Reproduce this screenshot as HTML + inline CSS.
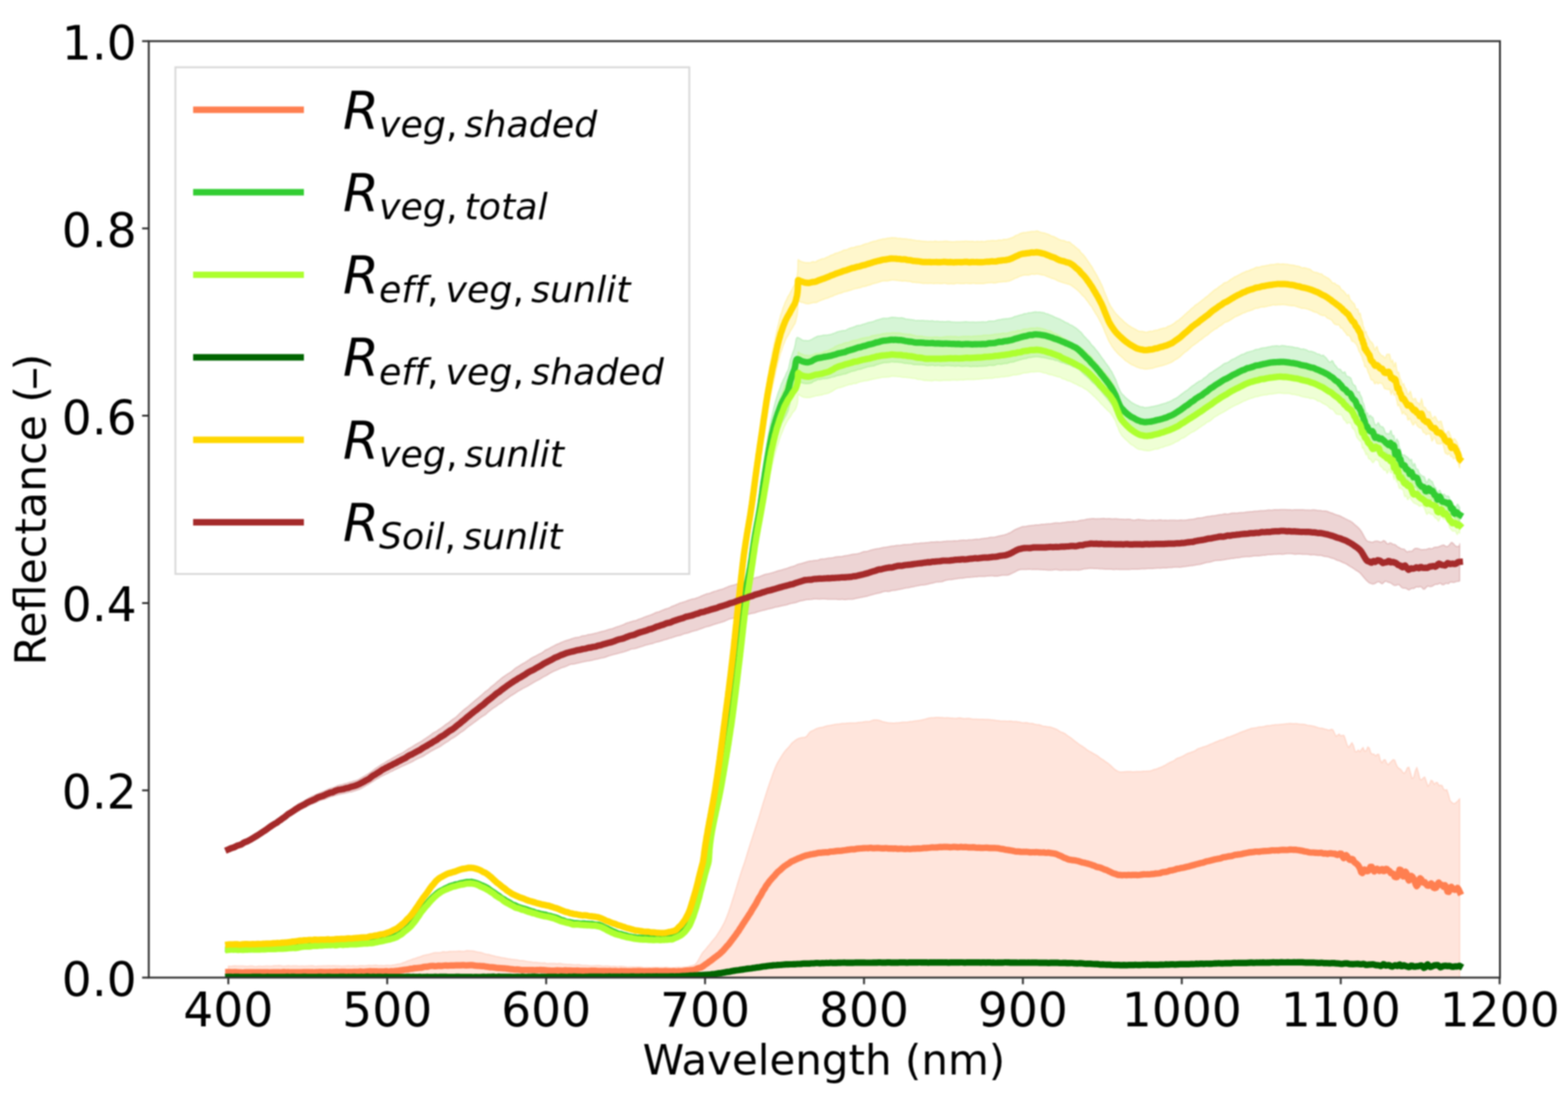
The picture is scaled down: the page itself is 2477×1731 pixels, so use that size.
<!DOCTYPE html>
<html><head><meta charset="utf-8"><title>Reflectance plot</title>
<style>html,body{margin:0;padding:0;background:#fff;} svg{display:block;filter:blur(1px);}</style>
</head><body>
<svg width="2477" height="1731" viewBox="0 0 2477 1731">
<rect x="0" y="0" width="2477" height="1731" fill="#ffffff"/>
<defs><clipPath id="ax"><rect x="235.0" y="65.0" width="2134.5" height="1479.0"/></clipPath></defs>
<g clip-path="url(#ax)">
<path d="M360.7,1525.8 363.2,1526.0 365.7,1525.9 368.2,1525.5 370.7,1525.2 373.2,1525.4 375.7,1525.6 378.2,1525.5 380.7,1525.4 383.2,1525.5 385.7,1525.7 388.2,1525.9 390.7,1525.9 393.2,1525.7 395.7,1525.4 398.2,1525.4 400.7,1526.0 403.2,1526.5 405.7,1526.2 408.2,1525.7 410.7,1525.8 413.2,1526.1 415.7,1525.9 418.2,1525.7 420.7,1525.6 423.2,1525.6 425.7,1525.7 428.2,1525.7 430.7,1525.4 433.2,1525.0 435.7,1525.0 438.2,1525.0 440.7,1524.8 443.2,1525.0 445.7,1525.4 448.2,1525.7 450.7,1525.8 453.2,1525.2 455.7,1525.1 458.2,1525.4 460.7,1525.4 463.2,1525.3 465.7,1525.2 468.2,1525.3 470.7,1525.6 473.2,1525.8 475.7,1525.6 478.2,1525.6 480.7,1525.7 483.2,1525.6 485.7,1525.4 488.2,1525.3 490.7,1525.2 493.2,1525.1 495.7,1525.4 498.2,1525.9 500.7,1525.8 503.2,1525.4 505.7,1525.4 508.2,1525.4 510.7,1525.2 513.2,1525.3 515.7,1525.3 518.2,1525.0 520.7,1525.1 523.2,1525.2 525.7,1524.9 528.2,1524.9 530.7,1525.2 533.2,1525.2 535.7,1525.3 538.2,1525.7 540.7,1525.7 543.2,1525.5 545.7,1525.4 548.2,1525.2 550.7,1525.1 553.2,1525.5 555.7,1525.4 558.2,1525.1 560.7,1525.5 563.2,1525.8 565.7,1525.4 568.2,1524.9 570.7,1524.9 573.2,1525.0 575.7,1525.2 578.2,1525.1 580.7,1524.8 583.2,1524.6 585.7,1524.8 588.2,1524.7 590.7,1524.4 593.2,1524.3 595.7,1524.6 598.2,1524.9 600.7,1524.8 603.2,1524.7 605.7,1524.9 608.2,1524.8 610.7,1524.5 613.2,1524.6 615.7,1524.8 618.2,1524.5 620.7,1524.0 623.2,1523.8 625.7,1523.3 628.2,1522.6 630.7,1522.5 633.2,1521.9 635.7,1520.8 638.2,1520.0 640.7,1519.1 643.2,1517.8 645.7,1516.9 648.2,1516.3 650.7,1515.3 653.2,1514.2 655.7,1513.6 658.2,1512.8 660.7,1511.8 663.2,1511.3 665.7,1510.3 668.2,1509.1 670.7,1508.5 673.2,1508.1 675.7,1507.6 678.2,1507.0 680.7,1506.2 683.2,1505.4 685.7,1504.8 688.2,1504.5 690.7,1504.4 693.2,1504.6 695.7,1504.4 698.2,1503.6 700.7,1503.1 703.2,1503.4 705.7,1503.5 708.2,1503.0 710.7,1502.6 713.2,1502.7 715.7,1502.5 718.2,1502.4 720.7,1502.5 723.2,1502.3 725.7,1502.1 728.2,1502.3 730.7,1502.5 733.2,1502.4 735.7,1501.7 738.2,1501.3 740.7,1501.4 743.2,1501.6 745.7,1501.7 748.2,1502.0 750.7,1502.6 753.2,1503.3 755.7,1503.7 758.2,1503.9 760.7,1504.4 763.2,1505.4 765.7,1506.4 768.2,1506.9 770.7,1507.2 773.2,1507.8 775.7,1508.5 778.2,1509.1 780.7,1509.7 783.2,1510.5 785.7,1510.9 788.2,1511.3 790.7,1512.1 793.2,1512.6 795.7,1512.7 798.2,1513.2 800.7,1513.8 803.2,1514.2 805.7,1514.5 808.2,1514.9 810.7,1515.2 813.2,1515.5 815.7,1515.7 818.2,1516.2 820.7,1516.9 823.2,1516.9 825.7,1517.0 828.2,1517.5 830.7,1518.0 833.2,1518.4 835.7,1518.7 838.2,1518.9 840.7,1519.5 843.2,1519.9 845.7,1519.7 848.2,1519.9 850.7,1520.3 853.2,1520.4 855.7,1520.7 858.2,1520.7 860.7,1520.6 863.2,1521.4 865.7,1521.8 868.2,1521.6 870.7,1521.4 873.2,1521.5 875.7,1521.6 878.2,1521.8 880.7,1522.0 883.2,1521.6 885.7,1521.5 888.2,1522.2 890.7,1522.6 893.2,1522.7 895.7,1522.9 898.2,1523.0 900.7,1523.1 903.2,1523.3 905.7,1523.6 908.2,1523.7 910.7,1523.6 913.2,1523.4 915.7,1523.6 918.2,1524.2 920.7,1524.5 923.2,1524.5 925.7,1524.4 928.2,1524.7 930.7,1525.1 933.2,1525.2 935.7,1525.2 938.2,1525.1 940.7,1524.9 943.2,1524.8 945.7,1524.8 948.2,1524.9 950.7,1525.5 953.2,1525.7 955.7,1525.6 958.2,1525.5 960.7,1525.6 963.2,1525.9 965.7,1526.3 968.2,1526.3 970.7,1526.0 973.2,1526.3 975.7,1526.5 978.2,1526.2 980.7,1526.0 983.2,1526.2 985.7,1526.4 988.2,1526.8 990.7,1527.2 993.2,1527.3 995.7,1527.1 998.2,1527.0 1000.7,1527.1 1003.2,1527.2 1005.7,1527.1 1008.2,1527.0 1010.7,1527.0 1013.2,1527.3 1015.7,1527.7 1018.2,1528.0 1020.7,1527.8 1023.2,1527.7 1025.7,1528.0 1028.2,1528.0 1030.7,1527.8 1033.2,1527.7 1035.7,1527.7 1038.2,1527.7 1040.7,1527.8 1043.2,1527.8 1045.7,1527.8 1048.2,1527.9 1050.7,1527.6 1053.2,1527.4 1055.7,1527.7 1058.2,1528.2 1060.7,1528.3 1063.2,1528.2 1065.7,1528.0 1068.2,1527.7 1070.7,1527.4 1073.2,1527.5 1075.7,1527.7 1078.2,1527.6 1080.7,1527.3 1083.2,1527.1 1085.7,1526.9 1088.2,1526.2 1090.7,1525.5 1093.2,1524.9 1095.7,1524.3 1098.2,1523.1 1100.7,1520.2 1103.2,1516.3 1105.7,1511.8 1108.2,1507.1 1110.7,1503.5 1113.2,1500.9 1115.7,1497.9 1118.2,1494.7 1120.7,1491.9 1123.2,1488.7 1125.7,1485.4 1128.2,1482.7 1130.7,1479.7 1133.2,1475.8 1135.7,1471.9 1138.2,1467.9 1140.7,1463.6 1143.2,1459.1 1145.7,1453.8 1148.2,1447.6 1150.7,1440.9 1153.2,1433.7 1155.7,1425.9 1158.2,1418.1 1160.7,1410.3 1163.2,1402.0 1165.7,1393.6 1168.2,1385.7 1170.7,1377.8 1173.2,1370.4 1175.7,1363.3 1178.2,1355.5 1180.7,1347.1 1183.2,1339.0 1185.7,1331.3 1188.2,1323.5 1190.7,1315.8 1193.2,1308.1 1195.7,1300.4 1198.2,1292.8 1200.7,1284.5 1203.2,1276.0 1205.7,1267.8 1208.2,1260.0 1210.7,1252.0 1213.2,1244.2 1215.7,1236.9 1218.2,1229.9 1220.7,1222.6 1223.2,1215.9 1225.7,1209.9 1228.2,1204.7 1230.7,1200.5 1233.2,1196.5 1235.7,1192.4 1238.2,1188.7 1240.7,1185.5 1243.2,1182.8 1245.7,1180.2 1248.2,1177.0 1250.7,1173.8 1253.2,1171.7 1255.7,1169.8 1258.2,1167.9 1260.7,1166.6 1263.2,1165.8 1265.7,1165.1 1268.2,1164.8 1270.7,1164.6 1273.2,1163.8 1275.7,1161.0 1278.2,1157.4 1280.7,1155.1 1283.2,1154.1 1285.7,1152.9 1288.2,1151.5 1290.7,1150.4 1293.2,1149.6 1295.7,1149.0 1298.2,1148.8 1300.7,1148.2 1303.2,1147.3 1305.7,1146.6 1308.2,1146.1 1310.7,1145.7 1313.2,1145.2 1315.7,1144.8 1318.2,1144.2 1320.7,1143.7 1323.2,1143.6 1325.7,1143.4 1328.2,1142.9 1330.7,1142.6 1333.2,1142.5 1335.7,1142.4 1338.2,1142.1 1340.7,1142.0 1343.2,1141.8 1345.7,1141.7 1348.2,1141.8 1350.7,1141.8 1353.2,1141.4 1355.7,1140.9 1358.2,1140.7 1360.7,1140.6 1363.2,1140.3 1365.7,1139.8 1368.2,1139.6 1370.7,1139.6 1373.2,1139.5 1375.7,1138.7 1378.2,1137.6 1380.7,1137.0 1383.2,1136.9 1385.7,1137.0 1388.2,1137.5 1390.7,1138.3 1393.2,1139.3 1395.7,1140.1 1398.2,1140.5 1400.7,1141.0 1403.2,1141.5 1405.7,1141.7 1408.2,1141.7 1410.7,1141.9 1413.2,1141.9 1415.7,1141.6 1418.2,1141.5 1420.7,1141.3 1423.2,1140.9 1425.7,1140.6 1428.2,1140.5 1430.7,1140.6 1433.2,1140.5 1435.7,1139.9 1438.2,1139.4 1440.7,1139.4 1443.2,1139.0 1445.7,1138.5 1448.2,1138.3 1450.7,1137.9 1453.2,1137.6 1455.7,1137.2 1458.2,1136.5 1460.7,1135.9 1463.2,1135.3 1465.7,1134.5 1468.2,1133.9 1470.7,1133.5 1473.2,1133.5 1475.7,1133.4 1478.2,1133.1 1480.7,1133.0 1483.2,1133.0 1485.7,1133.2 1488.2,1133.3 1490.7,1133.6 1493.2,1133.8 1495.7,1133.5 1498.2,1133.5 1500.7,1133.9 1503.2,1134.0 1505.7,1134.2 1508.2,1134.4 1510.7,1134.4 1513.2,1134.0 1515.7,1133.7 1518.2,1134.0 1520.7,1134.6 1523.2,1134.9 1525.7,1134.7 1528.2,1134.6 1530.7,1134.6 1533.2,1134.9 1535.7,1135.5 1538.2,1135.7 1540.7,1135.7 1543.2,1135.7 1545.7,1135.9 1548.2,1136.1 1550.7,1136.0 1553.2,1136.1 1555.7,1136.3 1558.2,1136.3 1560.7,1136.2 1563.2,1136.4 1565.7,1136.8 1568.2,1136.9 1570.7,1137.2 1573.2,1137.7 1575.7,1137.9 1578.2,1138.2 1580.7,1138.8 1583.2,1138.8 1585.7,1138.7 1588.2,1138.7 1590.7,1138.9 1593.2,1139.1 1595.7,1138.8 1598.2,1139.0 1600.7,1139.6 1603.2,1139.4 1605.7,1139.4 1608.2,1139.9 1610.7,1140.3 1613.2,1140.9 1615.7,1141.6 1618.2,1141.5 1620.7,1141.2 1623.2,1141.6 1625.7,1142.3 1628.2,1142.5 1630.7,1142.5 1633.2,1143.2 1635.7,1144.1 1638.2,1144.4 1640.7,1144.5 1643.2,1145.0 1645.7,1146.1 1648.2,1146.9 1650.7,1147.0 1653.2,1147.4 1655.7,1147.9 1658.2,1148.0 1660.7,1148.6 1663.2,1149.6 1665.7,1150.5 1668.2,1151.4 1670.7,1152.7 1673.2,1154.4 1675.7,1155.9 1678.2,1156.8 1680.7,1157.7 1683.2,1159.3 1685.7,1161.2 1688.2,1163.0 1690.7,1164.5 1693.2,1166.5 1695.7,1168.5 1698.2,1170.5 1700.7,1172.4 1703.2,1174.3 1705.7,1176.2 1708.2,1177.7 1710.7,1179.2 1713.2,1181.0 1715.7,1183.0 1718.2,1184.8 1720.7,1186.4 1723.2,1187.6 1725.7,1189.1 1728.2,1190.6 1730.7,1191.9 1733.2,1193.3 1735.7,1195.3 1738.2,1197.3 1740.7,1198.8 1743.2,1200.4 1745.7,1202.4 1748.2,1204.1 1750.7,1205.7 1753.2,1207.7 1755.7,1210.0 1758.2,1212.5 1760.7,1214.8 1763.2,1216.6 1765.7,1217.9 1768.2,1218.9 1770.7,1219.3 1773.2,1219.2 1775.7,1219.0 1778.2,1218.8 1780.7,1218.6 1783.2,1218.5 1785.7,1218.5 1788.2,1218.8 1790.7,1218.9 1793.2,1218.7 1795.7,1218.6 1798.2,1218.6 1800.7,1218.6 1803.2,1218.4 1805.7,1218.1 1808.2,1218.1 1810.7,1217.9 1813.2,1217.8 1815.7,1217.8 1818.2,1217.3 1820.7,1216.2 1823.2,1215.2 1825.7,1214.7 1828.2,1214.0 1830.7,1212.8 1833.2,1212.0 1835.7,1210.9 1838.2,1209.6 1840.7,1208.5 1843.2,1206.9 1845.7,1205.4 1848.2,1204.1 1850.7,1202.9 1853.2,1202.0 1855.7,1200.5 1858.2,1198.3 1860.7,1197.1 1863.2,1196.5 1865.7,1195.4 1868.2,1194.3 1870.7,1193.0 1873.2,1191.4 1875.7,1190.1 1878.2,1189.3 1880.7,1188.5 1883.2,1187.5 1885.7,1186.6 1888.2,1185.4 1890.7,1183.6 1893.2,1182.2 1895.7,1181.4 1898.2,1180.6 1900.7,1179.7 1903.2,1178.9 1905.7,1178.2 1908.2,1177.2 1910.7,1176.0 1913.2,1174.9 1915.7,1173.9 1918.2,1172.8 1920.7,1171.8 1923.2,1170.8 1925.7,1169.6 1928.2,1168.8 1930.7,1168.2 1933.2,1167.5 1935.7,1166.2 1938.2,1164.8 1940.7,1164.1 1943.2,1163.4 1945.7,1162.5 1948.2,1161.5 1950.7,1160.5 1953.2,1159.5 1955.7,1158.4 1958.2,1157.2 1960.7,1156.2 1963.2,1155.3 1965.7,1154.5 1968.2,1153.5 1970.7,1152.5 1973.2,1151.7 1975.7,1150.8 1978.2,1149.9 1980.7,1149.8 1983.2,1149.6 1985.7,1148.9 1988.2,1148.3 1990.7,1148.1 1993.2,1147.9 1995.7,1147.5 1998.2,1147.0 2000.7,1146.3 2003.2,1146.1 2005.7,1146.1 2008.2,1145.4 2010.7,1144.9 2013.2,1144.8 2015.7,1144.6 2018.2,1144.4 2020.7,1144.2 2023.2,1144.0 2025.7,1143.8 2028.2,1143.6 2030.7,1143.3 2033.2,1143.0 2035.7,1142.7 2038.2,1142.6 2040.7,1142.8 2043.2,1143.0 2045.7,1142.8 2048.2,1142.7 2050.7,1143.2 2053.2,1143.6 2055.7,1143.7 2058.2,1143.7 2060.7,1143.9 2063.2,1144.7 2065.7,1145.4 2068.2,1145.7 2070.7,1146.0 2073.2,1146.4 2075.7,1147.0 2078.2,1147.8 2080.7,1148.6 2083.2,1149.4 2085.7,1150.0 2088.2,1150.0 2090.7,1150.7 2093.2,1151.6 2095.7,1151.9 2098.2,1153.1 2100.7,1153.0 2103.2,1151.7 2105.7,1152.7 2108.2,1157.9 2110.7,1163.1 2113.2,1160.9 2115.7,1159.3 2118.2,1162.4 2120.7,1161.2 2123.2,1161.4 2125.7,1168.6 2128.2,1176.7 2130.7,1180.4 2133.2,1176.6 2135.7,1172.8 2138.2,1177.8 2140.7,1186.7 2143.2,1187.2 2145.7,1184.4 2148.2,1187.3 2150.7,1183.6 2153.2,1180.4 2155.7,1186.5 2158.2,1185.8 2160.7,1179.6 2163.2,1181.6 2165.7,1189.4 2168.2,1191.1 2170.7,1191.1 2173.2,1194.2 2175.7,1191.3 2178.2,1191.3 2180.7,1200.9 2183.2,1204.7 2185.7,1200.3 2188.2,1199.7 2190.7,1205.5 2193.2,1207.9 2195.7,1204.4 2198.2,1202.2 2200.7,1199.6 2203.2,1200.4 2205.7,1207.3 2208.2,1212.1 2210.7,1213.8 2213.2,1215.6 2215.7,1219.2 2218.2,1221.4 2220.7,1218.5 2223.2,1212.5 2225.7,1211.6 2228.2,1220.2 2230.7,1229.5 2233.2,1227.7 2235.7,1217.7 2238.2,1211.9 2240.7,1220.2 2243.2,1230.7 2245.7,1231.6 2248.2,1228.7 2250.7,1227.0 2253.2,1234.1 2255.7,1241.8 2258.2,1238.7 2260.7,1232.2 2263.2,1233.8 2265.7,1238.9 2268.2,1235.9 2270.7,1235.7 2273.2,1240.7 2275.7,1240.0 2278.2,1240.7 2280.7,1246.7 2283.2,1248.0 2285.7,1247.3 2288.2,1255.1 2290.7,1264.2 2293.2,1267.1 2295.7,1269.0 2298.2,1269.1 2300.7,1267.0 2303.2,1264.7 2305.7,1261.5 2306.0,1261.4 L2306.0,1550.0 2305.7,1550.0 2303.2,1550.0 2300.7,1550.0 2298.2,1550.0 2295.7,1550.0 2293.2,1550.0 2290.7,1550.0 2288.2,1550.0 2285.7,1550.0 2283.2,1550.0 2280.7,1550.0 2278.2,1550.0 2275.7,1550.0 2273.2,1550.0 2270.7,1550.0 2268.2,1550.0 2265.7,1550.0 2263.2,1550.0 2260.7,1550.0 2258.2,1550.0 2255.7,1550.0 2253.2,1550.0 2250.7,1550.0 2248.2,1550.0 2245.7,1550.0 2243.2,1550.0 2240.7,1550.0 2238.2,1550.0 2235.7,1550.0 2233.2,1550.0 2230.7,1550.0 2228.2,1550.0 2225.7,1550.0 2223.2,1550.0 2220.7,1550.0 2218.2,1550.0 2215.7,1550.0 2213.2,1550.0 2210.7,1550.0 2208.2,1550.0 2205.7,1550.0 2203.2,1550.0 2200.7,1550.0 2198.2,1550.0 2195.7,1550.0 2193.2,1550.0 2190.7,1550.0 2188.2,1550.0 2185.7,1550.0 2183.2,1550.0 2180.7,1550.0 2178.2,1550.0 2175.7,1550.0 2173.2,1550.0 2170.7,1550.0 2168.2,1550.0 2165.7,1550.0 2163.2,1550.0 2160.7,1550.0 2158.2,1550.0 2155.7,1550.0 2153.2,1550.0 2150.7,1550.0 2148.2,1550.0 2145.7,1550.0 2143.2,1550.0 2140.7,1550.0 2138.2,1550.0 2135.7,1550.0 2133.2,1550.0 2130.7,1550.0 2128.2,1550.0 2125.7,1550.0 2123.2,1550.0 2120.7,1550.0 2118.2,1550.0 2115.7,1550.0 2113.2,1550.0 2110.7,1550.0 2108.2,1550.0 2105.7,1550.0 2103.2,1550.0 2100.7,1550.0 2098.2,1550.0 2095.7,1550.0 2093.2,1550.0 2090.7,1550.0 2088.2,1550.0 2085.7,1550.0 2083.2,1550.0 2080.7,1550.0 2078.2,1550.0 2075.7,1550.0 2073.2,1550.0 2070.7,1550.0 2068.2,1550.0 2065.7,1550.0 2063.2,1550.0 2060.7,1550.0 2058.2,1550.0 2055.7,1550.0 2053.2,1550.0 2050.7,1550.0 2048.2,1550.0 2045.7,1550.0 2043.2,1550.0 2040.7,1550.0 2038.2,1550.0 2035.7,1550.0 2033.2,1550.0 2030.7,1550.0 2028.2,1550.0 2025.7,1550.0 2023.2,1550.0 2020.7,1550.0 2018.2,1550.0 2015.7,1550.0 2013.2,1550.0 2010.7,1550.0 2008.2,1550.0 2005.7,1550.0 2003.2,1550.0 2000.7,1550.0 1998.2,1550.0 1995.7,1550.0 1993.2,1550.0 1990.7,1550.0 1988.2,1550.0 1985.7,1550.0 1983.2,1550.0 1980.7,1550.0 1978.2,1550.0 1975.7,1550.0 1973.2,1550.0 1970.7,1550.0 1968.2,1550.0 1965.7,1550.0 1963.2,1550.0 1960.7,1550.0 1958.2,1550.0 1955.7,1550.0 1953.2,1550.0 1950.7,1550.0 1948.2,1550.0 1945.7,1550.0 1943.2,1550.0 1940.7,1550.0 1938.2,1550.0 1935.7,1550.0 1933.2,1550.0 1930.7,1550.0 1928.2,1550.0 1925.7,1550.0 1923.2,1550.0 1920.7,1550.0 1918.2,1550.0 1915.7,1550.0 1913.2,1550.0 1910.7,1550.0 1908.2,1550.0 1905.7,1550.0 1903.2,1550.0 1900.7,1550.0 1898.2,1550.0 1895.7,1550.0 1893.2,1550.0 1890.7,1550.0 1888.2,1550.0 1885.7,1550.0 1883.2,1550.0 1880.7,1550.0 1878.2,1550.0 1875.7,1550.0 1873.2,1550.0 1870.7,1550.0 1868.2,1550.0 1865.7,1550.0 1863.2,1550.0 1860.7,1550.0 1858.2,1550.0 1855.7,1550.0 1853.2,1550.0 1850.7,1550.0 1848.2,1550.0 1845.7,1550.0 1843.2,1550.0 1840.7,1550.0 1838.2,1550.0 1835.7,1550.0 1833.2,1550.0 1830.7,1550.0 1828.2,1550.0 1825.7,1550.0 1823.2,1550.0 1820.7,1550.0 1818.2,1550.0 1815.7,1550.0 1813.2,1550.0 1810.7,1550.0 1808.2,1550.0 1805.7,1550.0 1803.2,1550.0 1800.7,1550.0 1798.2,1550.0 1795.7,1550.0 1793.2,1550.0 1790.7,1550.0 1788.2,1550.0 1785.7,1550.0 1783.2,1550.0 1780.7,1550.0 1778.2,1550.0 1775.7,1550.0 1773.2,1550.0 1770.7,1550.0 1768.2,1550.0 1765.7,1550.0 1763.2,1550.0 1760.7,1550.0 1758.2,1550.0 1755.7,1550.0 1753.2,1550.0 1750.7,1550.0 1748.2,1550.0 1745.7,1550.0 1743.2,1550.0 1740.7,1550.0 1738.2,1550.0 1735.7,1550.0 1733.2,1550.0 1730.7,1550.0 1728.2,1550.0 1725.7,1550.0 1723.2,1550.0 1720.7,1550.0 1718.2,1550.0 1715.7,1550.0 1713.2,1550.0 1710.7,1550.0 1708.2,1550.0 1705.7,1550.0 1703.2,1550.0 1700.7,1550.0 1698.2,1550.0 1695.7,1550.0 1693.2,1550.0 1690.7,1550.0 1688.2,1550.0 1685.7,1550.0 1683.2,1550.0 1680.7,1550.0 1678.2,1550.0 1675.7,1550.0 1673.2,1550.0 1670.7,1550.0 1668.2,1550.0 1665.7,1550.0 1663.2,1550.0 1660.7,1550.0 1658.2,1550.0 1655.7,1550.0 1653.2,1550.0 1650.7,1550.0 1648.2,1550.0 1645.7,1550.0 1643.2,1550.0 1640.7,1550.0 1638.2,1550.0 1635.7,1550.0 1633.2,1550.0 1630.7,1550.0 1628.2,1550.0 1625.7,1550.0 1623.2,1550.0 1620.7,1550.0 1618.2,1550.0 1615.7,1550.0 1613.2,1550.0 1610.7,1550.0 1608.2,1550.0 1605.7,1550.0 1603.2,1550.0 1600.7,1550.0 1598.2,1550.0 1595.7,1550.0 1593.2,1550.0 1590.7,1550.0 1588.2,1550.0 1585.7,1550.0 1583.2,1550.0 1580.7,1550.0 1578.2,1550.0 1575.7,1550.0 1573.2,1550.0 1570.7,1550.0 1568.2,1550.0 1565.7,1550.0 1563.2,1550.0 1560.7,1550.0 1558.2,1550.0 1555.7,1550.0 1553.2,1550.0 1550.7,1550.0 1548.2,1550.0 1545.7,1550.0 1543.2,1550.0 1540.7,1550.0 1538.2,1550.0 1535.7,1550.0 1533.2,1550.0 1530.7,1550.0 1528.2,1550.0 1525.7,1550.0 1523.2,1550.0 1520.7,1550.0 1518.2,1550.0 1515.7,1550.0 1513.2,1550.0 1510.7,1550.0 1508.2,1550.0 1505.7,1550.0 1503.2,1550.0 1500.7,1550.0 1498.2,1550.0 1495.7,1550.0 1493.2,1550.0 1490.7,1550.0 1488.2,1550.0 1485.7,1550.0 1483.2,1550.0 1480.7,1550.0 1478.2,1550.0 1475.7,1550.0 1473.2,1550.0 1470.7,1550.0 1468.2,1550.0 1465.7,1550.0 1463.2,1550.0 1460.7,1550.0 1458.2,1550.0 1455.7,1550.0 1453.2,1550.0 1450.7,1550.0 1448.2,1550.0 1445.7,1550.0 1443.2,1550.0 1440.7,1550.0 1438.2,1550.0 1435.7,1550.0 1433.2,1550.0 1430.7,1550.0 1428.2,1550.0 1425.7,1550.0 1423.2,1550.0 1420.7,1550.0 1418.2,1550.0 1415.7,1550.0 1413.2,1550.0 1410.7,1550.0 1408.2,1550.0 1405.7,1550.0 1403.2,1550.0 1400.7,1550.0 1398.2,1550.0 1395.7,1550.0 1393.2,1550.0 1390.7,1550.0 1388.2,1550.0 1385.7,1550.0 1383.2,1550.0 1380.7,1550.0 1378.2,1550.0 1375.7,1550.0 1373.2,1550.0 1370.7,1550.0 1368.2,1550.0 1365.7,1550.0 1363.2,1550.0 1360.7,1550.0 1358.2,1550.0 1355.7,1550.0 1353.2,1550.0 1350.7,1550.0 1348.2,1550.0 1345.7,1550.0 1343.2,1550.0 1340.7,1550.0 1338.2,1550.0 1335.7,1550.0 1333.2,1550.0 1330.7,1550.0 1328.2,1550.0 1325.7,1550.0 1323.2,1550.0 1320.7,1550.0 1318.2,1550.0 1315.7,1550.0 1313.2,1550.0 1310.7,1550.0 1308.2,1550.0 1305.7,1550.0 1303.2,1550.0 1300.7,1550.0 1298.2,1550.0 1295.7,1550.0 1293.2,1550.0 1290.7,1550.0 1288.2,1550.0 1285.7,1550.0 1283.2,1550.0 1280.7,1550.0 1278.2,1550.0 1275.7,1550.0 1273.2,1550.0 1270.7,1550.0 1268.2,1550.0 1265.7,1550.0 1263.2,1550.0 1260.7,1550.0 1258.2,1550.0 1255.7,1550.0 1253.2,1550.0 1250.7,1550.0 1248.2,1550.0 1245.7,1550.0 1243.2,1550.0 1240.7,1550.0 1238.2,1550.0 1235.7,1550.0 1233.2,1550.0 1230.7,1550.0 1228.2,1550.0 1225.7,1550.0 1223.2,1550.0 1220.7,1550.0 1218.2,1550.0 1215.7,1550.0 1213.2,1550.0 1210.7,1550.0 1208.2,1550.0 1205.7,1550.0 1203.2,1550.0 1200.7,1550.0 1198.2,1550.0 1195.7,1550.0 1193.2,1550.0 1190.7,1550.0 1188.2,1550.0 1185.7,1550.0 1183.2,1550.0 1180.7,1550.0 1178.2,1550.0 1175.7,1550.0 1173.2,1550.0 1170.7,1550.0 1168.2,1550.0 1165.7,1550.0 1163.2,1550.0 1160.7,1550.0 1158.2,1550.0 1155.7,1550.0 1153.2,1550.0 1150.7,1550.0 1148.2,1550.0 1145.7,1550.0 1143.2,1550.0 1140.7,1550.0 1138.2,1550.0 1135.7,1550.0 1133.2,1550.0 1130.7,1550.0 1128.2,1550.0 1125.7,1550.0 1123.2,1550.0 1120.7,1550.0 1118.2,1550.0 1115.7,1550.0 1113.2,1550.0 1110.7,1550.0 1108.2,1550.0 1105.7,1550.0 1103.2,1550.0 1100.7,1550.0 1098.2,1550.0 1095.7,1550.0 1093.2,1550.0 1090.7,1550.0 1088.2,1550.0 1085.7,1550.0 1083.2,1550.0 1080.7,1550.0 1078.2,1550.0 1075.7,1550.0 1073.2,1550.0 1070.7,1550.0 1068.2,1550.0 1065.7,1550.0 1063.2,1550.0 1060.7,1550.0 1058.2,1550.0 1055.7,1550.0 1053.2,1550.0 1050.7,1550.0 1048.2,1550.0 1045.7,1550.0 1043.2,1550.0 1040.7,1550.0 1038.2,1550.0 1035.7,1550.0 1033.2,1550.0 1030.7,1550.0 1028.2,1550.0 1025.7,1550.0 1023.2,1550.0 1020.7,1550.0 1018.2,1550.0 1015.7,1550.0 1013.2,1550.0 1010.7,1550.0 1008.2,1550.0 1005.7,1550.0 1003.2,1550.0 1000.7,1550.0 998.2,1550.0 995.7,1550.0 993.2,1550.0 990.7,1550.0 988.2,1550.0 985.7,1550.0 983.2,1550.0 980.7,1550.0 978.2,1550.0 975.7,1550.0 973.2,1550.0 970.7,1550.0 968.2,1550.0 965.7,1550.0 963.2,1550.0 960.7,1550.0 958.2,1550.0 955.7,1550.0 953.2,1550.0 950.7,1550.0 948.2,1550.0 945.7,1550.0 943.2,1550.0 940.7,1550.0 938.2,1550.0 935.7,1550.0 933.2,1550.0 930.7,1550.0 928.2,1550.0 925.7,1550.0 923.2,1550.0 920.7,1550.0 918.2,1550.0 915.7,1550.0 913.2,1550.0 910.7,1550.0 908.2,1550.0 905.7,1550.0 903.2,1550.0 900.7,1550.0 898.2,1550.0 895.7,1550.0 893.2,1550.0 890.7,1550.0 888.2,1550.0 885.7,1550.0 883.2,1550.0 880.7,1550.0 878.2,1550.0 875.7,1550.0 873.2,1550.0 870.7,1550.0 868.2,1550.0 865.7,1550.0 863.2,1550.0 860.7,1550.0 858.2,1550.0 855.7,1550.0 853.2,1550.0 850.7,1550.0 848.2,1550.0 845.7,1550.0 843.2,1550.0 840.7,1550.0 838.2,1550.0 835.7,1550.0 833.2,1550.0 830.7,1550.0 828.2,1550.0 825.7,1550.0 823.2,1550.0 820.7,1550.0 818.2,1550.0 815.7,1550.0 813.2,1550.0 810.7,1550.0 808.2,1550.0 805.7,1550.0 803.2,1550.0 800.7,1550.0 798.2,1550.0 795.7,1550.0 793.2,1550.0 790.7,1550.0 788.2,1550.0 785.7,1550.0 783.2,1550.0 780.7,1550.0 778.2,1550.0 775.7,1550.0 773.2,1550.0 770.7,1550.0 768.2,1550.0 765.7,1550.0 763.2,1550.0 760.7,1550.0 758.2,1550.0 755.7,1550.0 753.2,1550.0 750.7,1550.0 748.2,1550.0 745.7,1550.0 743.2,1550.0 740.7,1550.0 738.2,1550.0 735.7,1550.0 733.2,1550.0 730.7,1550.0 728.2,1550.0 725.7,1550.0 723.2,1550.0 720.7,1550.0 718.2,1550.0 715.7,1550.0 713.2,1550.0 710.7,1550.0 708.2,1550.0 705.7,1550.0 703.2,1550.0 700.7,1550.0 698.2,1550.0 695.7,1550.0 693.2,1550.0 690.7,1550.0 688.2,1550.0 685.7,1550.0 683.2,1550.0 680.7,1550.0 678.2,1550.0 675.7,1550.0 673.2,1550.0 670.7,1550.0 668.2,1550.0 665.7,1550.0 663.2,1550.0 660.7,1550.0 658.2,1550.0 655.7,1550.0 653.2,1550.0 650.7,1550.0 648.2,1550.0 645.7,1550.0 643.2,1550.0 640.7,1550.0 638.2,1550.0 635.7,1550.0 633.2,1550.0 630.7,1550.0 628.2,1550.0 625.7,1550.0 623.2,1550.0 620.7,1550.0 618.2,1550.0 615.7,1550.0 613.2,1550.0 610.7,1550.0 608.2,1550.0 605.7,1550.0 603.2,1550.0 600.7,1550.0 598.2,1550.0 595.7,1550.0 593.2,1550.0 590.7,1550.0 588.2,1550.0 585.7,1550.0 583.2,1550.0 580.7,1550.0 578.2,1550.0 575.7,1550.0 573.2,1550.0 570.7,1550.0 568.2,1550.0 565.7,1550.0 563.2,1550.0 560.7,1550.0 558.2,1550.0 555.7,1550.0 553.2,1550.0 550.7,1550.0 548.2,1550.0 545.7,1550.0 543.2,1550.0 540.7,1550.0 538.2,1550.0 535.7,1550.0 533.2,1550.0 530.7,1550.0 528.2,1550.0 525.7,1550.0 523.2,1550.0 520.7,1550.0 518.2,1550.0 515.7,1550.0 513.2,1550.0 510.7,1550.0 508.2,1550.0 505.7,1550.0 503.2,1550.0 500.7,1550.0 498.2,1550.0 495.7,1550.0 493.2,1550.0 490.7,1550.0 488.2,1550.0 485.7,1550.0 483.2,1550.0 480.7,1550.0 478.2,1550.0 475.7,1550.0 473.2,1550.0 470.7,1550.0 468.2,1550.0 465.7,1550.0 463.2,1550.0 460.7,1550.0 458.2,1550.0 455.7,1550.0 453.2,1550.0 450.7,1550.0 448.2,1550.0 445.7,1550.0 443.2,1550.0 440.7,1550.0 438.2,1550.0 435.7,1550.0 433.2,1550.0 430.7,1550.0 428.2,1550.0 425.7,1550.0 423.2,1550.0 420.7,1550.0 418.2,1550.0 415.7,1550.0 413.2,1550.0 410.7,1550.0 408.2,1550.0 405.7,1550.0 403.2,1550.0 400.7,1550.0 398.2,1550.0 395.7,1550.0 393.2,1550.0 390.7,1550.0 388.2,1550.0 385.7,1550.0 383.2,1550.0 380.7,1550.0 378.2,1550.0 375.7,1550.0 373.2,1550.0 370.7,1550.0 368.2,1550.0 365.7,1550.0 363.2,1550.0 360.7,1550.0Z" fill="#ff7f50" fill-opacity="0.2" stroke="#ff7f50" stroke-opacity="0.2" stroke-width="2.0" stroke-linejoin="round"/>
<path d="M360.7,1498.3 362.7,1497.9 364.7,1497.9 366.7,1498.3 368.7,1498.7 370.7,1498.6 372.7,1498.2 374.7,1498.3 376.7,1498.4 378.7,1498.1 380.7,1498.3 382.7,1498.6 384.7,1498.7 386.7,1498.6 388.7,1498.4 390.7,1498.4 392.7,1498.9 394.7,1499.2 396.7,1499.2 398.7,1498.8 400.7,1498.3 402.7,1497.7 404.7,1497.8 406.7,1498.3 408.7,1498.4 410.7,1498.2 412.7,1498.0 414.7,1498.2 416.7,1498.2 418.7,1497.8 420.7,1497.6 422.7,1497.6 424.7,1497.6 426.7,1497.8 428.7,1497.9 430.7,1497.8 432.7,1497.6 434.7,1497.3 436.7,1497.1 438.7,1497.0 440.7,1497.0 442.7,1496.9 444.7,1497.0 446.7,1497.4 448.7,1497.5 450.7,1497.4 452.7,1497.2 454.7,1496.7 456.7,1496.2 458.6,1496.4 460.6,1496.7 462.6,1496.1 464.6,1495.2 466.6,1495.1 468.6,1495.1 470.6,1494.7 472.6,1494.6 474.6,1494.6 476.6,1494.4 478.6,1493.7 480.5,1493.3 482.5,1493.4 484.5,1493.5 486.5,1493.3 488.5,1492.8 490.5,1492.8 492.5,1492.9 494.5,1492.6 496.5,1492.5 498.5,1492.7 500.5,1492.9 502.5,1493.0 504.5,1492.9 506.5,1492.6 508.5,1492.4 510.5,1492.0 512.5,1491.9 514.5,1492.2 516.5,1492.0 518.5,1491.6 520.5,1491.5 522.5,1491.8 524.5,1491.6 526.5,1491.0 528.5,1491.1 530.5,1491.3 532.5,1491.2 534.5,1491.2 536.5,1490.8 538.5,1489.9 540.5,1489.8 542.5,1490.4 544.5,1490.4 546.5,1490.2 548.5,1490.3 550.5,1490.2 552.5,1490.0 554.5,1489.8 556.5,1490.0 558.5,1490.2 560.5,1490.0 562.5,1489.6 564.5,1489.3 566.5,1489.0 568.5,1488.9 570.5,1489.1 572.5,1489.1 574.5,1488.9 576.4,1488.7 578.4,1488.1 580.4,1487.8 582.4,1488.0 584.4,1488.4 586.3,1488.5 588.3,1488.0 590.3,1487.6 592.3,1487.2 594.2,1486.7 596.2,1486.2 598.1,1485.6 600.1,1484.8 602.1,1484.1 604.0,1483.7 606.0,1483.5 608.0,1483.4 610.0,1482.9 612.0,1482.1 613.9,1481.7 615.9,1481.2 617.8,1480.7 619.7,1480.7 621.5,1479.8 623.3,1478.3 625.1,1477.4 626.8,1477.1 628.6,1476.4 630.3,1475.3 632.0,1474.0 633.7,1472.9 635.4,1472.0 637.0,1471.1 638.6,1470.4 640.2,1469.1 641.8,1467.1 643.3,1465.1 644.8,1463.9 646.2,1462.6 647.6,1461.2 649.0,1460.0 650.3,1458.4 651.6,1456.6 652.9,1455.2 654.1,1453.8 655.3,1451.8 656.5,1450.2 657.6,1448.5 658.8,1446.9 660.0,1445.4 661.1,1443.5 662.3,1441.8 663.4,1440.3 664.6,1438.6 665.8,1436.9 667.0,1435.1 668.3,1433.4 669.5,1432.0 670.8,1430.9 672.1,1429.2 673.5,1427.3 674.8,1425.9 676.1,1424.6 677.4,1422.7 678.8,1421.0 680.2,1419.7 681.5,1418.2 682.9,1416.6 684.3,1415.6 685.8,1414.1 687.2,1412.6 688.7,1411.3 690.2,1410.1 691.8,1409.2 693.3,1408.4 694.9,1406.9 696.6,1405.3 698.3,1404.8 700.0,1404.2 701.8,1403.0 703.7,1402.2 705.5,1401.2 707.4,1400.1 709.3,1399.1 711.2,1398.1 713.1,1397.2 715.0,1397.0 716.9,1397.0 718.8,1396.6 720.7,1396.0 722.7,1395.8 724.6,1395.5 726.6,1394.6 728.6,1393.9 730.6,1393.4 732.6,1392.8 734.6,1392.0 736.5,1391.5 738.5,1391.5 740.5,1391.8 742.4,1392.1 744.4,1391.6 746.3,1391.7 748.3,1392.2 750.2,1392.7 752.1,1393.7 754.1,1394.9 756.0,1395.6 757.9,1396.2 759.7,1396.7 761.6,1397.3 763.4,1398.0 765.2,1398.6 767.0,1399.4 768.7,1400.6 770.4,1401.5 772.1,1402.5 773.7,1404.1 775.4,1405.5 777.0,1406.5 778.7,1407.5 780.3,1408.4 781.9,1409.5 783.6,1411.1 785.2,1412.4 786.9,1413.3 788.6,1414.4 790.3,1415.7 792.0,1416.9 793.7,1417.9 795.3,1419.0 797.0,1420.2 798.7,1421.5 800.4,1422.7 802.1,1423.6 803.9,1424.3 805.6,1425.0 807.3,1426.0 809.1,1427.4 810.9,1428.2 812.7,1428.5 814.5,1429.3 816.3,1430.1 818.2,1430.8 820.0,1431.7 821.9,1432.6 823.8,1433.4 825.7,1434.2 827.6,1434.5 829.5,1434.9 831.4,1435.8 833.4,1436.6 835.3,1437.1 837.2,1437.6 839.2,1438.2 841.1,1438.9 843.0,1439.7 844.9,1440.7 846.9,1441.2 848.8,1441.3 850.7,1441.6 852.7,1442.2 854.6,1442.6 856.5,1443.2 858.5,1443.6 860.4,1443.6 862.4,1443.9 864.3,1444.7 866.3,1445.3 868.2,1445.8 870.2,1446.3 872.1,1447.1 874.0,1447.8 875.9,1448.0 877.8,1448.3 879.7,1448.8 881.6,1449.6 883.5,1450.7 885.4,1451.6 887.3,1452.1 889.3,1452.5 891.2,1453.3 893.1,1454.4 895.0,1455.3 896.9,1455.5 898.8,1455.7 900.8,1456.1 902.7,1456.6 904.6,1457.0 906.6,1457.4 908.6,1457.7 910.5,1457.2 912.5,1457.1 914.5,1457.6 916.6,1457.8 918.6,1457.7 920.6,1457.6 922.6,1458.1 924.6,1458.2 926.7,1457.9 928.7,1457.7 930.7,1458.0 932.7,1458.6 934.7,1458.8 936.6,1459.0 938.6,1459.6 940.5,1459.9 942.5,1459.9 944.4,1460.0 946.3,1460.1 948.1,1460.5 950.0,1461.2 951.8,1462.4 953.7,1463.4 955.5,1463.9 957.3,1464.5 959.2,1465.4 961.0,1466.8 962.8,1467.9 964.7,1468.6 966.5,1469.6 968.3,1470.4 970.2,1470.9 972.1,1471.9 973.9,1472.9 975.8,1473.7 977.7,1474.3 979.7,1474.6 981.6,1474.9 983.5,1475.6 985.5,1476.1 987.4,1476.5 989.4,1477.1 991.3,1477.7 993.3,1478.1 995.3,1478.7 997.3,1479.4 999.2,1479.7 1001.2,1479.7 1003.2,1480.2 1005.2,1480.8 1007.2,1480.8 1009.1,1480.3 1011.1,1480.3 1013.1,1480.7 1015.1,1480.9 1017.1,1480.7 1019.1,1480.7 1021.1,1481.0 1023.1,1480.8 1025.1,1481.0 1027.1,1481.4 1029.1,1481.1 1031.1,1480.2 1033.1,1479.7 1035.1,1479.8 1037.1,1479.9 1039.1,1479.9 1041.1,1480.0 1043.1,1480.2 1045.1,1480.0 1047.1,1479.8 1049.1,1480.0 1051.1,1479.4 1053.1,1479.3 1055.1,1479.8 1057.1,1480.0 1059.1,1479.5 1061.0,1478.6 1063.0,1478.0 1064.9,1477.7 1066.8,1477.2 1068.6,1476.5 1070.4,1475.6 1072.2,1474.3 1074.0,1473.0 1075.7,1471.8 1077.3,1470.8 1078.9,1469.7 1080.4,1468.7 1081.7,1467.6 1083.0,1465.8 1084.3,1464.0 1085.5,1462.4 1086.7,1460.8 1087.8,1458.8 1088.8,1456.8 1089.7,1455.2 1090.6,1453.5 1091.5,1451.9 1092.3,1450.2 1093.0,1448.2 1093.7,1446.3 1094.4,1444.4 1095.1,1442.2 1095.8,1440.3 1096.5,1438.5 1097.1,1436.5 1097.7,1434.3 1098.4,1432.2 1099.0,1430.5 1099.5,1428.6 1100.1,1426.5 1100.7,1424.6 1101.3,1422.6 1101.8,1420.9 1102.3,1419.3 1102.9,1417.1 1103.4,1414.7 1104.0,1412.3 1104.5,1410.1 1105.0,1408.7 1105.5,1406.7 1106.0,1404.6 1106.5,1403.0 1107.0,1401.2 1107.5,1398.9 1107.9,1396.9 1108.4,1395.0 1108.9,1393.0 1109.4,1390.8 1109.8,1388.6 1110.3,1386.6 1110.8,1385.1 1111.3,1383.4 1111.8,1381.1 1112.3,1378.8 1112.7,1376.6 1113.1,1374.4 1113.5,1372.6 1113.9,1370.9 1114.2,1368.9 1114.5,1366.8 1114.8,1364.5 1115.0,1362.6 1115.2,1360.9 1115.4,1358.9 1115.6,1356.5 1115.8,1354.3 1115.9,1352.6 1116.1,1350.8 1116.3,1348.3 1116.4,1346.1 1116.6,1344.3 1116.8,1342.4 1117.0,1340.7 1117.2,1338.5 1117.4,1335.9 1117.6,1333.9 1117.9,1332.4 1118.1,1330.7 1118.4,1328.3 1118.7,1325.9 1119.0,1323.7 1119.2,1321.8 1119.6,1320.0 1119.9,1317.8 1120.2,1315.6 1120.5,1313.5 1120.8,1311.5 1121.2,1309.6 1121.5,1307.7 1121.9,1305.8 1122.2,1304.0 1122.6,1301.8 1123.0,1299.5 1123.3,1297.4 1123.7,1295.6 1124.1,1293.8 1124.5,1291.7 1124.8,1289.5 1125.2,1287.3 1125.6,1285.4 1126.0,1283.4 1126.4,1281.4 1126.8,1279.5 1127.2,1277.3 1127.6,1275.3 1128.0,1273.6 1128.4,1271.7 1128.8,1269.7 1129.2,1267.7 1129.6,1265.4 1130.0,1263.2 1130.4,1261.2 1130.8,1259.3 1131.1,1257.5 1131.5,1255.1 1131.9,1252.8 1132.3,1251.0 1132.7,1249.0 1133.0,1246.8 1133.4,1244.6 1133.7,1242.7 1134.1,1240.6 1134.4,1238.2 1134.8,1236.0 1135.1,1234.4 1135.4,1232.7 1135.8,1230.5 1136.1,1228.5 1136.4,1226.6 1136.7,1224.8 1137.1,1222.8 1137.4,1220.5 1137.7,1218.1 1138.0,1215.9 1138.3,1213.9 1138.6,1212.1 1139.0,1210.1 1139.3,1208.1 1139.6,1206.1 1139.9,1204.0 1140.2,1201.8 1140.5,1199.6 1140.8,1197.2 1141.1,1195.0 1141.4,1193.4 1141.7,1191.5 1142.0,1189.4 1142.3,1187.2 1142.6,1184.8 1142.9,1183.2 1143.2,1181.3 1143.5,1178.9 1143.8,1176.9 1144.1,1174.7 1144.4,1172.6 1144.7,1170.9 1145.0,1169.0 1145.3,1167.0 1145.6,1165.3 1145.9,1163.4 1146.2,1161.3 1146.4,1159.2 1146.7,1156.6 1147.0,1154.3 1147.3,1152.6 1147.6,1150.5 1147.9,1148.1 1148.2,1145.8 1148.4,1143.8 1148.7,1142.0 1149.0,1140.1 1149.3,1137.9 1149.5,1135.5 1149.8,1133.1 1150.1,1131.3 1150.4,1129.4 1150.6,1127.3 1150.9,1125.7 1151.2,1123.6 1151.4,1121.2 1151.7,1119.1 1152.0,1117.4 1152.2,1115.6 1152.5,1113.3 1152.8,1110.9 1153.0,1109.1 1153.3,1107.2 1153.5,1105.0 1153.8,1103.0 1154.0,1101.1 1154.3,1098.9 1154.6,1096.8 1154.8,1094.9 1155.1,1093.1 1155.3,1090.5 1155.6,1087.8 1155.8,1085.7 1156.1,1083.7 1156.3,1081.8 1156.6,1080.1 1156.8,1078.3 1157.0,1076.1 1157.3,1073.8 1157.5,1071.6 1157.8,1069.6 1158.0,1067.9 1158.3,1065.9 1158.5,1063.6 1158.8,1061.7 1159.0,1059.8 1159.2,1057.6 1159.5,1055.6 1159.7,1053.4 1160.0,1051.2 1160.2,1049.2 1160.4,1047.0 1160.7,1044.8 1160.9,1042.7 1161.2,1040.5 1161.4,1038.8 1161.6,1037.0 1161.9,1035.1 1162.1,1033.3 1162.3,1031.2 1162.6,1028.3 1162.8,1026.1 1163.1,1024.5 1163.3,1022.3 1163.5,1019.9 1163.7,1018.1 1164.0,1016.0 1164.2,1013.6 1164.4,1011.6 1164.6,1009.8 1164.8,1008.0 1165.1,1005.7 1165.3,1003.3 1165.5,1001.2 1165.7,999.3 1165.9,997.3 1166.1,995.3 1166.3,993.2 1166.5,990.8 1166.7,988.3 1166.9,986.4 1167.1,984.7 1167.3,982.4 1167.5,980.2 1167.8,978.4 1168.0,976.3 1168.2,973.9 1168.4,971.9 1168.6,969.9 1168.9,967.9 1169.1,965.8 1169.3,963.3 1169.6,961.3 1169.8,959.6 1170.1,957.4 1170.3,955.2 1170.6,953.1 1170.8,951.4 1171.1,949.4 1171.4,946.8 1171.6,944.8 1171.9,943.3 1172.2,941.3 1172.5,939.0 1172.9,936.7 1173.2,934.5 1173.6,932.3 1173.9,930.2 1174.3,928.4 1174.7,926.5 1175.1,924.1 1175.5,921.9 1175.9,920.2 1176.4,918.1 1176.8,915.7 1177.2,913.3 1177.7,911.0 1178.1,909.3 1178.5,907.5 1179.0,905.4 1179.4,903.1 1179.9,901.0 1180.3,899.3 1180.7,897.3 1181.2,895.3 1181.6,893.4 1182.0,891.5 1182.4,889.5 1182.8,887.5 1183.2,885.3 1183.6,882.9 1183.9,880.8 1184.3,878.5 1184.6,876.5 1184.9,875.1 1185.3,872.9 1185.6,870.5 1185.9,868.7 1186.2,866.6 1186.5,864.3 1186.8,862.4 1187.1,860.6 1187.4,858.7 1187.7,856.7 1187.9,854.4 1188.2,852.3 1188.5,850.4 1188.8,848.8 1189.1,847.0 1189.3,844.4 1189.6,842.0 1189.9,840.1 1190.2,838.2 1190.5,836.1 1190.8,833.9 1191.1,831.4 1191.4,829.2 1191.7,827.4 1192.0,825.3 1192.4,823.2 1192.7,821.4 1193.0,819.4 1193.4,817.5 1193.7,815.3 1194.1,813.0 1194.5,811.0 1194.8,808.9 1195.2,806.9 1195.6,805.0 1195.9,802.7 1196.3,800.6 1196.7,798.9 1197.1,796.6 1197.4,794.6 1197.8,793.1 1198.2,791.1 1198.5,789.1 1198.9,787.0 1199.2,784.8 1199.6,783.0 1199.9,781.1 1200.3,779.2 1200.6,777.1 1200.9,774.9 1201.2,772.5 1201.5,770.3 1201.8,768.2 1202.1,766.1 1202.4,763.9 1202.6,762.0 1202.9,760.1 1203.2,758.1 1203.4,756.3 1203.7,754.2 1204.0,752.2 1204.2,750.2 1204.5,747.8 1204.7,745.7 1205.0,743.8 1205.3,741.9 1205.6,740.1 1205.9,738.0 1206.1,735.7 1206.4,733.7 1206.7,731.5 1207.1,729.6 1207.4,727.8 1207.7,725.6 1208.0,723.4 1208.3,721.1 1208.6,718.9 1208.9,717.1 1209.2,715.0 1209.5,713.0 1209.8,711.2 1210.1,709.3 1210.5,707.2 1210.8,705.2 1211.1,703.1 1211.4,700.8 1211.7,699.3 1212.1,697.5 1212.4,695.0 1212.7,692.8 1213.1,690.6 1213.4,688.1 1213.8,686.4 1214.1,684.7 1214.5,682.5 1214.8,680.3 1215.2,678.4 1215.6,676.4 1215.9,674.3 1216.3,672.3 1216.7,670.5 1217.1,668.2 1217.5,666.0 1217.9,663.7 1218.3,661.6 1218.7,660.1 1219.1,658.5 1219.5,656.3 1220.0,654.2 1220.4,652.3 1220.9,650.3 1221.3,648.4 1221.8,646.3 1222.3,644.1 1222.8,642.1 1223.3,640.2 1223.9,638.1 1224.4,636.0 1225.0,633.8 1225.6,631.7 1226.2,629.8 1226.8,627.7 1227.4,625.9 1228.0,624.2 1228.6,622.0 1229.3,620.1 1229.9,618.6 1230.6,616.8 1231.3,614.9 1232.0,613.2 1232.7,611.2 1233.4,608.9 1234.1,606.6 1234.9,605.0 1235.8,603.4 1236.7,601.2 1237.6,599.1 1238.6,597.5 1239.5,595.8 1240.5,593.8 1241.4,591.4 1242.3,589.1 1243.2,587.5 1244.0,586.1 1244.7,584.6 1245.3,582.7 1245.9,580.5 1246.4,578.2 1246.8,576.1 1247.3,574.3 1247.7,572.2 1248.2,569.8 1248.6,568.0 1249.2,566.7 1249.8,564.9 1250.4,562.8 1251.1,560.7 1251.8,558.6 1252.5,556.4 1253.2,554.5 1253.9,552.6 1254.6,550.5 1255.2,548.3 1255.7,546.2 1256.2,544.0 1256.6,541.6 1257.0,539.1 1257.5,536.6 1258.0,534.8 1258.7,533.5 1259.5,532.8 1260.8,533.2 1262.8,534.1 1264.9,535.4 1266.8,536.6 1268.7,537.5 1270.7,537.7 1272.6,537.7 1274.6,538.0 1276.4,538.1 1278.3,537.7 1280.2,536.9 1282.0,536.1 1283.8,535.0 1285.7,533.8 1287.6,532.9 1289.4,532.0 1291.4,531.1 1293.3,530.7 1295.2,530.6 1297.2,530.2 1299.2,529.7 1301.1,529.2 1303.1,529.2 1305.1,529.2 1307.1,528.9 1309.0,528.7 1311.0,528.3 1312.9,527.9 1314.9,527.3 1316.8,526.5 1318.8,525.9 1320.7,525.0 1322.6,524.1 1324.5,523.6 1326.5,523.1 1328.4,522.7 1330.3,522.2 1332.2,521.9 1334.1,522.1 1336.0,521.7 1337.9,520.5 1339.8,519.4 1341.7,518.6 1343.6,518.0 1345.6,517.4 1347.5,516.8 1349.4,516.2 1351.3,515.3 1353.2,514.5 1355.1,514.0 1357.0,513.8 1359.0,513.7 1360.9,513.0 1362.8,512.2 1364.8,511.8 1366.7,511.2 1368.7,510.4 1370.6,509.8 1372.5,509.3 1374.5,508.7 1376.4,508.4 1378.4,508.0 1380.3,507.4 1382.3,506.6 1384.2,505.7 1386.2,505.1 1388.1,504.8 1390.1,504.1 1392.1,503.5 1394.0,503.0 1396.0,502.6 1397.9,502.6 1399.9,502.7 1401.9,502.5 1403.8,502.3 1405.8,501.8 1407.8,501.2 1409.7,501.1 1411.7,501.2 1413.7,501.3 1415.7,501.6 1417.6,501.8 1419.6,502.1 1421.6,502.1 1423.6,501.8 1425.6,502.0 1427.6,502.5 1429.5,503.2 1431.5,503.9 1433.5,504.0 1435.5,504.2 1437.5,504.5 1439.5,504.7 1441.5,505.0 1443.5,505.2 1445.5,505.9 1447.5,506.2 1449.5,505.9 1451.5,506.0 1453.5,506.3 1455.5,506.1 1457.5,505.9 1459.5,506.2 1461.5,506.6 1463.5,506.5 1465.4,506.6 1467.4,506.8 1469.4,506.9 1471.4,506.6 1473.4,506.6 1475.4,507.2 1477.4,507.5 1479.4,507.3 1481.4,507.3 1483.4,507.6 1485.4,507.9 1487.4,507.8 1489.4,507.7 1491.4,508.0 1493.4,507.9 1495.4,507.7 1497.4,507.6 1499.5,507.6 1501.5,508.0 1503.5,508.4 1505.5,508.4 1507.5,508.6 1509.5,508.7 1511.5,508.8 1513.5,508.8 1515.5,508.7 1517.5,508.7 1519.5,508.6 1521.5,508.5 1523.5,508.2 1525.5,508.0 1527.5,508.2 1529.5,508.4 1531.5,508.6 1533.4,508.7 1535.4,508.6 1537.4,508.6 1539.4,508.7 1541.4,508.8 1543.4,508.7 1545.4,508.5 1547.4,508.5 1549.4,508.4 1551.4,508.3 1553.4,508.2 1555.4,508.4 1557.4,508.6 1559.4,508.1 1561.4,507.3 1563.4,507.1 1565.4,507.0 1567.4,506.9 1569.4,506.9 1571.4,506.7 1573.3,506.1 1575.3,505.5 1577.3,505.1 1579.3,504.8 1581.3,504.5 1583.3,504.1 1585.2,503.7 1587.2,503.4 1589.2,503.3 1591.2,503.2 1593.1,502.9 1595.1,502.4 1597.1,502.2 1599.0,501.8 1601.0,500.8 1602.9,499.8 1604.9,499.4 1606.9,499.0 1608.8,498.3 1610.8,497.7 1612.7,497.3 1614.7,496.9 1616.6,496.0 1618.6,495.3 1620.5,495.4 1622.5,494.9 1624.4,494.1 1626.4,493.9 1628.3,493.8 1630.3,493.5 1632.2,493.1 1634.1,492.7 1636.1,492.6 1638.0,492.8 1640.0,492.9 1641.9,492.8 1643.8,493.0 1645.8,493.4 1647.7,493.5 1649.7,494.0 1651.6,495.1 1653.6,495.6 1655.5,496.0 1657.5,496.9 1659.4,497.7 1661.4,498.4 1663.3,499.2 1665.2,500.3 1667.2,501.2 1669.1,501.9 1671.0,502.7 1672.9,503.4 1674.8,504.2 1676.7,505.4 1678.6,506.3 1680.5,507.3 1682.4,508.6 1684.2,509.6 1686.1,510.0 1687.9,511.1 1689.7,512.6 1691.5,513.3 1693.4,513.9 1695.2,515.0 1697.0,516.3 1698.7,517.4 1700.4,518.5 1702.0,519.7 1703.6,521.3 1705.1,522.7 1706.6,523.8 1708.1,525.2 1709.5,526.9 1710.9,528.8 1712.3,530.6 1713.7,532.0 1715.1,533.4 1716.5,534.9 1717.9,536.4 1719.3,537.8 1720.7,539.3 1722.1,541.2 1723.4,543.3 1724.8,545.1 1726.2,546.2 1727.5,547.5 1728.9,549.1 1730.2,551.0 1731.5,552.6 1732.8,554.0 1734.1,555.6 1735.4,557.4 1736.7,559.0 1737.9,560.8 1739.2,562.8 1740.4,564.6 1741.7,566.2 1742.9,567.9 1744.2,569.5 1745.4,571.3 1746.6,573.2 1747.8,574.7 1749.0,576.1 1750.2,577.8 1751.4,579.4 1752.6,581.2 1753.7,583.2 1754.8,584.8 1755.9,586.3 1756.9,588.3 1758.0,590.4 1759.0,592.4 1759.9,594.3 1760.8,596.2 1761.7,598.0 1762.5,599.6 1763.3,601.3 1764.1,603.7 1764.8,606.0 1765.6,608.0 1766.4,610.2 1767.2,612.1 1768.0,613.7 1768.9,615.8 1769.8,617.9 1770.8,619.6 1771.9,621.3 1773.1,622.7 1774.3,623.8 1775.7,625.1 1777.1,626.7 1778.7,628.2 1780.2,629.6 1781.9,630.9 1783.6,632.2 1785.4,633.8 1787.2,635.2 1789.0,636.3 1790.9,637.4 1792.8,638.4 1794.7,639.4 1796.6,640.3 1798.6,641.0 1800.5,641.9 1802.4,642.5 1804.3,642.6 1806.2,643.0 1808.1,643.7 1810.0,643.8 1811.8,643.4 1813.7,643.3 1815.7,643.0 1817.6,642.6 1819.6,642.2 1821.6,641.8 1823.6,641.5 1825.6,640.9 1827.6,640.5 1829.6,640.1 1831.6,639.5 1833.6,638.8 1835.6,638.2 1837.5,637.6 1839.4,637.1 1841.3,636.6 1843.2,635.8 1845.0,635.0 1846.8,634.4 1848.6,633.7 1850.3,632.9 1852.1,631.9 1853.8,630.8 1855.5,629.9 1857.3,629.1 1859.0,628.1 1860.7,627.0 1862.3,625.7 1864.0,624.4 1865.7,623.1 1867.3,621.8 1869.0,620.7 1870.7,619.3 1872.3,618.0 1873.9,617.1 1875.6,616.2 1877.2,614.8 1878.9,613.3 1880.5,611.8 1882.2,610.4 1883.8,609.2 1885.5,608.3 1887.2,607.2 1888.8,605.8 1890.5,604.6 1892.2,603.6 1893.8,602.3 1895.5,601.5 1897.1,601.1 1898.8,600.0 1900.4,598.4 1902.1,597.1 1903.7,596.0 1905.4,594.9 1907.0,593.5 1908.6,591.9 1910.3,590.2 1911.9,589.1 1913.6,588.3 1915.2,587.2 1916.8,586.0 1918.5,584.9 1920.1,583.9 1921.8,582.8 1923.5,581.7 1925.1,580.7 1926.8,579.6 1928.5,578.4 1930.2,577.1 1931.9,575.8 1933.6,574.5 1935.4,573.6 1937.1,573.2 1938.9,572.6 1940.6,571.8 1942.4,570.6 1944.2,569.1 1946.0,567.9 1947.7,567.1 1949.5,566.6 1951.3,565.6 1953.2,564.4 1955.0,563.4 1956.8,562.5 1958.6,561.5 1960.5,560.3 1962.3,559.6 1964.2,559.4 1966.0,558.5 1967.9,557.3 1969.7,556.5 1971.6,556.0 1973.5,555.5 1975.4,554.9 1977.3,554.4 1979.2,553.9 1981.1,553.1 1983.0,552.2 1984.9,551.7 1986.8,551.6 1988.7,551.4 1990.7,550.5 1992.6,549.8 1994.6,549.5 1996.6,549.2 1998.5,549.0 2000.5,548.7 2002.5,548.1 2004.5,547.7 2006.5,547.4 2008.5,547.0 2010.5,546.6 2012.5,546.4 2014.5,546.2 2016.5,546.0 2018.5,546.2 2020.5,546.7 2022.5,546.4 2024.4,545.8 2026.4,545.8 2028.4,545.9 2030.4,546.2 2032.4,546.8 2034.4,547.0 2036.3,547.0 2038.3,547.4 2040.3,547.6 2042.3,548.0 2044.3,548.5 2046.2,549.0 2048.2,549.1 2050.2,549.3 2052.2,549.9 2054.1,550.9 2056.1,551.3 2058.0,551.2 2060.0,551.3 2061.9,551.9 2063.9,552.6 2065.8,553.7 2067.8,554.8 2069.7,554.7 2071.7,554.7 2073.6,555.6 2075.6,556.1 2077.5,556.9 2079.4,558.2 2081.3,559.2 2083.1,559.3 2084.9,559.8 2086.7,561.5 2088.5,561.6 2090.2,560.8 2092.0,562.4 2093.7,564.1 2095.5,565.7 2097.2,568.3 2098.9,570.4 2100.6,572.1 2102.2,571.6 2103.9,569.5 2105.5,570.3 2107.1,573.8 2108.7,576.6 2110.3,577.8 2111.9,580.0 2113.4,582.3 2114.9,583.0 2116.4,582.9 2117.8,583.7 2119.2,585.9 2120.7,588.1 2122.1,589.0 2123.5,587.3 2124.9,587.7 2126.2,591.6 2127.6,594.4 2129.0,594.5 2130.3,594.7 2131.6,595.8 2132.9,596.1 2134.2,597.5 2135.4,601.2 2136.7,605.1 2137.9,607.3 2139.1,608.1 2140.2,608.4 2141.4,610.1 2142.5,613.5 2143.5,616.9 2144.6,618.8 2145.6,619.2 2146.6,618.3 2147.5,618.7 2148.3,622.1 2149.2,624.0 2150.0,625.5 2150.7,627.2 2151.5,628.3 2152.2,631.8 2152.9,634.9 2153.6,636.3 2154.4,637.7 2155.1,640.2 2155.9,643.9 2156.7,647.0 2157.5,649.8 2158.4,652.6 2159.3,652.2 2160.3,651.9 2161.4,656.7 2162.5,659.4 2163.7,656.1 2165.0,655.9 2166.4,658.6 2167.8,658.4 2169.3,660.5 2170.8,666.7 2172.3,670.6 2173.9,671.5 2175.5,669.9 2177.1,667.2 2178.7,669.5 2180.5,673.2 2182.4,673.7 2184.3,674.1 2186.3,676.9 2188.2,682.6 2190.1,685.5 2191.9,684.4 2193.6,685.3 2195.1,685.1 2196.5,680.2 2197.7,679.9 2199.0,685.9 2200.2,688.9 2201.3,687.4 2202.4,688.9 2203.4,695.5 2204.4,699.9 2205.4,696.6 2206.4,693.0 2207.3,694.5 2208.3,695.6 2209.3,697.6 2210.2,704.2 2211.2,708.1 2212.2,709.0 2213.3,714.8 2214.3,719.3 2215.4,718.1 2216.6,718.5 2217.8,719.0 2219.1,718.3 2220.3,720.4 2221.6,721.1 2222.9,721.3 2224.3,723.2 2225.7,724.1 2227.0,727.1 2228.4,726.5 2229.8,725.4 2231.3,732.8 2232.7,735.7 2234.2,731.5 2235.6,733.7 2237.1,739.9 2238.6,740.9 2240.1,741.4 2241.5,746.1 2243.0,748.7 2244.5,749.8 2246.0,751.2 2247.5,751.9 2249.0,752.3 2250.5,753.8 2252.0,759.0 2253.5,762.7 2255.1,760.2 2256.7,756.4 2258.2,756.5 2259.8,759.0 2261.4,759.8 2263.0,760.8 2264.6,765.8 2266.2,769.1 2267.8,770.0 2269.4,773.9 2270.9,777.3 2272.5,776.1 2274.1,774.0 2275.7,776.3 2277.2,780.3 2278.7,781.3 2280.3,780.2 2281.8,780.6 2283.3,782.6 2284.8,783.7 2286.3,783.6 2287.8,783.2 2289.3,785.0 2290.8,790.6 2292.3,795.2 2293.8,793.4 2295.3,794.5 2296.7,802.3 2298.2,805.0 2299.7,801.6 2301.1,798.0 2302.6,796.1 2304.1,798.1 2305.5,801.3 2306.0,801.1 L2306.0,825.5 2305.5,827.1 2304.1,824.1 2302.6,818.9 2301.1,817.3 2299.7,819.1 2298.2,819.9 2296.7,816.1 2295.3,811.6 2293.8,813.2 2292.3,814.7 2290.8,811.5 2289.3,810.7 2287.8,810.2 2286.3,808.2 2284.8,809.5 2283.3,809.4 2281.8,806.6 2280.3,804.9 2278.7,803.6 2277.2,800.6 2275.7,795.7 2274.1,795.7 2272.5,802.1 2270.9,804.3 2269.4,799.6 2267.8,795.7 2266.2,794.3 2264.6,790.5 2263.0,787.1 2261.4,790.0 2259.8,792.9 2258.2,792.0 2256.7,790.2 2255.1,789.2 2253.5,791.4 2252.0,792.5 2250.5,788.5 2249.0,786.8 2247.5,788.3 2246.0,787.4 2244.5,785.1 2243.0,784.1 2241.5,781.4 2240.1,776.2 2238.6,772.7 2237.1,770.6 2235.6,768.9 2234.2,769.6 2232.7,771.3 2231.3,767.9 2229.8,764.0 2228.4,766.0 2227.0,766.4 2225.7,763.0 2224.3,759.7 2222.9,757.5 2221.6,757.0 2220.3,756.1 2219.1,753.1 2217.8,750.1 2216.6,751.8 2215.4,754.1 2214.3,751.8 2213.3,746.9 2212.2,741.4 2211.2,742.5 2210.2,746.1 2209.3,739.6 2208.3,731.7 2207.3,732.2 2206.4,735.6 2205.4,739.0 2204.4,739.3 2203.4,731.9 2202.4,723.0 2201.3,720.7 2200.2,723.5 2199.0,723.5 2197.7,719.3 2196.5,718.7 2195.1,720.3 2193.6,720.0 2191.9,717.5 2190.1,714.6 2188.2,714.8 2186.3,716.1 2184.3,714.4 2182.4,711.4 2180.5,712.0 2178.7,713.2 2177.1,711.6 2175.5,710.8 2173.9,711.9 2172.3,713.1 2170.8,711.3 2169.3,705.2 2167.8,701.3 2166.4,702.4 2165.0,701.8 2163.7,700.0 2162.5,700.7 2161.4,701.4 2160.3,698.1 2159.3,693.7 2158.4,695.6 2157.5,699.3 2156.7,698.2 2155.9,694.9 2155.1,691.4 2154.4,687.4 2153.6,683.6 2152.9,680.5 2152.2,679.5 2151.5,679.0 2150.7,674.5 2150.0,669.5 2149.2,670.0 2148.3,670.3 2147.5,668.2 2146.6,667.6 2145.6,667.9 2144.6,666.3 2143.5,663.2 2142.5,660.6 2141.4,659.6 2140.2,659.1 2139.1,655.8 2137.9,653.2 2136.7,653.7 2135.4,652.3 2134.2,647.1 2132.9,645.6 2131.6,647.5 2130.3,646.9 2129.0,643.8 2127.6,641.7 2126.2,641.3 2124.9,640.2 2123.5,638.9 2122.1,637.5 2120.7,634.9 2119.2,632.0 2117.8,629.8 2116.4,628.9 2114.9,628.3 2113.4,627.7 2111.9,626.2 2110.3,624.5 2108.7,623.4 2107.1,621.9 2105.5,620.4 2103.9,619.4 2102.2,618.7 2100.6,618.2 2098.9,617.7 2097.2,616.1 2095.5,614.6 2093.7,614.1 2092.0,613.6 2090.2,612.4 2088.5,612.4 2086.7,612.0 2084.9,610.0 2083.1,609.4 2081.3,608.7 2079.4,607.1 2077.5,606.5 2075.6,606.4 2073.6,606.0 2071.7,605.5 2069.7,604.8 2067.8,604.7 2065.8,604.5 2063.9,603.5 2061.9,603.0 2060.0,602.9 2058.0,602.5 2056.1,602.0 2054.1,601.6 2052.2,601.2 2050.2,600.7 2048.2,600.2 2046.2,599.6 2044.3,598.8 2042.3,598.5 2040.3,598.5 2038.3,598.3 2036.3,598.1 2034.4,597.8 2032.4,597.5 2030.4,597.5 2028.4,597.3 2026.4,597.0 2024.4,596.8 2022.5,597.0 2020.5,597.5 2018.5,597.6 2016.5,597.5 2014.5,597.5 2012.5,597.8 2010.5,598.1 2008.5,598.3 2006.5,598.6 2004.5,598.8 2002.5,599.4 2000.5,599.9 1998.5,600.0 1996.6,600.3 1994.6,600.8 1992.6,600.9 1990.7,601.3 1988.7,602.0 1986.8,602.3 1984.9,602.4 1983.0,602.7 1981.1,603.7 1979.2,604.7 1977.3,605.0 1975.4,605.4 1973.5,606.0 1971.6,606.6 1969.7,607.5 1967.9,608.3 1966.0,609.1 1964.2,609.6 1962.3,610.2 1960.5,611.0 1958.6,611.9 1956.8,612.7 1955.0,613.7 1953.2,614.8 1951.3,615.6 1949.5,616.0 1947.7,616.7 1946.0,617.9 1944.2,619.3 1942.4,620.4 1940.6,621.2 1938.9,622.0 1937.1,622.8 1935.4,623.6 1933.6,624.6 1931.9,625.5 1930.2,626.4 1928.5,627.6 1926.8,628.9 1925.1,630.1 1923.5,630.7 1921.8,631.4 1920.1,632.4 1918.5,633.5 1916.8,634.8 1915.2,636.2 1913.6,637.3 1911.9,638.0 1910.3,639.2 1908.6,641.1 1907.0,642.4 1905.4,643.1 1903.7,644.1 1902.1,645.2 1900.4,646.6 1898.8,648.3 1897.1,649.5 1895.5,650.0 1893.8,650.9 1892.2,652.2 1890.5,652.7 1888.8,653.5 1887.2,655.0 1885.5,656.9 1883.8,658.1 1882.2,658.6 1880.5,659.7 1878.9,661.2 1877.2,662.5 1875.6,663.6 1873.9,664.5 1872.3,665.6 1870.7,666.8 1869.0,667.8 1867.3,668.7 1865.7,670.2 1864.0,671.5 1862.3,672.2 1860.7,673.7 1859.0,675.0 1857.3,675.7 1855.5,676.8 1853.8,677.7 1852.1,678.4 1850.3,679.3 1848.6,679.9 1846.8,680.6 1845.0,681.6 1843.2,682.4 1841.3,682.8 1839.4,683.4 1837.5,684.4 1835.6,684.9 1833.6,685.0 1831.6,685.3 1829.6,685.9 1827.6,686.6 1825.6,687.2 1823.6,687.5 1821.6,687.8 1819.6,688.1 1817.6,688.6 1815.7,689.1 1813.7,689.5 1811.8,689.7 1810.0,689.7 1808.1,689.5 1806.2,689.1 1804.3,688.8 1802.4,688.5 1800.5,687.8 1798.6,687.0 1796.6,686.4 1794.7,685.8 1792.8,684.4 1790.9,683.3 1789.0,682.7 1787.2,681.7 1785.4,680.3 1783.6,679.2 1781.9,678.0 1780.2,676.3 1778.7,674.9 1777.1,673.8 1775.7,672.6 1774.3,671.4 1773.1,670.2 1771.9,668.9 1770.8,667.8 1769.8,666.8 1768.9,665.1 1768.0,663.1 1767.2,661.2 1766.4,659.3 1765.6,657.6 1764.8,656.1 1764.1,654.1 1763.3,651.9 1762.5,650.1 1761.7,648.5 1760.8,646.9 1759.9,645.2 1759.0,643.2 1758.0,641.5 1756.9,640.1 1755.9,638.7 1754.8,637.3 1753.7,635.7 1752.6,634.1 1751.4,632.7 1750.2,631.1 1749.0,629.5 1747.8,628.1 1746.6,626.7 1745.4,625.2 1744.2,623.9 1742.9,622.4 1741.7,620.8 1740.4,619.3 1739.2,617.7 1737.9,616.2 1736.7,614.9 1735.4,613.7 1734.1,612.3 1732.8,610.6 1731.5,609.0 1730.2,607.7 1728.9,606.6 1727.5,605.4 1726.2,604.4 1724.8,603.0 1723.4,601.3 1722.1,599.7 1720.7,598.4 1719.3,597.2 1717.9,595.9 1716.5,594.6 1715.1,593.6 1713.7,592.4 1712.3,591.2 1710.9,589.8 1709.5,588.5 1708.1,587.1 1706.6,585.5 1705.1,584.3 1703.6,583.1 1702.0,582.1 1700.4,581.3 1698.7,580.3 1697.0,579.9 1695.2,579.4 1693.4,578.4 1691.5,577.4 1689.7,576.6 1687.9,576.0 1686.1,575.5 1684.2,575.0 1682.4,574.2 1680.5,573.4 1678.6,572.9 1676.7,572.5 1674.8,571.9 1672.9,570.8 1671.0,569.8 1669.1,569.6 1667.2,569.4 1665.2,568.6 1663.3,567.8 1661.4,567.6 1659.4,567.2 1657.5,566.7 1655.5,566.4 1653.6,565.9 1651.6,565.4 1649.7,565.0 1647.7,564.8 1645.8,564.7 1643.8,564.3 1641.9,563.7 1640.0,563.7 1638.0,563.5 1636.1,563.4 1634.1,563.7 1632.2,564.0 1630.3,564.3 1628.3,564.8 1626.4,564.8 1624.4,565.0 1622.5,565.7 1620.5,566.4 1618.6,566.6 1616.6,566.9 1614.7,567.4 1612.7,568.1 1610.8,568.5 1608.8,569.0 1606.9,569.7 1604.9,570.3 1602.9,571.0 1601.0,571.7 1599.0,572.1 1597.1,572.1 1595.1,572.5 1593.1,573.3 1591.2,574.0 1589.2,574.3 1587.2,574.2 1585.2,574.4 1583.3,575.1 1581.3,575.5 1579.3,575.3 1577.3,574.9 1575.3,575.3 1573.3,576.2 1571.4,576.9 1569.4,577.2 1567.4,577.2 1565.4,577.1 1563.4,577.1 1561.4,577.3 1559.4,577.9 1557.4,578.2 1555.4,578.2 1553.4,578.3 1551.4,578.5 1549.4,578.6 1547.4,578.6 1545.4,578.7 1543.4,578.9 1541.4,578.8 1539.4,578.7 1537.4,578.6 1535.4,579.0 1533.4,579.2 1531.5,578.8 1529.5,578.4 1527.5,578.3 1525.5,578.2 1523.5,578.5 1521.5,578.7 1519.5,578.7 1517.5,578.5 1515.5,578.1 1513.5,577.8 1511.5,578.0 1509.5,578.4 1507.5,578.3 1505.5,578.0 1503.5,578.0 1501.5,577.8 1499.5,577.6 1497.4,577.5 1495.4,577.3 1493.4,577.4 1491.4,577.9 1489.4,578.1 1487.4,577.9 1485.4,577.7 1483.4,577.3 1481.4,577.2 1479.4,577.5 1477.4,577.8 1475.4,577.4 1473.4,576.8 1471.4,577.0 1469.4,577.3 1467.4,577.3 1465.4,577.4 1463.5,577.4 1461.5,576.9 1459.5,576.4 1457.5,576.2 1455.5,576.2 1453.5,576.3 1451.5,576.2 1449.5,576.1 1447.5,576.0 1445.5,576.0 1443.5,576.0 1441.5,575.4 1439.5,574.5 1437.5,574.4 1435.5,574.4 1433.5,574.1 1431.5,574.0 1429.5,573.9 1427.6,573.5 1425.6,572.9 1423.6,572.6 1421.6,572.4 1419.6,572.2 1417.6,572.1 1415.7,572.1 1413.7,572.0 1411.7,571.8 1409.7,571.5 1407.8,571.6 1405.8,572.2 1403.8,572.6 1401.9,572.7 1399.9,572.8 1397.9,572.7 1396.0,572.9 1394.0,573.3 1392.1,574.0 1390.1,574.6 1388.1,575.3 1386.2,575.7 1384.2,576.2 1382.3,577.3 1380.3,578.0 1378.4,578.3 1376.4,578.4 1374.5,578.9 1372.5,579.3 1370.6,579.6 1368.7,580.0 1366.7,580.7 1364.8,581.4 1362.8,581.9 1360.9,582.7 1359.0,583.3 1357.0,583.4 1355.1,583.8 1353.2,584.6 1351.3,585.4 1349.4,585.8 1347.5,586.2 1345.6,586.6 1343.6,587.3 1341.7,588.1 1339.8,588.7 1337.9,589.5 1336.0,590.4 1334.1,590.8 1332.2,591.1 1330.3,591.6 1328.4,592.2 1326.5,592.5 1324.5,592.9 1322.6,593.3 1320.7,593.9 1318.8,594.8 1316.8,595.2 1314.9,595.5 1312.9,596.1 1311.0,596.7 1309.0,597.2 1307.1,597.7 1305.1,598.1 1303.1,598.2 1301.1,598.1 1299.2,598.4 1297.2,599.1 1295.2,599.5 1293.3,599.3 1291.4,599.6 1289.4,600.9 1287.6,601.7 1285.7,602.1 1283.8,603.4 1282.0,604.9 1280.2,605.4 1278.3,605.5 1276.4,605.9 1274.6,606.1 1272.6,606.0 1270.7,605.7 1268.7,605.3 1266.8,604.8 1264.9,603.8 1262.8,602.3 1260.8,601.3 1259.5,601.1 1258.7,602.0 1258.0,603.2 1257.5,604.5 1257.0,606.2 1256.6,608.5 1256.2,611.4 1255.7,614.1 1255.2,615.9 1254.6,617.8 1253.9,619.8 1253.2,621.3 1252.5,622.9 1251.8,624.7 1251.1,626.4 1250.4,628.6 1249.8,631.0 1249.2,632.8 1248.6,634.2 1248.2,636.1 1247.7,638.4 1247.3,640.0 1246.8,641.4 1246.4,643.2 1245.9,645.5 1245.3,647.7 1244.7,649.5 1244.0,651.1 1243.2,652.8 1242.3,654.9 1241.4,656.8 1240.5,658.2 1239.5,659.8 1238.6,661.7 1237.6,663.5 1236.7,665.3 1235.8,666.9 1234.9,668.3 1234.1,670.3 1233.4,672.5 1232.7,674.2 1232.0,675.7 1231.3,677.2 1230.6,679.0 1229.9,681.0 1229.3,682.7 1228.6,684.6 1228.0,686.5 1227.4,688.2 1226.8,690.1 1226.2,692.1 1225.6,693.8 1225.0,695.5 1224.4,697.7 1223.9,700.1 1223.3,701.7 1222.8,703.0 1222.3,704.7 1221.8,706.5 1221.3,708.3 1220.9,710.2 1220.4,712.2 1220.0,714.1 1219.5,716.1 1219.1,718.0 1218.7,719.5 1218.3,721.0 1217.9,723.3 1217.5,725.7 1217.1,727.7 1216.7,729.6 1216.3,731.5 1215.9,733.4 1215.6,735.0 1215.2,736.6 1214.8,738.6 1214.5,740.7 1214.1,742.8 1213.8,744.7 1213.4,746.5 1213.1,748.6 1212.7,750.3 1212.4,752.0 1212.1,754.1 1211.7,756.2 1211.4,758.0 1211.1,759.8 1210.8,761.3 1210.5,763.2 1210.1,765.6 1209.8,767.7 1209.5,769.4 1209.2,771.1 1208.9,772.8 1208.6,774.5 1208.3,776.8 1208.0,779.1 1207.7,780.8 1207.4,782.8 1207.1,784.7 1206.7,786.3 1206.4,788.3 1206.1,790.4 1205.9,792.3 1205.6,794.0 1205.3,796.0 1205.0,797.7 1204.7,799.2 1204.5,801.5 1204.2,803.9 1204.0,805.7 1203.7,807.6 1203.4,809.7 1203.2,811.6 1202.9,813.4 1202.6,815.2 1202.4,817.2 1202.1,819.1 1201.8,820.9 1201.5,822.4 1201.2,824.5 1200.9,827.1 1200.6,829.4 1200.3,831.0 1199.9,832.4 1199.6,834.1 1199.2,836.0 1198.9,838.0 1198.5,839.9 1198.2,842.0 1197.8,844.1 1197.4,846.0 1197.1,847.9 1196.7,849.7 1196.3,851.5 1195.9,853.3 1195.6,855.0 1195.2,856.9 1194.8,858.8 1194.5,860.8 1194.1,862.6 1193.7,864.3 1193.4,866.4 1193.0,868.5 1192.7,870.3 1192.4,871.7 1192.0,873.9 1191.7,876.2 1191.4,878.1 1191.1,879.9 1190.8,881.8 1190.5,883.8 1190.2,886.0 1189.9,887.9 1189.6,889.4 1189.3,891.5 1189.1,893.7 1188.8,895.6 1188.5,897.4 1188.2,899.1 1187.9,900.9 1187.7,902.9 1187.4,904.7 1187.1,906.7 1186.8,908.5 1186.5,910.5 1186.2,912.7 1185.9,914.7 1185.6,916.3 1185.3,917.8 1184.9,920.0 1184.6,921.8 1184.3,923.7 1183.9,926.0 1183.6,927.9 1183.2,929.7 1182.8,931.4 1182.4,933.4 1182.0,935.6 1181.6,937.7 1181.2,939.5 1180.7,941.1 1180.3,942.4 1179.9,943.9 1179.4,945.7 1179.0,947.9 1178.5,949.8 1178.1,951.6 1177.7,953.5 1177.2,955.3 1176.8,957.1 1176.4,959.1 1175.9,961.1 1175.5,962.7 1175.1,964.4 1174.7,966.3 1174.3,968.4 1173.9,970.2 1173.6,971.8 1173.2,973.5 1172.9,975.5 1172.5,977.6 1172.2,979.5 1171.9,980.9 1171.6,982.7 1171.4,985.0 1171.1,987.1 1170.8,988.8 1170.6,990.4 1170.3,992.3 1170.1,994.2 1169.8,996.1 1169.6,998.1 1169.3,999.9 1169.1,1001.7 1168.9,1003.6 1168.6,1005.5 1168.4,1007.4 1168.2,1009.3 1168.0,1011.2 1167.8,1013.0 1167.5,1015.1 1167.3,1017.1 1167.1,1019.0 1166.9,1021.0 1166.7,1022.8 1166.5,1024.7 1166.3,1026.6 1166.1,1028.6 1165.9,1030.5 1165.7,1032.3 1165.5,1034.0 1165.3,1035.8 1165.1,1037.7 1164.8,1039.7 1164.6,1041.8 1164.4,1043.7 1164.2,1045.5 1164.0,1047.4 1163.7,1049.5 1163.5,1051.3 1163.3,1053.0 1163.1,1055.1 1162.8,1057.0 1162.6,1059.0 1162.3,1061.1 1162.1,1062.7 1161.9,1064.3 1161.6,1066.0 1161.4,1067.8 1161.2,1069.9 1160.9,1072.1 1160.7,1074.2 1160.4,1076.2 1160.2,1077.9 1160.0,1079.6 1159.7,1081.2 1159.5,1082.9 1159.2,1085.4 1159.0,1088.0 1158.8,1089.9 1158.5,1091.4 1158.3,1093.1 1158.0,1094.8 1157.8,1096.6 1157.5,1098.5 1157.3,1100.4 1157.0,1102.2 1156.8,1104.2 1156.6,1106.3 1156.3,1108.1 1156.1,1109.9 1155.8,1111.9 1155.6,1113.6 1155.3,1115.9 1155.1,1118.0 1154.8,1119.6 1154.6,1121.3 1154.3,1123.3 1154.0,1125.3 1153.8,1127.1 1153.5,1129.0 1153.3,1131.0 1153.0,1133.1 1152.8,1134.8 1152.5,1136.5 1152.2,1138.6 1152.0,1140.8 1151.7,1142.5 1151.4,1144.2 1151.2,1146.1 1150.9,1147.8 1150.6,1149.8 1150.4,1151.7 1150.1,1153.3 1149.8,1155.1 1149.5,1157.3 1149.3,1159.4 1149.0,1161.5 1148.7,1163.3 1148.4,1165.1 1148.2,1166.8 1147.9,1168.4 1147.6,1170.2 1147.3,1172.1 1147.0,1174.1 1146.7,1176.3 1146.4,1178.4 1146.2,1180.5 1145.9,1182.3 1145.6,1184.1 1145.3,1186.2 1145.0,1188.3 1144.7,1189.9 1144.4,1191.3 1144.1,1193.0 1143.8,1194.9 1143.5,1196.9 1143.2,1199.0 1142.9,1200.7 1142.6,1202.8 1142.3,1205.1 1142.0,1207.0 1141.7,1208.8 1141.4,1210.7 1141.1,1212.3 1140.8,1214.2 1140.5,1216.3 1140.2,1218.4 1139.9,1220.3 1139.6,1222.2 1139.3,1224.1 1139.0,1225.8 1138.6,1227.6 1138.3,1229.3 1138.0,1231.1 1137.7,1233.2 1137.4,1235.3 1137.1,1237.1 1136.7,1238.9 1136.4,1241.1 1136.1,1243.3 1135.8,1244.8 1135.4,1246.6 1135.1,1248.5 1134.8,1250.0 1134.4,1251.9 1134.1,1254.5 1133.7,1256.7 1133.4,1258.5 1133.0,1260.2 1132.7,1261.6 1132.3,1263.4 1131.9,1265.5 1131.5,1267.6 1131.1,1269.6 1130.8,1271.5 1130.4,1273.8 1130.0,1275.7 1129.6,1277.1 1129.2,1279.1 1128.8,1281.5 1128.4,1283.5 1128.0,1285.2 1127.6,1286.9 1127.2,1288.3 1126.8,1290.0 1126.4,1292.1 1126.0,1294.0 1125.6,1295.8 1125.2,1297.7 1124.8,1299.6 1124.5,1301.6 1124.1,1303.5 1123.7,1305.3 1123.3,1307.3 1123.0,1309.6 1122.6,1311.8 1122.2,1313.1 1121.9,1314.3 1121.5,1316.4 1121.2,1318.5 1120.8,1320.4 1120.5,1322.7 1120.2,1324.8 1119.9,1326.8 1119.6,1328.7 1119.2,1330.5 1119.0,1332.3 1118.7,1334.3 1118.4,1336.2 1118.1,1338.1 1117.9,1340.0 1117.6,1341.6 1117.4,1343.4 1117.2,1345.9 1117.0,1348.3 1116.8,1350.1 1116.6,1351.7 1116.4,1353.6 1116.3,1355.5 1116.1,1357.2 1115.9,1359.1 1115.8,1361.1 1115.6,1363.0 1115.4,1365.2 1115.2,1367.2 1115.0,1368.7 1114.8,1370.7 1114.5,1373.0 1114.2,1375.1 1113.9,1377.0 1113.5,1378.5 1113.1,1380.6 1112.7,1382.7 1112.3,1384.5 1111.8,1386.4 1111.3,1388.2 1110.8,1390.0 1110.3,1391.5 1109.8,1393.4 1109.4,1395.6 1108.9,1397.3 1108.4,1399.3 1107.9,1401.4 1107.5,1403.0 1107.0,1405.1 1106.5,1407.2 1106.0,1409.0 1105.5,1410.8 1105.0,1412.6 1104.5,1414.3 1104.0,1416.3 1103.4,1418.4 1102.9,1420.5 1102.3,1422.3 1101.8,1423.7 1101.3,1425.7 1100.7,1428.0 1100.1,1429.6 1099.5,1431.2 1099.0,1432.9 1098.4,1435.1 1097.7,1437.4 1097.1,1439.0 1096.5,1440.7 1095.8,1442.7 1095.1,1444.5 1094.4,1446.2 1093.7,1448.0 1093.0,1450.0 1092.3,1452.3 1091.5,1454.4 1090.6,1455.9 1089.7,1457.3 1088.8,1458.9 1087.8,1460.7 1086.7,1462.3 1085.5,1464.1 1084.3,1465.7 1083.0,1467.0 1081.7,1468.3 1080.4,1469.6 1078.9,1470.8 1077.3,1471.9 1075.7,1473.1 1074.0,1474.5 1072.2,1475.6 1070.4,1476.6 1068.6,1477.4 1066.8,1478.0 1064.9,1478.7 1063.0,1479.3 1061.0,1479.9 1059.1,1480.3 1057.1,1480.7 1055.1,1480.9 1053.1,1480.7 1051.1,1480.7 1049.1,1481.0 1047.1,1481.1 1045.1,1481.1 1043.1,1481.1 1041.1,1481.0 1039.1,1480.9 1037.1,1480.9 1035.1,1481.3 1033.1,1481.6 1031.1,1481.9 1029.1,1482.1 1027.1,1482.0 1025.1,1481.9 1023.1,1482.1 1021.1,1482.1 1019.1,1481.8 1017.1,1481.8 1015.1,1482.1 1013.1,1482.0 1011.1,1481.8 1009.1,1481.8 1007.2,1481.8 1005.2,1481.4 1003.2,1480.7 1001.2,1480.2 999.2,1480.2 997.3,1480.4 995.3,1480.3 993.3,1479.9 991.3,1479.2 989.4,1478.5 987.4,1478.0 985.5,1477.3 983.5,1476.5 981.6,1476.2 979.7,1475.8 977.7,1475.1 975.8,1474.7 973.9,1474.3 972.1,1473.4 970.2,1472.3 968.3,1471.6 966.5,1470.9 964.7,1470.2 962.8,1469.4 961.0,1468.5 959.2,1467.5 957.3,1466.5 955.5,1465.6 953.7,1465.0 951.8,1463.9 950.0,1462.7 948.1,1462.0 946.3,1461.5 944.4,1461.2 942.5,1460.8 940.5,1460.8 938.6,1461.0 936.6,1460.7 934.7,1460.3 932.7,1460.2 930.7,1460.0 928.7,1459.9 926.7,1459.8 924.6,1459.4 922.6,1459.3 920.6,1459.5 918.6,1459.5 916.6,1459.2 914.5,1459.1 912.5,1459.1 910.5,1459.0 908.6,1459.0 906.6,1458.7 904.6,1458.1 902.7,1457.5 900.8,1457.0 898.8,1457.0 896.9,1457.1 895.0,1456.7 893.1,1455.9 891.2,1455.1 889.3,1454.4 887.3,1453.7 885.4,1453.1 883.5,1452.5 881.6,1451.8 879.7,1451.0 877.8,1450.3 875.9,1449.9 874.0,1449.5 872.1,1448.9 870.2,1447.9 868.2,1447.0 866.3,1446.7 864.3,1446.5 862.4,1445.9 860.4,1445.4 858.5,1445.1 856.5,1444.8 854.6,1444.6 852.7,1444.0 850.7,1443.1 848.8,1442.8 846.9,1442.8 844.9,1442.2 843.0,1441.2 841.1,1440.5 839.2,1440.0 837.2,1439.3 835.3,1438.3 833.4,1437.8 831.4,1437.2 829.5,1436.4 827.6,1436.1 825.7,1435.8 823.8,1435.2 821.9,1434.6 820.0,1434.1 818.2,1433.1 816.3,1432.2 814.5,1431.3 812.7,1430.6 810.9,1430.2 809.1,1429.3 807.3,1428.0 805.6,1427.1 803.9,1426.1 802.1,1424.9 800.4,1423.7 798.7,1422.7 797.0,1421.7 795.3,1420.8 793.7,1420.2 792.0,1419.4 790.3,1418.3 788.6,1416.9 786.9,1415.7 785.2,1414.7 783.6,1413.3 781.9,1411.9 780.3,1411.1 778.7,1410.2 777.0,1408.8 775.4,1407.6 773.7,1406.5 772.1,1405.1 770.4,1404.0 768.7,1403.2 767.0,1402.3 765.2,1401.2 763.4,1400.3 761.6,1399.9 759.7,1399.4 757.9,1398.5 756.0,1397.6 754.1,1396.9 752.1,1396.3 750.2,1395.6 748.3,1395.0 746.3,1394.6 744.4,1394.5 742.4,1394.9 740.5,1394.5 738.5,1394.1 736.5,1394.4 734.6,1395.0 732.6,1395.6 730.6,1396.0 728.6,1396.4 726.6,1397.2 724.6,1397.6 722.7,1397.5 720.7,1397.6 718.8,1398.1 716.9,1399.0 715.0,1399.9 713.1,1400.3 711.2,1400.8 709.3,1401.9 707.4,1402.9 705.5,1403.4 703.7,1404.0 701.8,1405.3 700.0,1406.3 698.3,1406.8 696.6,1407.9 694.9,1409.4 693.3,1410.2 691.8,1410.6 690.2,1411.6 688.7,1413.4 687.2,1415.1 685.8,1416.6 684.3,1417.9 682.9,1419.0 681.5,1420.3 680.2,1421.7 678.8,1423.0 677.4,1424.8 676.1,1426.5 674.8,1427.9 673.5,1429.5 672.1,1431.1 670.8,1432.3 669.5,1433.7 668.3,1435.6 667.0,1437.5 665.8,1439.4 664.6,1440.9 663.4,1442.1 662.3,1443.5 661.1,1445.1 660.0,1446.7 658.8,1448.6 657.6,1450.5 656.5,1451.9 655.3,1453.6 654.1,1455.7 652.9,1456.9 651.6,1458.0 650.3,1459.7 649.0,1461.4 647.6,1463.0 646.2,1464.3 644.8,1465.3 643.3,1466.3 641.8,1467.7 640.2,1469.4 638.6,1471.1 637.0,1472.3 635.4,1473.3 633.7,1474.3 632.0,1475.4 630.3,1476.6 628.6,1477.7 626.8,1478.4 625.1,1478.8 623.3,1479.7 621.5,1480.8 619.7,1481.3 617.8,1481.5 615.9,1482.4 613.9,1483.1 612.0,1483.4 610.0,1484.1 608.0,1484.3 606.0,1484.0 604.0,1484.2 602.1,1485.4 600.1,1486.5 598.1,1486.8 596.2,1487.1 594.2,1487.7 592.3,1487.9 590.3,1488.0 588.3,1488.5 586.3,1489.1 584.4,1489.1 582.4,1489.2 580.4,1489.3 578.4,1489.6 576.4,1490.0 574.5,1490.0 572.5,1489.9 570.5,1489.8 568.5,1489.6 566.5,1490.0 564.5,1490.9 562.5,1491.3 560.5,1490.8 558.5,1490.6 556.5,1491.1 554.5,1491.0 552.5,1491.1 550.5,1491.8 548.5,1492.0 546.5,1491.7 544.5,1491.4 542.5,1491.3 540.5,1491.4 538.5,1491.6 536.5,1491.6 534.5,1491.7 532.5,1492.0 530.5,1492.4 528.5,1492.2 526.5,1492.1 524.5,1492.4 522.5,1492.5 520.5,1492.5 518.5,1492.4 516.5,1492.2 514.5,1492.5 512.5,1492.7 510.5,1492.8 508.5,1493.1 506.5,1493.6 504.5,1493.7 502.5,1493.4 500.5,1493.3 498.5,1493.3 496.5,1493.3 494.5,1493.7 492.5,1493.9 490.5,1494.0 488.5,1494.2 486.5,1494.6 484.5,1494.6 482.5,1494.5 480.5,1494.5 478.6,1494.8 476.6,1495.3 474.6,1495.6 472.6,1495.9 470.6,1495.9 468.6,1496.0 466.6,1496.2 464.6,1496.3 462.6,1496.6 460.6,1497.1 458.6,1497.2 456.7,1497.4 454.7,1497.7 452.7,1497.8 450.7,1498.0 448.7,1498.2 446.7,1498.1 444.7,1497.9 442.7,1497.8 440.7,1497.8 438.7,1497.9 436.7,1498.0 434.7,1497.9 432.7,1498.0 430.7,1498.4 428.7,1498.7 426.7,1498.4 424.7,1498.4 422.7,1498.7 420.7,1498.9 418.7,1498.9 416.7,1498.7 414.7,1498.8 412.7,1498.8 410.7,1498.7 408.7,1498.8 406.7,1498.5 404.7,1498.5 402.7,1499.0 400.7,1499.5 398.7,1499.6 396.7,1499.5 394.7,1499.7 392.7,1499.7 390.7,1499.5 388.7,1499.4 386.7,1499.2 384.7,1499.3 382.7,1499.4 380.7,1499.3 378.7,1499.4 376.7,1499.5 374.7,1499.2 372.7,1499.0 370.7,1499.4 368.7,1499.4 366.7,1499.2 364.7,1499.4 362.7,1499.6 360.7,1499.4Z" fill="#32cd32" fill-opacity="0.2" stroke="#32cd32" stroke-opacity="0.2" stroke-width="2.0" stroke-linejoin="round"/>
<path d="M360.7,1499.7 362.7,1499.4 364.7,1499.1 366.7,1499.4 368.7,1499.8 370.7,1499.5 372.7,1499.1 374.7,1499.5 376.7,1499.7 378.7,1499.4 380.7,1499.6 382.7,1499.9 384.7,1499.7 386.7,1499.6 388.7,1499.6 390.7,1499.4 392.7,1499.4 394.7,1499.4 396.7,1499.1 398.7,1499.1 400.7,1499.1 402.7,1499.0 404.7,1499.1 406.7,1499.4 408.7,1499.5 410.7,1499.4 412.7,1499.4 414.7,1498.9 416.7,1498.5 418.7,1498.6 420.7,1498.6 422.7,1498.3 424.7,1498.3 426.7,1498.3 428.7,1498.2 430.7,1498.6 432.7,1498.8 434.7,1498.6 436.7,1498.4 438.7,1498.4 440.7,1498.0 442.7,1497.8 444.7,1498.0 446.7,1498.1 448.7,1498.0 450.7,1497.8 452.7,1497.7 454.7,1497.6 456.6,1497.1 458.6,1496.9 460.6,1496.9 462.6,1496.8 464.6,1496.9 466.6,1497.0 468.6,1496.9 470.6,1496.5 472.6,1495.7 474.6,1495.0 476.6,1494.8 478.6,1494.8 480.5,1494.5 482.5,1494.6 484.5,1494.8 486.5,1494.4 488.5,1494.1 490.5,1493.9 492.5,1493.7 494.5,1493.5 496.5,1493.6 498.5,1493.9 500.5,1493.7 502.5,1493.3 504.5,1493.2 506.5,1493.1 508.5,1493.0 510.5,1492.8 512.5,1492.5 514.5,1492.6 516.5,1492.6 518.5,1492.1 520.5,1491.9 522.5,1492.0 524.5,1492.1 526.5,1492.1 528.5,1492.2 530.5,1492.3 532.5,1492.1 534.5,1491.8 536.5,1491.7 538.5,1491.8 540.5,1491.9 542.5,1491.7 544.5,1491.5 546.5,1491.5 548.5,1491.4 550.5,1491.0 552.5,1490.8 554.5,1491.0 556.5,1490.9 558.5,1490.9 560.5,1490.9 562.5,1490.8 564.5,1490.4 566.5,1490.1 568.5,1490.2 570.5,1490.0 572.5,1489.6 574.5,1489.5 576.4,1489.5 578.4,1489.7 580.4,1489.8 582.4,1489.4 584.4,1489.4 586.4,1489.1 588.3,1488.5 590.3,1488.1 592.3,1488.1 594.3,1488.1 596.2,1487.4 598.2,1486.5 600.2,1486.2 602.1,1486.0 604.1,1485.6 606.1,1485.1 608.1,1484.6 610.1,1484.3 612.1,1484.0 614.0,1483.8 616.0,1483.5 617.9,1482.6 619.8,1481.7 621.6,1481.4 623.4,1480.9 625.2,1480.2 627.0,1479.4 628.7,1478.3 630.5,1477.3 632.2,1476.3 633.9,1475.2 635.6,1473.9 637.2,1472.3 638.8,1470.8 640.4,1469.5 642.0,1468.2 643.5,1467.0 645.0,1465.8 646.4,1464.4 647.9,1463.2 649.2,1461.8 650.5,1460.1 651.8,1458.7 653.1,1457.2 654.3,1455.8 655.5,1454.5 656.7,1452.9 657.8,1451.0 659.0,1449.0 660.1,1447.2 661.3,1445.6 662.5,1443.9 663.6,1442.1 664.8,1440.3 666.0,1439.0 667.2,1437.7 668.5,1436.2 669.7,1434.5 671.0,1432.8 672.3,1431.2 673.7,1430.1 675.0,1428.6 676.3,1426.8 677.7,1425.1 679.0,1423.3 680.4,1421.7 681.8,1420.1 683.2,1418.7 684.6,1417.4 686.0,1416.1 687.5,1414.7 689.0,1413.7 690.5,1412.5 692.1,1411.0 693.6,1409.6 695.3,1408.1 696.9,1406.9 698.6,1406.1 700.4,1405.4 702.2,1404.6 704.0,1404.0 705.9,1403.4 707.8,1402.3 709.6,1401.4 711.5,1400.7 713.5,1399.8 715.4,1399.1 717.3,1398.7 719.2,1398.3 721.1,1397.8 723.0,1397.1 725.0,1396.3 727.0,1395.9 729.0,1395.8 731.0,1395.8 733.0,1395.3 735.0,1394.6 736.9,1394.2 738.9,1393.9 740.9,1393.7 742.8,1394.1 744.8,1394.3 746.7,1394.3 748.7,1394.5 750.6,1394.8 752.5,1395.5 754.4,1396.4 756.4,1397.0 758.3,1398.1 760.1,1399.0 762.0,1399.7 763.8,1400.9 765.6,1401.8 767.3,1402.4 769.0,1403.3 770.7,1404.4 772.4,1405.6 774.1,1406.7 775.7,1407.6 777.4,1408.7 779.0,1410.0 780.7,1410.9 782.3,1412.3 784.0,1413.8 785.6,1414.9 787.3,1415.8 789.0,1416.5 790.7,1417.4 792.4,1418.8 794.1,1420.1 795.7,1421.4 797.4,1422.8 799.1,1424.1 800.8,1425.2 802.5,1425.8 804.3,1426.5 806.0,1427.5 807.8,1428.6 809.5,1429.6 811.3,1430.8 813.1,1431.6 814.9,1432.2 816.8,1433.0 818.6,1433.6 820.5,1434.1 822.4,1434.7 824.2,1435.5 826.1,1435.9 828.1,1436.4 830.0,1437.3 831.9,1438.3 833.8,1439.0 835.7,1439.3 837.7,1439.8 839.6,1440.7 841.5,1441.3 843.5,1441.7 845.4,1442.2 847.3,1442.9 849.2,1443.9 851.2,1444.9 853.1,1445.0 855.1,1445.0 857.0,1445.2 858.9,1445.8 860.9,1446.6 862.8,1447.0 864.8,1447.1 866.7,1447.5 868.7,1448.4 870.6,1448.8 872.5,1448.8 874.4,1449.2 876.4,1449.9 878.3,1450.8 880.2,1451.8 882.1,1452.7 884.0,1453.5 885.9,1454.3 887.8,1454.9 889.7,1455.1 891.6,1455.5 893.5,1456.2 895.4,1456.7 897.3,1456.9 899.3,1457.2 901.2,1458.1 903.1,1459.2 905.1,1459.9 907.0,1459.7 909.0,1459.3 911.0,1459.5 913.0,1460.0 915.0,1460.3 917.0,1460.1 919.0,1460.1 921.1,1460.1 923.1,1460.1 925.1,1460.4 927.1,1460.7 929.1,1460.8 931.2,1460.7 933.1,1460.6 935.1,1461.0 937.1,1461.4 939.1,1461.5 941.0,1461.7 942.9,1461.9 944.8,1462.3 946.7,1462.9 948.6,1463.4 950.4,1464.0 952.3,1465.1 954.1,1466.0 955.9,1466.6 957.8,1467.4 959.6,1468.6 961.4,1469.7 963.2,1470.5 965.1,1471.4 966.9,1472.4 968.8,1472.8 970.6,1473.7 972.5,1474.9 974.4,1475.7 976.3,1475.9 978.2,1475.9 980.1,1476.5 982.0,1477.3 984.0,1477.8 985.9,1478.1 987.9,1478.8 989.8,1479.5 991.8,1480.0 993.8,1480.4 995.7,1480.4 997.7,1480.6 999.7,1481.3 1001.7,1482.0 1003.6,1482.2 1005.6,1482.4 1007.6,1482.4 1009.6,1482.6 1011.6,1483.2 1013.6,1483.6 1015.5,1483.7 1017.5,1483.2 1019.5,1483.0 1021.5,1483.4 1023.5,1483.6 1025.5,1483.8 1027.5,1483.6 1029.5,1483.7 1031.5,1484.2 1033.5,1484.3 1035.5,1484.2 1037.5,1484.2 1039.6,1483.7 1041.6,1483.4 1043.6,1483.6 1045.6,1483.8 1047.6,1483.9 1049.6,1483.8 1051.6,1483.7 1053.6,1483.6 1055.6,1483.1 1057.6,1482.9 1059.5,1483.4 1061.5,1483.4 1063.4,1482.7 1065.4,1481.5 1067.2,1480.7 1069.0,1480.1 1070.8,1479.1 1072.6,1478.1 1074.4,1477.2 1076.0,1476.0 1077.7,1474.5 1079.2,1473.0 1080.7,1472.2 1082.0,1471.3 1083.3,1469.5 1084.6,1467.2 1085.8,1465.4 1086.9,1464.1 1088.0,1462.6 1089.0,1460.7 1089.9,1458.8 1090.8,1457.2 1091.6,1455.7 1092.4,1453.6 1093.2,1450.9 1093.9,1449.1 1094.6,1447.8 1095.3,1445.8 1095.9,1443.7 1096.6,1441.9 1097.2,1439.8 1097.9,1437.7 1098.5,1435.9 1099.1,1433.9 1099.7,1431.9 1100.3,1429.8 1100.8,1427.9 1101.4,1426.0 1101.9,1423.8 1102.5,1422.1 1103.0,1420.4 1103.5,1418.3 1104.1,1416.1 1104.6,1414.1 1105.1,1412.5 1105.6,1410.8 1106.0,1408.6 1106.5,1406.3 1107.0,1404.5 1107.5,1402.7 1108.0,1400.6 1108.5,1398.4 1109.0,1396.3 1109.5,1394.5 1110.0,1392.7 1110.5,1390.7 1111.1,1388.3 1111.6,1386.0 1112.1,1384.3 1112.6,1382.8 1113.1,1380.6 1113.7,1378.2 1114.2,1375.9 1114.7,1373.8 1115.2,1372.4 1115.7,1370.9 1116.3,1368.9 1116.9,1366.9 1117.5,1364.8 1118.1,1362.9 1118.6,1360.9 1119.0,1358.6 1119.4,1356.5 1119.6,1354.8 1119.8,1352.7 1120.0,1350.4 1120.1,1348.4 1120.2,1346.0 1120.3,1343.9 1120.5,1342.3 1120.6,1340.6 1120.7,1338.3 1120.9,1336.0 1121.1,1334.2 1121.3,1332.1 1121.5,1329.9 1121.7,1327.9 1122.0,1325.6 1122.3,1323.8 1122.5,1322.2 1122.8,1319.9 1123.1,1317.5 1123.4,1315.7 1123.7,1314.0 1124.1,1311.8 1124.4,1309.6 1124.8,1307.6 1125.1,1305.7 1125.5,1303.8 1125.8,1301.6 1126.2,1299.7 1126.6,1297.9 1127.0,1296.0 1127.4,1294.1 1127.8,1292.1 1128.2,1289.7 1128.6,1287.4 1129.0,1285.6 1129.4,1283.8 1129.9,1281.9 1130.3,1279.9 1130.7,1277.6 1131.1,1275.3 1131.5,1273.4 1132.0,1271.5 1132.4,1269.3 1132.8,1266.6 1133.3,1264.5 1133.7,1262.7 1134.1,1260.7 1134.5,1258.6 1134.9,1256.6 1135.4,1254.7 1135.8,1252.9 1136.2,1250.8 1136.6,1248.2 1137.0,1246.2 1137.4,1244.7 1137.8,1242.7 1138.1,1240.2 1138.5,1238.2 1138.9,1236.5 1139.2,1234.6 1139.6,1232.8 1139.9,1231.0 1140.3,1229.0 1140.6,1226.5 1141.0,1224.2 1141.3,1222.3 1141.6,1220.1 1142.0,1218.1 1142.3,1216.2 1142.7,1214.2 1143.0,1212.1 1143.3,1210.2 1143.7,1208.2 1144.0,1206.0 1144.4,1203.8 1144.7,1201.8 1145.0,1199.8 1145.4,1197.9 1145.7,1196.0 1146.0,1193.6 1146.4,1191.3 1146.7,1189.2 1147.0,1187.2 1147.4,1185.3 1147.7,1183.2 1148.0,1181.0 1148.3,1179.2 1148.7,1177.6 1149.0,1175.8 1149.3,1173.6 1149.6,1171.1 1149.9,1168.7 1150.3,1167.0 1150.6,1165.0 1150.9,1162.8 1151.2,1160.4 1151.5,1157.9 1151.8,1155.6 1152.1,1153.6 1152.4,1151.6 1152.7,1150.1 1153.0,1148.6 1153.3,1146.2 1153.6,1143.6 1153.9,1141.4 1154.2,1139.5 1154.5,1137.8 1154.8,1136.2 1155.1,1134.4 1155.4,1131.9 1155.7,1129.8 1156.0,1127.8 1156.2,1125.7 1156.5,1123.7 1156.8,1121.4 1157.1,1119.3 1157.3,1117.5 1157.6,1115.6 1157.9,1113.8 1158.1,1111.8 1158.4,1109.2 1158.7,1106.9 1158.9,1104.9 1159.2,1102.9 1159.4,1100.7 1159.7,1098.5 1159.9,1096.7 1160.2,1094.9 1160.4,1092.8 1160.7,1090.4 1160.9,1088.2 1161.2,1086.4 1161.4,1084.4 1161.7,1082.0 1161.9,1079.9 1162.2,1078.0 1162.4,1075.7 1162.7,1073.2 1162.9,1071.3 1163.1,1069.7 1163.4,1067.7 1163.6,1065.7 1163.9,1063.5 1164.1,1061.4 1164.3,1059.5 1164.6,1057.4 1164.8,1055.1 1165.1,1053.3 1165.3,1051.9 1165.5,1049.8 1165.8,1047.0 1166.0,1044.4 1166.2,1042.0 1166.5,1040.3 1166.7,1038.5 1167.0,1036.0 1167.2,1034.0 1167.4,1032.3 1167.7,1030.3 1167.9,1028.3 1168.2,1026.1 1168.4,1023.8 1168.6,1021.9 1168.9,1020.0 1169.1,1017.7 1169.3,1015.3 1169.6,1013.5 1169.8,1011.8 1170.0,1009.5 1170.3,1007.1 1170.5,1004.9 1170.7,1002.9 1170.9,1001.2 1171.2,999.0 1171.4,996.6 1171.6,994.9 1171.8,993.0 1172.0,990.7 1172.3,988.9 1172.5,987.0 1172.7,984.3 1172.9,982.0 1173.2,980.0 1173.4,977.7 1173.6,975.6 1173.8,973.6 1174.1,971.6 1174.3,969.6 1174.5,967.4 1174.8,965.1 1175.0,963.3 1175.2,961.5 1175.5,959.3 1175.7,957.0 1175.9,954.4 1176.2,952.0 1176.4,950.6 1176.7,949.1 1176.9,946.7 1177.2,944.5 1177.5,942.6 1177.7,940.7 1178.0,938.6 1178.3,936.4 1178.6,934.4 1178.8,932.5 1179.1,930.2 1179.4,928.0 1179.7,926.0 1180.0,923.6 1180.3,921.6 1180.6,920.0 1180.9,918.0 1181.2,915.6 1181.5,913.7 1181.8,911.9 1182.1,909.7 1182.5,907.5 1182.8,905.2 1183.1,903.0 1183.4,901.2 1183.7,899.5 1184.0,897.2 1184.3,894.6 1184.6,892.6 1185.0,891.1 1185.3,889.0 1185.6,886.8 1185.9,885.0 1186.2,883.0 1186.5,880.6 1186.8,878.3 1187.1,876.3 1187.4,874.6 1187.7,872.5 1188.0,870.4 1188.3,868.4 1188.6,866.1 1188.9,864.3 1189.1,862.7 1189.4,860.5 1189.7,858.2 1190.0,856.1 1190.3,853.7 1190.6,851.6 1190.9,849.9 1191.2,848.3 1191.5,846.4 1191.7,844.0 1192.0,841.5 1192.3,839.5 1192.6,837.7 1192.9,835.5 1193.3,833.4 1193.6,831.9 1193.9,830.3 1194.2,828.1 1194.5,825.8 1194.8,823.8 1195.2,821.7 1195.5,819.4 1195.9,817.5 1196.2,815.6 1196.6,813.4 1196.9,810.9 1197.3,808.9 1197.6,807.5 1198.0,805.5 1198.4,803.1 1198.7,801.1 1199.1,798.8 1199.5,796.5 1199.9,794.6 1200.2,792.4 1200.6,790.3 1201.0,788.4 1201.3,786.6 1201.7,784.8 1202.1,782.8 1202.4,780.6 1202.8,778.7 1203.1,776.8 1203.5,774.4 1203.8,772.3 1204.2,770.2 1204.5,768.0 1204.9,766.4 1205.2,764.8 1205.5,762.4 1205.9,760.1 1206.2,758.4 1206.5,756.5 1206.9,754.1 1207.2,751.8 1207.5,749.8 1207.9,748.3 1208.2,746.5 1208.5,744.3 1208.9,742.0 1209.2,739.8 1209.5,737.9 1209.9,736.0 1210.2,734.2 1210.5,732.3 1210.8,730.0 1211.2,727.8 1211.5,725.8 1211.8,723.5 1212.1,721.5 1212.4,719.8 1212.7,717.8 1213.0,715.8 1213.4,713.8 1213.7,711.5 1214.0,709.3 1214.3,707.3 1214.6,705.4 1215.0,703.2 1215.3,701.0 1215.6,699.2 1216.0,697.2 1216.3,695.1 1216.7,693.2 1217.1,691.1 1217.5,688.8 1217.8,686.8 1218.2,684.4 1218.6,682.4 1219.1,680.9 1219.5,679.2 1219.9,677.1 1220.3,675.1 1220.8,672.9 1221.2,670.6 1221.7,668.6 1222.1,666.7 1222.6,664.4 1223.1,662.2 1223.6,660.3 1224.0,658.4 1224.5,656.3 1225.1,654.3 1225.6,652.6 1226.1,650.6 1226.6,648.3 1227.2,646.2 1227.7,644.4 1228.3,642.6 1228.9,640.8 1229.5,639.1 1230.1,636.8 1230.7,634.4 1231.3,632.4 1231.9,630.4 1232.6,628.4 1233.2,626.8 1233.9,625.0 1234.6,623.1 1235.3,621.2 1236.0,619.4 1236.7,617.5 1237.5,615.4 1238.3,613.3 1239.0,611.1 1239.8,609.4 1240.7,608.0 1241.5,606.1 1242.5,604.1 1243.5,602.2 1244.5,600.0 1245.5,598.1 1246.6,596.8 1247.7,595.0 1248.8,593.1 1249.9,591.9 1250.9,590.5 1252.0,588.5 1253.2,586.7 1254.4,584.8 1255.5,582.9 1256.6,581.0 1257.5,579.0 1258.2,577.0 1258.8,575.4 1259.2,573.5 1259.7,571.2 1260.0,569.1 1260.3,567.0 1260.4,564.7 1260.5,562.2 1260.6,559.9 1260.7,557.9 1260.8,556.3 1261.1,555.8 1262.2,556.7 1264.1,558.1 1266.2,559.0 1268.2,559.7 1270.1,560.6 1272.1,561.1 1274.1,561.1 1276.0,561.4 1278.0,561.6 1279.9,561.5 1281.9,560.9 1283.8,560.2 1285.8,559.4 1287.7,558.6 1289.7,558.2 1291.6,558.3 1293.6,558.2 1295.6,557.8 1297.6,557.3 1299.6,556.6 1301.5,555.5 1303.5,554.8 1305.4,554.4 1307.3,553.9 1309.2,553.1 1311.0,552.2 1312.7,551.2 1314.4,550.5 1316.1,549.9 1317.9,548.5 1319.6,547.0 1321.4,546.4 1323.3,545.6 1325.1,544.7 1327.0,544.2 1328.8,543.9 1330.7,543.2 1332.6,542.3 1334.5,541.6 1336.5,541.1 1338.4,540.9 1340.3,540.8 1342.3,539.9 1344.2,538.9 1346.2,538.3 1348.1,537.8 1350.1,537.4 1352.0,537.1 1354.0,536.6 1355.9,536.1 1357.9,535.5 1359.8,534.7 1361.8,534.1 1363.7,533.8 1365.7,533.4 1367.6,532.9 1369.6,532.7 1371.5,532.5 1373.5,532.2 1375.5,531.3 1377.4,530.2 1379.4,529.8 1381.4,529.6 1383.3,529.2 1385.3,528.7 1387.3,528.6 1389.3,528.4 1391.2,527.9 1393.2,527.2 1395.2,526.7 1397.2,526.7 1399.2,526.5 1401.1,526.1 1403.1,526.0 1405.1,526.2 1407.1,526.0 1409.1,525.6 1411.0,525.5 1413.0,525.6 1415.0,525.7 1417.0,525.7 1419.0,525.8 1421.0,525.8 1423.0,526.2 1424.9,526.8 1426.9,527.1 1428.9,527.4 1430.9,527.6 1432.9,527.8 1434.9,528.0 1436.9,527.8 1438.9,527.9 1440.9,528.7 1442.9,529.3 1444.9,529.8 1446.8,530.4 1448.8,530.7 1450.8,530.7 1452.8,530.7 1454.8,530.8 1456.8,531.1 1458.7,531.5 1460.7,531.8 1462.7,532.1 1464.7,532.3 1466.7,532.5 1468.7,532.5 1470.6,532.4 1472.6,532.4 1474.6,532.3 1476.6,532.1 1478.6,531.9 1480.6,532.0 1482.6,532.4 1484.6,532.7 1486.6,532.7 1488.6,532.4 1490.6,532.1 1492.6,531.8 1494.6,531.5 1496.6,531.3 1498.6,531.4 1500.6,531.2 1502.6,531.3 1504.6,531.5 1506.6,531.5 1508.6,531.3 1510.6,531.5 1512.6,531.8 1514.7,531.9 1516.7,531.8 1518.7,531.6 1520.7,531.3 1522.7,531.0 1524.7,531.1 1526.7,531.2 1528.7,531.0 1530.7,530.9 1532.7,531.2 1534.7,531.4 1536.7,531.1 1538.7,530.8 1540.7,530.7 1542.7,530.6 1544.6,530.4 1546.6,530.2 1548.6,530.4 1550.6,530.3 1552.6,529.6 1554.6,529.3 1556.6,529.3 1558.6,529.3 1560.6,529.2 1562.6,529.2 1564.6,529.0 1566.6,528.7 1568.6,528.4 1570.5,528.0 1572.5,527.6 1574.5,527.6 1576.5,527.5 1578.5,527.1 1580.5,527.0 1582.5,526.6 1584.5,526.0 1586.4,526.2 1588.4,526.5 1590.4,526.2 1592.4,525.7 1594.4,524.9 1596.4,524.4 1598.4,523.9 1600.3,523.4 1602.3,523.5 1604.3,523.5 1606.3,522.5 1608.3,521.8 1610.3,521.9 1612.3,521.7 1614.2,520.9 1616.2,520.0 1618.2,519.6 1620.2,519.6 1622.2,519.6 1624.1,519.2 1626.1,518.6 1628.0,518.2 1630.0,517.9 1632.0,518.1 1633.9,518.4 1635.8,517.9 1637.8,517.4 1639.7,517.7 1641.7,518.1 1643.6,518.3 1645.5,518.7 1647.5,519.2 1649.4,519.8 1651.3,520.5 1653.3,521.3 1655.2,521.9 1657.1,522.3 1659.1,522.6 1661.0,523.6 1662.9,525.2 1664.8,526.1 1666.7,526.7 1668.6,527.5 1670.5,528.5 1672.4,529.3 1674.3,530.2 1676.1,531.5 1678.0,532.8 1679.9,533.8 1681.7,534.8 1683.6,535.8 1685.4,536.5 1687.2,537.3 1689.0,538.6 1690.8,539.7 1692.6,540.7 1694.4,541.8 1696.2,543.1 1698.0,544.2 1699.8,544.7 1701.5,545.6 1703.3,546.8 1705.0,547.6 1706.7,548.2 1708.4,549.5 1710.1,551.1 1711.8,552.5 1713.4,553.9 1715.0,555.2 1716.5,556.8 1718.0,558.3 1719.5,559.4 1721.0,560.5 1722.5,562.0 1723.9,563.4 1725.3,565.2 1726.7,567.5 1728.1,569.1 1729.5,570.3 1730.9,571.9 1732.2,573.7 1733.6,575.3 1734.9,576.8 1736.3,578.4 1737.6,580.2 1739.0,581.6 1740.4,583.0 1741.7,584.7 1743.1,586.3 1744.5,587.9 1745.9,589.4 1747.3,591.1 1748.6,592.7 1750.0,594.0 1751.3,595.5 1752.5,597.0 1753.8,598.8 1755.0,601.0 1756.2,603.5 1757.3,605.4 1758.3,606.1 1759.3,607.6 1760.3,609.9 1761.1,611.8 1761.9,613.7 1762.7,616.2 1763.4,618.4 1764.1,620.4 1764.8,622.1 1765.5,623.6 1766.2,625.4 1766.9,627.6 1767.7,630.0 1768.5,631.8 1769.3,633.4 1770.2,635.3 1771.1,637.0 1772.1,638.5 1773.3,640.1 1774.5,641.8 1775.8,643.7 1777.1,645.3 1778.5,646.7 1780.0,648.3 1781.6,649.8 1783.2,651.6 1784.9,653.2 1786.6,654.2 1788.3,655.6 1790.1,657.1 1791.9,658.5 1793.7,659.8 1795.6,661.0 1797.4,662.1 1799.3,662.6 1801.1,663.3 1803.0,664.0 1804.9,664.4 1806.7,664.6 1808.5,664.8 1810.3,665.0 1812.2,665.2 1814.0,665.0 1816.0,664.8 1817.9,664.6 1819.9,664.3 1821.9,663.8 1823.9,663.1 1825.9,662.5 1827.9,661.9 1829.9,661.3 1831.9,660.6 1833.9,660.0 1835.9,659.7 1837.9,659.1 1839.8,658.0 1841.7,657.4 1843.6,657.1 1845.4,656.8 1847.2,656.3 1849.0,655.2 1850.8,654.1 1852.6,653.6 1854.4,653.0 1856.2,651.9 1857.9,650.8 1859.7,649.9 1861.5,649.2 1863.2,648.2 1864.9,646.7 1866.7,645.3 1868.4,644.4 1870.1,643.4 1871.8,641.9 1873.5,640.7 1875.2,639.8 1876.9,638.6 1878.6,637.0 1880.3,636.1 1882.0,635.5 1883.7,634.5 1885.4,633.3 1887.1,632.1 1888.8,631.0 1890.5,629.8 1892.2,628.0 1893.9,626.6 1895.6,626.1 1897.2,625.4 1898.9,624.1 1900.5,622.7 1902.2,621.8 1903.8,620.7 1905.5,619.4 1907.1,618.0 1908.8,616.8 1910.4,615.7 1912.0,614.5 1913.7,613.5 1915.3,612.5 1917.0,611.0 1918.6,609.8 1920.2,608.8 1921.9,607.6 1923.6,606.4 1925.2,605.6 1926.9,604.5 1928.6,603.0 1930.3,601.9 1932.0,601.2 1933.7,600.1 1935.4,598.8 1937.1,598.0 1938.9,597.1 1940.6,595.6 1942.4,594.3 1944.1,593.1 1945.9,592.3 1947.6,591.3 1949.4,590.3 1951.2,589.5 1953.0,588.4 1954.8,587.3 1956.6,586.6 1958.4,585.9 1960.2,585.3 1962.0,584.4 1963.8,583.4 1965.6,582.2 1967.5,581.0 1969.3,580.3 1971.2,579.8 1973.0,578.9 1974.9,577.9 1976.7,577.4 1978.6,577.0 1980.5,576.3 1982.4,575.6 1984.3,575.1 1986.2,575.0 1988.1,574.6 1990.0,573.8 1992.0,573.0 1994.0,572.9 1995.9,573.1 1997.9,572.5 1999.9,571.8 2001.9,571.4 2003.9,570.8 2005.9,570.6 2007.9,570.4 2009.9,570.2 2011.9,570.1 2013.9,569.7 2015.9,569.3 2017.9,569.2 2019.9,569.2 2021.9,569.1 2023.8,569.1 2025.8,569.1 2027.8,569.4 2029.8,569.4 2031.8,569.3 2033.8,569.6 2035.8,570.0 2037.7,570.3 2039.7,570.4 2041.7,570.9 2043.7,571.4 2045.7,571.7 2047.7,571.9 2049.6,572.2 2051.6,572.7 2053.6,573.5 2055.5,574.2 2057.5,574.4 2059.4,574.5 2061.3,574.9 2063.3,575.5 2065.2,576.0 2067.1,576.8 2069.0,577.9 2070.9,578.8 2072.8,579.5 2074.7,580.7 2076.6,581.2 2078.5,581.2 2080.3,582.5 2082.2,584.0 2084.0,584.7 2085.7,585.2 2087.5,585.9 2089.3,586.2 2091.0,587.2 2092.7,589.0 2094.5,590.4 2096.2,590.7 2097.9,591.3 2099.6,592.7 2101.3,592.9 2103.0,593.1 2104.6,595.9 2106.2,599.2 2107.8,600.0 2109.4,600.9 2111.0,602.2 2112.6,602.5 2114.1,603.8 2115.6,606.0 2117.0,607.5 2118.5,608.1 2119.9,608.7 2121.3,610.8 2122.7,612.8 2124.1,613.2 2125.4,613.5 2126.8,615.3 2128.1,618.1 2129.5,618.6 2130.8,618.4 2132.1,619.1 2133.4,618.5 2134.6,620.9 2135.9,625.9 2137.1,627.7 2138.3,629.3 2139.5,632.6 2140.6,634.8 2141.8,637.9 2142.9,641.1 2144.0,640.6 2145.0,641.4 2146.1,645.7 2147.1,648.5 2148.0,648.3 2148.9,649.1 2149.7,654.0 2150.5,658.8 2151.3,662.2 2152.1,664.0 2152.9,661.0 2153.7,659.5 2154.5,663.2 2155.3,665.9 2156.2,666.7 2157.1,667.7 2158.0,668.6 2159.0,670.8 2160.1,675.0 2161.2,678.3 2162.5,679.1 2163.8,679.8 2165.3,683.1 2166.9,687.4 2168.6,689.8 2170.3,689.2 2172.0,686.3 2173.6,683.6 2175.3,686.3 2176.9,689.7 2178.4,690.6 2180.0,693.9 2181.7,696.1 2183.3,696.2 2184.9,697.7 2186.5,699.9 2188.1,699.8 2189.6,701.5 2191.1,704.7 2192.6,702.7 2194.0,700.2 2195.3,703.1 2196.6,707.9 2197.8,705.7 2199.0,701.9 2200.1,704.8 2201.2,713.0 2202.2,719.4 2203.2,717.3 2204.2,713.9 2205.2,720.1 2206.2,727.8 2207.2,727.1 2208.2,727.7 2209.2,732.3 2210.2,735.5 2211.2,738.2 2212.2,738.8 2213.3,738.5 2214.4,738.4 2215.6,739.1 2216.8,742.7 2218.0,744.0 2219.3,741.8 2220.6,741.7 2222.0,746.3 2223.3,751.9 2224.8,752.9 2226.2,748.7 2227.7,749.5 2229.1,755.7 2230.6,759.1 2232.2,761.4 2233.7,762.3 2235.3,762.4 2236.8,761.7 2238.4,762.3 2240.0,765.5 2241.5,767.1 2243.1,769.2 2244.7,772.6 2246.3,773.1 2247.8,772.4 2249.4,771.9 2251.0,775.8 2252.6,781.4 2254.2,782.1 2255.8,781.6 2257.5,782.9 2259.1,784.1 2260.8,783.5 2262.5,784.3 2264.1,786.6 2265.8,787.6 2267.5,786.7 2269.2,787.4 2270.8,793.9 2272.5,797.7 2274.1,793.3 2275.7,789.6 2277.4,793.0 2279.0,798.0 2280.5,798.4 2282.1,797.8 2283.7,799.7 2285.3,801.6 2286.8,802.1 2288.4,803.8 2289.9,806.8 2291.5,811.5 2293.0,815.9 2294.5,814.8 2296.1,811.9 2297.6,812.8 2299.1,812.1 2300.6,814.6 2302.1,819.9 2303.6,817.9 2305.1,816.1 2306.0,817.7 L2306.0,842.3 2305.1,840.4 2303.6,840.9 2302.1,844.4 2300.6,842.1 2299.1,838.5 2297.6,838.5 2296.1,839.1 2294.5,838.7 2293.0,836.8 2291.5,835.5 2289.9,833.4 2288.4,828.2 2286.8,822.9 2285.3,821.5 2283.7,821.1 2282.1,819.6 2280.5,820.3 2279.0,818.4 2277.4,815.0 2275.7,816.5 2274.1,820.6 2272.5,823.5 2270.8,821.3 2269.2,818.4 2267.5,818.6 2265.8,816.3 2264.1,813.2 2262.5,812.3 2260.8,812.5 2259.1,811.4 2257.5,809.2 2255.8,810.7 2254.2,812.7 2252.6,809.9 2251.0,805.0 2249.4,801.6 2247.8,799.5 2246.3,798.4 2244.7,798.5 2243.1,799.8 2241.5,799.3 2240.0,797.3 2238.4,796.7 2236.8,796.0 2235.3,795.1 2233.7,794.5 2232.2,793.0 2230.6,790.6 2229.1,789.2 2227.7,786.1 2226.2,784.9 2224.8,788.9 2223.3,789.1 2222.0,784.0 2220.6,783.0 2219.3,785.0 2218.0,781.0 2216.8,774.5 2215.6,773.3 2214.4,773.1 2213.3,770.5 2212.2,770.6 2211.2,771.8 2210.2,770.7 2209.2,767.4 2208.2,761.9 2207.2,760.2 2206.2,761.5 2205.2,757.1 2204.2,750.7 2203.2,752.6 2202.2,757.5 2201.2,753.0 2200.1,745.8 2199.0,744.5 2197.8,747.2 2196.6,746.6 2195.3,741.6 2194.0,741.2 2192.6,746.1 2191.1,747.7 2189.6,743.2 2188.1,741.9 2186.5,742.8 2184.9,740.7 2183.3,738.1 2181.7,737.2 2180.0,735.7 2178.4,729.8 2176.9,726.8 2175.3,726.9 2173.6,725.7 2172.0,726.4 2170.3,729.8 2168.6,730.9 2166.9,728.8 2165.3,726.1 2163.8,724.7 2162.5,725.0 2161.2,722.1 2160.1,716.8 2159.0,716.4 2158.0,718.8 2157.1,715.7 2156.2,712.6 2155.3,712.6 2154.5,709.0 2153.7,706.6 2152.9,708.4 2152.1,707.8 2151.3,703.7 2150.5,699.3 2149.7,696.1 2148.9,696.0 2148.0,696.8 2147.1,695.4 2146.1,694.1 2145.0,692.8 2144.0,691.5 2142.9,689.8 2141.8,685.3 2140.6,681.5 2139.5,679.3 2138.3,677.1 2137.1,677.3 2135.9,675.4 2134.6,670.1 2133.4,668.4 2132.1,668.0 2130.8,667.2 2129.5,668.3 2128.1,669.0 2126.8,667.6 2125.4,664.8 2124.1,663.6 2122.7,662.9 2121.3,659.3 2119.9,656.1 2118.5,655.0 2117.0,654.6 2115.6,654.9 2114.1,654.5 2112.6,654.2 2111.0,654.0 2109.4,651.8 2107.8,649.6 2106.2,647.7 2104.6,646.1 2103.0,646.1 2101.3,645.4 2099.6,643.5 2097.9,642.0 2096.2,640.6 2094.5,639.3 2092.7,638.7 2091.0,637.7 2089.3,636.9 2087.5,635.7 2085.7,634.0 2084.0,633.8 2082.2,633.7 2080.3,632.4 2078.5,631.0 2076.6,630.3 2074.7,629.4 2072.8,629.0 2070.9,629.6 2069.0,629.3 2067.1,628.1 2065.2,627.9 2063.3,627.7 2061.3,627.2 2059.4,627.1 2057.5,626.6 2055.5,626.0 2053.6,625.2 2051.6,624.5 2049.6,624.2 2047.7,623.9 2045.7,623.2 2043.7,622.9 2041.7,623.0 2039.7,622.6 2037.7,621.8 2035.8,621.3 2033.8,621.4 2031.8,621.4 2029.8,621.4 2027.8,621.4 2025.8,621.3 2023.8,621.0 2021.9,620.8 2019.9,620.8 2017.9,621.1 2015.9,621.4 2013.9,621.5 2011.9,621.9 2009.9,622.3 2007.9,622.5 2005.9,622.4 2003.9,622.8 2001.9,623.6 1999.9,623.8 1997.9,623.8 1995.9,624.1 1994.0,624.4 1992.0,624.7 1990.0,625.3 1988.1,626.1 1986.2,626.4 1984.3,626.5 1982.4,627.0 1980.5,627.9 1978.6,628.6 1976.7,628.9 1974.9,629.6 1973.0,630.2 1971.2,630.9 1969.3,631.8 1967.5,632.7 1965.6,633.3 1963.8,634.1 1962.0,635.2 1960.2,636.0 1958.4,636.9 1956.6,638.0 1954.8,638.7 1953.0,639.4 1951.2,640.3 1949.4,641.2 1947.6,642.1 1945.9,643.1 1944.1,644.2 1942.4,645.0 1940.6,646.1 1938.9,647.3 1937.1,648.3 1935.4,649.4 1933.7,650.4 1932.0,651.3 1930.3,652.1 1928.6,653.1 1926.9,654.0 1925.2,654.8 1923.6,656.1 1921.9,657.0 1920.2,657.8 1918.6,658.8 1917.0,660.1 1915.3,661.7 1913.7,663.2 1912.0,664.4 1910.4,665.5 1908.8,666.2 1907.1,666.8 1905.5,667.9 1903.8,669.5 1902.2,670.8 1900.5,671.5 1898.9,672.6 1897.2,674.1 1895.6,675.1 1893.9,676.1 1892.2,677.4 1890.5,678.6 1888.8,679.6 1887.1,680.9 1885.4,681.9 1883.7,682.4 1882.0,683.3 1880.3,684.5 1878.6,685.6 1876.9,686.7 1875.2,688.0 1873.5,689.2 1871.8,690.3 1870.1,691.5 1868.4,692.0 1866.7,692.4 1864.9,693.7 1863.2,695.1 1861.5,696.4 1859.7,697.3 1857.9,697.8 1856.2,698.7 1854.4,700.0 1852.6,700.8 1850.8,701.6 1849.0,702.5 1847.2,703.0 1845.4,703.6 1843.6,704.2 1841.7,704.5 1839.8,705.2 1837.9,706.2 1835.9,706.7 1833.9,707.1 1831.9,707.9 1829.9,708.9 1827.9,709.2 1825.9,709.3 1823.9,709.6 1821.9,710.2 1819.9,710.9 1817.9,711.4 1816.0,711.7 1814.0,711.9 1812.2,711.9 1810.3,711.5 1808.5,711.5 1806.7,711.3 1804.9,710.6 1803.0,710.3 1801.1,710.1 1799.3,709.7 1797.4,709.1 1795.6,708.0 1793.7,706.6 1791.9,705.2 1790.1,703.8 1788.3,702.8 1786.6,702.0 1784.9,700.6 1783.2,698.8 1781.6,697.2 1780.0,695.8 1778.5,694.5 1777.1,693.2 1775.8,691.8 1774.5,690.4 1773.3,689.3 1772.1,688.0 1771.1,686.2 1770.2,684.6 1769.3,683.2 1768.5,681.7 1767.7,680.0 1766.9,677.9 1766.2,675.6 1765.5,673.7 1764.8,672.8 1764.1,671.3 1763.4,669.1 1762.7,667.0 1761.9,664.8 1761.1,663.0 1760.3,661.9 1759.3,660.4 1758.3,658.3 1757.3,657.0 1756.2,655.4 1755.0,653.3 1753.8,651.8 1752.5,650.8 1751.3,649.6 1750.0,648.4 1748.6,647.2 1747.3,645.6 1745.9,644.4 1744.5,643.0 1743.1,641.3 1741.7,639.9 1740.4,638.7 1739.0,637.4 1737.6,635.7 1736.3,633.9 1734.9,632.5 1733.6,631.4 1732.2,630.0 1730.9,628.4 1729.5,627.1 1728.1,626.0 1726.7,624.8 1725.3,623.3 1723.9,621.8 1722.5,620.7 1721.0,619.5 1719.5,618.1 1718.0,616.8 1716.5,615.6 1715.0,614.7 1713.4,614.1 1711.8,613.0 1710.1,611.7 1708.4,610.8 1706.7,610.2 1705.0,609.5 1703.3,608.7 1701.5,607.6 1699.8,606.7 1698.0,606.1 1696.2,605.2 1694.4,604.2 1692.6,603.3 1690.8,602.3 1689.0,601.8 1687.2,601.6 1685.4,600.8 1683.6,599.7 1681.7,598.9 1679.9,598.6 1678.0,598.0 1676.1,596.6 1674.3,595.6 1672.4,595.4 1670.5,595.0 1668.6,594.4 1666.7,593.7 1664.8,593.2 1662.9,592.6 1661.0,592.0 1659.1,591.7 1657.1,591.4 1655.2,590.7 1653.3,589.8 1651.3,589.2 1649.4,588.9 1647.5,588.5 1645.5,587.9 1643.6,587.3 1641.7,587.1 1639.7,587.0 1637.8,586.9 1635.8,587.2 1633.9,587.5 1632.0,587.4 1630.0,587.3 1628.0,587.5 1626.1,588.0 1624.1,588.5 1622.2,588.8 1620.2,588.9 1618.2,588.9 1616.2,589.4 1614.2,590.1 1612.3,590.7 1610.3,591.2 1608.3,591.5 1606.3,591.9 1604.3,592.2 1602.3,592.1 1600.3,592.3 1598.4,593.0 1596.4,593.5 1594.4,594.0 1592.4,594.4 1590.4,594.5 1588.4,594.8 1586.4,595.2 1584.5,595.3 1582.5,595.3 1580.5,595.6 1578.5,596.1 1576.5,596.3 1574.5,596.2 1572.5,596.2 1570.5,596.7 1568.6,597.2 1566.6,597.4 1564.6,597.5 1562.6,597.6 1560.6,597.7 1558.6,597.8 1556.6,597.8 1554.6,597.9 1552.6,598.2 1550.6,598.6 1548.6,598.6 1546.6,598.9 1544.6,598.9 1542.7,599.0 1540.7,599.2 1538.7,599.4 1536.7,599.5 1534.7,599.5 1532.7,599.5 1530.7,599.5 1528.7,599.3 1526.7,599.5 1524.7,599.7 1522.7,599.9 1520.7,600.3 1518.7,600.1 1516.7,599.9 1514.7,600.3 1512.6,600.5 1510.6,600.4 1508.6,600.2 1506.6,600.2 1504.6,600.3 1502.6,600.5 1500.6,600.7 1498.6,600.7 1496.6,600.6 1494.6,600.8 1492.6,600.7 1490.6,600.6 1488.6,600.9 1486.6,601.2 1484.6,601.2 1482.6,601.2 1480.6,601.1 1478.6,600.7 1476.6,600.6 1474.6,601.0 1472.6,601.5 1470.6,601.4 1468.7,601.3 1466.7,601.3 1464.7,600.9 1462.7,600.8 1460.7,600.9 1458.7,600.5 1456.8,600.1 1454.8,599.6 1452.8,599.2 1450.8,599.3 1448.8,599.0 1446.8,598.1 1444.9,597.7 1442.9,597.6 1440.9,597.4 1438.9,597.0 1436.9,596.7 1434.9,596.6 1432.9,596.4 1430.9,595.9 1428.9,595.7 1426.9,595.9 1424.9,595.8 1423.0,595.3 1421.0,595.0 1419.0,594.9 1417.0,594.8 1415.0,594.6 1413.0,594.5 1411.0,594.3 1409.1,594.2 1407.1,594.8 1405.1,595.3 1403.1,595.5 1401.1,595.6 1399.2,595.7 1397.2,595.7 1395.2,595.8 1393.2,596.1 1391.2,596.6 1389.3,597.1 1387.3,597.3 1385.3,597.5 1383.3,598.1 1381.4,598.6 1379.4,598.8 1377.4,599.2 1375.5,599.7 1373.5,600.2 1371.5,600.7 1369.6,601.2 1367.6,601.4 1365.7,601.6 1363.7,602.0 1361.8,602.4 1359.8,602.7 1357.9,603.3 1355.9,604.1 1354.0,604.9 1352.0,605.7 1350.1,605.6 1348.1,605.8 1346.2,606.7 1344.2,607.3 1342.3,607.3 1340.3,607.7 1338.4,608.6 1336.5,609.1 1334.5,609.7 1332.6,610.5 1330.7,611.1 1328.8,611.7 1327.0,612.2 1325.1,612.6 1323.3,613.1 1321.4,613.9 1319.6,614.7 1317.9,615.8 1316.1,617.2 1314.4,618.0 1312.7,618.9 1311.0,619.9 1309.2,620.8 1307.3,621.4 1305.4,621.7 1303.5,622.2 1301.5,622.6 1299.6,623.2 1297.6,624.0 1295.6,624.2 1293.6,624.5 1291.6,624.9 1289.7,624.9 1287.7,625.6 1285.8,626.2 1283.8,626.4 1281.9,627.2 1279.9,627.8 1278.0,627.9 1276.0,628.0 1274.1,627.9 1272.1,627.8 1270.1,627.6 1268.2,627.0 1266.2,625.9 1264.1,624.8 1262.2,623.6 1261.1,622.4 1260.8,622.5 1260.7,623.8 1260.6,625.7 1260.5,628.4 1260.4,631.2 1260.3,633.5 1260.0,635.6 1259.7,637.5 1259.2,639.3 1258.8,640.8 1258.2,642.4 1257.5,644.4 1256.6,646.4 1255.5,648.1 1254.4,649.5 1253.2,650.7 1252.0,652.2 1250.9,654.0 1249.9,656.1 1248.8,657.9 1247.7,659.5 1246.6,661.0 1245.5,662.3 1244.5,663.9 1243.5,665.7 1242.5,667.5 1241.5,669.4 1240.7,671.0 1239.8,672.4 1239.0,674.0 1238.3,675.9 1237.5,678.1 1236.7,680.5 1236.0,682.2 1235.3,683.7 1234.6,685.3 1233.9,686.8 1233.2,688.7 1232.6,690.7 1231.9,692.1 1231.3,694.0 1230.7,696.4 1230.1,698.4 1229.5,700.3 1228.9,702.2 1228.3,703.6 1227.7,705.2 1227.2,706.9 1226.6,708.9 1226.1,711.2 1225.6,713.2 1225.1,714.9 1224.5,716.6 1224.0,718.2 1223.6,720.2 1223.1,722.3 1222.6,724.2 1222.1,726.3 1221.7,728.3 1221.2,730.2 1220.8,732.1 1220.3,733.6 1219.9,735.4 1219.5,737.5 1219.1,739.2 1218.6,741.0 1218.2,743.1 1217.8,744.9 1217.5,746.6 1217.1,748.4 1216.7,750.2 1216.3,752.1 1216.0,754.5 1215.6,756.5 1215.3,758.4 1215.0,760.5 1214.6,762.3 1214.3,763.9 1214.0,765.7 1213.7,767.8 1213.4,769.9 1213.0,771.8 1212.7,773.4 1212.4,775.0 1212.1,776.6 1211.8,778.4 1211.5,780.5 1211.2,782.6 1210.8,784.9 1210.5,787.1 1210.2,788.8 1209.9,790.4 1209.5,792.3 1209.2,794.6 1208.9,796.7 1208.5,798.3 1208.2,800.0 1207.9,802.0 1207.5,803.9 1207.2,805.7 1206.9,807.7 1206.5,809.9 1206.2,811.8 1205.9,813.6 1205.5,815.5 1205.2,817.6 1204.9,819.3 1204.5,820.9 1204.2,822.9 1203.8,824.8 1203.5,826.6 1203.1,828.5 1202.8,830.4 1202.4,832.2 1202.1,834.3 1201.7,836.2 1201.3,838.0 1201.0,839.8 1200.6,841.4 1200.2,843.3 1199.9,845.6 1199.5,847.7 1199.1,849.7 1198.7,851.6 1198.4,853.4 1198.0,855.2 1197.6,857.1 1197.3,859.0 1196.9,861.0 1196.6,863.1 1196.2,865.3 1195.9,867.4 1195.5,869.4 1195.2,870.8 1194.8,872.3 1194.5,874.2 1194.2,876.4 1193.9,878.4 1193.6,880.0 1193.3,881.5 1192.9,883.2 1192.6,885.2 1192.3,887.1 1192.0,889.1 1191.7,891.4 1191.5,893.5 1191.2,895.4 1190.9,897.0 1190.6,898.7 1190.3,900.8 1190.0,903.0 1189.7,904.8 1189.4,906.4 1189.1,908.3 1188.9,910.2 1188.6,912.4 1188.3,914.4 1188.0,916.1 1187.7,917.9 1187.4,920.0 1187.1,921.8 1186.8,923.2 1186.5,925.5 1186.2,928.1 1185.9,929.9 1185.6,931.6 1185.3,933.6 1185.0,935.7 1184.6,937.3 1184.3,938.7 1184.0,941.1 1183.7,943.5 1183.4,945.1 1183.1,946.5 1182.8,948.6 1182.5,950.9 1182.1,953.1 1181.8,954.8 1181.5,956.2 1181.2,958.0 1180.9,960.2 1180.6,962.2 1180.3,963.8 1180.0,965.7 1179.7,968.0 1179.4,969.9 1179.1,971.5 1178.8,973.3 1178.6,975.1 1178.3,976.9 1178.0,979.0 1177.7,980.8 1177.5,982.4 1177.2,984.3 1176.9,986.2 1176.7,988.1 1176.4,990.0 1176.2,992.0 1175.9,994.2 1175.7,995.9 1175.5,997.8 1175.2,999.9 1175.0,1001.6 1174.8,1003.1 1174.5,1004.8 1174.3,1007.0 1174.1,1008.9 1173.8,1010.6 1173.6,1012.4 1173.4,1014.3 1173.2,1016.4 1172.9,1018.4 1172.7,1020.3 1172.5,1022.1 1172.3,1023.7 1172.0,1025.6 1171.8,1027.6 1171.6,1029.4 1171.4,1031.4 1171.2,1033.5 1170.9,1035.3 1170.7,1037.0 1170.5,1038.8 1170.3,1040.7 1170.0,1042.9 1169.8,1044.9 1169.6,1046.6 1169.3,1048.6 1169.1,1050.8 1168.9,1052.9 1168.6,1054.8 1168.4,1056.6 1168.2,1058.4 1167.9,1060.2 1167.7,1062.2 1167.4,1064.2 1167.2,1065.8 1167.0,1067.4 1166.7,1069.4 1166.5,1071.2 1166.2,1073.0 1166.0,1074.9 1165.8,1076.7 1165.5,1078.8 1165.3,1080.5 1165.1,1082.1 1164.8,1084.3 1164.6,1086.7 1164.3,1088.6 1164.1,1090.4 1163.9,1092.3 1163.6,1094.1 1163.4,1096.0 1163.1,1097.9 1162.9,1099.5 1162.7,1101.3 1162.4,1103.4 1162.2,1105.8 1161.9,1107.9 1161.7,1109.4 1161.4,1111.3 1161.2,1113.8 1160.9,1115.8 1160.7,1117.4 1160.4,1118.9 1160.2,1120.7 1159.9,1122.7 1159.7,1124.5 1159.4,1126.3 1159.2,1128.3 1158.9,1130.1 1158.7,1132.0 1158.4,1134.1 1158.1,1136.3 1157.9,1138.1 1157.6,1139.6 1157.3,1141.2 1157.1,1143.1 1156.8,1145.2 1156.5,1147.2 1156.2,1149.2 1156.0,1151.0 1155.7,1152.6 1155.4,1154.5 1155.1,1156.5 1154.8,1158.4 1154.5,1160.1 1154.2,1161.9 1153.9,1163.9 1153.6,1165.9 1153.3,1168.0 1153.0,1169.8 1152.7,1171.3 1152.4,1172.9 1152.1,1175.0 1151.8,1177.3 1151.5,1179.4 1151.2,1181.3 1150.9,1183.4 1150.6,1185.3 1150.3,1187.1 1149.9,1188.6 1149.6,1190.5 1149.3,1192.7 1149.0,1194.4 1148.7,1196.2 1148.3,1198.1 1148.0,1200.2 1147.7,1202.3 1147.4,1204.2 1147.0,1205.5 1146.7,1207.0 1146.4,1209.4 1146.0,1212.0 1145.7,1214.0 1145.4,1215.5 1145.0,1216.9 1144.7,1218.5 1144.4,1220.4 1144.0,1222.5 1143.7,1224.6 1143.3,1226.7 1143.0,1228.3 1142.7,1230.2 1142.3,1232.5 1142.0,1234.4 1141.6,1236.3 1141.3,1238.2 1141.0,1239.9 1140.6,1241.9 1140.3,1243.9 1139.9,1245.6 1139.6,1247.3 1139.2,1249.2 1138.9,1251.0 1138.5,1252.9 1138.1,1255.1 1137.8,1256.9 1137.4,1258.6 1137.0,1260.3 1136.6,1262.0 1136.2,1263.9 1135.8,1266.2 1135.4,1268.2 1134.9,1270.0 1134.5,1271.9 1134.1,1273.7 1133.7,1275.6 1133.3,1277.5 1132.8,1279.3 1132.4,1281.4 1132.0,1283.5 1131.5,1285.2 1131.1,1286.7 1130.7,1288.5 1130.3,1290.8 1129.9,1293.1 1129.4,1294.9 1129.0,1296.3 1128.6,1297.9 1128.2,1300.0 1127.8,1302.1 1127.4,1304.1 1127.0,1306.0 1126.6,1307.9 1126.2,1309.9 1125.8,1311.9 1125.5,1314.0 1125.1,1315.4 1124.8,1316.6 1124.4,1318.8 1124.1,1321.3 1123.7,1323.2 1123.4,1324.8 1123.1,1327.0 1122.8,1329.2 1122.5,1330.9 1122.3,1332.6 1122.0,1334.7 1121.7,1336.5 1121.5,1338.3 1121.3,1340.3 1121.1,1342.1 1120.9,1343.6 1120.7,1345.9 1120.6,1348.7 1120.5,1350.8 1120.3,1352.1 1120.2,1353.7 1120.1,1355.8 1120.0,1357.5 1119.8,1359.6 1119.6,1361.9 1119.4,1363.7 1119.0,1365.7 1118.6,1367.8 1118.1,1369.4 1117.5,1371.0 1116.9,1373.2 1116.3,1375.2 1115.7,1376.8 1115.2,1378.6 1114.7,1380.2 1114.2,1381.7 1113.7,1383.5 1113.1,1385.7 1112.6,1388.0 1112.1,1389.6 1111.6,1391.3 1111.1,1393.4 1110.5,1395.4 1110.0,1397.4 1109.5,1399.4 1109.0,1401.1 1108.5,1402.8 1108.0,1404.9 1107.5,1406.7 1107.0,1408.5 1106.5,1410.4 1106.0,1412.7 1105.6,1414.8 1105.1,1416.4 1104.6,1418.1 1104.1,1419.9 1103.5,1421.7 1103.0,1423.7 1102.5,1425.6 1101.9,1427.3 1101.4,1429.2 1100.8,1431.4 1100.3,1433.5 1099.7,1435.3 1099.1,1436.9 1098.5,1438.4 1097.9,1440.1 1097.2,1442.1 1096.6,1444.1 1095.9,1446.2 1095.3,1448.4 1094.6,1450.4 1093.9,1451.7 1093.2,1453.1 1092.4,1455.2 1091.6,1457.1 1090.8,1459.2 1089.9,1461.4 1089.0,1463.0 1088.0,1464.2 1086.9,1465.5 1085.8,1466.8 1084.6,1468.6 1083.3,1470.5 1082.0,1472.0 1080.7,1473.0 1079.2,1474.4 1077.7,1476.1 1076.0,1477.4 1074.4,1478.0 1072.6,1479.0 1070.8,1480.1 1069.0,1481.1 1067.2,1481.6 1065.4,1482.2 1063.4,1482.8 1061.5,1483.6 1059.5,1484.2 1057.6,1484.1 1055.6,1484.5 1053.6,1485.0 1051.6,1485.0 1049.6,1485.2 1047.6,1485.2 1045.6,1485.4 1043.6,1485.6 1041.6,1485.2 1039.6,1484.7 1037.5,1484.8 1035.5,1485.2 1033.5,1485.2 1031.5,1484.8 1029.5,1484.7 1027.5,1484.8 1025.5,1484.9 1023.5,1484.5 1021.5,1484.2 1019.5,1484.0 1017.5,1484.3 1015.5,1484.7 1013.6,1484.4 1011.6,1484.0 1009.6,1483.7 1007.6,1483.6 1005.6,1483.3 1003.6,1483.0 1001.7,1483.0 999.7,1482.5 997.7,1481.7 995.7,1481.3 993.8,1481.2 991.8,1481.3 989.8,1481.0 987.9,1480.2 985.9,1479.7 984.0,1479.2 982.0,1478.5 980.1,1477.8 978.2,1477.2 976.3,1476.6 974.4,1475.8 972.5,1475.2 970.6,1474.4 968.8,1473.7 966.9,1473.5 965.1,1472.6 963.2,1471.4 961.4,1470.4 959.6,1469.6 957.8,1468.8 955.9,1467.7 954.1,1466.9 952.3,1466.3 950.4,1465.2 948.6,1464.3 946.7,1464.2 944.8,1463.9 942.9,1463.4 941.0,1462.7 939.1,1462.4 937.1,1462.6 935.1,1462.3 933.1,1461.9 931.2,1462.1 929.1,1462.2 927.1,1462.4 925.1,1462.4 923.1,1461.9 921.1,1461.6 919.0,1461.7 917.0,1461.5 915.0,1461.1 913.0,1460.9 911.0,1460.8 909.0,1460.9 907.0,1461.2 905.1,1460.9 903.1,1460.1 901.2,1459.5 899.3,1459.0 897.3,1458.4 895.4,1458.0 893.5,1457.6 891.6,1456.8 889.7,1456.5 887.8,1456.6 885.9,1456.4 884.0,1455.4 882.1,1454.2 880.2,1453.3 878.3,1452.5 876.4,1451.7 874.4,1451.1 872.5,1450.7 870.6,1450.0 868.7,1449.5 866.7,1449.4 864.8,1449.0 862.8,1448.5 860.9,1448.2 858.9,1447.9 857.0,1447.6 855.1,1446.8 853.1,1446.1 851.2,1445.8 849.2,1445.4 847.3,1444.9 845.4,1444.1 843.5,1443.3 841.5,1442.9 839.6,1442.3 837.7,1441.7 835.7,1441.4 833.8,1440.8 831.9,1440.0 830.0,1439.0 828.1,1438.4 826.1,1438.3 824.2,1438.0 822.4,1437.2 820.5,1436.5 818.6,1435.6 816.8,1434.9 814.9,1434.5 813.1,1433.7 811.3,1432.5 809.5,1431.8 807.8,1430.8 806.0,1429.5 804.3,1428.5 802.5,1427.7 800.8,1426.8 799.1,1425.7 797.4,1424.7 795.7,1423.5 794.1,1422.1 792.4,1421.0 790.7,1420.1 789.0,1419.0 787.3,1417.8 785.6,1416.9 784.0,1416.0 782.3,1414.9 780.7,1413.6 779.0,1412.3 777.4,1411.1 775.7,1410.0 774.1,1408.8 772.4,1407.7 770.7,1406.6 769.0,1405.9 767.3,1405.2 765.6,1404.3 763.8,1403.1 762.0,1402.1 760.1,1401.5 758.3,1400.7 756.4,1399.9 754.4,1399.3 752.5,1398.5 750.6,1397.8 748.7,1397.3 746.7,1396.7 744.8,1396.9 742.8,1397.1 740.9,1397.1 738.9,1397.0 736.9,1396.7 735.0,1397.1 733.0,1397.9 731.0,1398.4 729.0,1398.5 727.0,1398.8 725.0,1399.5 723.0,1400.1 721.1,1400.5 719.2,1401.2 717.3,1401.7 715.4,1401.8 713.5,1402.2 711.5,1402.8 709.6,1403.6 707.8,1404.5 705.9,1405.5 704.0,1406.2 702.2,1406.9 700.4,1407.8 698.6,1408.7 696.9,1409.8 695.3,1411.3 693.6,1412.5 692.1,1413.4 690.5,1414.3 689.0,1415.3 687.5,1416.5 686.0,1417.9 684.6,1419.5 683.2,1421.1 681.8,1422.3 680.4,1423.5 679.0,1425.2 677.7,1427.1 676.3,1429.1 675.0,1430.7 673.7,1431.4 672.3,1432.8 671.0,1434.7 669.7,1436.2 668.5,1437.7 667.2,1439.2 666.0,1440.9 664.8,1442.4 663.6,1443.8 662.5,1445.7 661.3,1447.7 660.1,1449.1 659.0,1450.5 657.8,1452.6 656.7,1454.7 655.5,1456.3 654.3,1457.7 653.1,1459.1 651.8,1460.3 650.5,1461.5 649.2,1463.3 647.9,1464.9 646.4,1466.0 645.0,1467.0 643.5,1468.3 642.0,1469.6 640.4,1470.6 638.8,1471.7 637.2,1473.2 635.6,1474.9 633.9,1476.1 632.2,1477.1 630.5,1478.1 628.7,1479.2 627.0,1480.3 625.2,1481.2 623.4,1482.1 621.6,1482.6 619.8,1483.2 617.9,1484.0 616.0,1484.5 614.0,1484.7 612.1,1485.1 610.1,1485.5 608.1,1485.8 606.1,1486.2 604.1,1486.5 602.1,1486.8 600.2,1487.2 598.2,1487.5 596.2,1488.1 594.3,1488.5 592.3,1488.6 590.3,1489.3 588.3,1490.2 586.4,1490.4 584.4,1490.2 582.4,1490.2 580.4,1490.4 578.4,1490.5 576.4,1490.8 574.5,1491.1 572.5,1490.9 570.5,1490.7 568.5,1490.5 566.5,1490.8 564.5,1491.5 562.5,1491.7 560.5,1491.9 558.5,1491.9 556.5,1491.7 554.5,1491.8 552.5,1491.9 550.5,1492.1 548.5,1492.5 546.5,1492.6 544.5,1492.6 542.5,1492.9 540.5,1492.9 538.5,1492.4 536.5,1492.4 534.5,1492.8 532.5,1493.2 530.5,1493.4 528.5,1493.1 526.5,1493.1 524.5,1493.0 522.5,1492.7 520.5,1492.6 518.5,1493.0 516.5,1493.2 514.5,1492.8 512.5,1492.5 510.5,1493.4 508.5,1494.3 506.5,1494.3 504.5,1494.0 502.5,1494.1 500.5,1494.5 498.5,1494.8 496.5,1494.7 494.5,1494.4 492.5,1494.2 490.5,1494.6 488.5,1494.9 486.5,1495.1 484.5,1495.2 482.5,1495.1 480.5,1495.2 478.6,1495.5 476.6,1495.7 474.6,1495.8 472.6,1496.6 470.6,1497.7 468.6,1498.0 466.6,1497.8 464.6,1497.6 462.6,1497.5 460.6,1497.7 458.6,1498.0 456.6,1498.1 454.7,1498.2 452.7,1498.5 450.7,1499.0 448.7,1498.9 446.7,1498.8 444.7,1498.8 442.7,1498.8 440.7,1499.0 438.7,1499.0 436.7,1498.9 434.7,1499.5 432.7,1499.7 430.7,1499.2 428.7,1499.3 426.7,1499.6 424.7,1499.4 422.7,1499.6 420.7,1499.9 418.7,1499.7 416.7,1500.1 414.7,1500.4 412.7,1500.1 410.7,1500.1 408.7,1500.1 406.7,1499.9 404.7,1499.6 402.7,1500.0 400.7,1500.4 398.7,1500.1 396.7,1499.5 394.7,1499.3 392.7,1499.8 390.7,1500.1 388.7,1500.1 386.7,1500.2 384.7,1500.5 382.7,1500.3 380.7,1500.0 378.7,1500.0 376.7,1500.3 374.7,1500.8 372.7,1500.6 370.7,1500.3 368.7,1500.4 366.7,1500.3 364.7,1500.1 362.7,1500.2 360.7,1500.4Z" fill="#adff2f" fill-opacity="0.2" stroke="#adff2f" stroke-opacity="0.2" stroke-width="2.0" stroke-linejoin="round"/>
<path d="M360.7,1541.9 362.7,1541.8 364.7,1541.9 366.7,1542.1 368.7,1542.1 370.7,1541.9 372.7,1541.9 374.7,1541.9 376.7,1541.9 378.7,1542.0 380.7,1542.0 382.7,1542.0 384.7,1542.1 386.7,1542.2 388.7,1542.1 390.7,1542.0 392.7,1542.0 394.7,1542.0 396.7,1542.0 398.7,1541.9 400.7,1541.9 402.7,1541.9 404.7,1541.8 406.7,1541.8 408.7,1541.8 410.7,1541.9 412.7,1542.0 414.7,1542.2 416.7,1542.3 418.7,1542.2 420.7,1542.0 422.7,1541.9 424.7,1542.0 426.7,1542.0 428.7,1542.1 430.7,1542.1 432.7,1542.0 434.7,1542.1 436.7,1542.2 438.7,1542.1 440.7,1542.0 442.7,1542.0 444.7,1542.0 446.7,1542.0 448.7,1542.0 450.7,1542.0 452.7,1541.9 454.7,1541.9 456.7,1542.0 458.7,1542.0 460.7,1541.9 462.7,1541.8 464.7,1541.9 466.7,1542.0 468.7,1542.1 470.7,1542.1 472.7,1542.1 474.7,1542.1 476.7,1542.0 478.7,1541.8 480.7,1541.8 482.7,1541.9 484.7,1542.0 486.7,1542.1 488.7,1542.1 490.7,1542.1 492.7,1542.1 494.7,1542.0 496.7,1542.0 498.7,1542.0 500.7,1542.0 502.7,1541.9 504.7,1541.9 506.7,1541.9 508.7,1542.0 510.7,1542.2 512.7,1542.2 514.7,1542.0 516.7,1541.9 518.7,1541.9 520.7,1541.9 522.7,1542.1 524.7,1542.0 526.7,1542.0 528.7,1542.2 530.7,1542.2 532.7,1542.1 534.7,1542.0 536.7,1541.9 538.7,1541.8 540.7,1541.8 542.7,1541.8 544.7,1542.1 546.7,1542.2 548.7,1542.0 550.7,1541.9 552.7,1542.1 554.7,1542.0 556.7,1541.9 558.7,1541.9 560.7,1541.9 562.7,1542.0 564.7,1542.1 566.7,1542.1 568.7,1542.0 570.7,1541.9 572.7,1542.0 574.7,1542.0 576.7,1541.9 578.7,1541.7 580.7,1541.7 582.7,1541.8 584.7,1542.0 586.7,1542.0 588.7,1541.9 590.7,1541.9 592.7,1542.1 594.7,1542.1 596.7,1541.9 598.7,1541.8 600.7,1541.8 602.7,1542.0 604.7,1542.2 606.7,1542.1 608.7,1541.9 610.7,1541.9 612.7,1542.0 614.7,1542.0 616.7,1542.0 618.7,1542.1 620.7,1542.2 622.7,1542.1 624.7,1542.1 626.7,1542.1 628.7,1542.1 630.7,1542.0 632.7,1542.0 634.7,1542.0 636.7,1542.1 638.7,1542.1 640.7,1542.0 642.7,1541.9 644.7,1541.8 646.7,1541.9 648.7,1542.0 650.7,1542.0 652.7,1541.9 654.7,1542.0 656.7,1542.1 658.7,1542.1 660.7,1542.0 662.7,1541.9 664.7,1542.1 666.7,1542.3 668.7,1542.2 670.7,1542.1 672.7,1542.0 674.7,1541.9 676.7,1542.1 678.7,1542.0 680.7,1542.0 682.7,1542.0 684.7,1542.0 686.7,1541.9 688.7,1541.9 690.7,1542.0 692.7,1542.0 694.7,1541.9 696.7,1541.8 698.7,1541.9 700.7,1541.9 702.7,1541.8 704.7,1541.8 706.7,1542.0 708.7,1542.0 710.7,1542.0 712.7,1542.0 714.7,1542.1 716.7,1542.1 718.7,1542.0 720.7,1541.9 722.7,1541.9 724.7,1541.9 726.7,1542.1 728.7,1542.1 730.7,1542.0 732.7,1542.0 734.7,1542.0 736.7,1542.1 738.7,1542.2 740.7,1542.2 742.7,1542.2 744.7,1542.2 746.7,1542.3 748.7,1542.3 750.7,1542.0 752.7,1542.0 754.7,1542.2 756.7,1542.3 758.7,1542.2 760.7,1542.0 762.7,1541.9 764.7,1541.9 766.7,1542.1 768.7,1542.1 770.7,1541.9 772.7,1541.9 774.7,1541.9 776.7,1541.8 778.7,1541.6 780.7,1541.7 782.7,1542.0 784.7,1542.0 786.7,1541.7 788.7,1541.7 790.7,1541.8 792.7,1541.8 794.7,1541.8 796.7,1541.8 798.7,1541.8 800.7,1541.8 802.7,1541.8 804.7,1541.9 806.7,1541.9 808.7,1542.0 810.7,1542.1 812.7,1542.1 814.7,1542.0 816.7,1541.9 818.7,1541.9 820.7,1542.0 822.7,1541.9 824.7,1541.7 826.7,1541.8 828.7,1542.0 830.7,1542.1 832.7,1542.1 834.7,1541.9 836.7,1541.9 838.7,1541.8 840.7,1541.6 842.7,1541.6 844.7,1541.7 846.7,1541.8 848.7,1541.9 850.7,1542.0 852.7,1542.0 854.7,1541.8 856.7,1541.8 858.7,1541.9 860.7,1541.9 862.7,1542.0 864.7,1541.9 866.7,1541.8 868.7,1541.9 870.7,1541.9 872.7,1541.9 874.7,1541.8 876.7,1541.8 878.7,1541.9 880.7,1542.0 882.7,1542.0 884.7,1541.8 886.7,1541.7 888.7,1541.8 890.7,1541.9 892.7,1541.9 894.7,1542.1 896.7,1542.0 898.7,1541.7 900.7,1541.8 902.7,1541.9 904.7,1541.7 906.7,1541.6 908.7,1541.7 910.7,1541.8 912.7,1541.9 914.7,1541.9 916.7,1541.8 918.7,1542.0 920.7,1542.1 922.7,1542.0 924.7,1541.9 926.7,1541.9 928.7,1541.8 930.7,1541.6 932.7,1541.5 934.7,1541.6 936.7,1541.6 938.7,1541.6 940.7,1541.6 942.7,1541.7 944.7,1541.6 946.7,1541.5 948.7,1541.5 950.7,1541.7 952.7,1541.8 954.7,1541.8 956.7,1541.7 958.7,1541.7 960.7,1541.5 962.7,1541.4 964.7,1541.5 966.7,1541.7 968.7,1541.7 970.7,1541.6 972.7,1541.6 974.7,1541.6 976.7,1541.7 978.7,1541.7 980.7,1541.5 982.7,1541.4 984.7,1541.5 986.7,1541.5 988.7,1541.5 990.7,1541.6 992.7,1541.6 994.7,1541.5 996.7,1541.4 998.7,1541.4 1000.7,1541.4 1002.7,1541.5 1004.7,1541.5 1006.7,1541.5 1008.7,1541.5 1010.7,1541.5 1012.7,1541.4 1014.7,1541.4 1016.7,1541.5 1018.7,1541.5 1020.7,1541.4 1022.7,1541.4 1024.7,1541.4 1026.7,1541.4 1028.7,1541.5 1030.7,1541.4 1032.7,1541.3 1034.7,1541.4 1036.7,1541.2 1038.7,1541.3 1040.7,1541.4 1042.7,1541.4 1044.7,1541.4 1046.7,1541.4 1048.7,1541.3 1050.7,1541.4 1052.7,1541.3 1054.7,1541.3 1056.7,1541.3 1058.7,1541.2 1060.7,1541.0 1062.7,1541.1 1064.7,1541.4 1066.7,1541.3 1068.7,1541.0 1070.7,1541.0 1072.7,1541.0 1074.7,1540.9 1076.7,1540.7 1078.7,1540.5 1080.7,1540.5 1082.7,1540.6 1084.7,1540.4 1086.7,1540.3 1088.7,1540.1 1090.7,1539.9 1092.7,1539.8 1094.7,1539.8 1096.7,1539.7 1098.7,1539.7 1100.7,1539.6 1102.7,1539.3 1104.7,1539.1 1106.7,1539.2 1108.7,1539.1 1110.7,1538.9 1112.6,1538.8 1114.6,1538.6 1116.6,1538.5 1118.6,1538.4 1120.6,1538.3 1122.6,1538.1 1124.6,1537.7 1126.5,1537.6 1128.5,1537.4 1130.5,1537.1 1132.5,1536.7 1134.5,1536.4 1136.4,1536.1 1138.4,1535.9 1140.4,1535.6 1142.4,1535.2 1144.3,1534.9 1146.3,1534.5 1148.3,1534.1 1150.3,1533.9 1152.3,1533.7 1154.2,1533.3 1156.2,1532.8 1158.2,1532.4 1160.2,1532.1 1162.1,1531.8 1164.1,1531.5 1166.1,1531.3 1168.1,1531.0 1170.1,1530.6 1172.1,1530.4 1174.0,1530.1 1176.0,1529.8 1178.0,1529.5 1180.0,1529.1 1182.0,1528.9 1183.9,1528.7 1185.9,1528.5 1187.9,1528.2 1189.9,1527.8 1191.9,1527.6 1193.9,1527.3 1195.8,1526.9 1197.8,1526.8 1199.8,1526.6 1201.8,1526.2 1203.8,1525.8 1205.8,1525.5 1207.7,1525.3 1209.7,1525.1 1211.7,1524.8 1213.7,1524.5 1215.7,1524.3 1217.7,1524.1 1219.7,1523.9 1221.6,1523.6 1223.6,1523.5 1225.6,1523.5 1227.6,1523.2 1229.6,1523.1 1231.6,1523.0 1233.6,1522.9 1235.6,1522.7 1237.6,1522.5 1239.6,1522.3 1241.5,1522.2 1243.5,1522.1 1245.5,1522.1 1247.5,1522.0 1249.5,1522.0 1251.5,1522.0 1253.5,1521.9 1255.5,1521.9 1257.5,1521.7 1259.5,1521.5 1261.5,1521.5 1263.5,1521.5 1265.5,1521.4 1267.5,1521.0 1269.5,1520.9 1271.5,1520.8 1273.5,1520.8 1275.5,1520.9 1277.5,1520.9 1279.5,1520.8 1281.5,1520.5 1283.5,1520.5 1285.5,1520.5 1287.5,1520.2 1289.5,1520.0 1291.5,1520.0 1293.5,1520.2 1295.5,1520.4 1297.5,1520.2 1299.5,1520.2 1301.5,1520.2 1303.5,1520.0 1305.5,1519.9 1307.5,1520.0 1309.5,1519.9 1311.5,1519.7 1313.5,1519.7 1315.5,1519.9 1317.5,1519.8 1319.5,1519.8 1321.5,1519.8 1323.5,1519.7 1325.5,1519.6 1327.5,1519.6 1329.5,1519.5 1331.5,1519.5 1333.5,1519.4 1335.5,1519.5 1337.5,1519.6 1339.5,1519.6 1341.5,1519.5 1343.5,1519.6 1345.5,1519.7 1347.5,1519.6 1349.5,1519.5 1351.5,1519.4 1353.5,1519.4 1355.5,1519.4 1357.5,1519.3 1359.5,1519.3 1361.5,1519.3 1363.5,1519.3 1365.5,1519.3 1367.5,1519.5 1369.5,1519.5 1371.5,1519.5 1373.5,1519.5 1375.5,1519.5 1377.5,1519.5 1379.5,1519.3 1381.5,1519.4 1383.5,1519.4 1385.5,1519.3 1387.5,1519.2 1389.5,1519.2 1391.5,1519.2 1393.5,1519.4 1395.5,1519.4 1397.5,1519.3 1399.5,1519.3 1401.5,1519.2 1403.5,1519.1 1405.5,1519.2 1407.5,1519.3 1409.5,1519.3 1411.5,1519.3 1413.5,1519.3 1415.5,1519.3 1417.5,1519.4 1419.5,1519.3 1421.5,1519.1 1423.5,1519.1 1425.5,1519.1 1427.5,1519.1 1429.5,1519.2 1431.5,1519.3 1433.5,1519.4 1435.5,1519.2 1437.5,1519.1 1439.5,1519.2 1441.5,1519.2 1443.5,1519.2 1445.5,1519.2 1447.5,1519.1 1449.5,1519.1 1451.5,1519.0 1453.5,1519.0 1455.5,1519.1 1457.5,1519.2 1459.5,1519.2 1461.5,1519.1 1463.5,1519.1 1465.5,1519.3 1467.5,1519.3 1469.5,1519.1 1471.5,1519.0 1473.5,1519.2 1475.5,1519.1 1477.5,1519.0 1479.5,1519.2 1481.5,1519.2 1483.5,1519.2 1485.5,1519.2 1487.5,1519.1 1489.5,1519.0 1491.5,1519.2 1493.5,1519.2 1495.5,1519.2 1497.5,1519.3 1499.5,1519.3 1501.5,1519.2 1503.5,1519.1 1505.5,1519.1 1507.5,1519.2 1509.5,1519.1 1511.5,1519.0 1513.5,1519.1 1515.5,1519.1 1517.5,1519.0 1519.5,1519.0 1521.5,1519.2 1523.5,1519.3 1525.5,1519.3 1527.5,1519.1 1529.5,1519.1 1531.5,1519.2 1533.5,1519.1 1535.5,1519.1 1537.5,1519.2 1539.5,1519.2 1541.5,1519.1 1543.5,1519.2 1545.5,1519.2 1547.5,1519.2 1549.5,1519.3 1551.5,1519.2 1553.5,1519.1 1555.5,1519.2 1557.5,1519.3 1559.5,1519.2 1561.5,1519.1 1563.5,1519.1 1565.5,1519.3 1567.5,1519.3 1569.5,1519.2 1571.5,1519.4 1573.5,1519.5 1575.5,1519.4 1577.5,1519.3 1579.5,1519.3 1581.5,1519.4 1583.5,1519.4 1585.5,1519.2 1587.5,1519.0 1589.5,1519.0 1591.5,1519.2 1593.5,1519.2 1595.5,1519.3 1597.5,1519.4 1599.5,1519.3 1601.5,1519.4 1603.5,1519.3 1605.5,1519.3 1607.5,1519.5 1609.5,1519.5 1611.5,1519.4 1613.5,1519.4 1615.5,1519.4 1617.5,1519.3 1619.5,1519.4 1621.5,1519.5 1623.5,1519.3 1625.5,1519.3 1627.5,1519.5 1629.5,1519.4 1631.5,1519.4 1633.5,1519.4 1635.5,1519.4 1637.5,1519.4 1639.5,1519.5 1641.5,1519.6 1643.5,1519.7 1645.5,1519.7 1647.5,1519.7 1649.5,1519.7 1651.5,1519.6 1653.5,1519.7 1655.5,1519.8 1657.5,1519.8 1659.5,1519.7 1661.5,1519.7 1663.5,1519.6 1665.5,1519.6 1667.5,1519.7 1669.5,1519.7 1671.5,1519.7 1673.5,1519.9 1675.5,1520.0 1677.5,1520.0 1679.5,1519.9 1681.5,1519.8 1683.5,1519.9 1685.5,1520.2 1687.5,1520.2 1689.5,1520.1 1691.5,1520.0 1693.5,1520.0 1695.5,1520.2 1697.5,1520.4 1699.5,1520.5 1701.5,1520.6 1703.5,1520.5 1705.5,1520.4 1707.5,1520.3 1709.5,1520.5 1711.5,1520.7 1713.5,1521.0 1715.5,1521.2 1717.5,1521.2 1719.5,1521.2 1721.5,1521.2 1723.5,1521.2 1725.5,1521.4 1727.5,1521.5 1729.5,1521.7 1731.5,1521.6 1733.5,1521.6 1735.5,1521.9 1737.5,1522.3 1739.5,1522.4 1741.5,1522.2 1743.5,1522.3 1745.5,1522.5 1747.5,1522.6 1749.5,1522.6 1751.5,1522.5 1753.5,1522.6 1755.5,1522.9 1757.5,1523.0 1759.5,1523.2 1761.5,1523.2 1763.5,1523.2 1765.5,1523.2 1767.5,1523.2 1769.5,1523.3 1771.5,1523.3 1773.5,1523.3 1775.5,1523.2 1777.5,1523.3 1779.5,1523.4 1781.5,1523.3 1783.5,1523.1 1785.5,1523.0 1787.5,1523.1 1789.5,1523.2 1791.5,1523.1 1793.5,1522.9 1795.5,1523.0 1797.5,1523.1 1799.5,1523.1 1801.4,1523.1 1803.4,1523.0 1805.4,1522.9 1807.4,1522.9 1809.4,1522.8 1811.4,1522.7 1813.4,1522.7 1815.4,1522.8 1817.4,1522.8 1819.4,1522.8 1821.4,1522.9 1823.4,1522.9 1825.4,1522.9 1827.4,1522.9 1829.4,1522.9 1831.4,1522.7 1833.4,1522.7 1835.4,1522.7 1837.4,1522.7 1839.4,1522.5 1841.4,1522.2 1843.4,1522.3 1845.4,1522.4 1847.4,1522.3 1849.4,1522.2 1851.4,1522.2 1853.4,1522.2 1855.4,1522.3 1857.4,1522.3 1859.4,1522.2 1861.4,1522.1 1863.4,1521.9 1865.4,1521.8 1867.4,1521.8 1869.4,1521.8 1871.4,1521.8 1873.4,1521.9 1875.4,1521.9 1877.4,1521.8 1879.4,1521.8 1881.4,1521.6 1883.4,1521.6 1885.4,1521.7 1887.4,1521.5 1889.4,1521.2 1891.4,1521.3 1893.4,1521.4 1895.4,1521.2 1897.4,1521.2 1899.4,1521.2 1901.4,1521.3 1903.4,1521.2 1905.4,1521.0 1907.4,1521.0 1909.4,1521.2 1911.4,1521.2 1913.4,1521.1 1915.4,1521.0 1917.4,1520.8 1919.4,1520.6 1921.4,1520.6 1923.4,1520.5 1925.4,1520.4 1927.4,1520.5 1929.4,1520.7 1931.4,1520.7 1933.4,1520.5 1935.4,1520.4 1937.4,1520.4 1939.4,1520.3 1941.4,1520.3 1943.4,1520.4 1945.4,1520.3 1947.4,1520.0 1949.4,1519.8 1951.4,1519.9 1953.4,1520.0 1955.4,1519.9 1957.4,1519.8 1959.4,1519.8 1961.4,1519.8 1963.4,1519.9 1965.4,1519.8 1967.4,1519.8 1969.4,1519.8 1971.4,1519.7 1973.4,1519.6 1975.4,1519.4 1977.4,1519.4 1979.4,1519.6 1981.4,1519.6 1983.4,1519.5 1985.4,1519.4 1987.4,1519.5 1989.4,1519.4 1991.4,1519.3 1993.4,1519.3 1995.4,1519.2 1997.4,1519.3 1999.4,1519.5 2001.4,1519.4 2003.4,1519.3 2005.4,1519.3 2007.4,1519.2 2009.4,1519.0 2011.4,1518.9 2013.4,1519.0 2015.4,1519.1 2017.4,1519.2 2019.4,1519.2 2021.4,1519.0 2023.4,1518.9 2025.4,1518.9 2027.4,1519.0 2029.4,1519.0 2031.4,1519.0 2033.4,1518.9 2035.4,1518.9 2037.4,1519.0 2039.4,1519.0 2041.4,1519.0 2043.4,1518.9 2045.4,1518.9 2047.4,1519.0 2049.4,1518.9 2051.4,1518.9 2053.4,1518.9 2055.4,1518.9 2057.4,1518.9 2059.4,1519.1 2061.4,1519.3 2063.4,1519.3 2065.4,1519.3 2067.4,1519.3 2069.4,1519.3 2071.4,1519.4 2073.4,1519.4 2075.4,1519.4 2077.4,1519.5 2079.4,1519.7 2081.4,1519.8 2083.4,1519.9 2085.4,1519.8 2087.4,1519.6 2089.4,1519.8 2091.4,1520.1 2093.4,1520.1 2095.4,1520.0 2097.4,1520.2 2099.4,1520.3 2101.4,1520.3 2103.4,1520.2 2105.4,1520.2 2107.4,1520.1 2109.4,1520.4 2111.4,1520.6 2113.4,1520.7 2115.4,1520.9 2117.4,1521.2 2119.4,1521.4 2121.4,1521.2 2123.4,1520.8 2125.4,1520.6 2127.4,1520.6 2129.4,1520.9 2131.4,1521.5 2133.4,1521.7 2135.4,1521.7 2137.4,1521.8 2139.4,1521.6 2141.4,1521.5 2143.4,1521.4 2145.4,1521.4 2147.4,1521.7 2149.4,1521.9 2151.4,1521.8 2153.4,1521.4 2155.4,1521.7 2157.4,1522.9 2159.4,1523.0 2161.4,1522.6 2163.4,1522.4 2165.4,1522.3 2167.4,1522.2 2169.4,1522.1 2171.4,1522.8 2173.4,1523.3 2175.4,1523.3 2177.4,1523.5 2179.4,1523.9 2181.4,1524.6 2183.4,1523.7 2185.4,1521.9 2187.4,1522.6 2189.4,1524.0 2191.4,1523.8 2193.4,1523.3 2195.4,1523.8 2197.4,1525.1 2199.4,1525.6 2201.4,1524.7 2203.4,1523.6 2205.4,1524.0 2207.4,1524.7 2209.4,1523.1 2211.4,1522.5 2213.3,1524.9 2215.3,1525.0 2217.3,1523.5 2219.3,1524.1 2221.3,1525.0 2223.3,1525.5 2225.3,1526.4 2227.3,1525.9 2229.3,1524.2 2231.3,1524.4 2233.3,1525.7 2235.3,1525.7 2237.3,1525.2 2239.3,1525.2 2241.3,1524.8 2243.3,1524.3 2245.3,1523.8 2247.3,1525.4 2249.3,1527.6 2251.3,1526.8 2253.3,1523.6 2255.3,1522.2 2257.3,1524.5 2259.3,1526.2 2261.3,1525.8 2263.3,1524.8 2265.3,1523.9 2267.3,1523.6 2269.3,1523.3 2271.3,1523.4 2273.3,1524.9 2275.3,1526.6 2277.3,1526.0 2279.3,1524.9 2281.3,1524.6 2283.3,1524.3 2285.3,1524.7 2287.3,1524.8 2289.3,1524.5 2291.3,1525.0 2293.3,1525.7 2295.3,1526.0 2297.3,1525.5 2299.3,1525.2 2301.3,1525.4 2303.3,1525.2 2305.3,1524.3 2306.0,1524.7 L2306.0,1526.7 2305.3,1526.3 2303.3,1527.2 2301.3,1527.4 2299.3,1527.2 2297.3,1527.5 2295.3,1528.0 2293.3,1527.7 2291.3,1527.0 2289.3,1526.5 2287.3,1526.8 2285.3,1526.7 2283.3,1526.3 2281.3,1526.6 2279.3,1526.9 2277.3,1528.0 2275.3,1528.6 2273.3,1526.9 2271.3,1525.4 2269.3,1525.3 2267.3,1525.6 2265.3,1525.9 2263.3,1526.8 2261.3,1527.8 2259.3,1528.2 2257.3,1526.5 2255.3,1524.2 2253.3,1525.6 2251.3,1528.8 2249.3,1529.6 2247.3,1527.4 2245.3,1525.8 2243.3,1526.3 2241.3,1526.8 2239.3,1527.2 2237.3,1527.2 2235.3,1527.7 2233.3,1527.7 2231.3,1526.4 2229.3,1526.2 2227.3,1527.9 2225.3,1528.4 2223.3,1527.5 2221.3,1527.0 2219.3,1526.1 2217.3,1525.5 2215.3,1527.0 2213.3,1526.9 2211.4,1524.5 2209.4,1525.1 2207.4,1526.7 2205.4,1526.0 2203.4,1525.6 2201.4,1526.7 2199.4,1527.6 2197.4,1527.1 2195.4,1525.8 2193.4,1525.3 2191.4,1525.8 2189.4,1526.0 2187.4,1524.6 2185.4,1523.9 2183.4,1525.7 2181.4,1526.6 2179.4,1525.9 2177.4,1525.5 2175.4,1525.3 2173.4,1525.3 2171.4,1524.8 2169.4,1524.1 2167.4,1524.2 2165.4,1524.3 2163.4,1524.4 2161.4,1524.6 2159.4,1525.0 2157.4,1524.9 2155.4,1523.7 2153.4,1523.4 2151.4,1523.8 2149.4,1523.9 2147.4,1523.7 2145.4,1523.4 2143.4,1523.4 2141.4,1523.5 2139.4,1523.6 2137.4,1523.8 2135.4,1523.7 2133.4,1523.7 2131.4,1523.5 2129.4,1522.9 2127.4,1522.6 2125.4,1522.6 2123.4,1522.8 2121.4,1523.2 2119.4,1523.4 2117.4,1523.2 2115.4,1522.9 2113.4,1522.7 2111.4,1522.6 2109.4,1522.4 2107.4,1522.1 2105.4,1522.2 2103.4,1522.2 2101.4,1522.3 2099.4,1522.3 2097.4,1522.2 2095.4,1522.0 2093.4,1522.1 2091.4,1522.1 2089.4,1521.8 2087.4,1521.6 2085.4,1521.8 2083.4,1521.9 2081.4,1521.8 2079.4,1521.7 2077.4,1521.5 2075.4,1521.4 2073.4,1521.4 2071.4,1521.4 2069.4,1521.3 2067.4,1521.3 2065.4,1521.3 2063.4,1521.3 2061.4,1521.3 2059.4,1521.1 2057.4,1520.9 2055.4,1520.9 2053.4,1520.9 2051.4,1520.9 2049.4,1520.9 2047.4,1521.0 2045.4,1520.9 2043.4,1520.9 2041.4,1521.0 2039.4,1521.0 2037.4,1521.0 2035.4,1520.9 2033.4,1520.9 2031.4,1521.0 2029.4,1521.0 2027.4,1521.0 2025.4,1520.9 2023.4,1520.9 2021.4,1521.0 2019.4,1521.2 2017.4,1521.2 2015.4,1521.1 2013.4,1521.0 2011.4,1520.9 2009.4,1521.0 2007.4,1521.2 2005.4,1521.3 2003.4,1521.3 2001.4,1521.4 1999.4,1521.5 1997.4,1521.3 1995.4,1521.2 1993.4,1521.3 1991.4,1521.3 1989.4,1521.4 1987.4,1521.5 1985.4,1521.4 1983.4,1521.5 1981.4,1521.6 1979.4,1521.6 1977.4,1521.4 1975.4,1521.4 1973.4,1521.6 1971.4,1521.7 1969.4,1521.8 1967.4,1521.8 1965.4,1521.8 1963.4,1521.9 1961.4,1521.8 1959.4,1521.8 1957.4,1521.8 1955.4,1521.9 1953.4,1522.0 1951.4,1521.9 1949.4,1521.8 1947.4,1522.0 1945.4,1522.3 1943.4,1522.4 1941.4,1522.3 1939.4,1522.3 1937.4,1522.4 1935.4,1522.4 1933.4,1522.5 1931.4,1522.7 1929.4,1522.7 1927.4,1522.5 1925.4,1522.4 1923.4,1522.5 1921.4,1522.6 1919.4,1522.6 1917.4,1522.8 1915.4,1523.0 1913.4,1523.1 1911.4,1523.2 1909.4,1523.2 1907.4,1523.0 1905.4,1523.0 1903.4,1523.2 1901.4,1523.3 1899.4,1523.2 1897.4,1523.2 1895.4,1523.2 1893.4,1523.4 1891.4,1523.3 1889.4,1523.2 1887.4,1523.5 1885.4,1523.7 1883.4,1523.6 1881.4,1523.6 1879.4,1523.8 1877.4,1523.8 1875.4,1523.9 1873.4,1523.9 1871.4,1523.8 1869.4,1523.8 1867.4,1523.8 1865.4,1523.8 1863.4,1523.9 1861.4,1524.1 1859.4,1524.2 1857.4,1524.3 1855.4,1524.3 1853.4,1524.2 1851.4,1524.2 1849.4,1524.2 1847.4,1524.3 1845.4,1524.4 1843.4,1524.3 1841.4,1524.2 1839.4,1524.5 1837.4,1524.7 1835.4,1524.7 1833.4,1524.7 1831.4,1524.7 1829.4,1524.9 1827.4,1524.9 1825.4,1524.9 1823.4,1524.9 1821.4,1524.9 1819.4,1524.8 1817.4,1524.8 1815.4,1524.8 1813.4,1524.7 1811.4,1524.7 1809.4,1524.8 1807.4,1524.9 1805.4,1524.9 1803.4,1525.0 1801.4,1525.1 1799.5,1525.1 1797.5,1525.1 1795.5,1525.0 1793.5,1524.9 1791.5,1525.1 1789.5,1525.2 1787.5,1525.1 1785.5,1525.0 1783.5,1525.1 1781.5,1525.3 1779.5,1525.4 1777.5,1525.3 1775.5,1525.2 1773.5,1525.3 1771.5,1525.3 1769.5,1525.3 1767.5,1525.2 1765.5,1525.2 1763.5,1525.2 1761.5,1525.2 1759.5,1525.2 1757.5,1525.0 1755.5,1524.9 1753.5,1524.6 1751.5,1524.5 1749.5,1524.6 1747.5,1524.6 1745.5,1524.5 1743.5,1524.3 1741.5,1524.2 1739.5,1524.4 1737.5,1524.3 1735.5,1523.9 1733.5,1523.6 1731.5,1523.6 1729.5,1523.7 1727.5,1523.5 1725.5,1523.4 1723.5,1523.2 1721.5,1523.2 1719.5,1523.2 1717.5,1523.2 1715.5,1523.2 1713.5,1523.0 1711.5,1522.7 1709.5,1522.5 1707.5,1522.3 1705.5,1522.4 1703.5,1522.5 1701.5,1522.6 1699.5,1522.5 1697.5,1522.4 1695.5,1522.2 1693.5,1522.0 1691.5,1522.0 1689.5,1522.1 1687.5,1522.2 1685.5,1522.2 1683.5,1521.9 1681.5,1521.8 1679.5,1521.9 1677.5,1522.0 1675.5,1522.0 1673.5,1521.9 1671.5,1521.7 1669.5,1521.7 1667.5,1521.7 1665.5,1521.6 1663.5,1521.6 1661.5,1521.7 1659.5,1521.7 1657.5,1521.8 1655.5,1521.8 1653.5,1521.7 1651.5,1521.6 1649.5,1521.7 1647.5,1521.7 1645.5,1521.7 1643.5,1521.7 1641.5,1521.6 1639.5,1521.5 1637.5,1521.4 1635.5,1521.4 1633.5,1521.4 1631.5,1521.4 1629.5,1521.4 1627.5,1521.5 1625.5,1521.3 1623.5,1521.3 1621.5,1521.5 1619.5,1521.4 1617.5,1521.3 1615.5,1521.4 1613.5,1521.4 1611.5,1521.4 1609.5,1521.5 1607.5,1521.5 1605.5,1521.3 1603.5,1521.3 1601.5,1521.4 1599.5,1521.3 1597.5,1521.4 1595.5,1521.3 1593.5,1521.2 1591.5,1521.2 1589.5,1521.0 1587.5,1521.0 1585.5,1521.2 1583.5,1521.4 1581.5,1521.4 1579.5,1521.3 1577.5,1521.3 1575.5,1521.4 1573.5,1521.5 1571.5,1521.4 1569.5,1521.2 1567.5,1521.3 1565.5,1521.3 1563.5,1521.1 1561.5,1521.1 1559.5,1521.2 1557.5,1521.3 1555.5,1521.2 1553.5,1521.1 1551.5,1521.2 1549.5,1521.3 1547.5,1521.2 1545.5,1521.2 1543.5,1521.2 1541.5,1521.1 1539.5,1521.2 1537.5,1521.2 1535.5,1521.1 1533.5,1521.1 1531.5,1521.2 1529.5,1521.1 1527.5,1521.1 1525.5,1521.3 1523.5,1521.3 1521.5,1521.2 1519.5,1521.0 1517.5,1521.0 1515.5,1521.1 1513.5,1521.1 1511.5,1521.0 1509.5,1521.1 1507.5,1521.2 1505.5,1521.1 1503.5,1521.1 1501.5,1521.2 1499.5,1521.3 1497.5,1521.3 1495.5,1521.2 1493.5,1521.2 1491.5,1521.2 1489.5,1521.0 1487.5,1521.1 1485.5,1521.2 1483.5,1521.2 1481.5,1521.2 1479.5,1521.2 1477.5,1521.0 1475.5,1521.1 1473.5,1521.2 1471.5,1521.0 1469.5,1521.1 1467.5,1521.3 1465.5,1521.3 1463.5,1521.1 1461.5,1521.1 1459.5,1521.2 1457.5,1521.2 1455.5,1521.1 1453.5,1521.0 1451.5,1521.0 1449.5,1521.1 1447.5,1521.1 1445.5,1521.2 1443.5,1521.2 1441.5,1521.2 1439.5,1521.2 1437.5,1521.1 1435.5,1521.2 1433.5,1521.4 1431.5,1521.3 1429.5,1521.2 1427.5,1521.1 1425.5,1521.1 1423.5,1521.1 1421.5,1521.1 1419.5,1521.3 1417.5,1521.4 1415.5,1521.3 1413.5,1521.3 1411.5,1521.3 1409.5,1521.3 1407.5,1521.3 1405.5,1521.2 1403.5,1521.1 1401.5,1521.2 1399.5,1521.3 1397.5,1521.3 1395.5,1521.4 1393.5,1521.4 1391.5,1521.2 1389.5,1521.2 1387.5,1521.2 1385.5,1521.3 1383.5,1521.4 1381.5,1521.4 1379.5,1521.3 1377.5,1521.5 1375.5,1521.5 1373.5,1521.5 1371.5,1521.5 1369.5,1521.5 1367.5,1521.5 1365.5,1521.3 1363.5,1521.3 1361.5,1521.3 1359.5,1521.3 1357.5,1521.3 1355.5,1521.4 1353.5,1521.4 1351.5,1521.4 1349.5,1521.5 1347.5,1521.6 1345.5,1521.7 1343.5,1521.6 1341.5,1521.5 1339.5,1521.6 1337.5,1521.6 1335.5,1521.5 1333.5,1521.4 1331.5,1521.5 1329.5,1521.5 1327.5,1521.6 1325.5,1521.6 1323.5,1521.7 1321.5,1521.8 1319.5,1521.8 1317.5,1521.8 1315.5,1521.9 1313.5,1521.7 1311.5,1521.7 1309.5,1521.9 1307.5,1522.0 1305.5,1521.9 1303.5,1522.0 1301.5,1522.2 1299.5,1522.2 1297.5,1522.2 1295.5,1522.4 1293.5,1522.2 1291.5,1522.0 1289.5,1522.0 1287.5,1522.2 1285.5,1522.5 1283.5,1522.5 1281.5,1522.5 1279.5,1522.8 1277.5,1522.9 1275.5,1522.9 1273.5,1522.8 1271.5,1522.8 1269.5,1522.9 1267.5,1523.0 1265.5,1523.4 1263.5,1523.5 1261.5,1523.5 1259.5,1523.5 1257.5,1523.7 1255.5,1523.9 1253.5,1523.9 1251.5,1524.0 1249.5,1524.0 1247.5,1524.0 1245.5,1524.1 1243.5,1524.1 1241.5,1524.2 1239.6,1524.3 1237.6,1524.5 1235.6,1524.7 1233.6,1524.9 1231.6,1525.0 1229.6,1525.1 1227.6,1525.2 1225.6,1525.5 1223.6,1525.5 1221.6,1525.6 1219.7,1525.9 1217.7,1526.1 1215.7,1526.3 1213.7,1526.5 1211.7,1526.8 1209.7,1527.1 1207.7,1527.3 1205.8,1527.5 1203.8,1527.8 1201.8,1528.2 1199.8,1528.6 1197.8,1528.8 1195.8,1528.9 1193.9,1529.3 1191.9,1529.6 1189.9,1529.8 1187.9,1530.2 1185.9,1530.5 1183.9,1530.7 1182.0,1530.9 1180.0,1531.1 1178.0,1531.5 1176.0,1531.8 1174.0,1532.1 1172.1,1532.4 1170.1,1532.6 1168.1,1533.0 1166.1,1533.3 1164.1,1533.5 1162.1,1533.8 1160.2,1534.1 1158.2,1534.4 1156.2,1534.8 1154.2,1535.3 1152.3,1535.7 1150.3,1535.9 1148.3,1536.1 1146.3,1536.5 1144.3,1536.9 1142.4,1537.2 1140.4,1537.6 1138.4,1537.9 1136.4,1538.1 1134.5,1538.4 1132.5,1538.7 1130.5,1539.1 1128.5,1539.4 1126.5,1539.6 1124.6,1539.7 1122.6,1540.1 1120.6,1540.3 1118.6,1540.4 1116.6,1540.5 1114.6,1540.6 1112.6,1540.8 1110.7,1540.9 1108.7,1541.1 1106.7,1541.2 1104.7,1541.1 1102.7,1541.3 1100.7,1541.6 1098.7,1541.7 1096.7,1541.7 1094.7,1541.8 1092.7,1541.8 1090.7,1541.9 1088.7,1542.1 1086.7,1542.3 1084.7,1542.4 1082.7,1542.6 1080.7,1542.5 1078.7,1542.5 1076.7,1542.7 1074.7,1542.9 1072.7,1543.0 1070.7,1543.0 1068.7,1543.0 1066.7,1543.3 1064.7,1543.4 1062.7,1543.1 1060.7,1543.0 1058.7,1543.2 1056.7,1543.3 1054.7,1543.3 1052.7,1543.3 1050.7,1543.4 1048.7,1543.3 1046.7,1543.4 1044.7,1543.4 1042.7,1543.4 1040.7,1543.4 1038.7,1543.3 1036.7,1543.2 1034.7,1543.4 1032.7,1543.3 1030.7,1543.4 1028.7,1543.5 1026.7,1543.4 1024.7,1543.4 1022.7,1543.4 1020.7,1543.4 1018.7,1543.5 1016.7,1543.5 1014.7,1543.4 1012.7,1543.4 1010.7,1543.5 1008.7,1543.5 1006.7,1543.5 1004.7,1543.5 1002.7,1543.5 1000.7,1543.4 998.7,1543.4 996.7,1543.4 994.7,1543.5 992.7,1543.6 990.7,1543.6 988.7,1543.5 986.7,1543.5 984.7,1543.5 982.7,1543.4 980.7,1543.5 978.7,1543.7 976.7,1543.7 974.7,1543.6 972.7,1543.6 970.7,1543.6 968.7,1543.7 966.7,1543.7 964.7,1543.5 962.7,1543.4 960.7,1543.5 958.7,1543.7 956.7,1543.7 954.7,1543.8 952.7,1543.8 950.7,1543.7 948.7,1543.5 946.7,1543.5 944.7,1543.6 942.7,1543.7 940.7,1543.6 938.7,1543.6 936.7,1543.6 934.7,1543.6 932.7,1543.5 930.7,1543.6 928.7,1543.8 926.7,1543.9 924.7,1543.9 922.7,1544.0 920.7,1544.1 918.7,1544.0 916.7,1543.8 914.7,1543.9 912.7,1543.9 910.7,1543.8 908.7,1543.7 906.7,1543.6 904.7,1543.7 902.7,1543.9 900.7,1543.8 898.7,1543.7 896.7,1544.0 894.7,1544.1 892.7,1543.9 890.7,1543.9 888.7,1543.8 886.7,1543.7 884.7,1543.8 882.7,1544.0 880.7,1544.0 878.7,1543.9 876.7,1543.8 874.7,1543.8 872.7,1543.9 870.7,1543.9 868.7,1543.9 866.7,1543.8 864.7,1543.9 862.7,1544.0 860.7,1543.9 858.7,1543.9 856.7,1543.8 854.7,1543.8 852.7,1544.0 850.7,1544.0 848.7,1543.9 846.7,1543.8 844.7,1543.7 842.7,1543.6 840.7,1543.6 838.7,1543.8 836.7,1543.9 834.7,1543.9 832.7,1544.1 830.7,1544.1 828.7,1544.0 826.7,1543.8 824.7,1543.7 822.7,1543.9 820.7,1544.0 818.7,1543.9 816.7,1543.9 814.7,1544.0 812.7,1544.1 810.7,1544.1 808.7,1544.0 806.7,1543.9 804.7,1543.9 802.7,1543.8 800.7,1543.8 798.7,1543.8 796.7,1543.8 794.7,1543.8 792.7,1543.8 790.7,1543.8 788.7,1543.7 786.7,1543.7 784.7,1544.0 782.7,1544.0 780.7,1543.7 778.7,1543.6 776.7,1543.8 774.7,1543.9 772.7,1543.9 770.7,1543.9 768.7,1544.1 766.7,1544.1 764.7,1543.9 762.7,1543.9 760.7,1544.0 758.7,1544.2 756.7,1544.3 754.7,1544.2 752.7,1544.0 750.7,1544.0 748.7,1544.3 746.7,1544.3 744.7,1544.2 742.7,1544.2 740.7,1544.2 738.7,1544.2 736.7,1544.1 734.7,1544.0 732.7,1544.0 730.7,1544.0 728.7,1544.1 726.7,1544.1 724.7,1543.9 722.7,1543.9 720.7,1543.9 718.7,1544.0 716.7,1544.1 714.7,1544.1 712.7,1544.0 710.7,1544.0 708.7,1544.0 706.7,1544.0 704.7,1543.8 702.7,1543.8 700.7,1543.9 698.7,1543.9 696.7,1543.8 694.7,1543.9 692.7,1544.0 690.7,1544.0 688.7,1543.9 686.7,1543.9 684.7,1544.0 682.7,1544.0 680.7,1544.0 678.7,1544.0 676.7,1544.1 674.7,1543.9 672.7,1544.0 670.7,1544.1 668.7,1544.2 666.7,1544.3 664.7,1544.1 662.7,1543.9 660.7,1544.0 658.7,1544.1 656.7,1544.1 654.7,1544.0 652.7,1543.9 650.7,1544.0 648.7,1544.0 646.7,1543.9 644.7,1543.8 642.7,1543.9 640.7,1544.0 638.7,1544.1 636.7,1544.1 634.7,1544.0 632.7,1544.0 630.7,1544.0 628.7,1544.1 626.7,1544.1 624.7,1544.1 622.7,1544.1 620.7,1544.2 618.7,1544.1 616.7,1544.0 614.7,1544.0 612.7,1544.0 610.7,1543.9 608.7,1543.9 606.7,1544.1 604.7,1544.2 602.7,1544.0 600.7,1543.8 598.7,1543.8 596.7,1543.9 594.7,1544.1 592.7,1544.1 590.7,1543.9 588.7,1543.9 586.7,1544.0 584.7,1544.0 582.7,1543.8 580.7,1543.7 578.7,1543.7 576.7,1543.9 574.7,1544.0 572.7,1544.0 570.7,1543.9 568.7,1544.0 566.7,1544.1 564.7,1544.1 562.7,1544.0 560.7,1543.9 558.7,1543.9 556.7,1543.9 554.7,1544.0 552.7,1544.1 550.7,1543.9 548.7,1544.0 546.7,1544.2 544.7,1544.1 542.7,1543.8 540.7,1543.8 538.7,1543.8 536.7,1543.9 534.7,1544.0 532.7,1544.1 530.7,1544.2 528.7,1544.2 526.7,1544.0 524.7,1544.0 522.7,1544.1 520.7,1543.9 518.7,1543.9 516.7,1543.9 514.7,1544.0 512.7,1544.2 510.7,1544.2 508.7,1544.0 506.7,1543.9 504.7,1543.9 502.7,1543.9 500.7,1544.0 498.7,1544.0 496.7,1544.0 494.7,1544.0 492.7,1544.1 490.7,1544.1 488.7,1544.1 486.7,1544.1 484.7,1544.0 482.7,1543.9 480.7,1543.8 478.7,1543.8 476.7,1544.0 474.7,1544.1 472.7,1544.1 470.7,1544.1 468.7,1544.1 466.7,1544.0 464.7,1543.9 462.7,1543.8 460.7,1543.9 458.7,1544.0 456.7,1544.0 454.7,1543.9 452.7,1543.9 450.7,1544.0 448.7,1544.0 446.7,1544.0 444.7,1544.0 442.7,1544.0 440.7,1544.0 438.7,1544.1 436.7,1544.2 434.7,1544.1 432.7,1544.0 430.7,1544.1 428.7,1544.1 426.7,1544.0 424.7,1544.0 422.7,1543.9 420.7,1544.0 418.7,1544.2 416.7,1544.3 414.7,1544.2 412.7,1544.0 410.7,1543.9 408.7,1543.8 406.7,1543.8 404.7,1543.8 402.7,1543.9 400.7,1543.9 398.7,1543.9 396.7,1544.0 394.7,1544.0 392.7,1544.0 390.7,1544.0 388.7,1544.1 386.7,1544.2 384.7,1544.1 382.7,1544.0 380.7,1544.0 378.7,1544.0 376.7,1543.9 374.7,1543.9 372.7,1543.9 370.7,1543.9 368.7,1544.1 366.7,1544.1 364.7,1543.9 362.7,1543.8 360.7,1543.9Z" fill="#006400" fill-opacity="0.2" stroke="#006400" stroke-opacity="0.2" stroke-width="0.5" stroke-linejoin="round"/>
<path d="M360.7,1491.4 362.7,1491.1 364.7,1491.2 366.7,1491.3 368.7,1491.2 370.7,1491.1 372.7,1490.9 374.7,1491.1 376.7,1491.7 378.7,1491.8 380.7,1491.3 382.7,1491.1 384.7,1491.3 386.7,1491.2 388.7,1490.9 390.7,1490.8 392.7,1491.0 394.7,1491.0 396.7,1490.7 398.7,1490.3 400.7,1490.4 402.7,1490.7 404.7,1490.7 406.7,1490.5 408.7,1490.8 410.7,1490.8 412.7,1490.5 414.7,1490.1 416.7,1490.0 418.7,1489.9 420.7,1489.6 422.7,1489.9 424.7,1490.1 426.7,1489.5 428.7,1489.2 430.7,1489.2 432.7,1489.0 434.7,1489.0 436.7,1488.8 438.7,1488.5 440.7,1488.7 442.7,1488.7 444.6,1488.5 446.6,1488.1 448.6,1488.1 450.6,1487.9 452.6,1487.7 454.6,1487.5 456.6,1487.5 458.6,1487.6 460.6,1487.2 462.5,1487.1 464.5,1487.1 466.5,1486.4 468.5,1485.8 470.5,1485.5 472.5,1485.1 474.5,1485.1 476.5,1485.2 478.5,1485.0 480.5,1484.6 482.5,1484.4 484.4,1484.3 486.4,1484.4 488.4,1484.0 490.4,1484.0 492.4,1484.6 494.4,1484.4 496.4,1483.9 498.4,1484.0 500.4,1484.2 502.4,1483.9 504.4,1483.6 506.4,1483.5 508.4,1483.4 510.4,1483.5 512.4,1483.7 514.4,1483.7 516.4,1483.5 518.4,1483.5 520.4,1483.8 522.4,1483.7 524.4,1483.3 526.4,1483.2 528.4,1483.3 530.4,1483.5 532.4,1483.3 534.4,1482.9 536.4,1482.7 538.4,1482.6 540.4,1482.8 542.4,1482.6 544.4,1482.4 546.4,1482.3 548.4,1481.9 550.4,1481.7 552.4,1481.8 554.4,1482.0 556.4,1481.9 558.4,1481.4 560.4,1481.3 562.4,1481.3 564.4,1481.1 566.4,1481.0 568.3,1480.9 570.3,1480.2 572.3,1479.6 574.3,1479.8 576.3,1480.1 578.3,1480.2 580.3,1479.9 582.3,1479.1 584.3,1478.3 586.2,1478.1 588.2,1478.1 590.2,1477.9 592.2,1477.5 594.2,1477.2 596.1,1476.7 598.1,1475.9 600.0,1475.6 601.9,1475.4 603.9,1475.0 605.8,1474.7 607.8,1474.1 609.7,1473.3 611.7,1472.7 613.6,1472.3 615.5,1471.7 617.4,1470.8 619.2,1469.6 621.0,1468.4 622.7,1467.2 624.4,1466.6 626.1,1466.2 627.8,1465.4 629.4,1464.1 631.0,1462.8 632.6,1461.6 634.2,1460.2 635.7,1458.8 637.2,1457.7 638.7,1456.3 640.2,1454.8 641.6,1453.2 643.1,1451.4 644.5,1449.7 645.8,1448.5 647.2,1447.3 648.5,1445.8 649.7,1444.2 651.0,1442.8 652.2,1441.4 653.4,1439.5 654.6,1437.6 655.7,1436.0 656.8,1434.6 658.0,1433.2 659.1,1431.0 660.2,1429.0 661.3,1427.7 662.4,1426.2 663.5,1424.4 664.6,1423.1 665.8,1421.9 666.9,1420.1 668.1,1417.9 669.2,1415.9 670.5,1414.4 671.7,1412.9 672.9,1411.7 674.1,1410.5 675.3,1408.7 676.5,1406.6 677.6,1404.7 678.8,1402.8 680.1,1401.0 681.3,1399.3 682.5,1397.8 683.8,1396.6 685.0,1395.4 686.3,1393.8 687.7,1391.7 689.0,1389.9 690.4,1388.5 691.9,1387.2 693.3,1386.0 694.8,1385.2 696.4,1384.5 698.1,1383.6 699.9,1382.6 701.6,1381.6 703.5,1380.5 705.4,1379.6 707.3,1378.6 709.2,1377.8 711.1,1377.4 713.0,1376.9 715.0,1376.3 716.9,1375.8 718.8,1375.2 720.7,1374.5 722.6,1374.0 724.5,1373.4 726.5,1372.5 728.5,1371.8 730.4,1371.5 732.4,1371.2 734.4,1370.8 736.4,1370.6 738.3,1369.9 740.3,1369.2 742.2,1369.2 744.1,1369.2 746.1,1369.2 748.0,1369.6 750.0,1370.1 751.9,1370.5 753.9,1371.1 755.8,1371.8 757.7,1372.7 759.6,1373.7 761.4,1374.7 763.2,1376.0 765.0,1376.9 766.7,1377.4 768.3,1378.6 769.9,1379.9 771.5,1381.0 773.1,1382.1 774.6,1383.2 776.1,1384.5 777.6,1386.1 779.1,1387.8 780.6,1389.2 782.2,1390.3 783.7,1392.0 785.2,1393.4 786.8,1394.3 788.4,1395.5 790.0,1396.7 791.6,1397.7 793.2,1399.2 794.8,1400.6 796.4,1401.3 798.0,1402.5 799.6,1404.3 801.2,1405.7 802.9,1406.6 804.5,1407.9 806.2,1409.3 807.9,1410.3 809.6,1411.4 811.3,1412.4 813.1,1413.0 814.8,1413.8 816.6,1414.5 818.4,1415.0 820.3,1415.7 822.1,1416.4 824.0,1417.3 825.9,1418.3 827.8,1418.8 829.7,1419.1 831.6,1419.9 833.5,1420.9 835.4,1421.7 837.3,1422.2 839.3,1422.8 841.2,1423.6 843.1,1424.0 845.0,1424.3 847.0,1425.1 848.9,1426.0 850.8,1426.4 852.7,1426.5 854.7,1427.2 856.6,1428.1 858.6,1428.2 860.5,1428.3 862.5,1429.1 864.4,1429.9 866.4,1430.1 868.3,1430.4 870.2,1431.0 872.2,1431.6 874.1,1432.4 876.0,1433.0 877.9,1433.6 879.7,1434.2 881.6,1434.5 883.5,1435.3 885.4,1436.3 887.3,1437.0 889.2,1437.9 891.0,1438.9 892.9,1439.3 894.8,1439.3 896.7,1439.6 898.6,1440.4 900.5,1441.3 902.4,1441.6 904.4,1441.8 906.3,1442.6 908.2,1443.1 910.2,1443.2 912.2,1443.6 914.2,1444.2 916.2,1444.4 918.2,1444.7 920.2,1445.0 922.2,1444.9 924.2,1444.9 926.2,1445.4 928.2,1446.0 930.2,1446.1 932.2,1446.0 934.2,1446.2 936.1,1446.6 938.1,1447.0 940.0,1447.2 942.0,1447.2 943.9,1447.3 945.8,1447.7 947.7,1448.3 949.6,1449.4 951.4,1450.4 953.3,1451.2 955.2,1452.4 957.0,1453.3 958.9,1453.7 960.8,1454.4 962.6,1455.4 964.5,1456.0 966.3,1456.7 968.2,1457.5 970.1,1458.0 972.0,1458.5 973.8,1459.4 975.7,1460.2 977.6,1461.0 979.6,1461.6 981.5,1462.2 983.4,1462.7 985.3,1463.0 987.2,1463.8 989.1,1464.8 991.1,1465.6 993.0,1466.1 994.9,1466.5 996.9,1467.0 998.8,1467.5 1000.7,1467.9 1002.7,1468.4 1004.6,1468.8 1006.6,1469.2 1008.5,1469.5 1010.5,1469.8 1012.5,1470.1 1014.4,1470.4 1016.4,1470.9 1018.4,1471.2 1020.4,1471.1 1022.4,1471.1 1024.4,1471.3 1026.4,1471.8 1028.4,1472.1 1030.4,1472.2 1032.4,1472.4 1034.4,1472.5 1036.4,1472.4 1038.4,1472.6 1040.4,1472.8 1042.4,1473.0 1044.4,1472.9 1046.4,1472.9 1048.3,1473.1 1050.3,1473.3 1052.3,1472.8 1054.3,1472.0 1056.3,1471.6 1058.2,1471.3 1060.2,1471.0 1062.2,1470.3 1064.1,1469.6 1065.9,1469.2 1067.7,1468.6 1069.3,1467.2 1070.8,1465.1 1072.2,1463.7 1073.6,1462.8 1075.0,1461.5 1076.4,1459.8 1077.6,1458.1 1078.9,1456.4 1080.1,1454.7 1081.2,1453.2 1082.3,1451.7 1083.3,1449.7 1084.3,1447.6 1085.2,1446.0 1086.1,1444.6 1087.0,1443.1 1087.8,1440.9 1088.6,1438.6 1089.3,1436.9 1089.9,1435.3 1090.6,1433.1 1091.2,1431.3 1091.8,1429.6 1092.4,1427.7 1093.0,1425.5 1093.6,1423.6 1094.2,1421.9 1094.7,1420.1 1095.3,1417.9 1095.9,1415.7 1096.5,1414.0 1097.0,1411.9 1097.6,1409.7 1098.2,1407.8 1098.7,1405.9 1099.2,1403.9 1099.8,1402.1 1100.3,1400.5 1100.8,1398.6 1101.3,1396.3 1101.8,1393.8 1102.3,1391.5 1102.8,1389.6 1103.2,1387.7 1103.7,1385.6 1104.2,1383.9 1104.7,1382.1 1105.1,1379.8 1105.6,1377.7 1106.1,1375.8 1106.6,1374.0 1107.1,1372.2 1107.6,1370.2 1108.2,1368.0 1108.7,1366.2 1109.2,1364.1 1109.7,1362.1 1110.2,1360.3 1110.6,1358.0 1110.9,1355.8 1111.2,1354.3 1111.5,1352.7 1111.8,1350.3 1112.1,1347.7 1112.3,1345.9 1112.5,1343.8 1112.8,1341.5 1113.1,1339.8 1113.3,1338.3 1113.6,1336.3 1113.9,1333.8 1114.2,1331.5 1114.5,1329.9 1114.8,1328.5 1115.2,1326.6 1115.5,1324.5 1115.8,1322.3 1116.1,1319.8 1116.5,1317.8 1116.8,1316.0 1117.1,1314.2 1117.5,1312.2 1117.8,1310.2 1118.2,1307.8 1118.5,1305.2 1118.9,1303.6 1119.3,1302.0 1119.6,1299.6 1120.0,1297.3 1120.3,1295.1 1120.7,1293.2 1121.1,1291.8 1121.4,1289.9 1121.8,1288.1 1122.2,1286.0 1122.5,1283.2 1122.9,1281.1 1123.3,1279.5 1123.6,1277.3 1124.0,1275.2 1124.3,1273.3 1124.7,1271.4 1125.1,1269.7 1125.4,1267.8 1125.8,1265.6 1126.1,1263.5 1126.5,1261.2 1126.8,1258.9 1127.2,1257.1 1127.5,1255.5 1127.9,1253.4 1128.2,1251.0 1128.6,1249.0 1128.9,1247.4 1129.2,1245.4 1129.6,1243.2 1129.9,1240.7 1130.2,1238.4 1130.5,1236.6 1130.8,1234.7 1131.1,1232.8 1131.4,1231.1 1131.7,1229.2 1132.0,1226.8 1132.3,1224.6 1132.6,1223.1 1132.9,1221.4 1133.2,1219.0 1133.5,1216.7 1133.8,1214.5 1134.1,1212.5 1134.4,1210.5 1134.6,1208.1 1134.9,1206.1 1135.2,1204.4 1135.5,1202.4 1135.8,1200.0 1136.0,1198.0 1136.3,1196.0 1136.6,1194.1 1136.9,1192.4 1137.1,1190.7 1137.4,1188.3 1137.7,1185.7 1137.9,1183.5 1138.2,1181.9 1138.5,1180.0 1138.7,1177.7 1139.0,1175.8 1139.3,1174.1 1139.5,1172.2 1139.8,1170.2 1140.1,1168.1 1140.3,1165.9 1140.6,1163.5 1140.8,1161.3 1141.1,1159.6 1141.4,1157.8 1141.6,1155.4 1141.9,1152.9 1142.1,1150.7 1142.4,1149.1 1142.7,1147.1 1142.9,1144.8 1143.2,1142.9 1143.4,1140.9 1143.7,1138.7 1144.0,1136.8 1144.2,1134.8 1144.5,1132.6 1144.7,1130.7 1145.0,1128.8 1145.3,1126.8 1145.5,1124.8 1145.8,1122.4 1146.0,1119.7 1146.3,1117.4 1146.6,1115.8 1146.8,1114.1 1147.1,1112.1 1147.3,1110.0 1147.6,1107.8 1147.8,1105.6 1148.1,1103.7 1148.4,1101.8 1148.6,1099.8 1148.9,1098.2 1149.1,1096.6 1149.4,1094.4 1149.6,1091.8 1149.9,1089.9 1150.1,1088.0 1150.4,1085.5 1150.6,1083.3 1150.9,1081.2 1151.2,1079.3 1151.4,1077.8 1151.7,1076.0 1151.9,1073.7 1152.2,1071.6 1152.4,1069.6 1152.6,1067.5 1152.9,1065.6 1153.1,1063.3 1153.4,1061.6 1153.6,1059.7 1153.9,1057.4 1154.1,1055.1 1154.4,1052.9 1154.6,1050.8 1154.8,1048.8 1155.1,1046.8 1155.3,1045.2 1155.5,1043.1 1155.8,1040.6 1156.0,1038.5 1156.3,1036.6 1156.5,1034.6 1156.7,1032.7 1156.9,1030.5 1157.2,1027.8 1157.4,1025.2 1157.6,1023.5 1157.9,1021.9 1158.1,1019.8 1158.3,1017.5 1158.5,1015.7 1158.7,1014.0 1159.0,1012.1 1159.2,1010.1 1159.4,1007.9 1159.6,1005.6 1159.8,1003.3 1160.0,1001.2 1160.2,999.2 1160.4,997.0 1160.7,994.6 1160.9,992.8 1161.1,990.9 1161.3,988.6 1161.5,986.5 1161.7,984.7 1161.9,982.7 1162.1,980.7 1162.3,978.8 1162.5,976.6 1162.7,974.0 1162.9,972.1 1163.2,970.4 1163.4,968.3 1163.6,966.0 1163.8,964.1 1164.0,962.2 1164.2,959.7 1164.4,957.4 1164.6,955.6 1164.8,954.0 1165.1,952.1 1165.3,950.0 1165.5,947.8 1165.7,945.5 1165.9,943.3 1166.1,941.0 1166.4,939.0 1166.6,937.2 1166.8,935.0 1167.0,933.0 1167.2,931.0 1167.4,928.9 1167.6,927.2 1167.8,925.5 1168.0,923.3 1168.3,920.9 1168.5,918.5 1168.7,916.3 1168.9,914.2 1169.1,911.9 1169.3,909.5 1169.5,907.6 1169.7,906.1 1169.9,904.7 1170.2,902.6 1170.4,900.1 1170.6,897.7 1170.8,895.8 1171.0,894.1 1171.2,892.1 1171.5,890.2 1171.7,888.2 1171.9,886.0 1172.1,883.9 1172.4,881.6 1172.6,879.1 1172.8,877.5 1173.1,875.7 1173.3,873.2 1173.5,870.6 1173.8,868.5 1174.0,866.7 1174.3,864.9 1174.5,863.0 1174.8,860.8 1175.0,858.6 1175.3,856.5 1175.6,854.6 1175.8,852.5 1176.1,850.4 1176.4,848.5 1176.7,846.8 1177.0,844.5 1177.3,842.1 1177.6,840.0 1177.9,837.6 1178.2,835.2 1178.5,833.3 1178.8,831.7 1179.1,830.0 1179.5,827.5 1179.8,825.0 1180.1,823.2 1180.4,821.4 1180.8,819.3 1181.1,816.9 1181.4,814.6 1181.8,813.0 1182.1,811.5 1182.4,809.3 1182.8,807.1 1183.1,804.8 1183.4,802.3 1183.8,800.7 1184.1,799.3 1184.4,797.0 1184.7,794.6 1185.1,792.7 1185.4,790.5 1185.7,788.1 1186.0,786.2 1186.3,784.2 1186.6,782.2 1186.9,780.1 1187.2,778.0 1187.5,776.0 1187.8,774.2 1188.0,772.4 1188.3,770.6 1188.6,768.5 1188.9,766.1 1189.1,763.9 1189.4,761.9 1189.7,760.1 1189.9,758.5 1190.2,756.6 1190.5,754.5 1190.7,752.2 1191.0,750.0 1191.2,747.9 1191.5,746.0 1191.8,744.2 1192.0,741.9 1192.3,739.7 1192.6,737.6 1192.8,735.3 1193.1,733.1 1193.3,731.1 1193.6,729.3 1193.9,727.2 1194.1,725.4 1194.4,723.8 1194.7,721.8 1194.9,719.7 1195.2,717.7 1195.5,715.7 1195.8,713.3 1196.1,710.9 1196.3,709.1 1196.6,707.6 1196.9,705.4 1197.2,703.2 1197.5,701.2 1197.8,698.8 1198.0,696.3 1198.3,694.5 1198.6,692.9 1198.9,690.9 1199.2,688.9 1199.5,686.8 1199.8,684.7 1200.1,682.6 1200.3,680.4 1200.6,678.4 1200.9,676.7 1201.2,674.9 1201.5,672.5 1201.8,670.1 1202.1,667.9 1202.4,665.9 1202.7,664.3 1203.0,662.2 1203.3,659.9 1203.6,658.0 1203.9,656.1 1204.1,654.3 1204.4,652.1 1204.7,649.8 1205.0,648.2 1205.3,646.4 1205.6,644.1 1205.9,641.8 1206.2,639.5 1206.4,637.6 1206.7,635.7 1207.0,633.8 1207.3,631.9 1207.6,629.8 1207.9,627.7 1208.2,625.7 1208.5,623.5 1208.7,621.5 1209.0,619.6 1209.3,617.7 1209.6,615.6 1209.9,613.3 1210.2,611.4 1210.5,609.8 1210.8,607.7 1211.2,605.2 1211.5,603.2 1211.8,601.2 1212.1,599.1 1212.4,597.2 1212.8,595.2 1213.1,593.5 1213.4,591.8 1213.8,589.5 1214.1,587.1 1214.5,585.1 1214.9,583.2 1215.2,580.8 1215.6,578.6 1216.0,576.8 1216.4,574.9 1216.7,573.0 1217.1,570.9 1217.5,568.9 1217.9,567.1 1218.3,565.2 1218.7,563.2 1219.1,561.0 1219.5,558.5 1219.9,556.1 1220.3,554.3 1220.7,552.7 1221.1,550.8 1221.6,548.6 1222.0,546.5 1222.4,544.5 1222.8,542.5 1223.2,540.9 1223.7,539.3 1224.1,537.1 1224.5,534.7 1224.9,532.5 1225.3,530.4 1225.7,528.4 1226.2,526.6 1226.6,524.5 1227.0,522.5 1227.5,520.9 1227.9,518.7 1228.4,516.2 1228.8,514.6 1229.3,513.0 1229.8,510.9 1230.3,508.7 1230.8,506.6 1231.3,504.5 1231.9,502.6 1232.4,500.5 1233.0,498.0 1233.6,496.0 1234.2,494.7 1234.8,493.2 1235.4,491.1 1236.1,488.6 1236.8,486.6 1237.5,484.9 1238.2,483.1 1238.9,481.0 1239.7,479.0 1240.4,477.2 1241.3,475.6 1242.1,474.1 1243.0,472.1 1244.0,469.7 1245.0,467.6 1246.0,466.3 1247.0,464.9 1247.9,463.0 1248.9,461.0 1249.9,459.1 1250.8,457.6 1251.8,455.9 1252.8,453.6 1253.8,451.9 1254.7,450.5 1255.6,448.7 1256.3,446.8 1256.9,444.6 1257.4,442.6 1257.9,440.5 1258.3,438.4 1258.8,436.6 1259.2,434.7 1259.5,432.6 1259.8,430.3 1260.0,428.1 1260.2,425.8 1260.3,423.5 1260.4,421.4 1260.4,418.9 1260.5,416.0 1260.5,413.6 1260.6,411.9 1260.7,410.3 1261.0,409.9 1262.4,411.0 1264.7,412.4 1267.1,413.4 1269.1,414.0 1271.1,414.5 1273.0,414.7 1275.0,414.8 1277.0,414.8 1278.9,414.9 1280.9,414.4 1282.8,413.6 1284.8,413.3 1286.7,413.7 1288.7,413.5 1290.6,412.1 1292.5,411.0 1294.4,410.4 1296.3,409.6 1298.2,408.8 1300.1,408.6 1302.0,408.4 1303.8,407.4 1305.7,406.3 1307.5,405.7 1309.3,404.9 1311.2,403.8 1313.0,402.8 1314.9,402.4 1316.7,401.8 1318.6,400.5 1320.5,399.7 1322.4,399.5 1324.3,398.9 1326.2,398.0 1328.0,397.4 1329.9,396.7 1331.8,395.5 1333.7,394.8 1335.6,394.7 1337.6,394.2 1339.5,393.4 1341.4,392.5 1343.3,391.7 1345.2,391.1 1347.1,390.9 1349.0,390.8 1351.0,390.0 1352.9,389.2 1354.8,388.9 1356.7,388.6 1358.7,388.3 1360.6,387.8 1362.5,387.0 1364.5,386.0 1366.4,385.4 1368.3,384.8 1370.3,384.4 1372.2,383.9 1374.1,383.1 1376.1,382.3 1378.0,381.7 1380.0,381.1 1381.9,380.8 1383.9,380.6 1385.8,379.6 1387.8,378.9 1389.7,378.6 1391.7,378.1 1393.7,377.6 1395.6,377.2 1397.6,377.2 1399.6,376.8 1401.5,376.2 1403.5,375.9 1405.5,375.7 1407.4,375.4 1409.4,375.3 1411.4,375.5 1413.3,375.4 1415.3,375.5 1417.3,376.2 1419.3,376.4 1421.3,376.3 1423.2,376.6 1425.2,377.0 1427.2,377.1 1429.2,377.1 1431.2,377.2 1433.2,377.4 1435.2,377.9 1437.2,378.0 1439.2,378.2 1441.2,378.8 1443.2,379.1 1445.2,379.3 1447.1,379.9 1449.1,380.0 1451.1,379.9 1453.1,380.2 1455.1,380.6 1457.1,380.8 1459.1,381.0 1461.1,381.1 1463.1,381.2 1465.1,381.6 1467.1,381.6 1469.1,381.2 1471.1,381.3 1473.1,381.5 1475.1,381.2 1477.1,380.8 1479.1,381.0 1481.1,381.5 1483.1,381.4 1485.1,381.2 1487.1,381.3 1489.1,381.3 1491.1,381.0 1493.1,380.7 1495.1,380.7 1497.1,381.0 1499.1,381.4 1501.1,381.5 1503.1,381.7 1505.1,381.8 1507.1,381.8 1509.1,381.6 1511.1,381.3 1513.1,381.3 1515.1,381.3 1517.1,381.2 1519.1,381.0 1521.1,381.1 1523.1,381.0 1525.1,380.7 1527.1,380.7 1529.1,380.9 1531.1,381.1 1533.1,381.3 1535.1,381.0 1537.1,381.1 1539.1,381.7 1541.1,381.6 1543.1,381.1 1545.1,381.3 1547.1,381.6 1549.1,381.3 1551.1,381.1 1553.1,381.5 1555.1,381.6 1557.2,381.0 1559.2,380.5 1561.2,380.2 1563.2,380.2 1565.2,380.0 1567.2,379.7 1569.2,379.8 1571.2,380.1 1573.2,380.1 1575.2,379.7 1577.2,379.1 1579.2,379.0 1581.1,379.2 1583.1,378.9 1585.1,378.1 1587.0,377.9 1588.9,378.1 1590.9,377.7 1592.8,377.2 1594.7,376.8 1596.5,376.0 1598.4,375.3 1600.3,374.8 1602.1,373.6 1604.0,372.1 1605.9,371.4 1607.7,370.9 1609.6,369.9 1611.5,368.8 1613.4,368.2 1615.3,367.6 1617.2,367.3 1619.1,367.3 1621.1,366.9 1623.1,366.4 1625.1,366.3 1627.1,366.1 1629.1,365.5 1631.1,365.4 1633.1,365.6 1635.1,365.4 1637.1,364.8 1639.0,364.8 1641.0,365.6 1642.9,366.4 1644.8,366.9 1646.8,367.4 1648.7,367.7 1650.6,368.1 1652.5,368.9 1654.4,369.5 1656.3,370.1 1658.2,371.1 1660.1,372.2 1661.9,372.9 1663.8,373.3 1665.7,374.0 1667.6,375.1 1669.5,376.1 1671.4,377.1 1673.3,377.9 1675.2,378.8 1677.1,379.6 1679.0,379.7 1680.9,379.8 1682.9,380.8 1684.8,381.9 1686.7,382.1 1688.6,382.0 1690.3,382.7 1692.0,384.4 1693.7,386.0 1695.4,387.0 1697.0,388.1 1698.5,389.7 1700.1,391.0 1701.6,392.2 1703.0,393.2 1704.5,394.3 1705.9,396.1 1707.3,398.4 1708.7,400.0 1710.0,400.9 1711.4,402.3 1712.7,404.0 1713.9,405.4 1715.2,407.1 1716.4,409.0 1717.6,410.8 1718.7,412.5 1719.9,413.9 1721.0,415.6 1722.1,417.4 1723.2,419.0 1724.3,420.3 1725.4,422.0 1726.5,424.2 1727.5,426.2 1728.6,427.9 1729.6,429.6 1730.6,431.3 1731.6,432.9 1732.6,434.6 1733.6,436.3 1734.6,438.4 1735.6,440.6 1736.5,442.1 1737.5,443.6 1738.4,445.9 1739.3,448.1 1740.2,449.4 1741.0,451.0 1741.9,453.3 1742.7,455.3 1743.5,457.4 1744.2,459.6 1745.0,461.3 1745.8,463.2 1746.6,465.2 1747.3,466.9 1748.1,468.7 1748.9,470.5 1749.7,472.5 1750.5,474.9 1751.3,477.1 1752.2,478.7 1753.1,480.4 1754.0,482.6 1754.9,484.2 1755.9,485.3 1756.9,486.9 1758.0,488.6 1759.1,490.3 1760.2,491.9 1761.4,493.4 1762.7,494.9 1764.0,496.4 1765.4,497.7 1766.9,499.3 1768.3,501.1 1769.9,502.6 1771.4,503.8 1773.0,505.3 1774.7,507.0 1776.4,508.7 1778.1,509.9 1779.8,511.3 1781.6,512.9 1783.3,514.1 1785.1,515.1 1787.0,516.4 1788.8,517.5 1790.6,518.4 1792.5,519.4 1794.4,520.3 1796.2,521.4 1798.1,522.6 1800.0,523.2 1801.8,523.2 1803.7,523.2 1805.5,523.5 1807.4,524.0 1809.2,524.5 1811.0,524.7 1812.9,524.3 1814.8,523.4 1816.8,523.1 1818.8,523.2 1820.8,523.0 1822.8,522.3 1824.8,521.6 1826.8,521.4 1828.9,521.0 1830.9,520.3 1832.9,519.5 1834.9,518.9 1836.8,518.5 1838.7,518.1 1840.6,517.9 1842.4,517.2 1844.2,515.9 1846.0,514.9 1847.7,514.6 1849.4,514.0 1851.1,512.9 1852.8,511.8 1854.5,510.8 1856.1,509.6 1857.8,508.0 1859.4,506.8 1861.0,506.2 1862.6,505.0 1864.2,503.5 1865.8,502.2 1867.3,501.1 1868.9,499.6 1870.5,497.9 1872.0,496.6 1873.6,495.2 1875.1,493.6 1876.7,492.4 1878.2,491.2 1879.8,489.6 1881.4,487.9 1882.9,486.7 1884.5,485.7 1886.1,484.2 1887.7,482.4 1889.3,481.2 1890.9,480.3 1892.5,479.2 1894.1,478.0 1895.7,476.8 1897.3,475.5 1898.9,474.1 1900.5,472.9 1902.1,471.8 1903.6,470.3 1905.2,469.1 1906.8,468.1 1908.4,466.9 1910.0,465.3 1911.6,463.7 1913.1,462.5 1914.7,461.2 1916.3,459.7 1917.9,458.4 1919.5,457.1 1921.2,456.3 1922.8,455.5 1924.4,454.1 1926.0,452.5 1927.7,451.5 1929.3,450.6 1931.0,449.3 1932.7,447.8 1934.3,446.6 1936.0,446.1 1937.7,445.7 1939.5,444.9 1941.2,443.6 1942.9,442.1 1944.7,440.9 1946.4,440.1 1948.2,438.8 1950.0,437.5 1951.7,436.8 1953.5,436.1 1955.3,435.0 1957.1,434.2 1958.9,433.2 1960.8,432.1 1962.6,431.0 1964.4,430.4 1966.3,429.8 1968.1,428.6 1970.0,427.9 1971.8,427.7 1973.7,427.0 1975.6,426.0 1977.4,425.3 1979.3,424.8 1981.2,423.8 1983.1,422.8 1985.0,422.1 1986.9,422.0 1988.8,422.0 1990.8,421.4 1992.7,420.6 1994.7,420.2 1996.6,420.0 1998.6,419.8 2000.6,419.3 2002.6,418.9 2004.6,418.5 2006.6,418.1 2008.6,417.8 2010.6,417.7 2012.6,417.6 2014.6,417.3 2016.6,416.8 2018.6,416.5 2020.6,416.8 2022.6,417.2 2024.6,417.0 2026.5,416.8 2028.5,417.0 2030.5,417.2 2032.5,417.3 2034.5,417.4 2036.5,418.0 2038.5,418.3 2040.5,418.5 2042.4,418.7 2044.4,419.0 2046.4,419.7 2048.4,420.0 2050.3,420.2 2052.3,420.7 2054.3,421.6 2056.2,422.7 2058.2,423.0 2060.1,422.8 2062.0,423.1 2063.9,423.7 2065.9,424.3 2067.8,424.7 2069.7,425.3 2071.6,427.1 2073.5,428.4 2075.4,429.4 2077.3,430.1 2079.1,430.2 2081.0,430.6 2082.8,431.5 2084.6,432.4 2086.4,432.4 2088.1,432.7 2089.9,434.7 2091.6,436.0 2093.3,436.4 2095.1,437.9 2096.8,438.6 2098.5,439.5 2100.2,441.1 2101.9,442.5 2103.5,444.9 2105.2,447.0 2106.8,446.9 2108.4,447.1 2110.0,448.8 2111.6,450.0 2113.1,450.5 2114.6,451.3 2116.1,452.1 2117.5,454.7 2119.0,457.3 2120.4,458.0 2121.8,458.8 2123.2,460.5 2124.7,462.2 2126.1,463.8 2127.5,466.6 2128.8,466.9 2130.2,465.0 2131.5,468.2 2132.9,473.6 2134.2,474.5 2135.4,475.3 2136.7,477.7 2137.9,478.6 2139.1,479.2 2140.3,481.8 2141.4,486.1 2142.4,488.3 2143.5,488.1 2144.5,487.6 2145.4,488.8 2146.3,493.0 2147.2,496.4 2148.0,495.4 2148.7,494.4 2149.4,497.1 2150.1,501.5 2150.8,503.6 2151.4,505.5 2152.1,507.2 2152.7,509.7 2153.3,514.5 2153.9,516.3 2154.5,516.7 2155.2,519.4 2155.8,523.2 2156.5,525.6 2157.2,523.7 2157.9,522.7 2158.7,526.2 2159.5,529.5 2160.4,530.8 2161.3,532.1 2162.3,534.2 2163.4,536.6 2164.5,538.5 2165.7,539.4 2167.0,540.8 2168.3,542.2 2169.6,544.6 2171.0,550.9 2172.4,552.9 2173.8,548.4 2175.3,547.1 2176.7,551.8 2178.2,556.3 2179.8,558.0 2181.6,560.6 2183.3,561.7 2185.1,562.0 2187.0,565.1 2188.8,564.7 2190.5,559.9 2192.2,559.1 2193.7,559.7 2195.1,559.3 2196.4,564.5 2197.6,571.5 2198.8,571.0 2199.9,568.1 2200.9,572.5 2201.9,578.9 2202.9,578.2 2203.9,572.9 2204.8,572.5 2205.7,578.0 2206.6,584.3 2207.5,588.7 2208.4,588.4 2209.3,587.3 2210.2,590.1 2211.1,595.1 2212.1,598.6 2213.1,599.8 2214.1,602.7 2215.1,607.4 2216.2,607.3 2217.4,605.6 2218.6,609.3 2219.8,612.9 2221.1,613.4 2222.4,617.6 2223.7,622.6 2225.1,622.7 2226.5,620.1 2227.9,617.6 2229.3,621.8 2230.7,628.1 2232.2,630.5 2233.6,631.0 2235.1,628.7 2236.6,630.1 2238.1,635.6 2239.6,636.0 2241.1,636.2 2242.6,639.5 2244.1,635.4 2245.5,629.3 2247.0,634.2 2248.5,642.4 2249.9,643.4 2251.4,643.2 2252.9,646.5 2254.4,648.4 2255.9,650.3 2257.4,650.7 2258.9,649.9 2260.5,654.7 2262.0,660.5 2263.5,661.0 2265.0,658.9 2266.6,657.3 2268.1,659.0 2269.6,662.7 2271.1,665.0 2272.6,666.8 2274.0,666.2 2275.5,664.7 2276.9,665.5 2278.3,670.7 2279.7,676.6 2281.1,679.8 2282.4,684.3 2283.8,686.4 2285.2,684.2 2286.5,682.3 2287.8,680.7 2289.1,681.8 2290.4,685.5 2291.7,688.7 2293.0,691.8 2294.3,694.0 2295.6,694.0 2296.9,692.7 2298.1,693.1 2299.3,695.0 2300.6,696.3 2301.8,698.6 2303.0,701.4 2304.2,706.0 2305.4,709.1 2306.0,707.0 L2306.0,739.1 2305.4,738.2 2304.2,733.7 2303.0,730.0 2301.8,726.9 2300.6,723.8 2299.3,723.5 2298.1,723.9 2296.9,724.5 2295.6,724.4 2294.3,721.1 2293.0,720.9 2291.7,720.9 2290.4,716.6 2289.1,715.5 2287.8,718.1 2286.5,717.9 2285.2,716.3 2283.8,716.6 2282.4,714.1 2281.1,708.1 2279.7,702.5 2278.3,699.5 2276.9,700.4 2275.5,701.3 2274.0,701.0 2272.6,700.9 2271.1,700.8 2269.6,700.4 2268.1,695.6 2266.6,690.6 2265.0,691.3 2263.5,695.2 2262.0,696.9 2260.5,690.7 2258.9,684.4 2257.4,685.5 2255.9,685.3 2254.4,685.4 2252.9,686.9 2251.4,684.1 2249.9,683.3 2248.5,683.2 2247.0,679.4 2245.5,676.1 2244.1,675.8 2242.6,675.9 2241.1,674.5 2239.6,673.4 2238.1,671.3 2236.6,666.9 2235.1,666.7 2233.6,670.7 2232.2,671.4 2230.7,669.1 2229.3,665.8 2227.9,662.1 2226.5,660.7 2225.1,663.7 2223.7,662.7 2222.4,655.9 2221.1,654.4 2219.8,655.3 2218.6,652.1 2217.4,650.5 2216.2,653.2 2215.1,653.9 2214.1,650.5 2213.1,647.2 2212.1,644.8 2211.1,642.0 2210.2,639.2 2209.3,639.5 2208.4,641.5 2207.5,638.4 2206.6,633.0 2205.7,628.6 2204.8,622.7 2203.9,622.1 2202.9,624.7 2201.9,623.8 2200.9,619.8 2199.9,616.6 2198.8,619.7 2197.6,623.6 2196.4,619.2 2195.1,614.0 2193.7,615.3 2192.2,615.4 2190.5,614.2 2188.8,614.6 2187.0,613.5 2185.1,609.3 2183.3,605.5 2181.6,605.6 2179.8,604.9 2178.2,605.3 2176.7,606.6 2175.3,604.3 2173.8,603.9 2172.4,606.4 2171.0,605.5 2169.6,601.4 2168.3,599.9 2167.0,600.4 2165.7,599.5 2164.5,596.0 2163.4,592.4 2162.3,589.9 2161.3,588.1 2160.4,585.4 2159.5,582.0 2158.7,580.8 2157.9,579.3 2157.2,578.1 2156.5,579.4 2155.8,578.9 2155.2,575.1 2154.5,571.5 2153.9,570.8 2153.3,569.7 2152.7,568.1 2152.1,566.3 2151.4,563.0 2150.8,561.8 2150.1,561.5 2149.4,559.4 2148.7,557.2 2148.0,556.7 2147.2,555.7 2146.3,553.4 2145.4,550.6 2144.5,547.6 2143.5,546.1 2142.4,544.1 2141.4,542.2 2140.3,541.9 2139.1,539.9 2137.9,538.8 2136.7,539.6 2135.4,538.7 2134.2,535.3 2132.9,532.2 2131.5,530.3 2130.2,529.5 2128.8,530.0 2127.5,529.0 2126.1,526.3 2124.7,524.4 2123.2,523.1 2121.8,521.0 2120.4,518.3 2119.0,518.4 2117.5,517.9 2116.1,514.2 2114.6,512.8 2113.1,513.3 2111.6,513.1 2110.0,512.7 2108.4,511.8 2106.8,510.4 2105.2,508.0 2103.5,505.5 2101.9,504.7 2100.2,503.8 2098.5,503.0 2096.8,502.6 2095.1,500.7 2093.3,498.6 2091.6,498.2 2089.9,498.4 2088.1,498.0 2086.4,497.3 2084.6,496.6 2082.8,495.5 2081.0,494.0 2079.1,493.4 2077.3,493.0 2075.4,492.5 2073.5,491.5 2071.6,490.5 2069.7,489.9 2067.8,489.2 2065.9,488.3 2063.9,487.9 2062.0,487.4 2060.1,486.9 2058.2,486.9 2056.2,486.9 2054.3,486.3 2052.3,485.6 2050.3,485.0 2048.4,484.3 2046.4,483.6 2044.4,483.0 2042.4,482.8 2040.5,482.9 2038.5,482.7 2036.5,482.6 2034.5,482.3 2032.5,481.7 2030.5,481.5 2028.5,481.3 2026.5,481.0 2024.6,481.2 2022.6,481.4 2020.6,481.2 2018.6,481.4 2016.6,481.8 2014.6,481.9 2012.6,481.6 2010.6,481.6 2008.6,482.4 2006.6,482.9 2004.6,483.1 2002.6,483.6 2000.6,484.2 1998.6,484.6 1996.6,484.9 1994.7,484.8 1992.7,484.9 1990.8,485.4 1988.8,486.4 1986.9,486.9 1985.0,486.8 1983.1,487.0 1981.2,488.0 1979.3,489.2 1977.4,489.7 1975.6,490.4 1973.7,491.2 1971.8,491.5 1970.0,492.0 1968.1,493.1 1966.3,493.9 1964.4,494.3 1962.6,495.1 1960.8,496.2 1958.9,497.2 1957.1,498.0 1955.3,498.7 1953.5,499.5 1951.7,500.3 1950.0,501.2 1948.2,502.4 1946.4,503.7 1944.7,504.8 1942.9,505.8 1941.2,506.9 1939.5,507.9 1937.7,508.5 1936.0,508.9 1934.3,509.7 1932.7,510.9 1931.0,512.4 1929.3,513.8 1927.7,514.7 1926.0,515.5 1924.4,516.8 1922.8,518.4 1921.2,519.2 1919.5,519.7 1917.9,520.9 1916.3,522.2 1914.7,523.3 1913.1,524.4 1911.6,525.5 1910.0,527.1 1908.4,528.6 1906.8,529.6 1905.2,530.6 1903.6,531.6 1902.1,532.7 1900.5,534.1 1898.9,535.4 1897.3,536.6 1895.7,537.6 1894.1,538.7 1892.5,540.2 1890.9,541.5 1889.3,542.5 1887.7,543.7 1886.1,544.9 1884.5,545.8 1882.9,547.0 1881.4,548.6 1879.8,549.9 1878.2,551.4 1876.7,552.9 1875.1,554.2 1873.6,555.3 1872.0,556.3 1870.5,557.4 1868.9,558.9 1867.3,560.4 1865.8,562.0 1864.2,563.5 1862.6,564.7 1861.0,565.8 1859.4,566.9 1857.8,567.7 1856.1,568.6 1854.5,569.7 1852.8,570.9 1851.1,572.0 1849.4,572.8 1847.7,573.5 1846.0,574.0 1844.2,574.8 1842.4,575.6 1840.6,576.1 1838.7,576.7 1836.8,577.3 1834.9,577.7 1832.9,578.2 1830.9,578.7 1828.9,579.3 1826.8,579.8 1824.8,580.3 1822.8,581.1 1820.8,581.8 1818.8,582.0 1816.8,582.2 1814.8,582.5 1812.9,582.7 1811.0,582.9 1809.2,583.0 1807.4,582.7 1805.5,582.2 1803.7,582.0 1801.8,581.8 1800.0,581.2 1798.1,580.5 1796.2,580.0 1794.4,579.1 1792.5,578.0 1790.6,577.2 1788.8,576.5 1787.0,575.6 1785.1,574.4 1783.3,573.2 1781.6,572.0 1779.8,571.0 1778.1,569.7 1776.4,568.3 1774.7,566.6 1773.0,564.9 1771.4,563.4 1769.9,562.2 1768.3,561.0 1766.9,559.5 1765.4,558.0 1764.0,556.5 1762.7,554.9 1761.4,553.6 1760.2,552.2 1759.1,550.4 1758.0,549.0 1756.9,547.7 1755.9,545.9 1754.9,544.0 1754.0,542.6 1753.1,541.3 1752.2,539.8 1751.3,538.0 1750.5,536.3 1749.7,534.5 1748.9,532.5 1748.1,530.5 1747.3,528.8 1746.6,527.1 1745.8,525.4 1745.0,523.5 1744.2,521.4 1743.5,519.4 1742.7,517.5 1741.9,515.7 1741.0,513.8 1740.2,512.0 1739.3,510.5 1738.4,508.7 1737.5,506.9 1736.5,505.3 1735.6,503.3 1734.6,501.4 1733.6,499.8 1732.6,498.1 1731.6,496.6 1730.6,495.3 1729.6,493.5 1728.6,491.6 1727.5,490.0 1726.5,488.2 1725.4,486.2 1724.3,484.3 1723.2,483.0 1722.1,481.9 1721.0,480.2 1719.9,478.5 1718.7,476.9 1717.6,475.4 1716.4,473.9 1715.2,472.2 1713.9,470.4 1712.7,469.1 1711.4,468.0 1710.0,466.7 1708.7,465.3 1707.3,463.6 1705.9,461.9 1704.5,460.5 1703.0,459.2 1701.6,458.0 1700.1,456.8 1698.5,455.5 1697.0,454.2 1695.4,453.2 1693.7,452.1 1692.0,450.7 1690.3,449.7 1688.6,449.1 1686.7,448.7 1684.8,448.1 1682.9,447.6 1680.9,447.1 1679.0,446.4 1677.1,445.8 1675.2,445.1 1673.3,444.5 1671.4,443.8 1669.5,442.8 1667.6,441.7 1665.7,440.8 1663.8,440.3 1661.9,439.8 1660.1,439.1 1658.2,438.3 1656.3,437.5 1654.4,436.9 1652.5,436.1 1650.6,435.1 1648.7,434.6 1646.8,434.4 1644.8,433.9 1642.9,433.5 1641.0,433.3 1639.0,432.7 1637.1,432.7 1635.1,433.3 1633.1,433.4 1631.1,432.9 1629.1,433.1 1627.1,434.1 1625.1,434.6 1623.1,434.6 1621.1,434.4 1619.1,434.3 1617.2,434.5 1615.3,435.1 1613.4,435.9 1611.5,436.4 1609.6,437.1 1607.7,438.2 1605.9,438.9 1604.0,439.4 1602.1,440.3 1600.3,441.4 1598.4,442.2 1596.5,443.1 1594.7,443.9 1592.8,444.2 1590.9,444.4 1588.9,445.0 1587.0,445.0 1585.1,444.9 1583.1,445.2 1581.1,445.5 1579.2,445.6 1577.2,445.7 1575.2,446.3 1573.2,446.8 1571.2,446.9 1569.2,446.9 1567.2,446.5 1565.2,446.6 1563.2,446.8 1561.2,446.8 1559.2,447.0 1557.2,447.2 1555.1,447.7 1553.1,447.9 1551.1,447.9 1549.1,447.9 1547.1,448.0 1545.1,448.0 1543.1,448.0 1541.1,448.0 1539.1,447.6 1537.1,447.5 1535.1,447.7 1533.1,448.1 1531.1,448.1 1529.1,447.7 1527.1,447.4 1525.1,447.5 1523.1,447.9 1521.1,448.1 1519.1,448.0 1517.1,447.9 1515.1,447.8 1513.1,447.6 1511.1,447.6 1509.1,448.0 1507.1,448.4 1505.1,448.4 1503.1,448.1 1501.1,448.2 1499.1,448.5 1497.1,448.4 1495.1,448.0 1493.1,447.6 1491.1,447.4 1489.1,447.7 1487.1,448.1 1485.1,447.9 1483.1,447.8 1481.1,447.8 1479.1,447.6 1477.1,447.7 1475.1,448.0 1473.1,447.8 1471.1,447.5 1469.1,447.6 1467.1,447.8 1465.1,447.8 1463.1,447.5 1461.1,447.6 1459.1,447.8 1457.1,447.5 1455.1,447.0 1453.1,446.7 1451.1,446.5 1449.1,446.5 1447.1,446.4 1445.2,445.9 1443.2,446.1 1441.2,445.9 1439.2,445.0 1437.2,444.5 1435.2,444.4 1433.2,444.4 1431.2,443.9 1429.2,443.6 1427.2,443.9 1425.2,443.9 1423.2,443.6 1421.3,443.5 1419.3,443.3 1417.3,443.0 1415.3,442.7 1413.3,442.4 1411.4,442.2 1409.4,442.3 1407.4,442.6 1405.5,443.0 1403.5,443.5 1401.5,443.8 1399.6,443.7 1397.6,443.6 1395.6,443.7 1393.7,443.9 1391.7,444.5 1389.7,445.3 1387.8,445.9 1385.8,446.6 1383.9,447.1 1381.9,447.5 1380.0,447.9 1378.0,448.6 1376.1,449.4 1374.1,450.2 1372.2,450.6 1370.3,451.0 1368.3,451.8 1366.4,452.4 1364.5,452.4 1362.5,452.8 1360.6,453.8 1358.7,454.6 1356.7,454.8 1354.8,455.2 1352.9,455.6 1351.0,456.1 1349.0,456.6 1347.1,457.1 1345.2,457.9 1343.3,458.6 1341.4,459.0 1339.5,459.5 1337.6,460.2 1335.6,460.6 1333.7,461.0 1331.8,461.6 1329.9,462.5 1328.0,463.2 1326.2,463.4 1324.3,463.9 1322.4,464.9 1320.5,465.5 1318.6,466.1 1316.7,467.1 1314.9,468.0 1313.0,468.5 1311.2,469.1 1309.3,470.2 1307.5,470.9 1305.7,471.2 1303.8,471.8 1302.0,472.5 1300.1,473.2 1298.2,473.9 1296.3,474.7 1294.4,475.3 1292.5,476.3 1290.6,477.6 1288.7,478.1 1286.7,478.0 1284.8,478.1 1282.8,478.5 1280.9,479.0 1278.9,479.6 1277.0,479.9 1275.0,479.7 1273.0,479.5 1271.1,478.8 1269.1,478.0 1267.1,477.8 1264.7,477.1 1262.4,475.8 1261.0,475.0 1260.7,475.4 1260.6,476.6 1260.5,478.2 1260.5,480.5 1260.4,483.4 1260.4,486.0 1260.3,487.9 1260.2,490.2 1260.0,492.3 1259.8,494.2 1259.5,496.6 1259.2,498.8 1258.8,500.4 1258.3,502.1 1257.9,504.3 1257.4,506.3 1256.9,507.9 1256.3,509.9 1255.6,511.8 1254.7,512.9 1253.8,514.1 1252.8,516.2 1251.8,518.1 1250.8,519.5 1249.9,521.0 1248.9,522.6 1247.9,524.4 1247.0,526.5 1246.0,528.4 1245.0,529.9 1244.0,531.6 1243.0,533.0 1242.1,534.6 1241.3,536.4 1240.4,538.2 1239.7,540.2 1238.9,542.3 1238.2,543.9 1237.5,545.3 1236.8,547.4 1236.1,549.6 1235.4,551.9 1234.8,553.8 1234.2,555.1 1233.6,556.5 1233.0,558.3 1232.4,560.5 1231.9,562.6 1231.3,564.5 1230.8,566.4 1230.3,568.1 1229.8,570.0 1229.3,571.7 1228.8,573.4 1228.4,575.1 1227.9,577.2 1227.5,579.4 1227.0,581.0 1226.6,582.9 1226.2,584.8 1225.7,586.9 1225.3,589.0 1224.9,591.1 1224.5,593.2 1224.1,595.2 1223.7,597.1 1223.2,599.1 1222.8,600.8 1222.4,602.1 1222.0,603.6 1221.6,605.7 1221.1,607.7 1220.7,609.7 1220.3,611.5 1219.9,613.1 1219.5,615.1 1219.1,617.5 1218.7,619.4 1218.3,621.0 1217.9,622.7 1217.5,624.6 1217.1,626.9 1216.7,628.7 1216.4,630.7 1216.0,632.7 1215.6,634.4 1215.2,636.7 1214.9,639.1 1214.5,640.9 1214.1,642.7 1213.8,644.4 1213.4,646.1 1213.1,647.9 1212.8,649.6 1212.4,651.3 1212.1,653.1 1211.8,655.1 1211.5,657.2 1211.2,659.1 1210.8,660.8 1210.5,662.7 1210.2,664.9 1209.9,667.0 1209.6,669.1 1209.3,671.0 1209.0,672.5 1208.7,674.4 1208.5,676.8 1208.2,678.5 1207.9,679.9 1207.6,681.7 1207.3,684.0 1207.0,686.3 1206.7,687.8 1206.4,689.3 1206.2,691.4 1205.9,693.4 1205.6,695.5 1205.3,697.7 1205.0,699.6 1204.7,701.4 1204.4,703.5 1204.1,705.6 1203.9,707.2 1203.6,708.6 1203.3,710.6 1203.0,713.1 1202.7,715.2 1202.4,716.7 1202.1,718.2 1201.8,720.0 1201.5,722.3 1201.2,724.5 1200.9,726.2 1200.6,727.8 1200.3,729.8 1200.1,731.9 1199.8,733.8 1199.5,736.0 1199.2,738.5 1198.9,740.3 1198.6,741.8 1198.3,743.4 1198.0,745.4 1197.8,747.5 1197.5,749.6 1197.2,751.4 1196.9,753.2 1196.6,755.3 1196.3,757.2 1196.1,758.7 1195.8,760.6 1195.5,762.9 1195.2,764.9 1194.9,766.9 1194.7,768.8 1194.4,770.6 1194.1,772.5 1193.9,774.3 1193.6,775.9 1193.3,777.6 1193.1,779.7 1192.8,782.0 1192.6,784.1 1192.3,786.1 1192.0,788.0 1191.8,789.7 1191.5,791.5 1191.2,793.4 1191.0,795.6 1190.7,797.6 1190.5,799.2 1190.2,800.8 1189.9,802.9 1189.7,805.0 1189.4,807.0 1189.1,809.1 1188.9,811.3 1188.6,813.3 1188.3,815.0 1188.0,816.8 1187.8,818.4 1187.5,820.1 1187.2,822.4 1186.9,824.8 1186.6,826.6 1186.3,828.3 1186.0,830.3 1185.7,832.2 1185.4,834.1 1185.1,835.7 1184.7,837.6 1184.4,839.7 1184.1,842.0 1183.8,843.6 1183.4,845.1 1183.1,847.3 1182.8,849.2 1182.4,851.0 1182.1,853.0 1181.8,855.0 1181.4,856.7 1181.1,858.5 1180.8,860.5 1180.4,862.5 1180.1,864.4 1179.8,866.5 1179.5,868.7 1179.1,870.7 1178.8,872.4 1178.5,873.8 1178.2,875.2 1177.9,877.0 1177.6,879.5 1177.3,881.6 1177.0,883.5 1176.7,885.3 1176.4,886.9 1176.1,888.8 1175.8,890.6 1175.6,892.4 1175.3,894.4 1175.0,896.2 1174.8,898.2 1174.5,900.4 1174.3,902.3 1174.0,903.7 1173.8,905.3 1173.5,907.5 1173.3,909.7 1173.1,911.7 1172.8,913.4 1172.6,915.2 1172.4,917.1 1172.1,919.1 1171.9,921.4 1171.7,923.5 1171.5,925.1 1171.2,926.8 1171.0,928.7 1170.8,930.4 1170.6,932.2 1170.4,934.2 1170.2,936.1 1169.9,938.1 1169.7,940.2 1169.5,942.0 1169.3,943.7 1169.1,945.7 1168.9,947.5 1168.7,949.7 1168.5,951.8 1168.3,953.6 1168.0,955.6 1167.8,957.7 1167.6,959.6 1167.4,961.4 1167.2,963.1 1167.0,964.7 1166.8,966.7 1166.6,968.8 1166.4,970.5 1166.1,972.3 1165.9,974.3 1165.7,976.4 1165.5,978.6 1165.3,980.5 1165.1,982.1 1164.8,983.5 1164.6,985.3 1164.4,987.6 1164.2,989.6 1164.0,991.3 1163.8,993.2 1163.6,995.4 1163.4,997.3 1163.2,999.2 1162.9,1001.4 1162.7,1003.2 1162.5,1005.1 1162.3,1007.0 1162.1,1008.8 1161.9,1010.7 1161.7,1012.2 1161.5,1013.9 1161.3,1016.2 1161.1,1018.6 1160.9,1020.4 1160.7,1021.9 1160.4,1023.7 1160.2,1025.8 1160.0,1027.5 1159.8,1029.3 1159.6,1031.9 1159.4,1034.3 1159.2,1035.8 1159.0,1037.5 1158.7,1039.5 1158.5,1041.3 1158.3,1043.1 1158.1,1045.2 1157.9,1046.9 1157.6,1048.6 1157.4,1050.4 1157.2,1052.2 1156.9,1054.5 1156.7,1056.8 1156.5,1058.8 1156.3,1060.3 1156.0,1061.9 1155.8,1063.8 1155.5,1066.0 1155.3,1068.5 1155.1,1070.6 1154.8,1072.3 1154.6,1073.8 1154.4,1075.4 1154.1,1077.5 1153.9,1079.6 1153.6,1081.5 1153.4,1083.7 1153.1,1085.7 1152.9,1087.2 1152.6,1089.0 1152.4,1091.0 1152.2,1092.9 1151.9,1094.8 1151.7,1096.8 1151.4,1098.6 1151.2,1100.5 1150.9,1102.2 1150.6,1103.7 1150.4,1106.1 1150.1,1108.6 1149.9,1110.5 1149.6,1112.2 1149.4,1113.9 1149.1,1115.7 1148.9,1117.5 1148.6,1119.6 1148.4,1121.6 1148.1,1123.1 1147.8,1124.6 1147.6,1126.9 1147.3,1129.3 1147.1,1131.3 1146.8,1133.3 1146.6,1135.0 1146.3,1136.1 1146.0,1138.0 1145.8,1140.5 1145.5,1143.0 1145.3,1144.9 1145.0,1146.6 1144.7,1148.4 1144.5,1150.1 1144.2,1152.2 1144.0,1154.3 1143.7,1156.0 1143.4,1157.9 1143.2,1159.9 1142.9,1161.9 1142.7,1163.8 1142.4,1165.6 1142.1,1167.5 1141.9,1169.8 1141.6,1171.5 1141.4,1173.2 1141.1,1175.3 1140.8,1177.1 1140.6,1178.9 1140.3,1181.0 1140.1,1183.1 1139.8,1185.1 1139.5,1186.7 1139.3,1188.6 1139.0,1190.6 1138.7,1192.7 1138.5,1194.7 1138.2,1196.4 1137.9,1198.3 1137.7,1200.1 1137.4,1201.9 1137.1,1204.1 1136.9,1206.4 1136.6,1208.2 1136.3,1209.8 1136.0,1211.5 1135.8,1213.4 1135.5,1215.4 1135.2,1217.3 1134.9,1219.1 1134.6,1220.8 1134.4,1222.7 1134.1,1225.0 1133.8,1226.7 1133.5,1228.4 1133.2,1230.8 1132.9,1233.2 1132.6,1234.9 1132.3,1236.6 1132.0,1238.6 1131.7,1240.6 1131.4,1242.3 1131.1,1244.1 1130.8,1246.2 1130.5,1248.4 1130.2,1250.6 1129.9,1252.5 1129.6,1254.3 1129.2,1256.1 1128.9,1257.8 1128.6,1259.5 1128.2,1261.2 1127.9,1263.1 1127.5,1265.3 1127.2,1267.4 1126.8,1269.5 1126.5,1271.3 1126.1,1273.2 1125.8,1275.1 1125.4,1277.1 1125.1,1278.9 1124.7,1280.5 1124.3,1282.4 1124.0,1284.4 1123.6,1286.5 1123.3,1288.2 1122.9,1290.1 1122.5,1292.3 1122.2,1294.1 1121.8,1295.7 1121.4,1297.7 1121.1,1299.9 1120.7,1301.6 1120.3,1303.3 1120.0,1305.2 1119.6,1307.1 1119.3,1309.3 1118.9,1311.4 1118.5,1313.3 1118.2,1315.3 1117.8,1317.4 1117.5,1319.4 1117.1,1321.1 1116.8,1322.9 1116.5,1324.9 1116.1,1326.9 1115.8,1328.9 1115.5,1330.6 1115.2,1332.5 1114.8,1334.3 1114.5,1336.0 1114.2,1338.1 1113.9,1340.2 1113.6,1342.2 1113.3,1344.2 1113.1,1345.9 1112.8,1347.6 1112.5,1349.8 1112.3,1352.0 1112.1,1353.9 1111.8,1355.7 1111.5,1357.5 1111.2,1359.1 1110.9,1361.2 1110.6,1363.6 1110.2,1365.4 1109.7,1366.9 1109.2,1368.8 1108.7,1370.9 1108.2,1372.9 1107.6,1375.0 1107.1,1376.8 1106.6,1378.6 1106.1,1380.5 1105.6,1382.1 1105.1,1383.9 1104.7,1385.7 1104.2,1387.5 1103.7,1389.6 1103.2,1391.7 1102.8,1393.7 1102.3,1395.9 1101.8,1397.9 1101.3,1399.7 1100.8,1401.7 1100.3,1403.6 1099.8,1405.5 1099.2,1407.5 1098.7,1409.5 1098.2,1411.2 1097.6,1412.8 1097.0,1414.4 1096.5,1416.0 1095.9,1418.2 1095.3,1420.6 1094.7,1422.4 1094.2,1424.1 1093.6,1425.7 1093.0,1427.6 1092.4,1430.0 1091.8,1432.1 1091.2,1433.5 1090.6,1435.2 1089.9,1437.4 1089.3,1438.9 1088.6,1440.5 1087.8,1442.6 1087.0,1444.5 1086.1,1445.9 1085.2,1447.3 1084.3,1449.3 1083.3,1451.5 1082.3,1453.3 1081.2,1454.8 1080.1,1456.2 1078.9,1457.6 1077.6,1459.1 1076.4,1460.9 1075.0,1462.5 1073.6,1463.9 1072.2,1465.1 1070.8,1466.6 1069.3,1468.0 1067.7,1468.9 1065.9,1469.9 1064.1,1471.0 1062.2,1471.8 1060.2,1472.4 1058.2,1472.6 1056.3,1472.6 1054.3,1473.3 1052.3,1474.1 1050.3,1473.9 1048.3,1473.7 1046.4,1473.9 1044.4,1474.2 1042.4,1474.2 1040.4,1474.0 1038.4,1474.1 1036.4,1473.9 1034.4,1473.4 1032.4,1473.2 1030.4,1473.0 1028.4,1472.8 1026.4,1472.4 1024.4,1472.3 1022.4,1472.2 1020.4,1472.1 1018.4,1472.1 1016.4,1471.7 1014.4,1471.2 1012.5,1471.1 1010.5,1470.8 1008.5,1470.4 1006.6,1470.2 1004.6,1470.2 1002.7,1469.8 1000.7,1469.2 998.8,1468.7 996.9,1468.3 994.9,1467.4 993.0,1466.4 991.1,1466.2 989.1,1466.1 987.2,1465.6 985.3,1465.0 983.4,1464.5 981.5,1463.6 979.6,1462.9 977.6,1462.2 975.7,1461.1 973.8,1460.0 972.0,1459.1 970.1,1459.1 968.2,1459.1 966.3,1458.1 964.5,1457.3 962.6,1456.7 960.8,1455.8 958.9,1455.4 957.0,1454.8 955.2,1453.5 953.3,1452.5 951.4,1451.9 949.6,1450.9 947.7,1450.0 945.8,1449.4 943.9,1449.1 942.0,1449.1 940.0,1448.9 938.1,1448.4 936.1,1447.8 934.2,1447.4 932.2,1447.4 930.2,1447.4 928.2,1447.3 926.2,1447.1 924.2,1446.7 922.2,1446.6 920.2,1446.5 918.2,1446.3 916.2,1446.1 914.2,1445.7 912.2,1445.3 910.2,1444.6 908.2,1444.1 906.3,1443.9 904.4,1443.6 902.4,1443.2 900.5,1442.8 898.6,1442.2 896.7,1441.6 894.8,1441.0 892.9,1440.5 891.0,1440.0 889.2,1439.1 887.3,1438.5 885.4,1438.2 883.5,1437.1 881.6,1436.1 879.7,1435.8 877.9,1435.2 876.0,1434.6 874.1,1433.8 872.2,1433.1 870.2,1432.6 868.3,1431.8 866.4,1431.0 864.4,1431.1 862.5,1431.0 860.5,1430.3 858.6,1429.8 856.6,1429.6 854.7,1428.9 852.7,1428.0 850.8,1427.4 848.9,1427.3 847.0,1427.2 845.0,1426.4 843.1,1425.7 841.2,1425.4 839.3,1424.8 837.3,1424.2 835.4,1423.7 833.5,1423.0 831.6,1422.0 829.7,1420.8 827.8,1420.1 825.9,1419.8 824.0,1419.3 822.1,1418.7 820.3,1418.0 818.4,1417.0 816.6,1416.2 814.8,1415.5 813.1,1414.5 811.3,1413.7 809.6,1413.0 807.9,1412.1 806.2,1411.2 804.5,1410.2 802.9,1408.9 801.2,1407.9 799.6,1406.6 798.0,1405.2 796.4,1403.9 794.8,1402.8 793.2,1401.6 791.6,1400.0 790.0,1398.4 788.4,1397.0 786.8,1395.9 785.2,1395.0 783.7,1393.7 782.2,1392.1 780.6,1390.7 779.1,1389.6 777.6,1388.0 776.1,1386.5 774.6,1385.4 773.1,1384.1 771.5,1383.0 769.9,1382.1 768.3,1380.9 766.7,1379.9 765.0,1379.5 763.2,1378.6 761.4,1377.6 759.6,1376.6 757.7,1375.5 755.8,1374.7 753.9,1374.3 751.9,1373.9 750.0,1373.2 748.0,1372.5 746.1,1372.1 744.1,1371.9 742.2,1372.0 740.3,1372.1 738.3,1372.5 736.4,1373.0 734.4,1373.2 732.4,1372.9 730.4,1373.0 728.5,1373.8 726.5,1374.8 724.5,1375.6 722.6,1376.4 720.7,1377.2 718.8,1377.8 716.9,1378.2 715.0,1378.7 713.0,1379.5 711.1,1380.2 709.2,1380.8 707.3,1381.6 705.4,1382.1 703.5,1382.9 701.6,1384.0 699.9,1384.9 698.1,1385.9 696.4,1386.9 694.8,1387.7 693.3,1388.9 691.9,1390.2 690.4,1391.3 689.0,1392.7 687.7,1394.2 686.3,1395.5 685.0,1396.7 683.8,1398.3 682.5,1399.9 681.3,1401.4 680.1,1403.1 678.8,1404.9 677.6,1406.7 676.5,1408.2 675.3,1409.8 674.1,1411.8 672.9,1413.6 671.7,1415.0 670.5,1416.5 669.2,1418.1 668.1,1419.8 666.9,1421.8 665.8,1423.2 664.6,1424.5 663.5,1426.1 662.4,1427.9 661.3,1429.4 660.2,1431.0 659.1,1432.8 658.0,1434.3 656.8,1436.0 655.7,1437.9 654.6,1439.5 653.4,1441.1 652.2,1442.7 651.0,1444.3 649.7,1445.9 648.5,1447.3 647.2,1448.7 645.8,1450.0 644.5,1451.1 643.1,1452.6 641.6,1454.5 640.2,1456.4 638.7,1458.1 637.2,1459.0 635.7,1459.9 634.2,1461.3 632.6,1462.7 631.0,1464.1 629.4,1465.4 627.8,1466.8 626.1,1467.9 624.4,1468.4 622.7,1468.7 621.0,1469.3 619.2,1470.5 617.4,1471.8 615.5,1472.6 613.6,1472.9 611.7,1473.6 609.7,1474.6 607.8,1475.4 605.8,1475.9 603.9,1476.1 601.9,1476.2 600.0,1476.5 598.1,1477.2 596.1,1478.3 594.2,1478.7 592.2,1478.3 590.2,1478.4 588.2,1479.2 586.2,1479.6 584.3,1479.7 582.3,1480.2 580.3,1480.7 578.3,1481.1 576.3,1481.3 574.3,1481.1 572.3,1480.7 570.3,1480.9 568.3,1481.7 566.4,1481.9 564.4,1481.5 562.4,1481.4 560.4,1481.6 558.4,1482.2 556.4,1482.8 554.4,1483.2 552.4,1483.1 550.4,1482.5 548.4,1482.3 546.4,1482.8 544.4,1483.3 542.4,1483.4 540.4,1483.2 538.4,1483.2 536.4,1483.6 534.4,1483.7 532.4,1483.6 530.4,1483.9 528.4,1484.1 526.4,1484.1 524.4,1484.5 522.4,1484.5 520.4,1484.1 518.4,1483.9 516.4,1484.1 514.4,1484.4 512.4,1484.9 510.4,1484.7 508.4,1484.4 506.4,1484.7 504.4,1485.0 502.4,1484.9 500.4,1484.8 498.4,1484.6 496.4,1484.8 494.4,1485.2 492.4,1485.2 490.4,1484.7 488.4,1484.8 486.4,1485.2 484.4,1485.4 482.5,1485.5 480.5,1485.8 478.5,1486.1 476.5,1486.0 474.5,1486.1 472.5,1486.7 470.5,1487.1 468.5,1487.2 466.5,1487.4 464.5,1487.4 462.5,1487.4 460.6,1487.8 458.6,1488.4 456.6,1488.5 454.6,1488.7 452.6,1489.0 450.6,1489.4 448.6,1489.6 446.6,1489.6 444.6,1489.5 442.7,1489.8 440.7,1490.0 438.7,1489.9 436.7,1490.1 434.7,1490.4 432.7,1490.3 430.7,1490.3 428.7,1490.5 426.7,1490.9 424.7,1491.1 422.7,1490.9 420.7,1491.0 418.7,1491.2 416.7,1491.2 414.7,1491.3 412.7,1491.5 410.7,1491.4 408.7,1491.0 406.7,1491.1 404.7,1491.7 402.7,1491.7 400.7,1491.3 398.7,1491.2 396.7,1491.6 394.7,1491.8 392.7,1491.6 390.7,1491.2 388.7,1491.2 386.7,1491.7 384.7,1492.1 382.7,1492.0 380.7,1492.3 378.7,1492.4 376.7,1492.1 374.7,1491.9 372.7,1491.8 370.7,1491.6 368.7,1491.6 366.7,1491.7 364.7,1491.9 362.7,1492.2 360.7,1492.4Z" fill="#ffd700" fill-opacity="0.2" stroke="#ffd700" stroke-opacity="0.2" stroke-width="2.0" stroke-linejoin="round"/>
<path d="M360.7,1337.2 363.2,1336.5 365.7,1336.1 368.2,1335.0 370.7,1333.5 373.2,1332.6 375.7,1331.6 378.2,1330.5 380.7,1329.5 383.2,1328.2 385.7,1326.6 388.2,1325.2 390.7,1324.2 393.2,1323.2 395.7,1321.8 398.2,1320.3 400.7,1318.9 403.2,1317.5 405.7,1316.1 408.2,1314.7 410.7,1313.1 413.2,1311.1 415.7,1308.9 418.2,1307.0 420.7,1305.5 423.2,1303.9 425.7,1302.1 428.2,1300.4 430.7,1298.7 433.2,1297.1 435.7,1295.4 438.2,1293.7 440.7,1291.8 443.2,1289.8 445.7,1288.0 448.2,1286.1 450.7,1284.1 453.2,1282.1 455.7,1280.6 458.2,1279.2 460.7,1277.4 463.2,1275.3 465.7,1273.5 468.2,1272.0 470.7,1270.2 473.2,1268.6 475.7,1267.3 478.2,1266.0 480.7,1264.9 483.2,1263.3 485.7,1261.5 488.2,1260.0 490.7,1258.7 493.2,1257.5 495.7,1256.3 498.2,1255.2 500.7,1254.2 503.2,1253.2 505.7,1252.1 508.2,1251.0 510.7,1250.0 513.2,1249.0 515.7,1247.7 518.2,1246.5 520.7,1245.4 523.2,1244.5 525.7,1243.9 528.2,1243.2 530.7,1242.0 533.2,1240.8 535.7,1240.1 538.2,1239.6 540.7,1238.9 543.2,1238.1 545.7,1237.6 548.2,1236.9 550.7,1235.9 553.2,1235.3 555.7,1234.7 558.2,1233.8 560.7,1233.1 563.2,1232.5 565.7,1231.5 568.2,1230.1 570.7,1228.4 573.2,1227.0 575.7,1225.7 578.2,1224.2 580.7,1222.7 583.2,1221.1 585.7,1219.4 588.2,1217.6 590.7,1215.5 593.2,1213.6 595.7,1212.1 598.2,1210.4 600.7,1208.7 603.2,1207.0 605.7,1205.8 608.2,1204.4 610.7,1202.6 613.2,1201.2 615.7,1200.0 618.2,1198.4 620.7,1196.9 623.2,1195.4 625.7,1194.0 628.2,1192.5 630.7,1191.3 633.2,1190.2 635.7,1188.9 638.2,1187.3 640.7,1185.7 643.2,1183.9 645.7,1182.3 648.2,1181.0 650.7,1179.5 653.2,1177.9 655.7,1176.3 658.2,1174.8 660.7,1173.5 663.2,1172.2 665.7,1170.7 668.2,1168.9 670.7,1167.2 673.2,1165.5 675.7,1163.8 678.2,1162.2 680.7,1160.4 683.2,1158.3 685.7,1156.7 688.2,1155.6 690.7,1154.0 693.2,1152.1 695.7,1150.5 698.2,1148.7 700.7,1146.9 703.2,1144.8 705.7,1143.1 708.2,1141.6 710.7,1139.6 713.2,1137.4 715.7,1135.6 718.2,1134.1 720.7,1132.3 723.2,1129.8 725.7,1127.3 728.2,1125.1 730.7,1122.8 733.2,1120.6 735.7,1118.6 738.2,1116.8 740.7,1114.8 743.2,1112.4 745.7,1110.3 748.2,1108.2 750.7,1106.1 753.2,1104.0 755.7,1101.9 758.2,1099.8 760.7,1097.8 763.2,1095.5 765.7,1093.1 768.2,1091.2 770.7,1089.5 773.2,1087.3 775.7,1084.8 778.2,1082.9 780.7,1081.1 783.2,1078.8 785.7,1076.5 788.2,1074.6 790.7,1072.5 793.2,1070.3 795.7,1068.6 798.2,1066.9 800.7,1065.2 803.2,1063.6 805.7,1062.0 808.2,1060.2 810.7,1058.2 813.2,1056.0 815.7,1054.2 818.2,1052.8 820.7,1051.3 823.2,1049.7 825.7,1048.1 828.2,1046.8 830.7,1045.4 833.2,1043.7 835.7,1042.0 838.2,1040.3 840.7,1038.7 843.2,1037.5 845.7,1036.3 848.2,1034.9 850.7,1033.5 853.2,1032.3 855.7,1031.1 858.2,1029.4 860.7,1027.3 863.2,1026.0 865.7,1025.0 868.2,1023.7 870.7,1022.2 873.2,1020.9 875.7,1019.7 878.2,1018.2 880.7,1017.2 883.2,1016.3 885.7,1015.0 888.2,1013.9 890.7,1012.9 893.2,1012.0 895.7,1011.2 898.2,1010.5 900.7,1009.8 903.2,1008.8 905.7,1007.9 908.2,1007.1 910.7,1006.7 913.2,1006.6 915.7,1005.9 918.2,1004.8 920.7,1004.1 923.2,1003.9 925.7,1003.4 928.2,1002.6 930.7,1002.1 933.2,1001.8 935.7,1001.3 938.2,1000.6 940.7,1000.0 943.2,999.4 945.7,998.7 948.2,998.0 950.7,997.3 953.2,996.8 955.7,996.1 958.2,995.3 960.7,994.4 963.2,993.6 965.7,993.2 968.2,992.5 970.7,991.5 973.2,990.4 975.7,989.6 978.2,988.9 980.7,987.9 983.2,987.1 985.7,986.1 988.2,984.7 990.7,983.8 993.2,983.1 995.7,982.3 998.2,981.5 1000.7,980.6 1003.2,980.2 1005.7,979.6 1008.2,978.3 1010.7,977.4 1013.2,976.7 1015.7,975.6 1018.2,974.4 1020.7,973.6 1023.2,972.8 1025.7,971.9 1028.2,971.0 1030.7,970.0 1033.2,968.8 1035.7,967.5 1038.2,966.7 1040.7,966.2 1043.2,965.2 1045.7,963.9 1048.2,963.0 1050.7,962.0 1053.2,961.3 1055.7,960.6 1058.2,959.4 1060.7,958.0 1063.2,957.0 1065.7,956.1 1068.2,955.0 1070.7,953.9 1073.2,952.8 1075.7,951.9 1078.2,951.2 1080.7,950.4 1083.2,949.7 1085.7,948.6 1088.2,947.7 1090.7,946.9 1093.2,946.1 1095.7,945.8 1098.2,945.2 1100.7,944.2 1103.2,943.4 1105.7,942.3 1108.2,941.1 1110.7,940.1 1113.2,939.1 1115.7,938.1 1118.2,937.6 1120.7,937.0 1123.2,936.1 1125.7,935.0 1128.2,934.1 1130.7,933.4 1133.2,932.6 1135.7,931.8 1138.2,931.1 1140.7,930.5 1143.2,929.6 1145.7,928.4 1148.2,927.4 1150.7,926.3 1153.2,925.4 1155.7,924.8 1158.2,924.1 1160.7,923.4 1163.2,922.6 1165.7,921.8 1168.2,920.7 1170.7,919.8 1173.2,919.1 1175.7,918.3 1178.2,917.5 1180.7,916.9 1183.2,916.1 1185.7,915.0 1188.2,914.2 1190.7,913.5 1193.2,912.4 1195.7,911.6 1198.2,911.2 1200.7,910.3 1203.2,909.2 1205.7,908.2 1208.2,907.2 1210.7,906.6 1213.2,906.2 1215.7,905.6 1218.2,904.9 1220.7,904.3 1223.2,903.4 1225.7,902.6 1228.2,901.8 1230.7,900.9 1233.2,900.4 1235.7,899.8 1238.2,898.9 1240.7,898.3 1243.2,897.6 1245.7,896.6 1248.2,895.7 1250.7,894.9 1253.2,894.2 1255.7,893.4 1258.2,892.2 1260.7,891.1 1263.2,890.4 1265.7,890.0 1268.2,889.2 1270.7,888.5 1273.2,887.8 1275.7,886.9 1278.2,886.2 1280.7,885.9 1283.2,885.7 1285.7,885.2 1288.2,884.9 1290.7,884.9 1293.2,884.3 1295.7,883.2 1298.2,882.7 1300.7,882.7 1303.2,882.4 1305.7,881.9 1308.2,881.6 1310.7,881.3 1313.2,881.1 1315.7,880.7 1318.2,880.1 1320.7,879.6 1323.2,879.2 1325.7,879.0 1328.2,879.0 1330.7,878.7 1333.2,878.0 1335.7,877.5 1338.2,877.2 1340.7,876.8 1343.2,876.2 1345.7,875.6 1348.2,875.3 1350.7,875.0 1353.2,874.7 1355.7,874.2 1358.2,873.6 1360.7,872.6 1363.2,871.6 1365.7,871.1 1368.2,870.9 1370.7,870.4 1373.2,869.6 1375.7,868.8 1378.2,868.1 1380.7,867.5 1383.2,867.0 1385.7,866.5 1388.2,866.2 1390.7,865.7 1393.2,865.1 1395.7,864.5 1398.2,864.3 1400.7,863.9 1403.2,863.4 1405.7,863.0 1408.2,862.6 1410.7,862.3 1413.2,862.0 1415.7,861.5 1418.2,861.3 1420.7,861.2 1423.2,860.9 1425.7,860.4 1428.2,860.1 1430.7,860.1 1433.2,860.0 1435.7,859.8 1438.2,859.7 1440.7,859.3 1443.2,858.6 1445.7,858.2 1448.2,858.2 1450.7,858.2 1453.2,857.8 1455.7,857.5 1458.2,857.4 1460.7,857.2 1463.2,856.9 1465.7,856.8 1468.2,856.5 1470.7,856.1 1473.2,856.1 1475.7,856.1 1478.2,855.7 1480.7,855.4 1483.2,855.7 1485.7,855.7 1488.2,855.4 1490.7,855.1 1493.2,854.9 1495.7,854.6 1498.2,854.4 1500.7,854.4 1503.2,854.4 1505.7,854.2 1508.2,854.1 1510.7,854.2 1513.2,854.1 1515.7,853.6 1518.2,853.2 1520.7,853.1 1523.2,853.1 1525.7,853.3 1528.2,853.1 1530.7,852.6 1533.2,852.5 1535.7,852.4 1538.2,852.1 1540.7,851.8 1543.2,851.6 1545.7,851.7 1548.2,851.3 1550.7,850.8 1553.2,850.4 1555.7,850.1 1558.2,850.0 1560.7,849.6 1563.2,848.8 1565.7,848.5 1568.2,848.5 1570.7,848.4 1573.2,847.8 1575.7,847.1 1578.2,846.5 1580.7,846.0 1583.2,845.5 1585.7,844.9 1588.2,844.3 1590.7,843.4 1593.2,842.2 1595.7,841.2 1598.2,839.8 1600.7,838.1 1603.2,836.6 1605.7,835.5 1608.2,834.5 1610.7,833.5 1613.2,832.4 1615.7,831.5 1618.2,831.4 1620.7,831.3 1623.2,830.8 1625.7,830.3 1628.2,830.0 1630.7,829.7 1633.2,829.4 1635.7,829.0 1638.2,829.0 1640.7,828.9 1643.2,828.4 1645.7,828.0 1648.2,827.9 1650.7,827.8 1653.2,827.5 1655.7,827.3 1658.2,827.2 1660.7,826.9 1663.2,826.5 1665.7,826.1 1668.2,825.7 1670.7,825.8 1673.2,826.0 1675.7,825.7 1678.2,825.3 1680.7,825.1 1683.2,824.7 1685.7,824.2 1688.2,824.1 1690.7,824.1 1693.2,823.8 1695.7,823.3 1698.2,823.4 1700.7,823.4 1703.2,822.7 1705.7,821.9 1708.2,821.4 1710.7,821.3 1713.2,820.9 1715.7,820.3 1718.2,819.8 1720.7,819.6 1723.2,819.3 1725.7,819.0 1728.2,819.1 1730.7,819.4 1733.2,819.2 1735.7,819.2 1738.2,819.1 1740.7,818.9 1743.2,818.8 1745.7,819.1 1748.2,819.3 1750.7,819.0 1753.2,818.9 1755.7,819.4 1758.2,819.5 1760.7,819.3 1763.2,819.3 1765.7,819.6 1768.2,819.8 1770.7,819.9 1773.2,819.9 1775.7,820.2 1778.2,820.3 1780.7,820.0 1783.2,819.9 1785.7,820.3 1788.2,820.9 1790.7,821.4 1793.2,821.3 1795.7,820.8 1798.2,820.3 1800.7,820.5 1803.2,821.0 1805.7,821.1 1808.2,821.2 1810.7,821.6 1813.2,821.8 1815.7,821.7 1818.2,821.5 1820.7,821.2 1823.2,821.5 1825.7,821.8 1828.2,821.6 1830.7,821.2 1833.2,821.1 1835.7,821.5 1838.2,821.8 1840.7,821.6 1843.2,821.7 1845.7,821.7 1848.2,821.6 1850.7,821.5 1853.2,821.4 1855.7,821.4 1858.2,821.7 1860.7,821.7 1863.2,821.4 1865.7,821.2 1868.2,821.4 1870.7,821.5 1873.2,821.3 1875.7,821.0 1878.2,820.6 1880.7,820.3 1883.2,820.1 1885.7,819.8 1888.2,819.3 1890.7,818.5 1893.2,818.0 1895.7,817.9 1898.2,817.7 1900.7,817.2 1903.2,816.6 1905.7,815.9 1908.2,815.6 1910.7,815.4 1913.2,814.9 1915.7,814.6 1918.2,814.5 1920.7,814.0 1923.2,813.4 1925.7,813.0 1928.2,812.7 1930.7,812.4 1933.2,811.8 1935.7,811.6 1938.2,811.9 1940.7,811.7 1943.2,811.1 1945.7,810.6 1948.2,810.2 1950.7,810.2 1953.2,810.4 1955.7,810.1 1958.2,809.7 1960.7,809.4 1963.2,809.4 1965.7,809.3 1968.2,808.8 1970.7,808.5 1973.2,808.3 1975.7,808.1 1978.2,807.9 1980.7,807.4 1983.2,807.2 1985.7,807.2 1988.2,806.9 1990.7,806.6 1993.2,806.5 1995.7,806.4 1998.2,806.2 2000.7,806.0 2003.2,805.6 2005.7,805.6 2008.2,805.7 2010.7,805.4 2013.2,805.1 2015.7,805.0 2018.2,804.9 2020.7,804.9 2023.2,804.8 2025.7,804.7 2028.2,804.7 2030.7,804.8 2033.2,805.0 2035.7,804.9 2038.2,805.1 2040.7,805.4 2043.2,805.2 2045.7,805.1 2048.2,805.1 2050.7,805.1 2053.2,805.0 2055.7,805.0 2058.2,805.1 2060.7,805.3 2063.2,805.4 2065.7,805.4 2068.2,805.6 2070.7,805.7 2073.2,805.3 2075.7,805.3 2078.2,805.6 2080.7,805.9 2083.2,806.2 2085.7,806.3 2088.2,806.7 2090.7,807.0 2093.2,807.0 2095.7,807.3 2098.2,808.2 2100.7,809.2 2103.2,810.0 2105.7,810.8 2108.2,812.0 2110.7,813.0 2113.2,813.6 2115.7,814.3 2118.2,815.5 2120.7,816.8 2123.2,818.0 2125.7,819.4 2128.2,820.7 2130.7,821.9 2133.2,823.0 2135.7,824.5 2138.2,826.7 2140.7,829.0 2143.2,830.9 2145.7,833.2 2148.2,835.9 2150.7,839.3 2153.2,843.7 2155.7,848.5 2158.2,852.7 2160.7,854.9 2163.2,855.3 2165.7,856.1 2168.2,856.5 2170.7,855.2 2173.2,854.4 2175.7,854.4 2178.2,855.3 2180.7,856.2 2183.2,855.5 2185.7,853.6 2188.2,854.8 2190.7,858.3 2193.2,859.1 2195.7,857.2 2198.2,857.9 2200.7,859.8 2203.2,859.7 2205.7,861.6 2208.2,863.8 2210.7,864.8 2213.2,866.5 2215.7,867.0 2218.2,867.2 2220.7,869.9 2223.2,871.9 2225.7,870.4 2228.2,870.6 2230.7,870.5 2233.2,867.6 2235.7,866.0 2238.2,866.0 2240.7,866.4 2243.2,867.4 2245.7,868.2 2248.2,867.9 2250.7,867.8 2253.2,867.8 2255.7,866.6 2258.2,866.0 2260.7,866.7 2263.2,866.1 2265.7,864.4 2268.2,864.0 2270.7,864.3 2273.2,863.3 2275.7,862.3 2278.2,861.2 2280.7,860.6 2283.2,862.5 2285.7,863.3 2288.2,862.2 2290.7,859.0 2293.2,856.5 2295.7,858.1 2298.2,861.2 2300.7,863.1 2303.2,863.3 2305.7,861.2 2306.0,858.7 L2306.0,917.3 2305.7,917.7 2303.2,918.3 2300.7,918.6 2298.2,919.5 2295.7,920.0 2293.2,919.2 2290.7,919.6 2288.2,921.9 2285.7,921.6 2283.2,921.6 2280.7,923.6 2278.2,923.5 2275.7,921.3 2273.2,921.7 2270.7,923.1 2268.2,922.8 2265.7,923.9 2263.2,925.5 2260.7,926.6 2258.2,926.4 2255.7,925.6 2253.2,927.4 2250.7,930.4 2248.2,930.4 2245.7,927.3 2243.2,926.5 2240.7,927.4 2238.2,926.7 2235.7,927.9 2233.2,929.6 2230.7,929.2 2228.2,930.3 2225.7,931.9 2223.2,930.7 2220.7,929.1 2218.2,928.9 2215.7,928.7 2213.2,926.9 2210.7,923.9 2208.2,923.3 2205.7,924.5 2203.2,924.8 2200.7,923.6 2198.2,921.6 2195.7,920.3 2193.2,919.8 2190.7,918.6 2188.2,917.9 2185.7,920.4 2183.2,922.2 2180.7,920.4 2178.2,918.8 2175.7,919.3 2173.2,920.9 2170.7,922.3 2168.2,922.5 2165.7,921.6 2163.2,920.7 2160.7,918.7 2158.2,916.2 2155.7,913.5 2153.2,910.5 2150.7,907.5 2148.2,904.8 2145.7,902.9 2143.2,901.4 2140.7,899.8 2138.2,898.0 2135.7,896.4 2133.2,895.0 2130.7,893.4 2128.2,891.7 2125.7,890.3 2123.2,889.2 2120.7,888.2 2118.2,887.0 2115.7,885.8 2113.2,885.2 2110.7,884.3 2108.2,882.9 2105.7,881.9 2103.2,881.4 2100.7,880.5 2098.2,879.6 2095.7,879.2 2093.2,878.9 2090.7,878.5 2088.2,877.5 2085.7,877.1 2083.2,877.2 2080.7,876.9 2078.2,876.5 2075.7,876.2 2073.2,876.2 2070.7,876.4 2068.2,876.1 2065.7,875.6 2063.2,875.6 2060.7,875.6 2058.2,875.4 2055.7,875.2 2053.2,875.1 2050.7,875.1 2048.2,875.2 2045.7,875.4 2043.2,875.0 2040.7,874.5 2038.2,874.5 2035.7,874.5 2033.2,874.5 2030.7,874.8 2028.2,875.2 2025.7,875.4 2023.2,875.2 2020.7,875.0 2018.2,875.2 2015.7,875.4 2013.2,875.5 2010.7,875.7 2008.2,875.9 2005.7,876.0 2003.2,876.1 2000.7,876.5 1998.2,877.0 1995.7,877.1 1993.2,877.3 1990.7,877.8 1988.2,878.1 1985.7,878.1 1983.2,878.0 1980.7,878.0 1978.2,878.5 1975.7,879.1 1973.2,879.3 1970.7,879.2 1968.2,879.3 1965.7,879.5 1963.2,879.7 1960.7,880.1 1958.2,880.8 1955.7,881.0 1953.2,881.1 1950.7,881.6 1948.2,881.9 1945.7,881.9 1943.2,882.4 1940.7,883.0 1938.2,883.3 1935.7,883.7 1933.2,884.2 1930.7,884.6 1928.2,884.9 1925.7,885.1 1923.2,885.3 1920.7,885.3 1918.2,885.7 1915.7,886.6 1913.2,887.4 1910.7,888.0 1908.2,888.3 1905.7,888.5 1903.2,889.2 1900.7,890.0 1898.2,890.7 1895.7,891.4 1893.2,891.8 1890.7,892.1 1888.2,892.5 1885.7,893.1 1883.2,893.6 1880.7,893.6 1878.2,893.9 1875.7,894.3 1873.2,894.7 1870.7,894.9 1868.2,895.2 1865.7,895.8 1863.2,896.0 1860.7,895.8 1858.2,895.7 1855.7,895.8 1853.2,896.1 1850.7,896.4 1848.2,896.4 1845.7,896.6 1843.2,896.9 1840.7,896.9 1838.2,896.7 1835.7,897.0 1833.2,897.4 1830.7,897.2 1828.2,897.2 1825.7,897.6 1823.2,897.8 1820.7,898.0 1818.2,898.0 1815.7,898.0 1813.2,898.0 1810.7,898.2 1808.2,898.4 1805.7,898.3 1803.2,898.4 1800.7,898.7 1798.2,899.0 1795.7,899.0 1793.2,898.9 1790.7,898.9 1788.2,899.0 1785.7,899.3 1783.2,899.4 1780.7,899.4 1778.2,899.4 1775.7,899.4 1773.2,899.5 1770.7,899.5 1768.2,899.5 1765.7,899.2 1763.2,899.1 1760.7,899.5 1758.2,899.4 1755.7,898.9 1753.2,899.0 1750.7,899.1 1748.2,899.0 1745.7,899.0 1743.2,898.7 1740.7,898.4 1738.2,898.4 1735.7,898.2 1733.2,898.0 1730.7,898.0 1728.2,898.0 1725.7,897.8 1723.2,897.6 1720.7,897.7 1718.2,898.1 1715.7,898.4 1713.2,898.5 1710.7,899.0 1708.2,899.8 1705.7,900.2 1703.2,900.4 1700.7,900.3 1698.2,900.3 1695.7,900.3 1693.2,900.2 1690.7,900.4 1688.2,900.5 1685.7,900.4 1683.2,900.3 1680.7,900.3 1678.2,900.6 1675.7,900.7 1673.2,900.4 1670.7,900.0 1668.2,899.6 1665.7,899.7 1663.2,900.2 1660.7,900.4 1658.2,900.4 1655.7,900.4 1653.2,900.2 1650.7,900.1 1648.2,900.0 1645.7,899.8 1643.2,899.8 1640.7,899.5 1638.2,899.3 1635.7,899.4 1633.2,899.3 1630.7,899.4 1628.2,899.3 1625.7,899.1 1623.2,899.3 1620.7,899.5 1618.2,899.5 1615.7,899.4 1613.2,899.4 1610.7,899.7 1608.2,900.7 1605.7,902.1 1603.2,903.4 1600.7,904.6 1598.2,905.8 1595.7,907.0 1593.2,908.1 1590.7,908.5 1588.2,908.6 1585.7,908.6 1583.2,908.5 1580.7,908.9 1578.2,909.5 1575.7,909.9 1573.2,910.0 1570.7,910.0 1568.2,909.6 1565.7,909.5 1563.2,909.8 1560.7,909.8 1558.2,910.1 1555.7,910.5 1553.2,910.6 1550.7,910.5 1548.2,910.4 1545.7,910.6 1543.2,911.0 1540.7,911.1 1538.2,911.2 1535.7,911.5 1533.2,911.7 1530.7,911.9 1528.2,912.0 1525.7,912.2 1523.2,912.8 1520.7,913.3 1518.2,913.2 1515.7,913.4 1513.2,913.8 1510.7,914.2 1508.2,914.6 1505.7,915.1 1503.2,915.5 1500.7,915.6 1498.2,915.8 1495.7,916.2 1493.2,916.8 1490.7,917.8 1488.2,918.7 1485.7,919.1 1483.2,919.3 1480.7,919.3 1478.2,919.6 1475.7,920.4 1473.2,921.0 1470.7,921.4 1468.2,922.0 1465.7,922.7 1463.2,923.2 1460.7,923.7 1458.2,923.9 1455.7,924.1 1453.2,924.5 1450.7,925.0 1448.2,925.4 1445.7,926.1 1443.2,926.7 1440.7,927.1 1438.2,927.6 1435.7,928.2 1433.2,928.5 1430.7,928.7 1428.2,929.4 1425.7,930.1 1423.2,930.5 1420.7,930.9 1418.2,931.5 1415.7,932.1 1413.2,932.4 1410.7,932.5 1408.2,932.9 1405.7,933.9 1403.2,934.3 1400.7,933.9 1398.2,933.9 1395.7,934.4 1393.2,935.3 1390.7,936.3 1388.2,936.7 1385.7,937.2 1383.2,937.9 1380.7,938.6 1378.2,939.3 1375.7,939.9 1373.2,940.6 1370.7,941.4 1368.2,941.9 1365.7,942.4 1363.2,943.1 1360.7,943.6 1358.2,944.0 1355.7,944.4 1353.2,944.9 1350.7,945.5 1348.2,946.2 1345.7,946.6 1343.2,946.5 1340.7,946.5 1338.2,946.7 1335.7,946.9 1333.2,946.9 1330.7,946.6 1328.2,946.8 1325.7,947.0 1323.2,946.7 1320.7,946.6 1318.2,946.6 1315.7,946.5 1313.2,946.4 1310.7,946.5 1308.2,946.6 1305.7,946.2 1303.2,946.0 1300.7,946.1 1298.2,946.1 1295.7,946.2 1293.2,946.2 1290.7,945.9 1288.2,945.9 1285.7,946.1 1283.2,946.5 1280.7,946.8 1278.2,947.0 1275.7,947.0 1273.2,947.2 1270.7,948.0 1268.2,948.5 1265.7,948.9 1263.2,949.5 1260.7,950.4 1258.2,951.4 1255.7,951.9 1253.2,952.4 1250.7,953.0 1248.2,953.5 1245.7,954.2 1243.2,955.2 1240.7,955.8 1238.2,956.2 1235.7,956.7 1233.2,957.3 1230.7,958.0 1228.2,958.4 1225.7,958.7 1223.2,959.5 1220.7,960.4 1218.2,961.0 1215.7,961.5 1213.2,962.1 1210.7,962.8 1208.2,963.5 1205.7,964.0 1203.2,964.6 1200.7,965.4 1198.2,966.1 1195.7,966.8 1193.2,967.7 1190.7,968.4 1188.2,968.8 1185.7,969.3 1183.2,970.0 1180.7,970.5 1178.2,971.3 1175.7,971.8 1173.2,971.8 1170.7,972.5 1168.2,973.5 1165.7,974.0 1163.2,974.5 1160.7,975.4 1158.2,976.3 1155.7,977.0 1153.2,977.5 1150.7,978.3 1148.2,979.6 1145.7,980.7 1143.2,981.7 1140.7,982.5 1138.2,983.3 1135.7,984.1 1133.2,984.8 1130.7,985.5 1128.2,986.3 1125.7,987.0 1123.2,988.0 1120.7,988.9 1118.2,989.4 1115.7,990.1 1113.2,990.9 1110.7,991.9 1108.2,992.7 1105.7,993.5 1103.2,994.6 1100.7,995.5 1098.2,996.1 1095.7,996.7 1093.2,997.4 1090.7,998.3 1088.2,999.3 1085.7,1000.1 1083.2,1000.6 1080.7,1001.1 1078.2,1002.1 1075.7,1003.2 1073.2,1003.8 1070.7,1004.3 1068.2,1004.9 1065.7,1005.7 1063.2,1006.6 1060.7,1007.5 1058.2,1008.1 1055.7,1008.9 1053.2,1009.8 1050.7,1010.4 1048.2,1011.1 1045.7,1012.0 1043.2,1012.7 1040.7,1013.5 1038.2,1014.0 1035.7,1014.6 1033.2,1015.6 1030.7,1016.5 1028.2,1017.0 1025.7,1017.6 1023.2,1018.2 1020.7,1018.7 1018.2,1019.5 1015.7,1020.6 1013.2,1021.4 1010.7,1022.0 1008.2,1022.9 1005.7,1023.8 1003.2,1024.4 1000.7,1024.8 998.2,1025.1 995.7,1025.8 993.2,1027.0 990.7,1027.9 988.2,1028.7 985.7,1029.6 983.2,1030.2 980.7,1030.8 978.2,1031.6 975.7,1032.2 973.2,1032.9 970.7,1033.5 968.2,1034.1 965.7,1034.9 963.2,1035.6 960.7,1036.3 958.2,1037.2 955.7,1038.2 953.2,1038.9 950.7,1039.3 948.2,1039.8 945.7,1040.5 943.2,1041.1 940.7,1041.6 938.2,1042.1 935.7,1042.8 933.2,1043.2 930.7,1043.7 928.2,1044.1 925.7,1044.5 923.2,1045.0 920.7,1045.6 918.2,1046.1 915.7,1046.7 913.2,1047.2 910.7,1047.8 908.2,1048.5 905.7,1048.9 903.2,1049.1 900.7,1049.6 898.2,1050.5 895.7,1051.8 893.2,1052.9 890.7,1053.7 888.2,1054.4 885.7,1055.4 883.2,1056.6 880.7,1057.8 878.2,1058.9 875.7,1059.8 873.2,1061.0 870.7,1062.4 868.2,1063.7 865.7,1065.4 863.2,1066.9 860.7,1068.1 858.2,1069.3 855.7,1071.0 853.2,1072.5 850.7,1073.8 848.2,1075.1 845.7,1076.3 843.2,1077.8 840.7,1079.3 838.2,1080.8 835.7,1082.3 833.2,1083.8 830.7,1085.1 828.2,1086.3 825.7,1087.6 823.2,1089.2 820.7,1090.6 818.2,1091.9 815.7,1093.6 813.2,1095.4 810.7,1096.9 808.2,1098.4 805.7,1099.9 803.2,1101.9 800.7,1103.7 798.2,1105.3 795.7,1107.1 793.2,1109.2 790.7,1110.9 788.2,1112.3 785.7,1114.1 783.2,1116.1 780.7,1117.6 778.2,1119.2 775.7,1121.2 773.2,1123.1 770.7,1125.1 768.2,1127.6 765.7,1129.5 763.2,1130.9 760.7,1132.4 758.2,1134.2 755.7,1136.1 753.2,1138.1 750.7,1139.9 748.2,1141.8 745.7,1143.7 743.2,1145.4 740.7,1147.1 738.2,1149.1 735.7,1151.3 733.2,1153.4 730.7,1155.2 728.2,1156.7 725.7,1158.4 723.2,1160.4 720.7,1162.3 718.2,1164.1 715.7,1165.5 713.2,1166.8 710.7,1168.7 708.2,1170.6 705.7,1172.1 703.2,1173.6 700.7,1175.3 698.2,1177.1 695.7,1178.8 693.2,1180.2 690.7,1181.4 688.2,1182.6 685.7,1184.1 683.2,1185.4 680.7,1186.7 678.2,1188.3 675.7,1189.9 673.2,1191.3 670.7,1192.9 668.2,1194.6 665.7,1195.8 663.2,1196.8 660.7,1197.9 658.2,1199.1 655.7,1200.5 653.2,1202.0 650.7,1203.3 648.2,1204.5 645.7,1205.6 643.2,1206.8 640.7,1207.9 638.2,1209.0 635.7,1210.1 633.2,1211.4 630.7,1212.6 628.2,1213.9 625.7,1214.9 623.2,1216.0 620.7,1217.5 618.2,1218.6 615.7,1219.6 613.2,1221.1 610.7,1222.3 608.2,1223.4 605.7,1224.7 603.2,1225.9 600.7,1227.2 598.2,1228.9 595.7,1230.2 593.2,1231.6 590.7,1233.3 588.2,1234.9 585.7,1236.3 583.2,1237.9 580.7,1239.6 578.2,1241.0 575.7,1242.4 573.2,1244.0 570.7,1245.4 568.2,1246.5 565.7,1247.4 563.2,1248.2 560.7,1249.0 558.2,1249.9 555.7,1250.7 553.2,1251.0 550.7,1251.3 548.2,1252.2 545.7,1252.8 543.2,1253.2 540.7,1253.8 538.2,1254.3 535.7,1254.9 533.2,1255.6 530.7,1256.2 528.2,1256.9 525.7,1257.7 523.2,1258.2 520.7,1259.1 518.2,1260.3 515.7,1261.4 513.2,1262.4 510.7,1263.1 508.2,1263.6 505.7,1264.4 503.2,1265.5 500.7,1266.9 498.2,1268.1 495.7,1269.0 493.2,1269.7 490.7,1270.8 488.2,1272.2 485.7,1273.4 483.2,1274.6 480.7,1276.0 478.2,1277.4 475.7,1278.7 473.2,1280.2 470.7,1281.6 468.2,1282.8 465.7,1284.2 463.2,1285.9 460.7,1287.8 458.2,1289.6 455.7,1291.3 453.2,1292.8 450.7,1294.5 448.2,1296.6 445.7,1298.3 443.2,1299.6 440.7,1301.3 438.2,1302.9 435.7,1304.5 433.2,1306.8 430.7,1308.7 428.2,1310.1 425.7,1311.6 423.2,1313.3 420.7,1315.1 418.2,1316.5 415.7,1317.9 413.2,1319.8 410.7,1321.8 408.2,1323.2 405.7,1324.5 403.2,1326.2 400.7,1327.7 398.2,1329.0 395.7,1330.4 393.2,1331.7 390.7,1332.7 388.2,1333.7 385.7,1335.1 383.2,1336.5 380.7,1337.5 378.2,1338.6 375.7,1339.7 373.2,1340.5 370.7,1341.4 368.2,1342.6 365.7,1343.8 363.2,1344.7 360.7,1345.4Z" fill="#a52a2a" fill-opacity="0.2" stroke="#a52a2a" stroke-opacity="0.2" stroke-width="2.0" stroke-linejoin="round"/>
<path d="M360.7,1535.3 362.7,1535.3 364.7,1535.4 366.7,1535.5 368.8,1535.4 370.8,1535.3 372.8,1535.3 374.8,1535.5 376.8,1535.7 378.8,1535.8 380.8,1535.9 382.8,1536.0 384.9,1535.9 386.9,1535.7 388.9,1535.6 390.9,1535.6 392.9,1535.6 394.9,1535.7 396.9,1535.7 398.9,1535.7 400.9,1535.7 402.9,1535.7 404.9,1535.5 407.0,1535.6 409.0,1535.6 411.0,1535.5 413.0,1535.5 415.0,1535.7 417.0,1535.7 419.0,1535.6 421.0,1535.7 423.0,1535.7 425.0,1535.8 427.0,1535.8 429.0,1535.7 431.0,1535.5 433.0,1535.5 435.0,1535.6 437.1,1535.6 439.1,1535.6 441.1,1535.7 443.1,1535.8 445.1,1535.6 447.1,1535.3 449.1,1535.2 451.1,1535.4 453.1,1535.5 455.1,1535.4 457.1,1535.5 459.1,1535.7 461.1,1535.7 463.1,1535.6 465.1,1535.5 467.1,1535.5 469.1,1535.6 471.1,1535.5 473.1,1535.6 475.1,1535.6 477.1,1535.6 479.1,1535.4 481.1,1535.3 483.1,1535.3 485.1,1535.3 487.1,1535.3 489.1,1535.4 491.1,1535.5 493.1,1535.4 495.1,1535.5 497.1,1535.5 499.1,1535.4 501.1,1535.4 503.1,1535.3 505.1,1535.0 507.1,1535.0 509.1,1535.2 511.1,1535.3 513.1,1535.3 515.1,1535.4 517.1,1535.4 519.1,1535.3 521.1,1535.2 523.1,1535.3 525.0,1535.3 527.0,1535.1 529.0,1535.0 531.0,1534.9 533.0,1534.9 535.0,1535.0 537.0,1535.0 539.0,1534.9 541.0,1534.8 543.0,1534.8 545.0,1534.9 547.0,1535.1 549.0,1535.3 551.0,1535.1 553.0,1535.1 555.0,1535.2 557.0,1535.0 559.0,1534.8 560.9,1534.8 562.9,1534.9 564.9,1534.9 566.9,1534.7 568.9,1534.4 570.9,1534.6 572.9,1534.9 574.9,1534.8 576.9,1534.5 578.9,1534.4 580.9,1534.4 582.9,1534.0 584.9,1533.9 586.8,1534.2 588.8,1534.2 590.8,1534.2 592.8,1534.2 594.8,1534.2 596.8,1534.3 598.8,1534.4 600.8,1534.4 602.8,1534.3 604.8,1534.3 606.8,1534.4 608.7,1534.1 610.7,1533.9 612.7,1534.3 614.7,1534.5 616.7,1534.1 618.7,1533.9 620.7,1534.0 622.7,1533.9 624.7,1533.5 626.6,1533.4 628.6,1533.4 630.6,1533.0 632.6,1532.6 634.6,1532.4 636.6,1532.1 638.5,1531.8 640.5,1531.5 642.5,1531.3 644.5,1531.1 646.5,1530.6 648.4,1530.2 650.4,1530.1 652.4,1529.7 654.4,1529.2 656.4,1529.1 658.4,1529.0 660.4,1528.7 662.3,1528.5 664.3,1528.4 666.3,1528.1 668.3,1527.5 670.3,1527.0 672.3,1526.9 674.3,1526.9 676.2,1526.6 678.2,1526.1 680.2,1525.7 682.2,1525.5 684.2,1525.5 686.2,1525.9 688.2,1526.0 690.2,1525.7 692.2,1525.4 694.2,1525.4 696.2,1525.6 698.2,1525.6 700.2,1525.2 702.2,1525.0 704.2,1524.9 706.2,1525.1 708.2,1525.2 710.2,1525.0 712.2,1524.8 714.2,1524.8 716.2,1524.8 718.2,1524.8 720.2,1524.6 722.2,1524.5 724.2,1524.6 726.2,1524.7 728.2,1524.6 730.2,1524.4 732.2,1524.4 734.2,1524.6 736.2,1524.8 738.2,1524.7 740.2,1524.6 742.2,1524.4 744.2,1524.3 746.1,1524.4 748.1,1524.7 750.1,1525.1 752.1,1525.3 754.1,1525.5 756.1,1525.5 758.1,1525.6 760.1,1525.8 762.1,1525.9 764.1,1525.9 766.1,1526.4 768.1,1526.7 770.1,1526.9 772.1,1527.3 774.1,1527.6 776.0,1527.6 778.0,1527.7 780.0,1527.9 782.0,1528.2 784.0,1528.6 786.0,1528.8 788.0,1528.9 790.0,1529.0 792.0,1529.1 794.0,1529.3 796.0,1529.3 798.0,1529.5 800.0,1529.8 801.9,1529.9 803.9,1530.2 805.9,1530.6 807.9,1530.7 809.9,1530.9 811.9,1531.2 813.9,1531.4 815.9,1531.2 817.9,1531.2 819.9,1531.4 821.9,1531.8 823.9,1532.2 825.9,1532.2 827.9,1532.1 829.9,1532.0 831.8,1532.0 833.8,1532.1 835.8,1532.1 837.8,1532.0 839.8,1532.0 841.8,1532.1 843.8,1532.3 845.8,1532.3 847.8,1532.1 849.8,1532.1 851.8,1532.0 853.8,1531.9 855.8,1532.1 857.8,1532.2 859.8,1532.2 861.8,1532.4 863.8,1532.7 865.8,1532.8 867.8,1532.9 869.8,1533.0 871.8,1533.0 873.8,1533.1 875.8,1533.0 877.8,1532.8 879.8,1532.7 881.8,1532.7 883.8,1532.9 885.8,1532.9 887.8,1533.0 889.8,1532.9 891.8,1532.7 893.8,1532.7 895.8,1532.8 897.8,1532.8 899.8,1532.8 901.8,1532.9 903.8,1533.0 905.8,1533.1 907.8,1533.1 909.8,1533.0 911.8,1532.9 913.8,1533.1 915.8,1533.4 917.9,1533.4 919.9,1533.4 921.9,1533.3 923.9,1533.3 925.9,1533.4 927.9,1533.5 929.9,1533.4 931.9,1533.3 933.9,1533.1 935.9,1533.0 937.9,1533.2 939.9,1533.2 941.9,1533.3 943.9,1533.6 945.9,1533.6 947.9,1533.5 949.9,1533.5 951.9,1533.6 953.9,1533.6 955.9,1533.6 957.9,1533.7 959.9,1533.8 961.9,1533.6 963.9,1533.6 965.9,1533.8 967.9,1533.9 969.9,1533.8 971.9,1533.7 973.9,1533.8 975.9,1534.0 977.9,1534.0 979.9,1533.8 981.9,1533.7 983.9,1533.9 985.9,1533.9 987.9,1533.9 989.9,1534.1 991.9,1534.1 993.9,1534.1 995.9,1534.1 997.9,1534.0 999.9,1533.9 1001.9,1533.9 1004.0,1533.9 1006.0,1533.8 1008.0,1533.7 1010.0,1533.7 1012.0,1533.8 1014.0,1533.8 1016.0,1534.0 1017.9,1534.1 1019.9,1534.0 1021.9,1534.1 1023.9,1534.0 1025.9,1533.9 1027.9,1534.0 1029.9,1534.0 1031.9,1533.9 1033.9,1533.9 1035.9,1533.6 1037.9,1533.5 1039.9,1533.8 1041.9,1534.2 1043.9,1534.2 1045.9,1534.1 1047.9,1534.0 1049.9,1533.8 1051.9,1533.7 1053.9,1533.9 1055.9,1534.0 1057.9,1534.1 1059.9,1534.3 1061.9,1534.2 1063.9,1533.9 1065.9,1534.0 1067.9,1534.4 1069.9,1534.3 1071.8,1533.9 1073.8,1534.0 1075.8,1534.1 1077.8,1533.9 1079.8,1533.6 1081.9,1533.2 1083.9,1533.0 1085.8,1532.8 1087.8,1532.8 1089.8,1532.7 1091.8,1532.3 1093.8,1532.1 1095.7,1531.8 1097.7,1531.4 1099.6,1530.6 1101.6,1529.6 1103.5,1529.0 1105.3,1528.6 1107.1,1528.1 1108.9,1527.2 1110.6,1526.0 1112.3,1524.8 1114.0,1523.5 1115.6,1522.4 1117.3,1521.4 1118.9,1520.1 1120.5,1518.8 1122.1,1517.9 1123.7,1516.7 1125.3,1515.3 1126.9,1514.1 1128.5,1512.8 1130.1,1511.6 1131.7,1510.5 1133.3,1509.2 1134.9,1507.9 1136.4,1506.9 1138.0,1505.6 1139.4,1504.1 1140.9,1502.7 1142.3,1501.4 1143.6,1499.9 1145.0,1498.2 1146.3,1496.8 1147.6,1495.2 1148.9,1493.7 1150.2,1492.5 1151.5,1491.0 1152.7,1489.3 1154.0,1487.6 1155.2,1486.1 1156.4,1484.4 1157.6,1482.8 1158.8,1481.4 1160.0,1479.6 1161.2,1478.0 1162.3,1476.7 1163.5,1474.9 1164.6,1473.0 1165.8,1471.7 1166.9,1470.3 1168.0,1468.3 1169.1,1466.4 1170.2,1464.9 1171.3,1463.2 1172.4,1461.5 1173.5,1459.7 1174.6,1457.9 1175.7,1456.4 1176.7,1454.9 1177.8,1453.1 1178.9,1451.4 1180.0,1449.9 1181.0,1448.4 1182.1,1446.6 1183.2,1444.7 1184.3,1443.2 1185.4,1441.7 1186.4,1439.9 1187.5,1437.9 1188.6,1436.1 1189.6,1434.4 1190.7,1432.7 1191.7,1431.2 1192.7,1429.7 1193.8,1427.9 1194.8,1426.0 1195.8,1424.1 1196.8,1422.2 1197.8,1420.2 1198.8,1418.3 1199.8,1416.9 1200.8,1415.5 1201.8,1413.7 1202.8,1411.9 1203.8,1410.0 1204.8,1408.0 1205.8,1406.3 1206.9,1404.9 1208.0,1403.4 1209.0,1401.5 1210.1,1399.4 1211.2,1397.8 1212.4,1396.5 1213.5,1394.9 1214.7,1393.1 1215.9,1391.5 1217.1,1390.1 1218.4,1388.7 1219.6,1387.3 1220.9,1385.8 1222.3,1384.4 1223.6,1383.1 1225.0,1381.3 1226.4,1379.6 1227.9,1378.1 1229.3,1376.6 1230.8,1375.5 1232.3,1374.3 1233.8,1372.8 1235.4,1371.4 1236.9,1370.0 1238.5,1368.6 1240.1,1367.5 1241.7,1366.5 1243.3,1365.4 1244.9,1364.4 1246.6,1363.4 1248.2,1362.2 1249.9,1360.9 1251.6,1360.1 1253.4,1359.4 1255.2,1358.5 1257.0,1357.6 1258.8,1356.8 1260.7,1355.9 1262.6,1355.2 1264.5,1354.6 1266.4,1353.7 1268.3,1352.8 1270.2,1352.2 1272.1,1351.5 1274.1,1351.0 1276.0,1350.6 1277.9,1350.1 1279.8,1349.6 1281.8,1349.3 1283.7,1349.0 1285.6,1348.6 1287.6,1348.4 1289.6,1347.9 1291.5,1347.3 1293.5,1346.9 1295.5,1346.9 1297.5,1346.8 1299.5,1346.4 1301.5,1346.3 1303.5,1346.2 1305.5,1346.1 1307.5,1346.2 1309.5,1345.7 1311.5,1345.1 1313.5,1345.0 1315.5,1344.9 1317.5,1344.7 1319.5,1344.4 1321.5,1344.1 1323.5,1343.9 1325.5,1343.9 1327.5,1343.8 1329.5,1343.6 1331.4,1343.3 1333.4,1343.0 1335.4,1342.8 1337.4,1342.4 1339.4,1342.1 1341.4,1341.9 1343.4,1341.5 1345.4,1341.3 1347.4,1341.3 1349.4,1341.4 1351.4,1341.0 1353.3,1340.5 1355.3,1340.3 1357.3,1340.2 1359.3,1340.0 1361.3,1339.9 1363.3,1339.7 1365.3,1339.6 1367.3,1339.5 1369.3,1339.5 1371.3,1339.6 1373.3,1339.3 1375.3,1339.1 1377.3,1339.4 1379.3,1339.6 1381.3,1339.6 1383.3,1339.5 1385.3,1339.3 1387.3,1339.3 1389.3,1339.5 1391.3,1339.7 1393.3,1339.9 1395.3,1339.9 1397.3,1339.8 1399.3,1339.5 1401.3,1339.8 1403.3,1340.1 1405.3,1340.1 1407.3,1340.1 1409.3,1340.2 1411.3,1340.3 1413.3,1340.2 1415.3,1340.2 1417.3,1340.6 1419.3,1340.7 1421.3,1340.5 1423.3,1340.4 1425.3,1340.5 1427.3,1340.7 1429.3,1340.9 1431.3,1340.8 1433.3,1340.6 1435.3,1340.8 1437.3,1341.0 1439.3,1340.8 1441.3,1340.5 1443.2,1340.4 1445.2,1340.3 1447.2,1340.3 1449.2,1340.1 1451.2,1340.1 1453.2,1340.2 1455.2,1340.0 1457.2,1339.7 1459.2,1339.4 1461.2,1339.4 1463.2,1339.3 1465.2,1339.2 1467.2,1339.0 1469.2,1338.8 1471.2,1338.5 1473.2,1338.4 1475.2,1338.5 1477.2,1338.5 1479.2,1338.4 1481.2,1338.3 1483.2,1337.9 1485.2,1337.7 1487.2,1337.8 1489.2,1337.8 1491.2,1337.6 1493.2,1337.6 1495.2,1337.7 1497.2,1337.7 1499.2,1337.9 1501.2,1338.1 1503.2,1338.0 1505.2,1337.7 1507.2,1337.7 1509.2,1337.7 1511.2,1337.9 1513.2,1338.1 1515.2,1338.0 1517.2,1337.7 1519.2,1337.7 1521.2,1338.0 1523.2,1337.9 1525.2,1337.7 1527.2,1338.0 1529.2,1338.3 1531.2,1338.3 1533.2,1338.3 1535.2,1338.3 1537.2,1338.2 1539.2,1338.3 1541.2,1338.8 1543.2,1339.0 1545.2,1338.8 1547.2,1338.8 1549.2,1339.1 1551.2,1339.0 1553.2,1339.1 1555.2,1339.0 1557.2,1338.8 1559.2,1338.9 1561.2,1339.1 1563.2,1339.4 1565.2,1339.4 1567.2,1339.3 1569.2,1339.3 1571.2,1339.3 1573.1,1339.5 1575.1,1339.6 1577.1,1339.8 1579.1,1340.3 1581.1,1340.7 1583.1,1340.9 1585.0,1341.1 1587.0,1341.7 1589.0,1342.1 1591.0,1342.3 1592.9,1342.6 1594.9,1342.9 1596.9,1343.2 1598.9,1343.5 1600.9,1343.9 1602.8,1344.4 1604.8,1344.8 1606.8,1344.8 1608.8,1344.9 1610.8,1345.1 1612.8,1345.4 1614.8,1345.5 1616.8,1345.4 1618.8,1345.5 1620.8,1345.4 1622.8,1345.5 1624.8,1345.8 1626.8,1346.1 1628.8,1346.2 1630.8,1346.0 1632.9,1346.0 1634.9,1346.1 1636.9,1345.9 1638.9,1346.0 1640.9,1346.3 1642.9,1346.4 1644.9,1346.5 1646.9,1346.5 1648.9,1346.3 1650.9,1346.7 1652.9,1347.0 1654.9,1346.7 1656.8,1346.7 1658.8,1347.1 1660.7,1347.4 1662.6,1347.7 1664.5,1347.9 1666.4,1348.3 1668.3,1348.8 1670.2,1349.6 1672.1,1350.6 1673.9,1351.2 1675.8,1351.9 1677.7,1352.8 1679.5,1353.9 1681.4,1354.8 1683.3,1355.4 1685.2,1356.2 1687.1,1357.1 1689.0,1357.7 1690.9,1357.9 1692.9,1358.3 1694.9,1358.7 1696.8,1358.7 1698.8,1359.1 1700.8,1359.5 1702.7,1359.8 1704.6,1360.4 1706.6,1361.1 1708.5,1361.7 1710.4,1362.2 1712.4,1362.5 1714.3,1363.0 1716.2,1363.6 1718.1,1364.0 1720.0,1364.5 1721.9,1365.1 1723.9,1365.7 1725.8,1366.5 1727.7,1367.0 1729.6,1367.8 1731.5,1368.8 1733.4,1369.4 1735.3,1369.6 1737.2,1370.1 1739.1,1370.7 1741.0,1371.5 1742.9,1372.4 1744.8,1373.2 1746.7,1373.7 1748.6,1374.4 1750.4,1375.4 1752.3,1376.3 1754.2,1377.1 1756.0,1378.1 1757.9,1379.0 1759.8,1379.6 1761.7,1380.1 1763.6,1380.8 1765.5,1381.6 1767.4,1381.9 1769.3,1381.8 1771.2,1382.2 1773.1,1382.3 1775.1,1382.0 1777.1,1382.0 1779.0,1382.3 1781.0,1382.1 1783.0,1381.9 1785.0,1382.0 1787.0,1382.1 1789.0,1381.8 1791.1,1381.8 1793.1,1381.8 1795.1,1381.9 1797.1,1382.1 1799.1,1382.0 1801.1,1381.7 1803.2,1381.4 1805.2,1381.1 1807.2,1380.9 1809.2,1381.0 1811.2,1381.0 1813.2,1380.9 1815.2,1381.0 1817.1,1380.8 1819.1,1380.4 1821.1,1380.3 1823.1,1380.2 1825.0,1379.7 1827.0,1379.6 1829.0,1379.5 1830.9,1379.3 1832.9,1378.9 1834.9,1378.1 1836.8,1377.5 1838.8,1377.3 1840.8,1377.2 1842.7,1376.9 1844.7,1376.4 1846.6,1375.5 1848.6,1374.9 1850.6,1374.7 1852.5,1374.4 1854.5,1373.9 1856.4,1373.4 1858.4,1372.5 1860.3,1372.0 1862.3,1371.9 1864.2,1371.4 1866.2,1370.8 1868.1,1370.6 1870.1,1370.3 1872.0,1369.7 1874.0,1369.2 1875.9,1368.8 1877.9,1368.4 1879.8,1367.8 1881.8,1367.3 1883.7,1366.7 1885.6,1366.2 1887.6,1365.7 1889.5,1365.1 1891.4,1364.6 1893.4,1364.2 1895.3,1363.6 1897.2,1363.0 1899.2,1362.7 1901.1,1362.3 1903.1,1361.5 1905.0,1360.7 1906.9,1360.3 1908.9,1360.0 1910.8,1359.6 1912.7,1359.0 1914.7,1358.5 1916.6,1358.0 1918.6,1357.4 1920.5,1357.0 1922.4,1356.7 1924.4,1356.3 1926.3,1356.1 1928.3,1355.7 1930.2,1354.8 1932.2,1354.1 1934.2,1353.8 1936.1,1353.6 1938.1,1353.1 1940.0,1352.6 1942.0,1352.4 1944.0,1352.2 1945.9,1351.9 1947.9,1351.2 1949.9,1350.5 1951.8,1350.1 1953.8,1349.9 1955.8,1349.6 1957.7,1349.4 1959.7,1349.2 1961.7,1348.8 1963.7,1348.3 1965.6,1347.8 1967.6,1347.4 1969.6,1347.0 1971.6,1346.7 1973.5,1346.2 1975.5,1346.1 1977.5,1345.9 1979.5,1345.7 1981.4,1345.4 1983.4,1345.0 1985.4,1345.0 1987.4,1345.1 1989.4,1345.1 1991.4,1344.8 1993.4,1344.5 1995.4,1344.3 1997.4,1344.2 1999.3,1344.1 2001.3,1344.0 2003.3,1343.9 2005.3,1343.7 2007.3,1343.4 2009.3,1343.0 2011.4,1343.0 2013.4,1343.2 2015.4,1343.0 2017.4,1343.0 2019.4,1343.1 2021.4,1342.8 2023.4,1342.5 2025.4,1342.3 2027.4,1342.3 2029.4,1342.4 2031.4,1342.5 2033.4,1342.5 2035.4,1342.2 2037.4,1341.9 2039.4,1341.9 2041.3,1342.0 2043.3,1342.1 2045.3,1342.1 2047.3,1342.2 2049.3,1342.5 2051.3,1342.7 2053.2,1343.1 2055.2,1343.4 2057.2,1343.7 2059.2,1344.2 2061.1,1344.7 2063.1,1345.0 2065.1,1345.3 2067.1,1345.9 2069.0,1346.3 2071.0,1346.5 2073.0,1346.5 2075.0,1346.5 2077.0,1346.8 2079.0,1346.9 2081.0,1347.0 2083.0,1347.1 2085.0,1347.0 2087.0,1346.8 2089.0,1347.6 2091.0,1348.1 2093.0,1347.8 2095.0,1348.1 2097.0,1348.6 2099.0,1348.0 2101.0,1347.7 2103.0,1347.8 2104.9,1348.2 2106.9,1348.4 2108.9,1348.3 2110.9,1349.6 2112.8,1350.3 2114.8,1349.4 2116.8,1348.2 2118.7,1348.4 2120.7,1352.4 2122.6,1355.3 2124.5,1352.7 2126.4,1350.6 2128.2,1352.4 2130.1,1355.6 2131.9,1357.8 2133.6,1358.2 2135.4,1356.7 2137.1,1357.1 2138.8,1360.8 2140.4,1362.4 2142.1,1363.5 2143.8,1364.9 2145.4,1366.6 2147.1,1369.2 2148.7,1372.5 2150.4,1377.7 2152.1,1378.9 2153.9,1375.4 2155.6,1373.4 2157.4,1374.8 2159.3,1375.9 2161.2,1375.7 2163.1,1372.9 2165.0,1369.0 2167.0,1369.0 2169.0,1373.4 2171.0,1376.3 2173.0,1374.2 2175.1,1372.0 2177.1,1373.9 2179.1,1375.5 2181.2,1373.4 2183.2,1372.7 2185.2,1375.6 2187.2,1375.6 2189.2,1372.3 2191.2,1372.8 2193.1,1374.9 2195.1,1375.9 2197.1,1378.9 2199.1,1379.3 2201.1,1380.2 2203.1,1384.6 2205.0,1385.5 2207.0,1385.2 2208.9,1381.1 2210.9,1373.5 2212.8,1374.1 2214.7,1380.4 2216.6,1384.2 2218.4,1381.6 2220.2,1376.7 2222.0,1379.4 2223.8,1386.8 2225.6,1390.7 2227.3,1387.9 2229.1,1383.3 2230.8,1384.3 2232.6,1387.1 2234.3,1390.4 2236.1,1395.9 2237.9,1399.6 2239.7,1397.4 2241.5,1391.0 2243.3,1387.2 2245.2,1388.7 2247.1,1393.1 2249.0,1394.3 2250.9,1393.4 2252.9,1396.5 2254.8,1398.7 2256.8,1398.8 2258.8,1398.3 2260.8,1395.2 2262.7,1397.0 2264.7,1402.0 2266.7,1402.7 2268.7,1401.8 2270.7,1396.8 2272.7,1393.9 2274.7,1397.4 2276.6,1397.1 2278.6,1398.3 2280.6,1400.7 2282.6,1398.1 2284.6,1400.6 2286.6,1408.2 2288.6,1408.6 2290.6,1402.8 2292.6,1400.6 2294.6,1402.8 2296.6,1404.8 2298.6,1405.3 2300.6,1404.3 2302.6,1402.4 2304.6,1405.7 2306.0,1408.7" fill="none" stroke="#ff7f50" stroke-width="10.2" stroke-linecap="square" stroke-linejoin="round"/>
<path d="M360.7,1499.0 362.7,1499.1 364.7,1498.9 366.7,1498.9 368.7,1499.1 370.7,1499.2 372.7,1499.0 374.7,1499.0 376.7,1498.9 378.7,1498.7 380.7,1498.9 382.7,1499.1 384.7,1499.0 386.7,1499.0 388.7,1498.9 390.7,1498.8 392.7,1499.0 394.7,1499.2 396.7,1499.2 398.7,1499.0 400.7,1498.6 402.7,1498.4 404.7,1498.4 406.7,1498.3 408.7,1498.4 410.7,1498.7 412.7,1498.7 414.7,1498.5 416.7,1498.3 418.7,1498.1 420.7,1498.0 422.7,1497.9 424.7,1497.8 426.7,1498.0 428.7,1498.0 430.7,1497.9 432.7,1497.8 434.7,1497.7 436.7,1497.7 438.7,1497.7 440.7,1497.6 442.7,1497.5 444.7,1497.6 446.7,1497.7 448.7,1497.7 450.7,1497.6 452.7,1497.3 454.7,1496.8 456.7,1496.6 458.6,1496.7 460.6,1496.9 462.6,1496.5 464.6,1495.9 466.6,1495.6 468.6,1495.6 470.6,1495.4 472.6,1495.3 474.6,1495.1 476.6,1494.8 478.6,1494.5 480.5,1494.2 482.5,1493.9 484.5,1493.9 486.5,1493.8 488.5,1493.5 490.5,1493.4 492.5,1493.4 494.5,1493.3 496.5,1493.1 498.5,1492.9 500.5,1492.9 502.5,1493.0 504.5,1493.0 506.5,1492.8 508.5,1492.6 510.5,1492.3 512.5,1492.3 514.5,1492.3 516.5,1492.3 518.5,1492.2 520.5,1492.2 522.5,1492.3 524.5,1492.1 526.5,1491.7 528.5,1491.7 530.5,1491.6 532.5,1491.4 534.5,1491.3 536.5,1491.2 538.5,1490.9 540.5,1490.8 542.5,1490.8 544.5,1490.9 546.5,1491.0 548.5,1490.9 550.5,1490.7 552.5,1490.4 554.5,1490.2 556.5,1490.3 558.5,1490.3 560.5,1490.3 562.5,1490.3 564.5,1490.0 566.5,1489.6 568.5,1489.4 570.5,1489.5 572.5,1489.4 574.5,1489.2 576.4,1489.1 578.4,1488.8 580.4,1488.8 582.4,1489.0 584.4,1488.8 586.3,1488.5 588.3,1488.2 590.3,1487.7 592.3,1487.4 594.2,1487.1 596.2,1486.6 598.1,1486.0 600.1,1485.5 602.1,1484.8 604.0,1484.1 606.0,1483.9 608.0,1484.0 610.0,1483.6 612.0,1482.9 613.9,1482.4 615.9,1481.8 617.8,1481.3 619.7,1480.8 621.5,1480.0 623.3,1479.0 625.1,1478.3 626.8,1477.8 628.6,1477.1 630.3,1476.0 632.0,1474.8 633.7,1473.6 635.4,1472.5 637.0,1471.4 638.6,1470.4 640.2,1469.2 641.8,1467.6 643.3,1466.0 644.8,1464.8 646.2,1463.5 647.6,1462.1 649.0,1460.7 650.3,1459.1 651.6,1457.5 652.9,1456.1 654.1,1454.7 655.3,1452.9 656.5,1451.3 657.6,1449.6 658.8,1447.8 660.0,1446.0 661.1,1444.3 662.3,1442.6 663.4,1441.0 664.6,1439.4 665.8,1437.8 667.0,1436.3 668.3,1434.6 669.5,1433.0 670.8,1431.8 672.1,1430.2 673.5,1428.5 674.8,1427.0 676.1,1425.5 677.4,1423.9 678.8,1422.3 680.2,1420.9 681.5,1419.5 682.9,1417.9 684.3,1416.6 685.8,1415.2 687.2,1413.9 688.7,1412.6 690.2,1411.2 691.8,1409.9 693.3,1408.9 694.9,1407.9 696.6,1406.9 698.3,1406.1 700.0,1405.3 701.8,1404.2 703.7,1403.1 705.5,1402.3 707.4,1401.5 709.3,1400.6 711.2,1399.6 713.1,1399.0 715.0,1398.6 716.9,1398.0 718.8,1397.2 720.7,1396.8 722.7,1396.6 724.6,1396.0 726.6,1395.3 728.6,1394.9 730.6,1394.6 732.6,1394.1 734.6,1393.7 736.5,1393.3 738.5,1393.0 740.5,1393.0 742.4,1393.0 744.4,1392.8 746.3,1393.2 748.3,1393.7 750.2,1394.2 752.1,1394.7 754.1,1395.4 756.0,1396.2 757.9,1397.0 759.7,1398.0 761.6,1398.6 763.4,1399.3 765.2,1400.1 767.0,1401.0 768.7,1401.9 770.4,1402.9 772.1,1404.1 773.7,1405.4 775.4,1406.6 777.0,1407.7 778.7,1408.9 780.3,1409.9 781.9,1410.9 783.6,1412.2 785.2,1413.4 786.9,1414.3 788.6,1415.5 790.3,1417.0 792.0,1418.3 793.7,1419.2 795.3,1420.0 797.0,1421.1 798.7,1422.4 800.4,1423.3 802.1,1424.1 803.9,1425.1 805.6,1426.1 807.3,1427.2 809.1,1428.6 810.9,1429.3 812.7,1429.6 814.5,1430.4 816.3,1431.4 818.2,1432.2 820.0,1432.9 821.9,1433.5 823.8,1434.2 825.7,1434.8 827.6,1435.2 829.5,1435.7 831.4,1436.4 833.4,1437.1 835.3,1437.8 837.2,1438.5 839.2,1439.1 841.1,1439.6 843.0,1440.2 844.9,1441.0 846.9,1441.7 848.8,1442.0 850.7,1442.5 852.7,1443.1 854.6,1443.5 856.5,1443.8 858.5,1444.2 860.4,1444.5 862.4,1445.0 864.3,1445.7 866.3,1446.3 868.2,1446.5 870.2,1447.0 872.1,1447.6 874.0,1448.1 875.9,1448.7 877.8,1449.2 879.7,1449.8 881.6,1450.7 883.5,1451.6 885.4,1452.6 887.3,1453.2 889.3,1453.6 891.2,1454.3 893.1,1455.2 895.0,1455.8 896.9,1456.1 898.8,1456.3 900.8,1456.6 902.7,1457.1 904.6,1457.5 906.6,1457.8 908.6,1458.0 910.5,1458.0 912.5,1458.2 914.5,1458.5 916.6,1458.8 918.6,1458.8 920.6,1458.6 922.6,1458.6 924.6,1458.9 926.7,1459.0 928.7,1459.0 930.7,1459.2 932.7,1459.4 934.7,1459.4 936.6,1459.6 938.6,1460.1 940.5,1460.5 942.5,1460.5 944.4,1460.6 946.3,1460.9 948.1,1461.5 950.0,1462.2 951.8,1463.2 953.7,1464.2 955.5,1465.0 957.3,1465.6 959.2,1466.4 961.0,1467.5 962.8,1468.5 964.7,1469.3 966.5,1470.2 968.3,1471.0 970.2,1471.7 972.1,1472.6 973.9,1473.5 975.8,1474.3 977.7,1474.9 979.7,1475.1 981.6,1475.5 983.5,1476.2 985.5,1476.8 987.4,1477.1 989.4,1477.6 991.3,1478.4 993.3,1479.0 995.3,1479.3 997.3,1479.6 999.2,1480.1 1001.2,1480.4 1003.2,1480.6 1005.2,1481.0 1007.2,1481.2 1009.1,1481.2 1011.1,1481.3 1013.1,1481.4 1015.1,1481.4 1017.1,1481.3 1019.1,1481.3 1021.1,1481.3 1023.1,1481.2 1025.1,1481.3 1027.1,1481.5 1029.1,1481.2 1031.1,1480.9 1033.1,1480.8 1035.1,1480.8 1037.1,1480.6 1039.1,1480.4 1041.1,1480.4 1043.1,1480.5 1045.1,1480.6 1047.1,1480.5 1049.1,1480.5 1051.1,1480.4 1053.1,1480.2 1055.1,1480.2 1057.1,1480.0 1059.1,1479.7 1061.0,1479.2 1063.0,1478.5 1064.9,1478.0 1066.8,1477.3 1068.6,1476.8 1070.4,1476.1 1072.2,1475.1 1074.0,1473.8 1075.7,1472.6 1077.3,1471.5 1078.9,1470.2 1080.4,1468.9 1081.7,1467.6 1083.0,1466.2 1084.3,1464.7 1085.5,1463.1 1086.7,1461.6 1087.8,1459.9 1088.8,1458.0 1089.7,1456.2 1090.6,1454.6 1091.5,1453.0 1092.3,1451.1 1093.0,1449.1 1093.7,1447.3 1094.4,1445.3 1095.1,1443.2 1095.8,1441.3 1096.5,1439.5 1097.1,1437.7 1097.7,1435.7 1098.4,1433.7 1099.0,1431.7 1099.5,1430.0 1100.1,1428.3 1100.7,1426.4 1101.3,1424.2 1101.8,1422.5 1102.3,1421.0 1102.9,1418.9 1103.4,1416.7 1104.0,1414.5 1104.5,1412.5 1105.0,1410.8 1105.5,1408.9 1106.0,1406.8 1106.5,1405.0 1107.0,1402.9 1107.5,1400.9 1107.9,1399.2 1108.4,1397.3 1108.9,1395.2 1109.4,1393.2 1109.8,1391.0 1110.3,1389.2 1110.8,1387.6 1111.3,1385.8 1111.8,1383.8 1112.3,1381.7 1112.7,1379.6 1113.1,1377.6 1113.5,1375.7 1113.9,1373.9 1114.2,1371.9 1114.5,1369.9 1114.8,1367.8 1115.0,1365.8 1115.2,1364.1 1115.4,1362.0 1115.6,1359.8 1115.8,1357.8 1115.9,1355.8 1116.1,1353.8 1116.3,1351.9 1116.4,1350.0 1116.6,1347.9 1116.8,1345.8 1117.0,1344.0 1117.2,1342.0 1117.4,1339.9 1117.6,1338.0 1117.9,1336.3 1118.1,1334.3 1118.4,1332.2 1118.7,1330.2 1119.0,1328.2 1119.2,1326.2 1119.6,1324.2 1119.9,1322.2 1120.2,1320.2 1120.5,1318.0 1120.8,1315.9 1121.2,1314.1 1121.5,1312.3 1121.9,1310.4 1122.2,1308.5 1122.6,1306.6 1123.0,1304.6 1123.3,1302.6 1123.7,1300.6 1124.1,1298.8 1124.5,1296.8 1124.8,1294.7 1125.2,1292.7 1125.6,1290.6 1126.0,1288.6 1126.4,1286.8 1126.8,1284.9 1127.2,1282.9 1127.6,1281.2 1128.0,1279.5 1128.4,1277.5 1128.8,1275.3 1129.2,1273.3 1129.6,1271.3 1130.0,1269.4 1130.4,1267.4 1130.8,1265.4 1131.1,1263.4 1131.5,1261.4 1131.9,1259.3 1132.3,1257.4 1132.7,1255.6 1133.0,1253.7 1133.4,1251.7 1133.7,1249.7 1134.1,1247.7 1134.4,1245.5 1134.8,1243.5 1135.1,1241.7 1135.4,1239.6 1135.8,1237.6 1136.1,1235.8 1136.4,1233.7 1136.7,1231.7 1137.1,1229.9 1137.4,1227.7 1137.7,1225.7 1138.0,1223.7 1138.3,1221.9 1138.6,1219.9 1139.0,1217.8 1139.3,1215.9 1139.6,1213.9 1139.9,1211.9 1140.2,1210.1 1140.5,1208.1 1140.8,1206.0 1141.1,1203.9 1141.4,1202.0 1141.7,1200.1 1142.0,1198.2 1142.3,1196.1 1142.6,1193.7 1142.9,1191.7 1143.2,1189.9 1143.5,1188.0 1143.8,1186.1 1144.1,1184.2 1144.4,1182.4 1144.7,1180.5 1145.0,1178.7 1145.3,1176.7 1145.6,1174.7 1145.9,1172.7 1146.2,1170.7 1146.4,1168.6 1146.7,1166.3 1147.0,1164.2 1147.3,1162.3 1147.6,1160.4 1147.9,1158.3 1148.2,1156.4 1148.4,1154.6 1148.7,1152.7 1149.0,1150.7 1149.3,1148.6 1149.5,1146.5 1149.8,1144.4 1150.1,1142.6 1150.4,1140.7 1150.6,1138.6 1150.9,1136.8 1151.2,1134.9 1151.4,1132.7 1151.7,1130.7 1152.0,1128.9 1152.2,1127.0 1152.5,1124.9 1152.8,1122.8 1153.0,1121.1 1153.3,1119.2 1153.5,1117.2 1153.8,1115.1 1154.0,1113.0 1154.3,1111.0 1154.6,1109.1 1154.8,1107.3 1155.1,1105.5 1155.3,1103.3 1155.6,1101.1 1155.8,1099.1 1156.1,1097.1 1156.3,1095.2 1156.6,1093.3 1156.8,1091.1 1157.0,1089.0 1157.3,1087.1 1157.5,1085.1 1157.8,1083.3 1158.0,1081.5 1158.3,1079.5 1158.5,1077.2 1158.8,1075.2 1159.0,1073.6 1159.2,1071.7 1159.5,1069.5 1159.7,1067.4 1160.0,1065.4 1160.2,1063.5 1160.4,1061.7 1160.7,1059.5 1160.9,1057.2 1161.2,1055.0 1161.4,1053.1 1161.6,1051.4 1161.9,1049.8 1162.1,1048.0 1162.3,1045.9 1162.6,1043.6 1162.8,1041.6 1163.1,1039.8 1163.3,1037.7 1163.5,1035.6 1163.7,1033.7 1164.0,1031.8 1164.2,1029.9 1164.4,1027.7 1164.6,1025.6 1164.8,1023.5 1165.1,1021.5 1165.3,1019.5 1165.5,1017.6 1165.7,1015.8 1165.9,1013.9 1166.1,1012.0 1166.3,1010.0 1166.5,1007.8 1166.7,1005.6 1166.9,1003.8 1167.1,1001.9 1167.3,999.6 1167.5,997.4 1167.8,995.5 1168.0,993.5 1168.2,991.6 1168.4,989.7 1168.6,987.7 1168.9,985.7 1169.1,983.7 1169.3,981.7 1169.6,979.8 1169.8,978.0 1170.1,976.0 1170.3,974.0 1170.6,972.0 1170.8,970.1 1171.1,968.1 1171.4,965.9 1171.6,963.8 1171.9,962.1 1172.2,960.3 1172.5,958.2 1172.9,956.2 1173.2,954.2 1173.6,952.2 1173.9,950.1 1174.3,948.2 1174.7,946.3 1175.1,944.2 1175.5,942.4 1175.9,940.7 1176.4,938.7 1176.8,936.5 1177.2,934.3 1177.7,932.1 1178.1,930.2 1178.5,928.7 1179.0,926.8 1179.4,924.5 1179.9,922.7 1180.3,921.2 1180.7,919.2 1181.2,917.2 1181.6,915.2 1182.0,913.1 1182.4,911.1 1182.8,909.3 1183.2,907.3 1183.6,905.2 1183.9,903.3 1184.3,901.1 1184.6,899.3 1184.9,897.7 1185.3,895.6 1185.6,893.4 1185.9,891.3 1186.2,889.3 1186.5,887.3 1186.8,885.4 1187.1,883.7 1187.4,881.9 1187.7,879.9 1187.9,877.8 1188.2,875.7 1188.5,873.8 1188.8,871.9 1189.1,869.9 1189.3,867.7 1189.6,865.7 1189.9,863.9 1190.2,861.9 1190.5,859.8 1190.8,857.7 1191.1,855.8 1191.4,853.9 1191.7,851.9 1192.0,849.8 1192.4,847.8 1192.7,845.9 1193.0,843.9 1193.4,842.0 1193.7,840.1 1194.1,837.8 1194.5,835.6 1194.8,833.6 1195.2,831.8 1195.6,829.9 1195.9,828.0 1196.3,826.2 1196.7,824.3 1197.1,822.1 1197.4,820.1 1197.8,818.4 1198.2,816.5 1198.5,814.5 1198.9,812.4 1199.2,810.5 1199.6,808.7 1199.9,806.7 1200.3,804.7 1200.6,802.8 1200.9,800.8 1201.2,798.5 1201.5,796.5 1201.8,794.8 1202.1,792.7 1202.4,790.5 1202.6,788.6 1202.9,786.7 1203.2,784.7 1203.4,782.8 1203.7,781.0 1204.0,779.1 1204.2,777.1 1204.5,774.8 1204.7,772.7 1205.0,770.7 1205.3,768.7 1205.6,766.9 1205.9,765.0 1206.1,762.9 1206.4,760.9 1206.7,758.9 1207.1,757.0 1207.4,755.0 1207.7,753.0 1208.0,751.2 1208.3,748.9 1208.6,746.8 1208.9,745.1 1209.2,743.2 1209.5,741.3 1209.8,739.6 1210.1,737.4 1210.5,735.0 1210.8,733.2 1211.1,731.3 1211.4,729.4 1211.7,727.6 1212.1,725.6 1212.4,723.4 1212.7,721.4 1213.1,719.5 1213.4,717.4 1213.8,715.5 1214.1,713.7 1214.5,711.6 1214.8,709.4 1215.2,707.4 1215.6,705.6 1215.9,703.6 1216.3,701.7 1216.7,699.9 1217.1,697.7 1217.5,695.7 1217.9,693.7 1218.3,691.6 1218.7,689.7 1219.1,688.0 1219.5,685.9 1220.0,684.0 1220.4,682.4 1220.9,680.5 1221.3,678.4 1221.8,676.4 1222.3,674.4 1222.8,672.5 1223.3,670.8 1223.9,669.1 1224.4,667.0 1225.0,664.8 1225.6,662.9 1226.2,660.9 1226.8,658.8 1227.4,657.1 1228.0,655.3 1228.6,653.2 1229.3,651.3 1229.9,649.8 1230.6,647.9 1231.3,645.9 1232.0,644.0 1232.7,642.2 1233.4,640.5 1234.1,638.5 1234.9,636.6 1235.8,634.9 1236.7,633.0 1237.6,631.2 1238.6,629.6 1239.5,627.8 1240.5,625.9 1241.4,623.9 1242.3,621.8 1243.2,620.1 1244.0,618.6 1244.7,617.0 1245.3,615.2 1245.9,613.1 1246.4,610.9 1246.8,608.9 1247.3,607.1 1247.7,605.1 1248.2,603.0 1248.6,601.4 1249.2,599.8 1249.8,597.8 1250.4,595.6 1251.1,593.6 1251.8,591.7 1252.5,589.7 1253.2,587.8 1253.9,586.0 1254.6,584.3 1255.2,582.6 1255.7,580.4 1256.2,577.6 1256.6,574.9 1257.0,572.6 1257.5,570.6 1258.0,568.8 1258.7,567.6 1259.5,567.1 1260.8,567.4 1262.8,568.4 1264.9,569.5 1266.8,570.4 1268.7,571.0 1270.7,571.5 1272.6,571.9 1274.6,572.2 1276.4,572.2 1278.3,571.6 1280.2,571.1 1282.0,570.5 1283.8,569.4 1285.7,568.1 1287.6,567.3 1289.4,566.6 1291.4,565.8 1293.3,565.4 1295.2,565.2 1297.2,564.8 1299.2,564.4 1301.1,563.9 1303.1,563.6 1305.1,563.3 1307.1,563.0 1309.0,562.6 1311.0,562.2 1312.9,561.8 1314.9,561.2 1316.8,560.6 1318.8,560.1 1320.7,559.6 1322.6,558.8 1324.5,558.2 1326.5,557.8 1328.4,557.4 1330.3,556.9 1332.2,556.5 1334.1,556.3 1336.0,555.5 1337.9,554.6 1339.8,553.9 1341.7,553.4 1343.6,552.8 1345.6,552.3 1347.5,551.8 1349.4,551.1 1351.3,550.4 1353.2,549.7 1355.1,549.0 1357.0,548.6 1359.0,548.4 1360.9,547.7 1362.8,547.0 1364.8,546.6 1366.7,546.2 1368.7,545.5 1370.6,544.8 1372.5,544.2 1374.5,543.8 1376.4,543.4 1378.4,542.9 1380.3,542.3 1382.3,541.6 1384.2,540.9 1386.2,540.6 1388.1,540.2 1390.1,539.5 1392.1,538.9 1394.0,538.4 1396.0,538.0 1397.9,537.9 1399.9,537.7 1401.9,537.5 1403.8,537.2 1405.8,536.9 1407.8,536.6 1409.7,536.7 1411.7,536.8 1413.7,536.7 1415.7,536.7 1417.6,536.9 1419.6,537.1 1421.6,537.1 1423.6,537.2 1425.6,537.6 1427.6,537.9 1429.5,538.4 1431.5,538.8 1433.5,539.0 1435.5,539.4 1437.5,539.7 1439.5,539.7 1441.5,540.1 1443.5,540.6 1445.5,541.0 1447.5,541.1 1449.5,541.0 1451.5,541.1 1453.5,541.2 1455.5,541.2 1457.5,541.3 1459.5,541.4 1461.5,541.8 1463.5,541.9 1465.4,541.9 1467.4,542.0 1469.4,542.0 1471.4,541.8 1473.4,541.8 1475.4,542.3 1477.4,542.5 1479.4,542.4 1481.4,542.3 1483.4,542.4 1485.4,542.6 1487.4,542.7 1489.4,542.8 1491.4,542.7 1493.4,542.5 1495.4,542.6 1497.4,542.8 1499.5,542.8 1501.5,543.0 1503.5,543.2 1505.5,543.1 1507.5,543.2 1509.5,543.3 1511.5,543.3 1513.5,543.2 1515.5,543.3 1517.5,543.6 1519.5,543.8 1521.5,543.7 1523.5,543.5 1525.5,543.3 1527.5,543.4 1529.5,543.4 1531.5,543.5 1533.4,543.7 1535.4,543.8 1537.4,543.8 1539.4,543.6 1541.4,543.7 1543.4,543.7 1545.4,543.5 1547.4,543.5 1549.4,543.6 1551.4,543.4 1553.4,543.3 1555.4,543.4 1557.4,543.3 1559.4,542.9 1561.4,542.3 1563.4,542.1 1565.4,542.1 1567.4,542.0 1569.4,541.8 1571.4,541.7 1573.3,541.2 1575.3,540.6 1577.3,540.1 1579.3,539.9 1581.3,540.0 1583.3,539.7 1585.2,539.2 1587.2,538.8 1589.2,538.6 1591.2,538.4 1593.1,538.0 1595.1,537.5 1597.1,537.2 1599.0,536.8 1601.0,536.1 1602.9,535.3 1604.9,534.8 1606.9,534.3 1608.8,533.8 1610.8,533.1 1612.7,532.5 1614.7,532.0 1616.6,531.5 1618.6,531.0 1620.5,530.9 1622.5,530.4 1624.4,529.5 1626.4,529.2 1628.3,529.2 1630.3,529.2 1632.2,528.8 1634.1,528.2 1636.1,528.0 1638.0,528.2 1640.0,528.4 1641.9,528.5 1643.8,528.8 1645.8,529.2 1647.7,529.4 1649.7,529.7 1651.6,530.1 1653.6,530.7 1655.5,531.2 1657.5,531.9 1659.4,532.5 1661.4,533.1 1663.3,533.8 1665.2,534.7 1667.2,535.3 1669.1,535.8 1671.0,536.5 1672.9,537.3 1674.8,538.0 1676.7,538.9 1678.6,539.7 1680.5,540.3 1682.4,541.2 1684.2,542.1 1686.1,542.8 1687.9,543.5 1689.7,544.4 1691.5,545.1 1693.4,546.0 1695.2,547.1 1697.0,547.9 1698.7,548.6 1700.4,549.7 1702.0,550.9 1703.6,552.2 1705.1,553.5 1706.6,554.9 1708.1,556.2 1709.5,557.7 1710.9,559.3 1712.3,560.6 1713.7,561.9 1715.1,563.5 1716.5,564.9 1717.9,566.2 1719.3,567.4 1720.7,568.8 1722.1,570.4 1723.4,572.2 1724.8,573.7 1726.2,575.0 1727.5,576.4 1728.9,577.9 1730.2,579.3 1731.5,580.7 1732.8,582.3 1734.1,584.0 1735.4,585.5 1736.7,586.9 1737.9,588.6 1739.2,590.3 1740.4,591.9 1741.7,593.3 1742.9,595.0 1744.2,596.7 1745.4,598.1 1746.6,599.6 1747.8,601.2 1749.0,602.8 1750.2,604.4 1751.4,605.9 1752.6,607.6 1753.7,609.4 1754.8,611.0 1755.9,612.5 1756.9,614.3 1758.0,616.1 1759.0,617.9 1759.9,619.8 1760.8,621.6 1761.7,623.2 1762.5,624.9 1763.3,626.8 1764.1,629.0 1764.8,631.1 1765.6,632.9 1766.4,634.7 1767.2,636.5 1768.0,638.4 1768.9,640.5 1769.8,642.2 1770.8,643.6 1771.9,645.0 1773.1,646.2 1774.3,647.4 1775.7,649.0 1777.1,650.5 1778.7,651.8 1780.2,653.2 1781.9,654.6 1783.6,655.9 1785.4,657.2 1787.2,658.4 1789.0,659.3 1790.9,660.2 1792.8,661.3 1794.7,662.5 1796.6,663.5 1798.6,664.1 1800.5,664.9 1802.4,665.7 1804.3,665.9 1806.2,666.3 1808.1,666.7 1810.0,666.6 1811.8,666.4 1813.7,666.2 1815.7,666.0 1817.6,665.9 1819.6,665.5 1821.6,665.1 1823.6,664.6 1825.6,664.0 1827.6,663.5 1829.6,663.1 1831.6,662.7 1833.6,662.1 1835.6,661.6 1837.5,661.0 1839.4,660.3 1841.3,659.8 1843.2,659.2 1845.0,658.3 1846.8,657.4 1848.6,656.8 1850.3,656.1 1852.1,655.3 1853.8,654.4 1855.5,653.4 1857.3,652.2 1859.0,651.2 1860.7,650.1 1862.3,648.9 1864.0,648.0 1865.7,646.8 1867.3,645.6 1869.0,644.4 1870.7,643.1 1872.3,641.8 1873.9,640.8 1875.6,639.9 1877.2,638.7 1878.9,637.4 1880.5,635.9 1882.2,634.7 1883.8,633.8 1885.5,632.7 1887.2,631.3 1888.8,629.8 1890.5,628.7 1892.2,627.8 1893.8,626.7 1895.5,625.7 1897.1,624.9 1898.8,624.0 1900.4,622.5 1902.1,621.1 1903.7,620.0 1905.4,618.9 1907.0,617.9 1908.6,616.5 1910.3,615.0 1911.9,613.7 1913.6,612.7 1915.2,611.8 1916.8,610.7 1918.5,609.4 1920.1,608.2 1921.8,607.1 1923.5,606.1 1925.1,605.2 1926.8,604.1 1928.5,603.0 1930.2,601.9 1931.9,600.8 1933.6,599.7 1935.4,598.9 1937.1,598.3 1938.9,597.3 1940.6,596.3 1942.4,595.4 1944.2,594.3 1946.0,593.1 1947.7,592.1 1949.5,591.4 1951.3,590.5 1953.2,589.6 1955.0,588.7 1956.8,587.6 1958.6,586.7 1960.5,585.8 1962.3,584.9 1964.2,584.4 1966.0,583.7 1967.9,582.7 1969.7,581.8 1971.6,581.3 1973.5,581.0 1975.4,580.4 1977.3,579.8 1979.2,579.3 1981.1,578.5 1983.0,577.6 1984.9,577.2 1986.8,577.0 1988.7,576.8 1990.7,576.2 1992.6,575.7 1994.6,575.3 1996.6,574.8 1998.5,574.5 2000.5,574.1 2002.5,573.6 2004.5,573.2 2006.5,572.8 2008.5,572.5 2010.5,572.3 2012.5,572.2 2014.5,572.1 2016.5,572.0 2018.5,571.9 2020.5,571.9 2022.5,571.6 2024.4,571.5 2026.4,571.7 2028.4,571.7 2030.4,571.9 2032.4,572.2 2034.4,572.3 2036.3,572.6 2038.3,573.0 2040.3,573.3 2042.3,573.4 2044.3,573.7 2046.2,574.1 2048.2,574.4 2050.2,574.9 2052.2,575.4 2054.1,576.1 2056.1,576.7 2058.0,576.9 2060.0,577.3 2061.9,577.6 2063.9,578.0 2065.8,578.7 2067.8,579.4 2069.7,580.0 2071.7,580.5 2073.6,580.7 2075.6,581.2 2077.5,582.2 2079.4,583.2 2081.3,583.8 2083.1,584.5 2084.9,585.4 2086.7,586.3 2088.5,586.9 2090.2,587.7 2092.0,588.6 2093.7,589.5 2095.5,590.3 2097.2,591.2 2098.9,592.3 2100.6,593.6 2102.2,594.7 2103.9,595.6 2105.5,596.7 2107.1,598.3 2108.7,600.0 2110.3,601.2 2111.9,602.1 2113.4,603.0 2114.9,604.5 2116.4,606.5 2117.8,607.8 2119.2,609.4 2120.7,611.9 2122.1,613.5 2123.5,614.2 2124.9,615.1 2126.2,616.2 2127.6,618.0 2129.0,619.9 2130.3,620.4 2131.6,620.9 2132.9,621.7 2134.2,623.7 2135.4,626.8 2136.7,629.1 2137.9,630.4 2139.1,631.3 2140.2,632.4 2141.4,634.0 2142.5,636.6 2143.5,639.9 2144.6,642.2 2145.6,642.6 2146.6,642.6 2147.5,644.1 2148.3,646.7 2149.2,647.8 2150.0,649.3 2150.7,653.0 2151.5,655.0 2152.2,655.5 2152.9,656.7 2153.6,659.2 2154.4,662.1 2155.1,663.5 2155.9,665.8 2156.7,669.6 2157.5,672.5 2158.4,673.1 2159.3,673.1 2160.3,674.6 2161.4,677.7 2162.5,679.4 2163.7,679.9 2165.0,681.3 2166.4,681.5 2167.8,680.9 2169.3,683.4 2170.8,688.2 2172.3,691.3 2173.9,691.3 2175.5,690.2 2177.1,690.8 2178.7,693.2 2180.5,693.3 2182.4,692.6 2184.3,694.4 2186.3,696.0 2188.2,697.9 2190.1,699.9 2191.9,701.4 2193.6,702.8 2195.1,701.9 2196.5,699.4 2197.7,701.0 2199.0,705.9 2200.2,706.3 2201.3,702.8 2202.4,704.4 2203.4,712.7 2204.4,718.6 2205.4,717.9 2206.4,716.8 2207.3,715.6 2208.3,713.8 2209.3,718.1 2210.2,725.5 2211.2,726.1 2212.2,725.2 2213.3,729.9 2214.3,734.0 2215.4,734.8 2216.6,734.7 2217.8,734.5 2219.1,735.5 2220.3,739.3 2221.6,741.5 2222.9,741.2 2224.3,742.5 2225.7,745.1 2227.0,748.7 2228.4,748.3 2229.8,745.8 2231.3,750.0 2232.7,753.8 2234.2,753.0 2235.6,753.5 2237.1,754.4 2238.6,754.9 2240.1,759.0 2241.5,763.6 2243.0,765.5 2244.5,767.3 2246.0,768.8 2247.5,769.0 2249.0,769.0 2250.5,771.8 2252.0,775.6 2253.5,775.9 2255.1,773.4 2256.7,771.3 2258.2,772.2 2259.8,775.7 2261.4,776.2 2263.0,775.2 2264.6,778.3 2266.2,781.8 2267.8,782.2 2269.4,784.5 2270.9,789.1 2272.5,788.1 2274.1,784.1 2275.7,786.0 2277.2,790.6 2278.7,792.4 2280.3,792.5 2281.8,792.9 2283.3,793.5 2284.8,793.5 2286.3,795.1 2287.8,795.7 2289.3,794.0 2290.8,797.9 2292.3,803.2 2293.8,802.1 2295.3,803.6 2296.7,809.8 2298.2,811.4 2299.7,809.1 2301.1,808.8 2302.6,810.3 2304.1,811.9 2305.5,812.9 2306.0,813.2" fill="none" stroke="#32cd32" stroke-width="10.2" stroke-linecap="square" stroke-linejoin="round"/>
<path d="M360.7,1500.1 362.7,1499.9 364.7,1499.7 366.7,1499.7 368.7,1499.9 370.7,1499.7 372.7,1499.7 374.7,1500.1 376.7,1500.2 378.7,1499.9 380.7,1499.9 382.7,1500.1 384.7,1500.1 386.7,1499.9 388.7,1499.8 390.7,1499.8 392.7,1499.7 394.7,1499.5 396.7,1499.3 398.7,1499.5 400.7,1499.7 402.7,1499.6 404.7,1499.6 406.7,1499.7 408.7,1499.7 410.7,1499.6 412.7,1499.5 414.7,1499.5 416.7,1499.4 418.7,1499.3 420.7,1499.2 422.7,1498.8 424.7,1498.9 426.7,1499.0 428.7,1498.8 430.7,1498.7 432.7,1498.9 434.7,1498.9 436.7,1498.7 438.7,1498.5 440.7,1498.3 442.7,1498.4 444.7,1498.5 446.7,1498.4 448.7,1498.2 450.7,1498.2 452.7,1498.0 454.7,1497.8 456.6,1497.5 458.6,1497.4 460.6,1497.3 462.6,1497.1 464.6,1497.2 466.6,1497.3 468.6,1497.1 470.6,1496.7 472.6,1496.2 474.6,1495.8 476.6,1495.5 478.6,1495.2 480.5,1494.9 482.5,1494.8 484.5,1495.0 486.5,1495.0 488.5,1494.9 490.5,1494.7 492.5,1494.3 494.5,1494.0 496.5,1493.9 498.5,1494.0 500.5,1493.9 502.5,1493.6 504.5,1493.3 506.5,1493.4 508.5,1493.5 510.5,1493.3 512.5,1493.0 514.5,1492.9 516.5,1492.8 518.5,1492.6 520.5,1492.5 522.5,1492.5 524.5,1492.5 526.5,1492.5 528.5,1492.8 530.5,1492.9 532.5,1492.6 534.5,1492.3 536.5,1492.0 538.5,1491.9 540.5,1492.2 542.5,1492.3 544.5,1491.9 546.5,1491.8 548.5,1491.9 550.5,1491.6 552.5,1491.3 554.5,1491.5 556.5,1491.5 558.5,1491.4 560.5,1491.2 562.5,1491.3 564.5,1491.2 566.5,1490.9 568.5,1490.8 570.5,1490.6 572.5,1490.4 574.5,1490.2 576.4,1490.1 578.4,1490.1 580.4,1490.1 582.4,1489.8 584.4,1489.6 586.4,1489.6 588.3,1489.4 590.3,1489.1 592.3,1488.6 594.3,1488.2 596.2,1487.7 598.2,1487.2 600.2,1486.9 602.1,1486.6 604.1,1486.3 606.1,1485.8 608.1,1485.2 610.1,1484.8 612.1,1484.4 614.0,1483.9 616.0,1483.6 617.9,1483.0 619.8,1482.4 621.6,1481.8 623.4,1481.3 625.2,1480.6 627.0,1479.8 628.7,1478.6 630.5,1477.5 632.2,1476.6 633.9,1475.6 635.6,1474.3 637.2,1472.8 638.8,1471.3 640.4,1470.1 642.0,1469.0 643.5,1467.8 645.0,1466.6 646.4,1465.3 647.9,1464.0 649.2,1462.7 650.5,1461.1 651.8,1459.5 653.1,1458.0 654.3,1456.5 655.5,1455.0 656.7,1453.4 657.8,1451.7 659.0,1449.9 660.1,1448.3 661.3,1446.8 662.5,1445.0 663.6,1443.1 664.8,1441.4 666.0,1439.8 667.2,1438.3 668.5,1436.9 669.7,1435.3 671.0,1433.6 672.3,1431.9 673.7,1430.5 675.0,1429.3 676.3,1427.6 677.7,1425.9 679.0,1424.4 680.4,1422.8 681.8,1421.3 683.2,1420.0 684.6,1418.6 686.0,1417.1 687.5,1415.7 689.0,1414.5 690.5,1413.2 692.1,1412.0 693.6,1410.9 695.3,1409.6 696.9,1408.4 698.6,1407.5 700.4,1406.6 702.2,1405.7 704.0,1405.0 705.9,1404.3 707.8,1403.4 709.6,1402.6 711.5,1401.9 713.5,1401.1 715.4,1400.5 717.3,1400.1 719.2,1399.7 721.1,1399.1 723.0,1398.5 725.0,1398.0 727.0,1397.4 729.0,1397.1 731.0,1396.9 733.0,1396.5 735.0,1395.9 736.9,1395.5 738.9,1395.4 740.9,1395.3 742.8,1395.2 744.8,1395.3 746.7,1395.5 748.7,1395.9 750.6,1396.4 752.5,1396.9 754.4,1397.6 756.4,1398.4 758.3,1399.6 760.1,1400.5 762.0,1401.2 763.8,1402.0 765.6,1402.8 767.3,1403.7 769.0,1404.8 770.7,1405.7 772.4,1406.7 774.1,1407.9 775.7,1408.9 777.4,1410.0 779.0,1411.0 780.7,1412.3 782.3,1413.8 784.0,1415.0 785.6,1415.9 787.3,1417.1 789.0,1418.1 790.7,1418.9 792.4,1420.0 794.1,1421.5 795.7,1422.9 797.4,1424.0 799.1,1425.0 800.8,1426.0 802.5,1426.9 804.3,1427.8 806.0,1428.9 807.8,1429.9 809.5,1430.6 811.3,1431.6 813.1,1432.7 814.9,1433.6 816.8,1434.1 818.6,1434.5 820.5,1435.1 822.4,1435.9 824.2,1436.7 826.1,1437.1 828.1,1437.5 830.0,1438.2 831.9,1439.0 833.8,1439.7 835.7,1440.2 837.7,1440.7 839.6,1441.4 841.5,1442.1 843.5,1442.4 845.4,1443.0 847.3,1443.7 849.2,1444.3 851.2,1444.9 853.1,1445.4 855.1,1445.8 857.0,1446.4 858.9,1446.9 860.9,1447.2 862.8,1447.5 864.8,1447.8 866.7,1448.3 868.7,1448.7 870.6,1449.2 872.5,1449.7 874.4,1450.2 876.4,1450.9 878.3,1451.7 880.2,1452.5 882.1,1453.2 884.0,1454.1 885.9,1454.9 887.8,1455.4 889.7,1455.7 891.6,1456.2 893.5,1456.8 895.4,1457.4 897.3,1457.8 899.3,1458.2 901.2,1458.8 903.1,1459.4 905.1,1460.1 907.0,1460.3 909.0,1460.2 911.0,1460.1 913.0,1460.2 915.0,1460.3 917.0,1460.6 919.0,1460.8 921.1,1460.9 923.1,1461.1 925.1,1461.2 927.1,1461.3 929.1,1461.4 931.2,1461.5 933.1,1461.6 935.1,1461.8 937.1,1461.9 939.1,1461.9 941.0,1462.1 942.9,1462.5 944.8,1462.9 946.7,1463.4 948.6,1463.9 950.4,1464.5 952.3,1465.5 954.1,1466.4 955.9,1467.3 957.8,1468.3 959.6,1469.4 961.4,1470.3 963.2,1471.1 965.1,1472.0 966.9,1473.0 968.8,1473.7 970.6,1474.5 972.5,1475.3 974.4,1475.9 976.3,1476.4 978.2,1476.8 980.1,1477.3 982.0,1478.0 984.0,1478.6 985.9,1479.0 987.9,1479.5 989.8,1480.1 991.8,1480.4 993.8,1480.8 995.7,1481.1 997.7,1481.4 999.7,1482.0 1001.7,1482.4 1003.6,1482.7 1005.6,1483.0 1007.6,1483.2 1009.6,1483.4 1011.6,1483.6 1013.6,1483.8 1015.5,1484.0 1017.5,1483.8 1019.5,1483.7 1021.5,1483.9 1023.5,1484.2 1025.5,1484.4 1027.5,1484.3 1029.5,1484.4 1031.5,1484.7 1033.5,1484.7 1035.5,1484.5 1037.5,1484.4 1039.6,1484.3 1041.6,1484.6 1043.6,1484.8 1045.6,1484.5 1047.6,1484.3 1049.6,1484.3 1051.6,1484.2 1053.6,1484.2 1055.6,1483.9 1057.6,1483.7 1059.5,1483.7 1061.5,1483.6 1063.4,1482.9 1065.4,1481.9 1067.2,1481.1 1069.0,1480.5 1070.8,1479.6 1072.6,1478.6 1074.4,1477.7 1076.0,1476.8 1077.7,1475.5 1079.2,1473.9 1080.7,1472.7 1082.0,1471.5 1083.3,1469.9 1084.6,1468.2 1085.8,1466.5 1086.9,1464.9 1088.0,1463.4 1089.0,1461.9 1089.9,1460.1 1090.8,1458.1 1091.6,1456.2 1092.4,1454.3 1093.2,1452.1 1093.9,1450.3 1094.6,1448.9 1095.3,1447.2 1095.9,1445.0 1096.6,1443.0 1097.2,1441.0 1097.9,1439.2 1098.5,1437.3 1099.1,1435.4 1099.7,1433.6 1100.3,1431.7 1100.8,1429.8 1101.4,1427.7 1101.9,1425.7 1102.5,1424.0 1103.0,1422.1 1103.5,1420.2 1104.1,1418.4 1104.6,1416.4 1105.1,1414.3 1105.6,1412.3 1106.0,1410.3 1106.5,1408.4 1107.0,1406.7 1107.5,1404.8 1108.0,1402.7 1108.5,1400.7 1109.0,1398.8 1109.5,1397.1 1110.0,1395.2 1110.5,1393.0 1111.1,1391.1 1111.6,1389.2 1112.1,1387.4 1112.6,1385.5 1113.1,1383.2 1113.7,1381.0 1114.2,1379.2 1114.7,1377.4 1115.2,1375.7 1115.7,1373.7 1116.3,1371.7 1116.9,1369.9 1117.5,1367.9 1118.1,1365.9 1118.6,1364.1 1119.0,1362.2 1119.4,1360.3 1119.6,1358.5 1119.8,1356.2 1120.0,1354.0 1120.1,1352.1 1120.2,1350.1 1120.3,1348.3 1120.5,1346.7 1120.6,1344.5 1120.7,1342.1 1120.9,1340.0 1121.1,1338.3 1121.3,1336.4 1121.5,1334.4 1121.7,1332.4 1122.0,1330.5 1122.3,1328.4 1122.5,1326.5 1122.8,1324.5 1123.1,1322.3 1123.4,1320.3 1123.7,1318.6 1124.1,1316.6 1124.4,1314.4 1124.8,1312.3 1125.1,1310.4 1125.5,1308.6 1125.8,1306.7 1126.2,1305.0 1126.6,1303.0 1127.0,1300.9 1127.4,1298.9 1127.8,1297.0 1128.2,1295.1 1128.6,1293.0 1129.0,1291.1 1129.4,1289.2 1129.9,1287.2 1130.3,1285.2 1130.7,1283.1 1131.1,1281.1 1131.5,1279.3 1132.0,1277.6 1132.4,1275.5 1132.8,1273.2 1133.3,1271.3 1133.7,1269.4 1134.1,1267.4 1134.5,1265.4 1134.9,1263.4 1135.4,1261.5 1135.8,1259.6 1136.2,1257.6 1136.6,1255.4 1137.0,1253.4 1137.4,1251.4 1137.8,1249.6 1138.1,1247.8 1138.5,1245.7 1138.9,1243.8 1139.2,1242.0 1139.6,1240.1 1139.9,1238.1 1140.3,1236.2 1140.6,1234.1 1141.0,1232.2 1141.3,1230.1 1141.6,1228.0 1142.0,1226.2 1142.3,1224.5 1142.7,1222.3 1143.0,1220.4 1143.3,1218.6 1143.7,1216.6 1144.0,1214.4 1144.4,1212.1 1144.7,1210.2 1145.0,1208.4 1145.4,1206.6 1145.7,1204.7 1146.0,1202.6 1146.4,1200.3 1146.7,1198.2 1147.0,1196.6 1147.4,1194.9 1147.7,1192.7 1148.0,1190.6 1148.3,1188.8 1148.7,1187.0 1149.0,1185.1 1149.3,1183.1 1149.6,1180.8 1149.9,1178.6 1150.3,1176.9 1150.6,1175.1 1150.9,1172.9 1151.2,1170.8 1151.5,1168.8 1151.8,1166.7 1152.1,1164.6 1152.4,1162.7 1152.7,1161.0 1153.0,1159.2 1153.3,1157.2 1153.6,1155.0 1153.9,1152.9 1154.2,1150.8 1154.5,1148.9 1154.8,1147.4 1155.1,1145.6 1155.4,1143.3 1155.7,1141.2 1156.0,1139.3 1156.2,1137.3 1156.5,1135.3 1156.8,1133.3 1157.1,1131.4 1157.3,1129.5 1157.6,1127.3 1157.9,1125.3 1158.1,1123.5 1158.4,1121.5 1158.7,1119.3 1158.9,1117.4 1159.2,1115.5 1159.4,1113.5 1159.7,1111.6 1159.9,1109.7 1160.2,1107.7 1160.4,1105.6 1160.7,1103.5 1160.9,1101.7 1161.2,1099.9 1161.4,1098.0 1161.7,1095.9 1161.9,1093.8 1162.2,1091.7 1162.4,1089.5 1162.7,1087.5 1162.9,1085.6 1163.1,1083.8 1163.4,1081.7 1163.6,1079.8 1163.9,1078.0 1164.1,1076.1 1164.3,1074.2 1164.6,1072.1 1164.8,1069.8 1165.1,1067.7 1165.3,1066.0 1165.5,1064.1 1165.8,1062.0 1166.0,1059.8 1166.2,1057.7 1166.5,1055.8 1166.7,1053.8 1167.0,1051.8 1167.2,1050.0 1167.4,1048.3 1167.7,1046.1 1167.9,1043.9 1168.2,1041.9 1168.4,1040.0 1168.6,1038.1 1168.9,1036.3 1169.1,1034.2 1169.3,1031.8 1169.6,1029.9 1169.8,1028.2 1170.0,1026.2 1170.3,1023.9 1170.5,1021.8 1170.7,1020.0 1170.9,1018.2 1171.2,1016.3 1171.4,1014.3 1171.6,1012.4 1171.8,1010.4 1172.0,1008.1 1172.3,1006.2 1172.5,1004.4 1172.7,1002.4 1172.9,1000.4 1173.2,998.4 1173.4,996.3 1173.6,994.1 1173.8,992.1 1174.1,990.3 1174.3,988.3 1174.5,986.1 1174.8,984.1 1175.0,982.4 1175.2,980.6 1175.5,978.5 1175.7,976.4 1175.9,974.2 1176.2,972.2 1176.4,970.5 1176.7,968.6 1176.9,966.3 1177.2,964.1 1177.5,962.4 1177.7,960.7 1178.0,958.8 1178.3,956.7 1178.6,954.8 1178.8,952.9 1179.1,950.8 1179.4,948.8 1179.7,946.9 1180.0,944.6 1180.3,942.6 1180.6,940.9 1180.9,938.9 1181.2,936.7 1181.5,934.9 1181.8,933.2 1182.1,931.1 1182.5,929.1 1182.8,927.0 1183.1,925.0 1183.4,923.3 1183.7,921.4 1184.0,919.3 1184.3,917.2 1184.6,915.1 1185.0,913.2 1185.3,911.2 1185.6,909.1 1185.9,907.2 1186.2,905.3 1186.5,903.2 1186.8,901.1 1187.1,899.2 1187.4,897.1 1187.7,895.1 1188.0,893.2 1188.3,891.4 1188.6,889.4 1188.9,887.4 1189.1,885.5 1189.4,883.5 1189.7,881.6 1190.0,879.5 1190.3,877.3 1190.6,875.4 1190.9,873.6 1191.2,871.8 1191.5,869.8 1191.7,867.6 1192.0,865.3 1192.3,863.3 1192.6,861.4 1192.9,859.5 1193.3,857.6 1193.6,855.8 1193.9,853.9 1194.2,852.0 1194.5,850.0 1194.8,847.9 1195.2,846.0 1195.5,844.1 1195.9,842.3 1196.2,840.4 1196.6,838.3 1196.9,835.9 1197.3,833.9 1197.6,832.2 1198.0,830.3 1198.4,828.3 1198.7,826.4 1199.1,824.4 1199.5,822.3 1199.9,820.3 1200.2,818.1 1200.6,816.0 1201.0,814.2 1201.3,812.3 1201.7,810.4 1202.1,808.3 1202.4,806.1 1202.8,804.3 1203.1,802.5 1203.5,800.3 1203.8,798.4 1204.2,796.3 1204.5,794.4 1204.9,792.9 1205.2,791.0 1205.5,788.8 1205.9,786.9 1206.2,785.1 1206.5,783.2 1206.9,781.1 1207.2,779.1 1207.5,777.1 1207.9,775.0 1208.2,773.1 1208.5,771.1 1208.9,769.1 1209.2,767.1 1209.5,765.0 1209.9,763.1 1210.2,761.3 1210.5,759.4 1210.8,757.3 1211.2,755.2 1211.5,753.3 1211.8,751.2 1212.1,749.1 1212.4,747.3 1212.7,745.6 1213.0,743.6 1213.4,741.7 1213.7,739.8 1214.0,737.7 1214.3,735.6 1214.6,733.6 1215.0,731.6 1215.3,729.7 1215.6,727.8 1216.0,725.6 1216.3,723.5 1216.7,721.6 1217.1,719.7 1217.5,717.8 1217.8,715.7 1218.2,713.6 1218.6,711.7 1219.1,710.0 1219.5,708.2 1219.9,706.2 1220.3,704.3 1220.8,702.5 1221.2,700.5 1221.7,698.4 1222.1,696.4 1222.6,694.5 1223.1,692.5 1223.6,690.6 1224.0,688.6 1224.5,686.6 1225.1,684.7 1225.6,682.9 1226.1,681.0 1226.6,678.8 1227.2,676.8 1227.7,674.9 1228.3,673.2 1228.9,671.3 1229.5,669.4 1230.1,667.4 1230.7,665.5 1231.3,663.5 1231.9,661.6 1232.6,659.7 1233.2,657.8 1233.9,655.9 1234.6,654.1 1235.3,652.3 1236.0,650.7 1236.7,648.9 1237.5,646.7 1238.3,644.6 1239.0,642.6 1239.8,640.9 1240.7,639.4 1241.5,637.7 1242.5,635.9 1243.5,634.1 1244.5,632.1 1245.5,630.4 1246.6,629.0 1247.7,627.5 1248.8,625.7 1249.9,624.0 1250.9,622.2 1252.0,620.4 1253.2,618.7 1254.4,617.1 1255.5,615.6 1256.6,614.0 1257.5,612.0 1258.2,609.8 1258.8,608.1 1259.2,606.4 1259.7,604.5 1260.0,602.4 1260.3,600.3 1260.4,598.0 1260.5,595.5 1260.6,593.0 1260.7,591.0 1260.8,589.5 1261.1,589.2 1262.2,590.1 1264.1,591.6 1266.2,592.8 1268.2,593.5 1270.1,594.0 1272.1,594.4 1274.1,594.7 1276.0,594.8 1278.0,594.8 1279.9,594.5 1281.9,594.0 1283.8,593.3 1285.8,592.7 1287.7,592.0 1289.7,591.6 1291.6,591.4 1293.6,591.1 1295.6,590.7 1297.6,590.4 1299.6,589.8 1301.5,589.2 1303.5,588.6 1305.4,588.1 1307.3,587.6 1309.2,587.0 1311.0,586.2 1312.7,585.1 1314.4,584.2 1316.1,583.5 1317.9,582.3 1319.6,581.0 1321.4,580.4 1323.3,579.5 1325.1,578.7 1327.0,578.2 1328.8,577.7 1330.7,577.2 1332.6,576.5 1334.5,575.7 1336.5,575.1 1338.4,574.7 1340.3,574.2 1342.3,573.6 1344.2,573.1 1346.2,572.5 1348.1,571.7 1350.1,571.2 1352.0,571.1 1354.0,570.7 1355.9,570.2 1357.9,569.6 1359.8,569.0 1361.8,568.5 1363.7,568.1 1365.7,567.7 1367.6,567.2 1369.6,566.9 1371.5,566.5 1373.5,566.2 1375.5,565.7 1377.4,565.0 1379.4,564.5 1381.4,564.2 1383.3,563.6 1385.3,562.9 1387.3,562.7 1389.3,562.4 1391.2,561.9 1393.2,561.6 1395.2,561.3 1397.2,561.3 1399.2,561.1 1401.1,560.8 1403.1,560.7 1405.1,560.5 1407.1,560.1 1409.1,559.8 1411.0,560.0 1413.0,560.2 1415.0,560.4 1417.0,560.5 1419.0,560.6 1421.0,560.5 1423.0,560.6 1424.9,561.0 1426.9,561.5 1428.9,561.5 1430.9,561.5 1432.9,562.0 1434.9,562.4 1436.9,562.5 1438.9,562.6 1440.9,562.9 1442.9,563.3 1444.9,563.7 1446.8,564.3 1448.8,564.7 1450.8,564.9 1452.8,564.9 1454.8,565.1 1456.8,565.4 1458.7,565.9 1460.7,566.4 1462.7,566.6 1464.7,566.6 1466.7,566.6 1468.7,566.5 1470.6,566.5 1472.6,566.5 1474.6,566.5 1476.6,566.6 1478.6,566.6 1480.6,566.5 1482.6,566.5 1484.6,566.6 1486.6,566.7 1488.6,566.5 1490.6,566.4 1492.6,566.4 1494.6,566.3 1496.6,566.1 1498.6,566.0 1500.6,565.9 1502.6,565.9 1504.6,566.0 1506.6,566.1 1508.6,565.9 1510.6,565.9 1512.6,566.0 1514.7,566.1 1516.7,566.0 1518.7,565.9 1520.7,565.9 1522.7,565.5 1524.7,565.3 1526.7,565.2 1528.7,565.2 1530.7,565.4 1532.7,565.4 1534.7,565.3 1536.7,565.1 1538.7,565.0 1540.7,564.9 1542.7,564.8 1544.6,564.6 1546.6,564.5 1548.6,564.6 1550.6,564.5 1552.6,564.2 1554.6,563.9 1556.6,563.6 1558.6,563.5 1560.6,563.5 1562.6,563.3 1564.6,563.2 1566.6,563.0 1568.6,562.8 1570.5,562.4 1572.5,562.0 1574.5,562.0 1576.5,561.9 1578.5,561.6 1580.5,561.3 1582.5,560.9 1584.5,560.8 1586.4,560.7 1588.4,560.3 1590.4,559.9 1592.4,559.7 1594.4,559.4 1596.4,559.0 1598.4,558.5 1600.3,558.0 1602.3,557.9 1604.3,557.8 1606.3,557.1 1608.3,556.5 1610.3,556.5 1612.3,556.3 1614.2,555.6 1616.2,554.8 1618.2,554.5 1620.2,554.2 1622.2,554.1 1624.1,553.9 1626.1,553.4 1628.0,552.9 1630.0,552.8 1632.0,552.9 1633.9,553.0 1635.8,552.6 1637.8,552.4 1639.7,552.7 1641.7,552.8 1643.6,553.0 1645.5,553.5 1647.5,553.9 1649.4,554.4 1651.3,554.9 1653.3,555.5 1655.2,556.2 1657.1,556.7 1659.1,557.1 1661.0,557.8 1662.9,558.7 1664.8,559.3 1666.7,560.0 1668.6,560.7 1670.5,561.5 1672.4,562.1 1674.3,562.8 1676.1,564.1 1678.0,565.4 1679.9,566.2 1681.7,567.0 1683.6,567.7 1685.4,568.4 1687.2,569.3 1689.0,570.2 1690.8,570.9 1692.6,571.8 1694.4,572.6 1696.2,573.6 1698.0,574.7 1699.8,575.6 1701.5,576.6 1703.3,577.6 1705.0,578.4 1706.7,579.1 1708.4,580.2 1710.1,581.5 1711.8,582.7 1713.4,583.9 1715.0,585.0 1716.5,586.2 1718.0,587.5 1719.5,588.7 1721.0,590.1 1722.5,591.6 1723.9,593.0 1725.3,594.4 1726.7,595.9 1728.1,597.4 1729.5,598.8 1730.9,600.1 1732.2,601.6 1733.6,603.1 1734.9,604.7 1736.3,606.4 1737.6,608.2 1739.0,609.6 1740.4,610.8 1741.7,612.3 1743.1,613.9 1744.5,615.5 1745.9,616.9 1747.3,618.2 1748.6,619.8 1750.0,621.2 1751.3,622.6 1752.5,624.0 1753.8,625.4 1755.0,627.1 1756.2,629.2 1757.3,630.9 1758.3,632.1 1759.3,633.8 1760.3,635.7 1761.1,637.5 1761.9,639.5 1762.7,641.6 1763.4,643.6 1764.1,645.5 1764.8,647.2 1765.5,648.9 1766.2,650.7 1766.9,652.7 1767.7,654.7 1768.5,656.6 1769.3,658.4 1770.2,660.1 1771.1,661.6 1772.1,663.2 1773.3,664.6 1774.5,666.0 1775.8,667.7 1777.1,669.1 1778.5,670.6 1780.0,672.2 1781.6,673.6 1783.2,675.2 1784.9,676.8 1786.6,678.1 1788.3,679.4 1790.1,680.7 1791.9,681.9 1793.7,683.1 1795.6,684.3 1797.4,685.2 1799.3,686.1 1801.1,687.0 1803.0,687.3 1804.9,687.6 1806.7,688.1 1808.5,688.4 1810.3,688.5 1812.2,688.6 1814.0,688.3 1816.0,688.1 1817.9,687.9 1819.9,687.5 1821.9,686.9 1823.9,686.3 1825.9,685.9 1827.9,685.5 1829.9,685.1 1831.9,684.4 1833.9,683.6 1835.9,683.1 1837.9,682.6 1839.8,681.8 1841.7,681.1 1843.6,680.4 1845.4,679.8 1847.2,679.3 1849.0,678.5 1850.8,677.7 1852.6,677.0 1854.4,676.1 1856.2,675.2 1857.9,674.4 1859.7,673.6 1861.5,672.7 1863.2,671.5 1864.9,670.2 1866.7,669.0 1868.4,668.1 1870.1,667.3 1871.8,666.0 1873.5,664.8 1875.2,663.8 1876.9,662.7 1878.6,661.5 1880.3,660.6 1882.0,659.6 1883.7,658.4 1885.4,657.3 1887.1,656.3 1888.8,655.1 1890.5,654.0 1892.2,652.8 1893.9,651.6 1895.6,650.6 1897.2,649.7 1898.9,648.5 1900.5,647.3 1902.2,646.1 1903.8,644.8 1905.5,643.7 1907.1,642.6 1908.8,641.5 1910.4,640.5 1912.0,639.5 1913.7,638.4 1915.3,637.1 1917.0,635.8 1918.6,634.6 1920.2,633.4 1921.9,632.3 1923.6,631.3 1925.2,630.2 1926.9,629.0 1928.6,627.9 1930.3,626.8 1932.0,625.9 1933.7,624.9 1935.4,623.9 1937.1,623.1 1938.9,622.0 1940.6,620.7 1942.4,619.6 1944.1,618.5 1945.9,617.5 1947.6,616.7 1949.4,615.7 1951.2,614.8 1953.0,613.8 1954.8,613.0 1956.6,612.3 1958.4,611.2 1960.2,610.3 1962.0,609.5 1963.8,608.5 1965.6,607.6 1967.5,606.6 1969.3,605.8 1971.2,605.2 1973.0,604.4 1974.9,603.7 1976.7,603.2 1978.6,602.7 1980.5,602.1 1982.4,601.5 1984.3,601.0 1986.2,600.7 1988.1,600.3 1990.0,599.5 1992.0,598.9 1994.0,598.7 1995.9,598.7 1997.9,598.2 1999.9,597.7 2001.9,597.3 2003.9,597.0 2005.9,596.6 2007.9,596.4 2009.9,596.2 2011.9,595.9 2013.9,595.6 2015.9,595.4 2017.9,595.1 2019.9,595.0 2021.9,594.9 2023.8,594.9 2025.8,595.2 2027.8,595.3 2029.8,595.2 2031.8,595.3 2033.8,595.6 2035.8,596.0 2037.7,596.2 2039.7,596.5 2041.7,596.9 2043.7,597.3 2045.7,597.6 2047.7,597.8 2049.6,598.1 2051.6,598.6 2053.6,599.2 2055.5,599.7 2057.5,600.2 2059.4,600.7 2061.3,601.1 2063.3,601.6 2065.2,601.9 2067.1,602.4 2069.0,603.3 2070.9,604.0 2072.8,604.5 2074.7,605.1 2076.6,605.8 2078.5,606.6 2080.3,607.5 2082.2,608.4 2084.0,609.4 2085.7,610.2 2087.5,610.8 2089.3,611.6 2091.0,612.7 2092.7,613.9 2094.5,615.1 2096.2,616.2 2097.9,617.3 2099.6,618.3 2101.3,619.1 2103.0,620.0 2104.6,621.4 2106.2,622.9 2107.8,624.2 2109.4,625.4 2111.0,626.5 2112.6,627.4 2114.1,628.8 2115.6,630.1 2117.0,631.8 2118.5,633.2 2119.9,633.6 2121.3,635.2 2122.7,637.5 2124.1,639.3 2125.4,640.1 2126.8,641.2 2128.1,643.4 2129.5,644.5 2130.8,645.1 2132.1,646.4 2133.4,647.0 2134.6,647.8 2135.9,650.2 2137.1,652.0 2138.3,654.3 2139.5,657.4 2140.6,658.8 2141.8,660.6 2142.9,664.0 2144.0,666.1 2145.0,667.0 2146.1,668.1 2147.1,668.7 2148.0,670.0 2148.9,671.7 2149.7,673.5 2150.5,677.2 2151.3,681.6 2152.1,683.8 2152.9,683.4 2153.7,682.7 2154.5,684.7 2155.3,688.3 2156.2,690.9 2157.1,692.2 2158.0,692.6 2159.0,693.8 2160.1,696.3 2161.2,698.9 2162.5,700.5 2163.8,701.1 2165.3,703.3 2166.9,706.7 2168.6,709.1 2170.3,708.8 2172.0,705.7 2173.6,705.5 2175.3,707.7 2176.9,707.3 2178.4,708.3 2180.0,713.6 2181.7,716.7 2183.3,717.4 2184.9,718.5 2186.5,720.0 2188.1,720.5 2189.6,722.3 2191.1,724.0 2192.6,723.0 2194.0,722.7 2195.3,724.6 2196.6,728.2 2197.8,728.5 2199.0,726.0 2200.1,727.0 2201.2,733.2 2202.2,739.2 2203.2,738.3 2204.2,734.3 2205.2,737.8 2206.2,745.2 2207.2,744.3 2208.2,742.6 2209.2,747.1 2210.2,752.2 2211.2,754.5 2212.2,753.3 2213.3,753.7 2214.4,756.1 2215.6,757.3 2216.8,759.5 2218.0,762.5 2219.3,763.7 2220.6,762.7 2222.0,763.5 2223.3,767.0 2224.8,767.8 2226.2,766.3 2227.7,768.0 2229.1,771.3 2230.6,775.1 2232.2,779.5 2233.7,780.9 2235.3,780.4 2236.8,779.9 2238.4,780.2 2240.0,782.6 2241.5,784.4 2243.1,785.7 2244.7,787.1 2246.3,787.4 2247.8,789.0 2249.4,789.9 2251.0,791.1 2252.6,794.8 2254.2,795.6 2255.8,793.4 2257.5,793.8 2259.1,795.9 2260.8,796.7 2262.5,797.4 2264.1,798.0 2265.8,798.7 2267.5,799.6 2269.2,802.8 2270.8,808.2 2272.5,809.1 2274.1,806.3 2275.7,804.4 2277.4,805.0 2279.0,809.4 2280.5,812.2 2282.1,810.4 2283.7,810.8 2285.3,813.5 2286.8,814.9 2288.4,818.1 2289.9,821.6 2291.5,822.3 2293.0,824.1 2294.5,826.4 2296.1,826.1 2297.6,826.1 2299.1,825.9 2300.6,827.3 2302.1,829.5 2303.6,828.8 2305.1,828.9 2306.0,829.8" fill="none" stroke="#adff2f" stroke-width="10.2" stroke-linecap="square" stroke-linejoin="round"/>
<path d="M360.7,1542.9 362.7,1542.8 364.7,1542.9 366.7,1543.1 368.7,1543.1 370.7,1542.9 372.7,1542.9 374.7,1542.9 376.7,1542.9 378.7,1543.0 380.7,1543.0 382.7,1543.0 384.7,1543.1 386.7,1543.2 388.7,1543.1 390.7,1543.0 392.7,1543.0 394.7,1543.0 396.7,1543.0 398.7,1542.9 400.7,1542.9 402.7,1542.9 404.7,1542.8 406.7,1542.8 408.7,1542.8 410.7,1542.9 412.7,1543.0 414.7,1543.2 416.7,1543.3 418.7,1543.2 420.7,1543.0 422.7,1542.9 424.7,1543.0 426.7,1543.0 428.7,1543.1 430.7,1543.1 432.7,1543.0 434.7,1543.1 436.7,1543.2 438.7,1543.1 440.7,1543.0 442.7,1543.0 444.7,1543.0 446.7,1543.0 448.7,1543.0 450.7,1543.0 452.7,1542.9 454.7,1542.9 456.7,1543.0 458.7,1543.0 460.7,1542.9 462.7,1542.8 464.7,1542.9 466.7,1543.0 468.7,1543.1 470.7,1543.1 472.7,1543.1 474.7,1543.1 476.7,1543.0 478.7,1542.8 480.7,1542.8 482.7,1542.9 484.7,1543.0 486.7,1543.1 488.7,1543.1 490.7,1543.1 492.7,1543.1 494.7,1543.0 496.7,1543.0 498.7,1543.0 500.7,1543.0 502.7,1542.9 504.7,1542.9 506.7,1542.9 508.7,1543.0 510.7,1543.2 512.7,1543.2 514.7,1543.0 516.7,1542.9 518.7,1542.9 520.7,1542.9 522.7,1543.1 524.7,1543.0 526.7,1543.0 528.7,1543.2 530.7,1543.2 532.7,1543.1 534.7,1543.0 536.7,1542.9 538.7,1542.8 540.7,1542.8 542.7,1542.8 544.7,1543.1 546.7,1543.2 548.7,1543.0 550.7,1542.9 552.7,1543.1 554.7,1543.0 556.7,1542.9 558.7,1542.9 560.7,1542.9 562.7,1543.0 564.7,1543.1 566.7,1543.1 568.7,1543.0 570.7,1542.9 572.7,1543.0 574.7,1543.0 576.7,1542.9 578.7,1542.7 580.7,1542.7 582.7,1542.8 584.7,1543.0 586.7,1543.0 588.7,1542.9 590.7,1542.9 592.7,1543.1 594.7,1543.1 596.7,1542.9 598.7,1542.8 600.7,1542.8 602.7,1543.0 604.7,1543.2 606.7,1543.1 608.7,1542.9 610.7,1542.9 612.7,1543.0 614.7,1543.0 616.7,1543.0 618.7,1543.1 620.7,1543.2 622.7,1543.1 624.7,1543.1 626.7,1543.1 628.7,1543.1 630.7,1543.0 632.7,1543.0 634.7,1543.0 636.7,1543.1 638.7,1543.1 640.7,1543.0 642.7,1542.9 644.7,1542.8 646.7,1542.9 648.7,1543.0 650.7,1543.0 652.7,1542.9 654.7,1543.0 656.7,1543.1 658.7,1543.1 660.7,1543.0 662.7,1542.9 664.7,1543.1 666.7,1543.3 668.7,1543.2 670.7,1543.1 672.7,1543.0 674.7,1542.9 676.7,1543.1 678.7,1543.0 680.7,1543.0 682.7,1543.0 684.7,1543.0 686.7,1542.9 688.7,1542.9 690.7,1543.0 692.7,1543.0 694.7,1542.9 696.7,1542.8 698.7,1542.9 700.7,1542.9 702.7,1542.8 704.7,1542.8 706.7,1543.0 708.7,1543.0 710.7,1543.0 712.7,1543.0 714.7,1543.1 716.7,1543.1 718.7,1543.0 720.7,1542.9 722.7,1542.9 724.7,1542.9 726.7,1543.1 728.7,1543.1 730.7,1543.0 732.7,1543.0 734.7,1543.0 736.7,1543.1 738.7,1543.2 740.7,1543.2 742.7,1543.2 744.7,1543.2 746.7,1543.3 748.7,1543.3 750.7,1543.0 752.7,1543.0 754.7,1543.2 756.7,1543.3 758.7,1543.2 760.7,1543.0 762.7,1542.9 764.7,1542.9 766.7,1543.1 768.7,1543.1 770.7,1542.9 772.7,1542.9 774.7,1542.9 776.7,1542.8 778.7,1542.6 780.7,1542.7 782.7,1543.0 784.7,1543.0 786.7,1542.7 788.7,1542.7 790.7,1542.8 792.7,1542.8 794.7,1542.8 796.7,1542.8 798.7,1542.8 800.7,1542.8 802.7,1542.8 804.7,1542.9 806.7,1542.9 808.7,1543.0 810.7,1543.1 812.7,1543.1 814.7,1543.0 816.7,1542.9 818.7,1542.9 820.7,1543.0 822.7,1542.9 824.7,1542.7 826.7,1542.8 828.7,1543.0 830.7,1543.1 832.7,1543.1 834.7,1542.9 836.7,1542.9 838.7,1542.8 840.7,1542.6 842.7,1542.6 844.7,1542.7 846.7,1542.8 848.7,1542.9 850.7,1543.0 852.7,1543.0 854.7,1542.8 856.7,1542.8 858.7,1542.9 860.7,1542.9 862.7,1543.0 864.7,1542.9 866.7,1542.8 868.7,1542.9 870.7,1542.9 872.7,1542.9 874.7,1542.8 876.7,1542.8 878.7,1542.9 880.7,1543.0 882.7,1543.0 884.7,1542.8 886.7,1542.7 888.7,1542.8 890.7,1542.9 892.7,1542.9 894.7,1543.1 896.7,1543.0 898.7,1542.7 900.7,1542.8 902.7,1542.9 904.7,1542.7 906.7,1542.6 908.7,1542.7 910.7,1542.8 912.7,1542.9 914.7,1542.9 916.7,1542.8 918.7,1543.0 920.7,1543.1 922.7,1543.0 924.7,1542.9 926.7,1542.9 928.7,1542.8 930.7,1542.6 932.7,1542.5 934.7,1542.6 936.7,1542.6 938.7,1542.6 940.7,1542.6 942.7,1542.7 944.7,1542.6 946.7,1542.5 948.7,1542.5 950.7,1542.7 952.7,1542.8 954.7,1542.8 956.7,1542.7 958.7,1542.7 960.7,1542.5 962.7,1542.4 964.7,1542.5 966.7,1542.7 968.7,1542.7 970.7,1542.6 972.7,1542.6 974.7,1542.6 976.7,1542.7 978.7,1542.7 980.7,1542.5 982.7,1542.4 984.7,1542.5 986.7,1542.5 988.7,1542.5 990.7,1542.6 992.7,1542.6 994.7,1542.5 996.7,1542.4 998.7,1542.4 1000.7,1542.4 1002.7,1542.5 1004.7,1542.5 1006.7,1542.5 1008.7,1542.5 1010.7,1542.5 1012.7,1542.4 1014.7,1542.4 1016.7,1542.5 1018.7,1542.5 1020.7,1542.4 1022.7,1542.4 1024.7,1542.4 1026.7,1542.4 1028.7,1542.5 1030.7,1542.4 1032.7,1542.3 1034.7,1542.4 1036.7,1542.2 1038.7,1542.3 1040.7,1542.4 1042.7,1542.4 1044.7,1542.4 1046.7,1542.4 1048.7,1542.3 1050.7,1542.4 1052.7,1542.3 1054.7,1542.3 1056.7,1542.3 1058.7,1542.2 1060.7,1542.0 1062.7,1542.1 1064.7,1542.4 1066.7,1542.3 1068.7,1542.0 1070.7,1542.0 1072.7,1542.0 1074.7,1541.9 1076.7,1541.7 1078.7,1541.5 1080.7,1541.5 1082.7,1541.6 1084.7,1541.4 1086.7,1541.3 1088.7,1541.1 1090.7,1540.9 1092.7,1540.8 1094.7,1540.8 1096.7,1540.7 1098.7,1540.7 1100.7,1540.6 1102.7,1540.3 1104.7,1540.1 1106.7,1540.2 1108.7,1540.1 1110.7,1539.9 1112.6,1539.8 1114.6,1539.6 1116.6,1539.5 1118.6,1539.4 1120.6,1539.3 1122.6,1539.1 1124.6,1538.7 1126.5,1538.6 1128.5,1538.4 1130.5,1538.1 1132.5,1537.7 1134.5,1537.4 1136.4,1537.1 1138.4,1536.9 1140.4,1536.6 1142.4,1536.2 1144.3,1535.9 1146.3,1535.5 1148.3,1535.1 1150.3,1534.9 1152.3,1534.7 1154.2,1534.3 1156.2,1533.8 1158.2,1533.4 1160.2,1533.1 1162.1,1532.8 1164.1,1532.5 1166.1,1532.3 1168.1,1532.0 1170.1,1531.6 1172.1,1531.4 1174.0,1531.1 1176.0,1530.8 1178.0,1530.5 1180.0,1530.1 1182.0,1529.9 1183.9,1529.7 1185.9,1529.5 1187.9,1529.2 1189.9,1528.8 1191.9,1528.6 1193.9,1528.3 1195.8,1527.9 1197.8,1527.8 1199.8,1527.6 1201.8,1527.2 1203.8,1526.8 1205.8,1526.5 1207.7,1526.3 1209.7,1526.1 1211.7,1525.8 1213.7,1525.5 1215.7,1525.3 1217.7,1525.1 1219.7,1524.9 1221.6,1524.6 1223.6,1524.5 1225.6,1524.5 1227.6,1524.2 1229.6,1524.1 1231.6,1524.0 1233.6,1523.9 1235.6,1523.7 1237.6,1523.5 1239.6,1523.3 1241.5,1523.2 1243.5,1523.1 1245.5,1523.1 1247.5,1523.0 1249.5,1523.0 1251.5,1523.0 1253.5,1522.9 1255.5,1522.9 1257.5,1522.7 1259.5,1522.5 1261.5,1522.5 1263.5,1522.5 1265.5,1522.4 1267.5,1522.0 1269.5,1521.9 1271.5,1521.8 1273.5,1521.8 1275.5,1521.9 1277.5,1521.9 1279.5,1521.8 1281.5,1521.5 1283.5,1521.5 1285.5,1521.5 1287.5,1521.2 1289.5,1521.0 1291.5,1521.0 1293.5,1521.2 1295.5,1521.4 1297.5,1521.2 1299.5,1521.2 1301.5,1521.2 1303.5,1521.0 1305.5,1520.9 1307.5,1521.0 1309.5,1520.9 1311.5,1520.7 1313.5,1520.7 1315.5,1520.9 1317.5,1520.8 1319.5,1520.8 1321.5,1520.8 1323.5,1520.7 1325.5,1520.6 1327.5,1520.6 1329.5,1520.5 1331.5,1520.5 1333.5,1520.4 1335.5,1520.5 1337.5,1520.6 1339.5,1520.6 1341.5,1520.5 1343.5,1520.6 1345.5,1520.7 1347.5,1520.6 1349.5,1520.5 1351.5,1520.4 1353.5,1520.4 1355.5,1520.4 1357.5,1520.3 1359.5,1520.3 1361.5,1520.3 1363.5,1520.3 1365.5,1520.3 1367.5,1520.5 1369.5,1520.5 1371.5,1520.5 1373.5,1520.5 1375.5,1520.5 1377.5,1520.5 1379.5,1520.3 1381.5,1520.4 1383.5,1520.4 1385.5,1520.3 1387.5,1520.2 1389.5,1520.2 1391.5,1520.2 1393.5,1520.4 1395.5,1520.4 1397.5,1520.3 1399.5,1520.3 1401.5,1520.2 1403.5,1520.1 1405.5,1520.2 1407.5,1520.3 1409.5,1520.3 1411.5,1520.3 1413.5,1520.3 1415.5,1520.3 1417.5,1520.4 1419.5,1520.3 1421.5,1520.1 1423.5,1520.1 1425.5,1520.1 1427.5,1520.1 1429.5,1520.2 1431.5,1520.3 1433.5,1520.4 1435.5,1520.2 1437.5,1520.1 1439.5,1520.2 1441.5,1520.2 1443.5,1520.2 1445.5,1520.2 1447.5,1520.1 1449.5,1520.1 1451.5,1520.0 1453.5,1520.0 1455.5,1520.1 1457.5,1520.2 1459.5,1520.2 1461.5,1520.1 1463.5,1520.1 1465.5,1520.3 1467.5,1520.3 1469.5,1520.1 1471.5,1520.0 1473.5,1520.2 1475.5,1520.1 1477.5,1520.0 1479.5,1520.2 1481.5,1520.2 1483.5,1520.2 1485.5,1520.2 1487.5,1520.1 1489.5,1520.0 1491.5,1520.2 1493.5,1520.2 1495.5,1520.2 1497.5,1520.3 1499.5,1520.3 1501.5,1520.2 1503.5,1520.1 1505.5,1520.1 1507.5,1520.2 1509.5,1520.1 1511.5,1520.0 1513.5,1520.1 1515.5,1520.1 1517.5,1520.0 1519.5,1520.0 1521.5,1520.2 1523.5,1520.3 1525.5,1520.3 1527.5,1520.1 1529.5,1520.1 1531.5,1520.2 1533.5,1520.1 1535.5,1520.1 1537.5,1520.2 1539.5,1520.2 1541.5,1520.1 1543.5,1520.2 1545.5,1520.2 1547.5,1520.2 1549.5,1520.3 1551.5,1520.2 1553.5,1520.1 1555.5,1520.2 1557.5,1520.3 1559.5,1520.2 1561.5,1520.1 1563.5,1520.1 1565.5,1520.3 1567.5,1520.3 1569.5,1520.2 1571.5,1520.4 1573.5,1520.5 1575.5,1520.4 1577.5,1520.3 1579.5,1520.3 1581.5,1520.4 1583.5,1520.4 1585.5,1520.2 1587.5,1520.0 1589.5,1520.0 1591.5,1520.2 1593.5,1520.2 1595.5,1520.3 1597.5,1520.4 1599.5,1520.3 1601.5,1520.4 1603.5,1520.3 1605.5,1520.3 1607.5,1520.5 1609.5,1520.5 1611.5,1520.4 1613.5,1520.4 1615.5,1520.4 1617.5,1520.3 1619.5,1520.4 1621.5,1520.5 1623.5,1520.3 1625.5,1520.3 1627.5,1520.5 1629.5,1520.4 1631.5,1520.4 1633.5,1520.4 1635.5,1520.4 1637.5,1520.4 1639.5,1520.5 1641.5,1520.6 1643.5,1520.7 1645.5,1520.7 1647.5,1520.7 1649.5,1520.7 1651.5,1520.6 1653.5,1520.7 1655.5,1520.8 1657.5,1520.8 1659.5,1520.7 1661.5,1520.7 1663.5,1520.6 1665.5,1520.6 1667.5,1520.7 1669.5,1520.7 1671.5,1520.7 1673.5,1520.9 1675.5,1521.0 1677.5,1521.0 1679.5,1520.9 1681.5,1520.8 1683.5,1520.9 1685.5,1521.2 1687.5,1521.2 1689.5,1521.1 1691.5,1521.0 1693.5,1521.0 1695.5,1521.2 1697.5,1521.4 1699.5,1521.5 1701.5,1521.6 1703.5,1521.5 1705.5,1521.4 1707.5,1521.3 1709.5,1521.5 1711.5,1521.7 1713.5,1522.0 1715.5,1522.2 1717.5,1522.2 1719.5,1522.2 1721.5,1522.2 1723.5,1522.2 1725.5,1522.4 1727.5,1522.5 1729.5,1522.7 1731.5,1522.6 1733.5,1522.6 1735.5,1522.9 1737.5,1523.3 1739.5,1523.4 1741.5,1523.2 1743.5,1523.3 1745.5,1523.5 1747.5,1523.6 1749.5,1523.6 1751.5,1523.5 1753.5,1523.6 1755.5,1523.9 1757.5,1524.0 1759.5,1524.2 1761.5,1524.2 1763.5,1524.2 1765.5,1524.2 1767.5,1524.2 1769.5,1524.3 1771.5,1524.3 1773.5,1524.3 1775.5,1524.2 1777.5,1524.3 1779.5,1524.4 1781.5,1524.3 1783.5,1524.1 1785.5,1524.0 1787.5,1524.1 1789.5,1524.2 1791.5,1524.1 1793.5,1523.9 1795.5,1524.0 1797.5,1524.1 1799.5,1524.1 1801.4,1524.1 1803.4,1524.0 1805.4,1523.9 1807.4,1523.9 1809.4,1523.8 1811.4,1523.7 1813.4,1523.7 1815.4,1523.8 1817.4,1523.8 1819.4,1523.8 1821.4,1523.9 1823.4,1523.9 1825.4,1523.9 1827.4,1523.9 1829.4,1523.9 1831.4,1523.7 1833.4,1523.7 1835.4,1523.7 1837.4,1523.7 1839.4,1523.5 1841.4,1523.2 1843.4,1523.3 1845.4,1523.4 1847.4,1523.3 1849.4,1523.2 1851.4,1523.2 1853.4,1523.2 1855.4,1523.3 1857.4,1523.3 1859.4,1523.2 1861.4,1523.1 1863.4,1522.9 1865.4,1522.8 1867.4,1522.8 1869.4,1522.8 1871.4,1522.8 1873.4,1522.9 1875.4,1522.9 1877.4,1522.8 1879.4,1522.8 1881.4,1522.6 1883.4,1522.6 1885.4,1522.7 1887.4,1522.5 1889.4,1522.2 1891.4,1522.3 1893.4,1522.4 1895.4,1522.2 1897.4,1522.2 1899.4,1522.2 1901.4,1522.3 1903.4,1522.2 1905.4,1522.0 1907.4,1522.0 1909.4,1522.2 1911.4,1522.2 1913.4,1522.1 1915.4,1522.0 1917.4,1521.8 1919.4,1521.6 1921.4,1521.6 1923.4,1521.5 1925.4,1521.4 1927.4,1521.5 1929.4,1521.7 1931.4,1521.7 1933.4,1521.5 1935.4,1521.4 1937.4,1521.4 1939.4,1521.3 1941.4,1521.3 1943.4,1521.4 1945.4,1521.3 1947.4,1521.0 1949.4,1520.8 1951.4,1520.9 1953.4,1521.0 1955.4,1520.9 1957.4,1520.8 1959.4,1520.8 1961.4,1520.8 1963.4,1520.9 1965.4,1520.8 1967.4,1520.8 1969.4,1520.8 1971.4,1520.7 1973.4,1520.6 1975.4,1520.4 1977.4,1520.4 1979.4,1520.6 1981.4,1520.6 1983.4,1520.5 1985.4,1520.4 1987.4,1520.5 1989.4,1520.4 1991.4,1520.3 1993.4,1520.3 1995.4,1520.2 1997.4,1520.3 1999.4,1520.5 2001.4,1520.4 2003.4,1520.3 2005.4,1520.3 2007.4,1520.2 2009.4,1520.0 2011.4,1519.9 2013.4,1520.0 2015.4,1520.1 2017.4,1520.2 2019.4,1520.2 2021.4,1520.0 2023.4,1519.9 2025.4,1519.9 2027.4,1520.0 2029.4,1520.0 2031.4,1520.0 2033.4,1519.9 2035.4,1519.9 2037.4,1520.0 2039.4,1520.0 2041.4,1520.0 2043.4,1519.9 2045.4,1519.9 2047.4,1520.0 2049.4,1519.9 2051.4,1519.9 2053.4,1519.9 2055.4,1519.9 2057.4,1519.9 2059.4,1520.1 2061.4,1520.3 2063.4,1520.3 2065.4,1520.3 2067.4,1520.3 2069.4,1520.3 2071.4,1520.4 2073.4,1520.4 2075.4,1520.4 2077.4,1520.5 2079.4,1520.7 2081.4,1520.8 2083.4,1520.9 2085.4,1520.8 2087.4,1520.6 2089.4,1520.8 2091.4,1521.1 2093.4,1521.1 2095.4,1521.0 2097.4,1521.2 2099.4,1521.3 2101.4,1521.3 2103.4,1521.2 2105.4,1521.2 2107.4,1521.1 2109.4,1521.4 2111.4,1521.6 2113.4,1521.7 2115.4,1521.9 2117.4,1522.2 2119.4,1522.4 2121.4,1522.2 2123.4,1521.8 2125.4,1521.6 2127.4,1521.6 2129.4,1521.9 2131.4,1522.5 2133.4,1522.7 2135.4,1522.7 2137.4,1522.8 2139.4,1522.6 2141.4,1522.5 2143.4,1522.4 2145.4,1522.4 2147.4,1522.7 2149.4,1522.9 2151.4,1522.8 2153.4,1522.4 2155.4,1522.7 2157.4,1523.9 2159.4,1524.0 2161.4,1523.6 2163.4,1523.4 2165.4,1523.3 2167.4,1523.2 2169.4,1523.1 2171.4,1523.8 2173.4,1524.3 2175.4,1524.3 2177.4,1524.5 2179.4,1524.9 2181.4,1525.6 2183.4,1524.7 2185.4,1522.9 2187.4,1523.6 2189.4,1525.0 2191.4,1524.8 2193.4,1524.3 2195.4,1524.8 2197.4,1526.1 2199.4,1526.6 2201.4,1525.7 2203.4,1524.6 2205.4,1525.0 2207.4,1525.7 2209.4,1524.1 2211.4,1523.5 2213.3,1525.9 2215.3,1526.0 2217.3,1524.5 2219.3,1525.1 2221.3,1526.0 2223.3,1526.5 2225.3,1527.4 2227.3,1526.9 2229.3,1525.2 2231.3,1525.4 2233.3,1526.7 2235.3,1526.7 2237.3,1526.2 2239.3,1526.2 2241.3,1525.8 2243.3,1525.3 2245.3,1524.8 2247.3,1526.4 2249.3,1528.6 2251.3,1527.8 2253.3,1524.6 2255.3,1523.2 2257.3,1525.5 2259.3,1527.2 2261.3,1526.8 2263.3,1525.8 2265.3,1524.9 2267.3,1524.6 2269.3,1524.3 2271.3,1524.4 2273.3,1525.9 2275.3,1527.6 2277.3,1527.0 2279.3,1525.9 2281.3,1525.6 2283.3,1525.3 2285.3,1525.7 2287.3,1525.8 2289.3,1525.5 2291.3,1526.0 2293.3,1526.7 2295.3,1527.0 2297.3,1526.5 2299.3,1526.2 2301.3,1526.4 2303.3,1526.2 2305.3,1525.3 2306.0,1525.7" fill="none" stroke="#006400" stroke-width="10.2" stroke-linecap="square" stroke-linejoin="round"/>
<path d="M360.7,1491.8 362.7,1491.5 364.7,1491.5 366.7,1491.6 368.7,1491.5 370.7,1491.4 372.7,1491.3 374.7,1491.4 376.7,1491.7 378.7,1492.0 380.7,1491.8 382.7,1491.4 384.7,1491.3 386.7,1491.2 388.7,1491.1 390.7,1491.2 392.7,1491.3 394.7,1491.3 396.7,1491.3 398.7,1491.2 400.7,1491.2 402.7,1491.3 404.7,1491.1 406.7,1490.9 408.7,1490.8 410.7,1491.0 412.7,1491.0 414.7,1490.7 416.7,1490.6 418.7,1490.6 420.7,1490.4 422.7,1490.3 424.7,1490.4 426.7,1490.4 428.7,1490.2 430.7,1489.9 432.7,1489.7 434.7,1489.8 436.7,1489.6 438.7,1489.4 440.7,1489.5 442.7,1489.5 444.6,1489.1 446.6,1488.8 448.6,1488.8 450.6,1488.7 452.6,1488.7 454.6,1488.4 456.6,1488.1 458.6,1487.9 460.6,1487.5 462.5,1487.1 464.5,1487.1 466.5,1486.9 468.5,1486.5 470.5,1486.2 472.5,1485.9 474.5,1485.6 476.5,1485.6 478.5,1485.5 480.5,1485.1 482.5,1485.0 484.4,1485.0 486.4,1484.8 488.4,1484.5 490.4,1484.5 492.4,1484.8 494.4,1484.6 496.4,1484.2 498.4,1484.2 500.4,1484.3 502.4,1484.3 504.4,1484.3 506.4,1484.1 508.4,1484.0 510.4,1484.0 512.4,1484.1 514.4,1484.0 516.4,1483.7 518.4,1483.6 520.4,1483.9 522.4,1484.0 524.4,1483.9 526.4,1483.8 528.4,1483.6 530.4,1483.3 532.4,1483.1 534.4,1483.2 536.4,1483.2 538.4,1482.9 540.4,1482.8 542.4,1482.8 544.4,1482.8 546.4,1482.7 548.4,1482.3 550.4,1482.1 552.4,1482.2 554.4,1482.4 556.4,1482.2 558.4,1481.9 560.4,1481.7 562.4,1481.6 564.4,1481.4 566.4,1481.3 568.3,1481.0 570.3,1480.8 572.3,1480.7 574.3,1480.5 576.3,1480.5 578.3,1480.5 580.3,1480.3 582.3,1479.7 584.3,1479.0 586.2,1478.7 588.2,1478.5 590.2,1478.2 592.2,1477.7 594.2,1477.7 596.1,1477.4 598.1,1476.6 600.0,1476.1 601.9,1475.8 603.9,1475.5 605.8,1475.2 607.8,1474.7 609.7,1474.0 611.7,1473.2 613.6,1472.7 615.5,1472.1 617.4,1471.3 619.2,1470.4 621.0,1469.3 622.7,1468.4 624.4,1467.7 626.1,1467.0 627.8,1465.9 629.4,1464.6 631.0,1463.4 632.6,1462.2 634.2,1460.7 635.7,1459.4 637.2,1458.3 638.7,1457.1 640.2,1455.4 641.6,1453.7 643.1,1452.1 644.5,1450.7 645.8,1449.5 647.2,1448.2 648.5,1446.7 649.7,1445.1 651.0,1443.6 652.2,1441.9 653.4,1440.1 654.6,1438.6 655.7,1437.0 656.8,1435.3 658.0,1433.6 659.1,1431.9 660.2,1430.4 661.3,1428.8 662.4,1427.0 663.5,1425.4 664.6,1423.8 665.8,1422.3 666.9,1420.5 668.1,1418.6 669.2,1417.0 670.5,1415.5 671.7,1413.9 672.9,1412.5 674.1,1410.9 675.3,1409.2 676.5,1407.4 677.6,1405.7 678.8,1403.9 680.1,1402.1 681.3,1400.5 682.5,1398.9 683.8,1397.6 685.0,1396.1 686.3,1394.5 687.7,1392.8 689.0,1391.2 690.4,1390.0 691.9,1388.8 693.3,1387.5 694.8,1386.5 696.4,1385.6 698.1,1384.7 699.9,1383.7 701.6,1382.7 703.5,1381.7 705.4,1380.7 707.3,1379.9 709.2,1379.2 711.1,1378.7 713.0,1378.2 715.0,1377.5 716.9,1377.0 718.8,1376.5 720.7,1375.7 722.6,1375.0 724.5,1374.2 726.5,1373.5 728.5,1373.0 730.4,1372.4 732.4,1372.1 734.4,1371.8 736.4,1371.4 738.3,1371.0 740.3,1370.6 742.2,1370.6 744.1,1370.5 746.1,1370.7 748.0,1371.1 750.0,1371.5 751.9,1372.0 753.9,1372.6 755.8,1373.3 757.7,1374.0 759.6,1374.9 761.4,1376.0 763.2,1377.1 765.0,1377.9 766.7,1378.5 768.3,1379.6 769.9,1380.7 771.5,1381.9 773.1,1383.2 774.6,1384.4 776.1,1385.6 777.6,1387.1 779.1,1388.6 780.6,1390.0 782.2,1391.3 783.7,1392.8 785.2,1394.2 786.8,1395.2 788.4,1396.4 790.0,1397.7 791.6,1399.1 793.2,1400.5 794.8,1401.6 796.4,1402.6 798.0,1403.8 799.6,1405.3 801.2,1406.7 802.9,1407.7 804.5,1408.7 806.2,1409.9 807.9,1411.0 809.6,1412.1 811.3,1412.8 813.1,1413.6 814.8,1414.5 816.6,1415.2 818.4,1416.0 820.3,1416.9 822.1,1417.6 824.0,1418.2 825.9,1418.8 827.8,1419.5 829.7,1420.4 831.6,1421.2 833.5,1421.9 835.4,1422.6 837.3,1423.1 839.3,1423.6 841.2,1424.3 843.1,1424.8 845.0,1425.3 847.0,1426.0 848.9,1426.6 850.8,1427.0 852.7,1427.4 854.7,1428.1 856.6,1428.6 858.6,1428.9 860.5,1429.2 862.5,1429.7 864.4,1430.2 866.4,1430.4 868.3,1431.1 870.2,1431.8 872.2,1432.3 874.1,1433.0 876.0,1433.6 877.9,1434.1 879.7,1434.7 881.6,1435.3 883.5,1436.2 885.4,1437.1 887.3,1437.8 889.2,1438.6 891.0,1439.3 892.9,1440.0 894.8,1440.4 896.7,1440.7 898.6,1441.5 900.5,1442.2 902.4,1442.5 904.4,1443.0 906.3,1443.5 908.2,1443.8 910.2,1443.9 912.2,1444.4 914.2,1444.9 916.2,1445.1 918.2,1445.5 920.2,1445.8 922.2,1445.7 924.2,1445.7 926.2,1445.8 928.2,1446.3 930.2,1446.7 932.2,1447.0 934.2,1447.1 936.1,1447.4 938.1,1447.6 940.0,1447.9 942.0,1448.2 943.9,1448.5 945.8,1449.0 947.7,1449.7 949.6,1450.3 951.4,1451.1 953.3,1452.0 955.2,1452.9 957.0,1454.0 958.9,1454.6 960.8,1455.1 962.6,1455.9 964.5,1456.7 966.3,1457.4 968.2,1458.2 970.1,1458.7 972.0,1459.2 973.8,1460.1 975.7,1461.0 977.6,1461.6 979.6,1462.0 981.5,1462.6 983.4,1463.4 985.3,1463.9 987.2,1464.6 989.1,1465.4 991.1,1465.9 993.0,1466.3 994.9,1466.9 996.9,1467.5 998.8,1467.9 1000.7,1468.5 1002.7,1469.2 1004.6,1469.7 1006.6,1469.7 1008.5,1469.9 1010.5,1470.4 1012.5,1470.6 1014.4,1470.9 1016.4,1471.3 1018.4,1471.5 1020.4,1471.6 1022.4,1471.6 1024.4,1471.6 1026.4,1472.1 1028.4,1472.6 1030.4,1472.7 1032.4,1472.6 1034.4,1472.8 1036.4,1473.2 1038.4,1473.3 1040.4,1473.3 1042.4,1473.5 1044.4,1473.6 1046.4,1473.6 1048.3,1473.5 1050.3,1473.5 1052.3,1473.1 1054.3,1472.6 1056.3,1472.1 1058.2,1471.8 1060.2,1471.5 1062.2,1471.0 1064.1,1470.4 1065.9,1469.8 1067.7,1468.9 1069.3,1467.7 1070.8,1466.0 1072.2,1464.4 1073.6,1463.2 1075.0,1462.0 1076.4,1460.4 1077.6,1458.8 1078.9,1457.1 1080.1,1455.4 1081.2,1453.8 1082.3,1452.4 1083.3,1450.6 1084.3,1448.6 1085.2,1446.8 1086.1,1445.2 1087.0,1443.6 1087.8,1441.7 1088.6,1439.8 1089.3,1438.1 1089.9,1436.4 1090.6,1434.4 1091.2,1432.5 1091.8,1430.6 1092.4,1428.6 1093.0,1426.5 1093.6,1424.6 1094.2,1422.8 1094.7,1421.0 1095.3,1419.0 1095.9,1416.8 1096.5,1415.0 1097.0,1413.2 1097.6,1411.2 1098.2,1409.3 1098.7,1407.5 1099.2,1405.4 1099.8,1403.4 1100.3,1401.5 1100.8,1399.8 1101.3,1397.9 1101.8,1395.8 1102.3,1393.8 1102.8,1391.9 1103.2,1389.9 1103.7,1387.7 1104.2,1385.7 1104.7,1383.9 1105.1,1381.9 1105.6,1380.0 1106.1,1378.2 1106.6,1376.3 1107.1,1374.3 1107.6,1372.3 1108.2,1370.3 1108.7,1368.4 1109.2,1366.3 1109.7,1364.4 1110.2,1362.7 1110.6,1360.7 1110.9,1358.6 1111.2,1356.7 1111.5,1354.9 1111.8,1352.9 1112.1,1351.0 1112.3,1349.0 1112.5,1346.8 1112.8,1344.8 1113.1,1342.9 1113.3,1341.2 1113.6,1339.3 1113.9,1337.3 1114.2,1335.1 1114.5,1333.1 1114.8,1331.1 1115.2,1329.2 1115.5,1327.3 1115.8,1325.3 1116.1,1323.1 1116.5,1321.1 1116.8,1319.3 1117.1,1317.7 1117.5,1315.8 1117.8,1313.5 1118.2,1311.2 1118.5,1309.1 1118.9,1307.3 1119.3,1305.4 1119.6,1303.4 1120.0,1301.4 1120.3,1299.3 1120.7,1297.4 1121.1,1295.5 1121.4,1293.5 1121.8,1291.8 1122.2,1289.8 1122.5,1287.5 1122.9,1285.5 1123.3,1283.8 1123.6,1281.8 1124.0,1279.7 1124.3,1277.8 1124.7,1275.9 1125.1,1274.0 1125.4,1272.1 1125.8,1270.3 1126.1,1268.5 1126.5,1266.5 1126.8,1264.4 1127.2,1262.5 1127.5,1260.5 1127.9,1258.3 1128.2,1256.2 1128.6,1254.3 1128.9,1252.5 1129.2,1250.6 1129.6,1248.5 1129.9,1246.5 1130.2,1244.6 1130.5,1242.7 1130.8,1240.6 1131.1,1238.5 1131.4,1236.5 1131.7,1234.5 1132.0,1232.5 1132.3,1230.6 1132.6,1228.8 1132.9,1226.9 1133.2,1224.7 1133.5,1222.6 1133.8,1220.7 1134.1,1218.7 1134.4,1216.5 1134.6,1214.6 1134.9,1212.7 1135.2,1210.9 1135.5,1208.8 1135.8,1206.7 1136.0,1204.7 1136.3,1203.0 1136.6,1201.2 1136.9,1199.1 1137.1,1197.0 1137.4,1194.9 1137.7,1192.8 1137.9,1190.8 1138.2,1188.9 1138.5,1187.0 1138.7,1185.0 1139.0,1182.9 1139.3,1181.3 1139.5,1179.4 1139.8,1177.2 1140.1,1175.2 1140.3,1173.3 1140.6,1171.2 1140.8,1169.1 1141.1,1167.3 1141.4,1165.3 1141.6,1163.4 1141.9,1161.3 1142.1,1159.2 1142.4,1157.3 1142.7,1155.3 1142.9,1153.2 1143.2,1151.2 1143.4,1149.1 1143.7,1147.1 1144.0,1145.5 1144.2,1143.6 1144.5,1141.5 1144.7,1139.5 1145.0,1137.4 1145.3,1135.5 1145.5,1133.8 1145.8,1131.6 1146.0,1129.0 1146.3,1126.8 1146.6,1125.2 1146.8,1123.6 1147.1,1121.6 1147.3,1119.6 1147.6,1117.6 1147.8,1115.5 1148.1,1113.7 1148.4,1111.8 1148.6,1109.8 1148.9,1107.7 1149.1,1105.7 1149.4,1103.7 1149.6,1101.8 1149.9,1100.1 1150.1,1098.2 1150.4,1095.7 1150.6,1093.4 1150.9,1091.6 1151.2,1089.9 1151.4,1088.1 1151.7,1086.0 1151.9,1083.8 1152.2,1081.8 1152.4,1079.9 1152.6,1077.9 1152.9,1076.0 1153.1,1074.1 1153.4,1072.1 1153.6,1070.2 1153.9,1068.2 1154.1,1066.1 1154.4,1064.0 1154.6,1062.0 1154.8,1060.1 1155.1,1058.2 1155.3,1056.3 1155.5,1054.1 1155.8,1051.9 1156.0,1049.9 1156.3,1048.1 1156.5,1046.2 1156.7,1044.2 1156.9,1042.3 1157.2,1040.3 1157.4,1038.1 1157.6,1036.0 1157.9,1034.2 1158.1,1032.2 1158.3,1030.1 1158.5,1028.4 1158.7,1026.6 1159.0,1024.5 1159.2,1022.6 1159.4,1020.8 1159.6,1018.6 1159.8,1016.3 1160.0,1014.3 1160.2,1012.3 1160.4,1010.2 1160.7,1008.1 1160.9,1006.3 1161.1,1004.4 1161.3,1002.4 1161.5,1000.5 1161.7,998.5 1161.9,996.4 1162.1,994.4 1162.3,992.6 1162.5,990.7 1162.7,988.6 1162.9,986.7 1163.2,984.6 1163.4,982.6 1163.6,980.7 1163.8,978.6 1164.0,976.6 1164.2,974.6 1164.4,972.5 1164.6,970.4 1164.8,968.5 1165.1,966.7 1165.3,964.7 1165.5,962.6 1165.7,960.6 1165.9,958.6 1166.1,956.4 1166.4,954.4 1166.6,952.5 1166.8,950.5 1167.0,948.5 1167.2,946.6 1167.4,944.7 1167.6,942.8 1167.8,941.1 1168.0,939.1 1168.3,937.0 1168.5,934.8 1168.7,932.6 1168.9,930.5 1169.1,928.5 1169.3,926.4 1169.5,924.7 1169.7,923.0 1169.9,921.2 1170.2,919.1 1170.4,916.9 1170.6,914.8 1170.8,912.9 1171.0,911.0 1171.2,909.0 1171.5,907.3 1171.7,905.5 1171.9,903.5 1172.1,901.4 1172.4,899.2 1172.6,897.1 1172.8,895.3 1173.1,893.4 1173.3,891.1 1173.5,888.9 1173.8,886.9 1174.0,885.0 1174.3,883.2 1174.5,881.1 1174.8,878.9 1175.0,876.9 1175.3,875.2 1175.6,873.4 1175.8,871.4 1176.1,869.2 1176.4,867.2 1176.7,865.4 1177.0,863.4 1177.3,861.4 1177.6,859.3 1177.9,857.1 1178.2,855.2 1178.5,853.4 1178.8,851.6 1179.1,849.7 1179.5,847.5 1179.8,845.3 1180.1,843.4 1180.4,841.6 1180.8,839.5 1181.1,837.3 1181.4,835.4 1181.8,833.7 1182.1,831.8 1182.4,829.6 1182.8,827.6 1183.1,825.7 1183.4,823.5 1183.8,821.7 1184.1,820.2 1184.4,818.1 1184.7,815.9 1185.1,813.9 1185.4,812.0 1185.7,809.9 1186.0,808.0 1186.3,806.0 1186.6,804.0 1186.9,802.0 1187.2,799.9 1187.5,797.9 1187.8,796.1 1188.0,794.1 1188.3,792.3 1188.6,790.4 1188.9,788.2 1189.1,786.1 1189.4,784.1 1189.7,782.3 1189.9,780.4 1190.2,778.4 1190.5,776.4 1190.7,774.3 1191.0,772.3 1191.2,770.4 1191.5,768.3 1191.8,766.5 1192.0,764.6 1192.3,762.4 1192.6,760.3 1192.8,758.2 1193.1,756.2 1193.3,754.2 1193.6,752.3 1193.9,750.5 1194.1,748.7 1194.4,746.9 1194.7,744.8 1194.9,742.8 1195.2,740.7 1195.5,738.6 1195.8,736.4 1196.1,734.4 1196.3,732.7 1196.6,731.0 1196.9,728.9 1197.2,726.9 1197.5,725.0 1197.8,722.8 1198.0,720.6 1198.3,718.6 1198.6,716.6 1198.9,715.0 1199.2,713.2 1199.5,711.0 1199.8,708.8 1200.1,706.8 1200.3,704.8 1200.6,702.8 1200.9,701.0 1201.2,699.2 1201.5,697.3 1201.8,695.1 1202.1,692.9 1202.4,690.9 1202.7,689.3 1203.0,687.4 1203.3,685.1 1203.6,683.2 1203.9,681.3 1204.1,679.4 1204.4,677.4 1204.7,675.3 1205.0,673.4 1205.3,671.4 1205.6,669.3 1205.9,666.9 1206.2,664.8 1206.4,663.0 1206.7,661.2 1207.0,659.5 1207.3,657.7 1207.6,655.6 1207.9,653.5 1208.2,651.7 1208.5,649.7 1208.7,647.7 1209.0,645.8 1209.3,643.9 1209.6,641.9 1209.9,639.9 1210.2,637.8 1210.5,635.8 1210.8,633.7 1211.2,631.5 1211.5,629.7 1211.8,627.8 1212.1,625.8 1212.4,623.8 1212.8,621.9 1213.1,620.2 1213.4,618.4 1213.8,616.3 1214.1,614.4 1214.5,612.5 1214.9,610.5 1215.2,608.2 1215.6,606.1 1216.0,604.3 1216.4,602.3 1216.7,600.1 1217.1,598.1 1217.5,596.1 1217.9,594.2 1218.3,592.4 1218.7,590.7 1219.1,588.6 1219.5,586.3 1219.9,584.2 1220.3,582.3 1220.7,580.4 1221.1,578.6 1221.6,576.7 1222.0,574.7 1222.4,572.8 1222.8,571.1 1223.2,569.3 1223.7,567.3 1224.1,565.2 1224.5,563.2 1224.9,561.1 1225.3,559.1 1225.7,557.2 1226.2,555.2 1226.6,553.1 1227.0,551.1 1227.5,549.4 1227.9,547.4 1228.4,545.3 1228.8,543.4 1229.3,541.6 1229.8,539.7 1230.3,537.6 1230.8,535.7 1231.3,534.0 1231.9,532.2 1232.4,530.1 1233.0,527.8 1233.6,525.8 1234.2,524.2 1234.8,522.6 1235.4,520.7 1236.1,518.7 1236.8,516.6 1237.5,514.6 1238.2,513.0 1238.9,511.2 1239.7,509.3 1240.4,507.3 1241.3,505.5 1242.1,503.8 1243.0,502.1 1244.0,500.2 1245.0,498.4 1246.0,496.8 1247.0,495.2 1247.9,493.3 1248.9,491.4 1249.9,489.5 1250.8,487.9 1251.8,486.2 1252.8,484.3 1253.8,482.5 1254.7,481.0 1255.6,479.3 1256.3,477.4 1256.9,475.6 1257.4,473.8 1257.9,471.8 1258.3,469.9 1258.8,467.9 1259.2,466.0 1259.5,463.9 1259.8,461.7 1260.0,459.7 1260.2,457.5 1260.3,455.3 1260.4,453.0 1260.4,450.4 1260.5,447.8 1260.5,445.5 1260.6,443.9 1260.7,442.7 1261.0,442.4 1262.4,443.1 1264.7,444.0 1267.1,444.8 1269.1,445.5 1271.1,446.2 1273.0,446.6 1275.0,446.7 1277.0,446.8 1278.9,446.7 1280.9,446.1 1282.8,445.6 1284.8,445.4 1286.7,445.2 1288.7,444.8 1290.6,444.1 1292.5,443.1 1294.4,442.4 1296.3,441.8 1298.2,441.0 1300.1,440.4 1302.0,439.8 1303.8,439.1 1305.7,438.3 1307.5,437.6 1309.3,436.9 1311.2,436.0 1313.0,435.1 1314.9,434.6 1316.7,433.9 1318.6,433.1 1320.5,432.3 1322.4,431.6 1324.3,431.0 1326.2,430.3 1328.0,429.8 1329.9,429.0 1331.8,428.2 1333.7,427.6 1335.6,427.2 1337.6,426.6 1339.5,425.8 1341.4,425.2 1343.3,424.5 1345.2,423.8 1347.1,423.3 1349.0,423.0 1351.0,422.4 1352.9,421.7 1354.8,421.3 1356.7,421.0 1358.7,420.6 1360.6,419.8 1362.5,419.2 1364.5,418.7 1366.4,418.4 1368.3,417.7 1370.3,417.0 1372.2,416.5 1374.1,416.0 1376.1,415.3 1378.0,414.7 1380.0,413.9 1381.9,413.4 1383.9,413.0 1385.8,412.4 1387.8,411.9 1389.7,411.6 1391.7,411.0 1393.7,410.4 1395.6,410.0 1397.6,409.9 1399.6,409.7 1401.5,409.3 1403.5,409.0 1405.5,408.6 1407.4,408.4 1409.4,408.4 1411.4,408.5 1413.3,408.5 1415.3,408.6 1417.3,409.0 1419.3,409.0 1421.3,409.1 1423.2,409.5 1425.2,409.7 1427.2,409.7 1429.2,409.6 1431.2,410.0 1433.2,410.6 1435.2,410.8 1437.2,410.8 1439.2,411.2 1441.2,411.8 1443.2,412.2 1445.2,412.2 1447.1,412.4 1449.1,412.6 1451.1,412.7 1453.1,413.0 1455.1,413.4 1457.1,413.7 1459.1,413.9 1461.1,413.9 1463.1,413.9 1465.1,414.0 1467.1,413.8 1469.1,413.9 1471.1,414.1 1473.1,414.0 1475.1,414.0 1477.1,414.0 1479.1,413.9 1481.1,414.1 1483.1,414.1 1485.1,414.1 1487.1,414.0 1489.1,413.8 1491.1,413.6 1493.1,413.7 1495.1,413.9 1497.1,414.1 1499.1,414.1 1501.1,413.9 1503.1,414.1 1505.1,414.3 1507.1,414.3 1509.1,414.2 1511.1,414.1 1513.1,414.0 1515.1,414.0 1517.1,414.1 1519.1,414.1 1521.1,414.0 1523.1,413.7 1525.1,413.5 1527.1,413.6 1529.1,413.9 1531.1,414.3 1533.1,414.2 1535.1,413.8 1537.1,413.8 1539.1,414.0 1541.1,414.0 1543.1,413.9 1545.1,414.1 1547.1,414.2 1549.1,414.2 1551.1,414.1 1553.1,414.0 1555.1,413.8 1557.2,413.5 1559.2,413.4 1561.2,413.3 1563.2,413.3 1565.2,412.9 1567.2,412.7 1569.2,412.9 1571.2,413.0 1573.2,412.9 1575.2,412.5 1577.2,411.9 1579.2,411.7 1581.1,411.6 1583.1,411.3 1585.1,411.0 1587.0,411.0 1588.9,410.8 1590.9,410.3 1592.8,410.0 1594.7,409.5 1596.5,408.8 1598.4,408.1 1600.3,407.2 1602.1,406.3 1604.0,405.3 1605.9,404.4 1607.7,403.7 1609.6,402.7 1611.5,401.9 1613.4,401.4 1615.3,400.8 1617.2,400.6 1619.1,400.4 1621.1,400.1 1623.1,399.8 1625.1,399.7 1627.1,399.4 1629.1,398.9 1631.1,398.8 1633.1,399.0 1635.1,398.8 1637.1,398.4 1639.0,398.5 1641.0,398.9 1642.9,399.2 1644.8,399.7 1646.8,400.2 1648.7,400.6 1650.6,401.1 1652.5,402.0 1654.4,402.8 1656.3,403.4 1658.2,404.2 1660.1,405.1 1661.9,405.7 1663.8,406.3 1665.7,406.9 1667.6,407.8 1669.5,408.9 1671.4,409.9 1673.3,410.7 1675.2,411.4 1677.1,411.9 1679.0,412.3 1680.9,412.8 1682.9,413.5 1684.8,414.2 1686.7,414.6 1688.6,415.1 1690.3,415.8 1692.0,416.8 1693.7,418.0 1695.4,419.2 1697.0,420.6 1698.5,422.0 1700.1,423.4 1701.6,424.7 1703.0,425.7 1704.5,427.0 1705.9,428.8 1707.3,430.5 1708.7,432.0 1710.0,433.3 1711.4,434.7 1712.7,436.1 1713.9,437.5 1715.2,439.1 1716.4,440.8 1717.6,442.5 1718.7,444.2 1719.9,445.5 1721.0,447.2 1722.1,449.0 1723.2,450.5 1724.3,452.0 1725.4,453.7 1726.5,455.6 1727.5,457.6 1728.6,459.4 1729.6,460.9 1730.6,462.6 1731.6,464.5 1732.6,466.1 1733.6,467.7 1734.6,469.5 1735.6,471.4 1736.5,473.3 1737.5,475.0 1738.4,476.8 1739.3,478.7 1740.2,480.2 1741.0,482.0 1741.9,484.1 1742.7,486.1 1743.5,487.9 1744.2,489.8 1745.0,491.8 1745.8,493.8 1746.6,495.7 1747.3,497.6 1748.1,499.4 1748.9,501.2 1749.7,503.3 1750.5,505.2 1751.3,507.1 1752.2,508.8 1753.1,510.5 1754.0,512.2 1754.9,513.7 1755.9,515.2 1756.9,516.7 1758.0,518.3 1759.1,519.8 1760.2,521.4 1761.4,523.0 1762.7,524.5 1764.0,526.1 1765.4,527.5 1766.9,528.9 1768.3,530.5 1769.9,531.9 1771.4,533.2 1773.0,534.7 1774.7,536.3 1776.4,537.7 1778.1,539.1 1779.8,540.4 1781.6,541.7 1783.3,542.9 1785.1,544.1 1787.0,545.3 1788.8,546.3 1790.6,547.2 1792.5,548.4 1794.4,549.5 1796.2,550.3 1798.1,550.9 1800.0,551.4 1801.8,551.8 1803.7,552.1 1805.5,552.5 1807.4,552.9 1809.2,553.0 1811.0,552.9 1812.9,552.7 1814.8,552.4 1816.8,552.1 1818.8,552.0 1820.8,551.8 1822.8,551.1 1824.8,550.4 1826.8,550.2 1828.9,549.7 1830.9,548.9 1832.9,548.3 1834.9,547.8 1836.8,547.4 1838.7,546.7 1840.6,546.1 1842.4,545.7 1844.2,545.0 1846.0,544.2 1847.7,543.5 1849.4,542.8 1851.1,542.1 1852.8,541.0 1854.5,539.7 1856.1,538.5 1857.8,537.4 1859.4,536.3 1861.0,535.2 1862.6,534.0 1864.2,532.9 1865.8,531.5 1867.3,530.1 1868.9,528.7 1870.5,527.1 1872.0,525.8 1873.6,524.7 1875.1,523.4 1876.7,522.0 1878.2,520.6 1879.8,519.2 1881.4,517.7 1882.9,516.2 1884.5,515.0 1886.1,513.9 1887.7,512.6 1889.3,511.4 1890.9,510.5 1892.5,509.3 1894.1,507.9 1895.7,506.6 1897.3,505.3 1898.9,504.1 1900.5,503.0 1902.1,501.8 1903.6,500.6 1905.2,499.4 1906.8,498.3 1908.4,497.2 1910.0,495.7 1911.6,494.2 1913.1,493.0 1914.7,491.6 1916.3,490.3 1917.9,489.3 1919.5,488.1 1921.2,487.0 1922.8,485.9 1924.4,484.6 1926.0,483.4 1927.7,482.5 1929.3,481.5 1931.0,480.3 1932.7,478.9 1934.3,477.9 1936.0,477.2 1937.7,476.5 1939.5,475.5 1941.2,474.4 1942.9,473.4 1944.7,472.2 1946.4,471.2 1948.2,470.2 1950.0,469.0 1951.7,468.1 1953.5,467.2 1955.3,466.1 1957.1,465.4 1958.9,464.6 1960.8,463.6 1962.6,462.5 1964.4,461.7 1966.3,461.1 1968.1,460.2 1970.0,459.2 1971.8,458.6 1973.7,458.0 1975.6,457.3 1977.4,456.8 1979.3,456.4 1981.2,455.6 1983.1,454.8 1985.0,454.3 1986.9,454.0 1988.8,453.8 1990.8,453.2 1992.7,452.5 1994.7,452.1 1996.6,451.9 1998.6,451.5 2000.6,451.1 2002.6,450.7 2004.6,450.4 2006.6,450.1 2008.6,449.9 2010.6,449.5 2012.6,449.2 2014.6,449.0 2016.6,448.8 2018.6,448.5 2020.6,448.5 2022.6,448.7 2024.6,448.7 2026.5,448.6 2028.5,448.6 2030.5,448.7 2032.5,448.9 2034.5,449.1 2036.5,449.5 2038.5,449.8 2040.5,449.9 2042.4,450.2 2044.4,450.6 2046.4,451.2 2048.4,451.7 2050.3,452.1 2052.3,452.4 2054.3,453.0 2056.2,453.7 2058.2,454.1 2060.1,454.4 2062.0,454.9 2063.9,455.4 2065.9,455.9 2067.8,456.5 2069.7,457.1 2071.6,457.7 2073.5,458.4 2075.4,459.2 2077.3,460.0 2079.1,460.7 2081.0,461.4 2082.8,462.3 2084.6,463.3 2086.4,464.3 2088.1,465.2 2089.9,466.1 2091.6,466.9 2093.3,467.7 2095.1,468.8 2096.8,469.8 2098.5,471.1 2100.2,472.3 2101.9,473.3 2103.5,474.7 2105.2,476.3 2106.8,477.3 2108.4,478.3 2110.0,479.6 2111.6,480.7 2113.1,481.9 2114.6,482.9 2116.1,483.9 2117.5,485.7 2119.0,486.7 2120.4,487.8 2121.8,489.9 2123.2,491.1 2124.7,492.1 2126.1,493.6 2127.5,494.8 2128.8,495.8 2130.2,497.1 2131.5,499.3 2132.9,501.8 2134.2,503.7 2135.4,505.6 2136.7,507.4 2137.9,508.3 2139.1,509.1 2140.3,511.7 2141.4,514.5 2142.4,515.7 2143.5,516.7 2144.5,518.3 2145.4,520.2 2146.3,522.1 2147.2,523.4 2148.0,524.6 2148.7,525.7 2149.4,527.8 2150.1,531.1 2150.8,534.1 2151.4,535.9 2152.1,536.6 2152.7,537.9 2153.3,541.0 2153.9,542.5 2154.5,543.4 2155.2,546.6 2155.8,550.2 2156.5,551.7 2157.2,550.9 2157.9,552.1 2158.7,554.8 2159.5,555.3 2160.4,556.5 2161.3,558.4 2162.3,559.4 2163.4,561.0 2164.5,564.9 2165.7,568.8 2167.0,570.6 2168.3,571.3 2169.6,573.0 2171.0,575.8 2172.4,577.7 2173.8,577.4 2175.3,576.7 2176.7,577.8 2178.2,579.3 2179.8,581.5 2181.6,582.5 2183.3,582.3 2185.1,585.2 2187.0,588.4 2188.8,589.2 2190.5,588.6 2192.2,587.4 2193.7,587.2 2195.1,588.9 2196.4,593.1 2197.6,596.9 2198.8,597.6 2199.9,596.6 2200.9,597.2 2201.9,600.1 2202.9,600.5 2203.9,598.7 2204.8,600.5 2205.7,604.7 2206.6,609.2 2207.5,613.8 2208.4,614.1 2209.3,612.9 2210.2,616.8 2211.1,620.7 2212.1,621.3 2213.1,623.6 2214.1,627.3 2215.1,629.8 2216.2,629.7 2217.4,629.6 2218.6,631.5 2219.8,633.9 2221.1,635.7 2222.4,638.1 2223.7,640.5 2225.1,640.4 2226.5,639.9 2227.9,640.5 2229.3,642.3 2230.7,644.4 2232.2,646.6 2233.6,648.2 2235.1,647.2 2236.6,648.5 2238.1,652.0 2239.6,652.2 2241.1,653.2 2242.6,657.3 2244.1,656.5 2245.5,653.1 2247.0,656.7 2248.5,662.4 2249.9,663.7 2251.4,664.5 2252.9,666.3 2254.4,665.7 2255.9,666.2 2257.4,668.6 2258.9,670.7 2260.5,673.6 2262.0,675.1 2263.5,676.0 2265.0,677.0 2266.6,676.2 2268.1,678.3 2269.6,682.2 2271.1,683.2 2272.6,683.4 2274.0,683.0 2275.5,683.4 2276.9,685.5 2278.3,687.1 2279.7,688.2 2281.1,690.4 2282.4,693.9 2283.8,696.0 2285.2,696.4 2286.5,698.1 2287.8,698.7 2289.1,696.3 2290.4,698.0 2291.7,704.8 2293.0,707.5 2294.3,706.7 2295.6,706.4 2296.9,705.4 2298.1,706.5 2299.3,709.2 2300.6,711.2 2301.8,714.1 2303.0,715.9 2304.2,719.4 2305.4,725.0 2306.0,725.5" fill="none" stroke="#ffd700" stroke-width="10.2" stroke-linecap="square" stroke-linejoin="round"/>
<path d="M360.7,1341.6 362.6,1340.8 364.5,1339.9 366.4,1339.2 368.2,1338.8 370.1,1338.1 372.0,1337.2 373.8,1336.1 375.7,1335.3 377.5,1334.8 379.3,1334.3 381.2,1333.6 383.0,1332.5 384.8,1331.1 386.6,1330.2 388.4,1329.6 390.1,1329.0 391.9,1328.1 393.7,1327.1 395.4,1326.2 397.2,1325.2 398.9,1324.2 400.7,1323.1 402.4,1322.0 404.1,1321.0 405.8,1320.0 407.5,1318.8 409.2,1317.8 410.8,1316.8 412.5,1315.6 414.2,1314.5 415.8,1313.4 417.5,1312.4 419.1,1311.4 420.8,1310.2 422.4,1309.0 424.1,1307.6 425.7,1306.5 427.4,1305.4 429.1,1304.1 430.7,1303.1 432.4,1302.1 434.1,1301.0 435.7,1300.2 437.4,1299.3 439.0,1297.9 440.7,1296.7 442.3,1295.6 444.0,1294.5 445.6,1293.1 447.2,1292.0 448.9,1291.1 450.5,1289.8 452.2,1288.4 453.8,1286.9 455.4,1285.6 457.1,1284.7 458.7,1283.8 460.4,1282.7 462.0,1281.6 463.7,1280.6 465.4,1279.4 467.0,1278.3 468.7,1277.1 470.4,1276.1 472.1,1275.0 473.8,1274.1 475.5,1273.2 477.3,1272.3 479.0,1271.4 480.8,1270.6 482.5,1269.5 484.3,1268.3 486.1,1267.3 487.8,1266.5 489.6,1265.8 491.4,1265.1 493.3,1264.3 495.1,1263.4 496.9,1262.6 498.7,1261.6 500.5,1260.3 502.4,1259.4 504.2,1258.8 506.1,1258.3 507.9,1257.7 509.8,1257.1 511.7,1256.4 513.5,1255.4 515.4,1254.4 517.3,1253.7 519.1,1253.1 521.0,1252.2 522.9,1251.6 524.8,1251.4 526.6,1250.7 528.5,1249.6 530.4,1248.9 532.4,1248.2 534.3,1247.5 536.2,1247.2 538.2,1247.0 540.1,1246.6 542.1,1246.2 544.1,1245.7 546.0,1245.0 548.0,1244.6 550.0,1244.3 551.9,1243.7 553.8,1242.9 555.8,1242.3 557.7,1241.9 559.6,1241.4 561.4,1240.8 563.3,1240.1 565.1,1239.4 566.9,1238.6 568.7,1237.8 570.5,1236.8 572.2,1235.9 574.0,1235.0 575.7,1234.0 577.4,1233.0 579.1,1232.1 580.8,1231.2 582.5,1230.3 584.2,1229.1 585.8,1227.7 587.5,1226.4 589.2,1225.1 590.9,1224.1 592.6,1223.3 594.3,1222.2 596.0,1221.0 597.7,1220.1 599.4,1219.0 601.1,1217.9 602.8,1216.5 604.6,1215.4 606.3,1214.6 608.1,1213.6 609.8,1212.6 611.6,1211.9 613.4,1211.0 615.1,1209.9 616.9,1209.1 618.7,1208.3 620.4,1207.3 622.2,1206.4 624.0,1205.6 625.8,1204.7 627.6,1203.7 629.3,1202.7 631.1,1201.8 632.9,1201.0 634.7,1199.9 636.5,1199.0 638.2,1198.3 640.0,1197.4 641.8,1196.2 643.5,1194.9 645.3,1193.8 647.1,1192.9 648.8,1192.1 650.6,1191.4 652.3,1190.4 654.1,1189.4 655.8,1188.5 657.6,1187.4 659.3,1186.5 661.0,1185.7 662.7,1184.9 664.5,1183.7 666.2,1182.5 667.9,1181.4 669.6,1180.4 671.4,1179.4 673.1,1178.5 674.8,1177.5 676.5,1176.3 678.2,1175.3 679.9,1174.5 681.6,1173.5 683.4,1172.3 685.1,1171.1 686.8,1170.2 688.5,1169.3 690.2,1168.3 691.8,1167.0 693.5,1165.7 695.2,1164.5 696.9,1163.5 698.6,1162.5 700.2,1161.6 701.9,1160.6 703.6,1159.3 705.2,1158.0 706.9,1156.9 708.5,1155.6 710.2,1154.4 711.8,1153.4 713.4,1152.6 715.0,1151.6 716.7,1150.4 718.3,1149.1 719.8,1147.8 721.4,1146.5 723.0,1145.1 724.6,1144.0 726.1,1143.0 727.7,1141.6 729.2,1140.1 730.8,1138.9 732.3,1137.8 733.9,1136.5 735.4,1135.2 737.0,1133.6 738.5,1132.3 740.0,1131.2 741.6,1130.1 743.1,1128.7 744.7,1127.4 746.2,1126.2 747.8,1124.8 749.3,1123.7 750.9,1122.5 752.5,1121.3 754.0,1120.2 755.6,1118.9 757.2,1117.5 758.7,1116.2 760.3,1115.1 761.9,1114.0 763.4,1112.9 765.0,1111.5 766.6,1110.0 768.1,1108.6 769.7,1107.3 771.3,1106.0 772.8,1104.8 774.4,1103.6 776.0,1102.5 777.5,1101.2 779.1,1099.9 780.7,1098.6 782.3,1097.2 783.8,1095.9 785.4,1094.7 787.0,1093.6 788.6,1092.7 790.2,1091.4 791.8,1090.0 793.4,1088.9 795.0,1087.7 796.6,1086.5 798.2,1085.4 799.8,1084.1 801.5,1082.9 803.1,1081.8 804.7,1080.8 806.4,1079.5 808.0,1078.4 809.7,1077.4 811.3,1076.2 813.0,1075.1 814.7,1074.2 816.4,1073.1 818.1,1071.9 819.8,1070.9 821.5,1070.1 823.2,1069.2 824.9,1068.0 826.6,1067.0 828.3,1066.1 830.1,1064.8 831.8,1063.6 833.5,1062.5 835.3,1061.4 837.0,1060.5 838.7,1059.7 840.5,1058.9 842.2,1058.1 844.0,1057.1 845.7,1056.0 847.5,1054.9 849.2,1054.0 851.0,1053.2 852.7,1052.2 854.5,1051.1 856.3,1050.0 858.0,1048.8 859.8,1047.8 861.5,1046.8 863.3,1046.0 865.1,1045.1 866.8,1044.1 868.6,1043.3 870.4,1042.4 872.2,1041.5 874.0,1040.4 875.8,1039.2 877.6,1038.4 879.4,1037.8 881.2,1037.1 883.0,1036.2 884.8,1035.3 886.6,1034.5 888.5,1034.0 890.3,1033.3 892.2,1032.5 894.0,1031.8 895.9,1031.1 897.8,1030.6 899.7,1030.1 901.6,1029.6 903.5,1029.1 905.4,1028.8 907.3,1028.3 909.3,1027.7 911.2,1027.1 913.2,1026.7 915.1,1026.4 917.1,1026.0 919.1,1025.5 921.0,1025.0 923.0,1024.8 925.0,1024.5 926.9,1023.9 928.9,1023.2 930.9,1022.9 932.9,1022.8 934.8,1022.3 936.8,1021.7 938.8,1021.5 940.7,1021.3 942.7,1020.6 944.6,1019.8 946.6,1019.4 948.5,1019.2 950.4,1018.6 952.4,1017.8 954.3,1017.2 956.2,1016.8 958.1,1016.3 960.1,1015.6 962.0,1015.1 963.9,1014.8 965.8,1014.3 967.7,1013.6 969.6,1013.0 971.5,1012.2 973.4,1011.4 975.3,1010.7 977.2,1010.1 979.1,1009.5 981.0,1009.2 982.9,1008.8 984.8,1008.3 986.7,1007.5 988.6,1006.6 990.5,1005.9 992.4,1005.2 994.3,1004.4 996.2,1003.9 998.1,1003.4 1000.0,1003.0 1001.9,1002.6 1003.8,1001.7 1005.7,1000.8 1007.6,1000.0 1009.5,999.2 1011.4,998.7 1013.3,998.1 1015.2,997.6 1017.1,997.0 1019.0,996.5 1020.9,995.9 1022.8,995.2 1024.7,994.3 1026.6,993.7 1028.5,993.4 1030.4,992.7 1032.3,992.0 1034.2,991.3 1036.0,990.3 1037.9,989.6 1039.8,989.2 1041.7,988.6 1043.6,987.8 1045.5,987.2 1047.4,986.8 1049.3,986.0 1051.2,985.1 1053.1,984.4 1054.9,983.9 1056.8,983.6 1058.7,983.2 1060.6,982.4 1062.5,981.4 1064.4,980.7 1066.3,980.1 1068.2,979.4 1070.1,978.8 1072.0,978.2 1073.9,977.6 1075.8,977.0 1077.7,976.6 1079.6,976.0 1081.5,975.0 1083.4,974.3 1085.3,973.8 1087.2,973.4 1089.1,972.9 1091.1,972.5 1093.0,972.1 1094.9,971.4 1096.8,970.7 1098.7,970.0 1100.6,969.4 1102.6,969.0 1104.5,968.2 1106.4,967.3 1108.3,966.9 1110.2,966.6 1112.2,966.2 1114.1,965.5 1116.0,964.8 1117.9,964.4 1119.8,963.8 1121.7,963.1 1123.7,962.5 1125.6,962.0 1127.5,961.5 1129.4,961.0 1131.3,960.5 1133.2,959.9 1135.1,959.0 1137.0,958.2 1138.9,957.7 1140.8,957.2 1142.7,956.6 1144.6,956.0 1146.5,955.4 1148.4,954.8 1150.3,954.1 1152.2,953.3 1154.1,952.6 1156.0,952.1 1157.9,951.6 1159.8,951.0 1161.7,950.3 1163.6,949.5 1165.5,948.8 1167.4,948.2 1169.3,947.4 1171.1,946.7 1173.0,946.2 1174.9,945.6 1176.8,944.9 1178.7,944.4 1180.6,943.7 1182.5,942.9 1184.4,942.2 1186.3,941.8 1188.2,941.3 1190.1,940.5 1192.0,939.5 1193.9,939.0 1195.8,938.5 1197.7,937.9 1199.6,937.5 1201.5,936.9 1203.4,936.0 1205.3,935.5 1207.2,935.0 1209.1,934.4 1211.0,933.6 1212.9,933.1 1214.8,932.7 1216.8,932.3 1218.7,931.8 1220.6,931.2 1222.5,930.6 1224.5,930.1 1226.4,929.5 1228.3,928.9 1230.3,928.3 1232.2,927.8 1234.1,927.3 1236.1,926.7 1238.0,926.1 1240.0,925.6 1241.9,925.2 1243.8,924.6 1245.8,924.1 1247.7,923.5 1249.6,923.0 1251.5,922.7 1253.5,922.2 1255.4,921.3 1257.3,920.7 1259.2,920.1 1261.1,919.5 1263.0,918.9 1265.0,918.3 1266.9,917.7 1268.8,917.1 1270.7,916.4 1272.7,916.1 1274.6,916.0 1276.6,915.8 1278.5,915.6 1280.5,915.6 1282.5,915.4 1284.4,914.8 1286.4,914.5 1288.4,914.3 1290.4,914.3 1292.4,914.1 1294.4,913.9 1296.4,913.9 1298.4,914.0 1300.4,913.8 1302.4,913.6 1304.4,913.5 1306.4,913.3 1308.4,913.2 1310.4,913.3 1312.5,913.2 1314.5,912.9 1316.5,912.9 1318.5,912.8 1320.5,912.6 1322.5,912.5 1324.5,912.4 1326.5,912.3 1328.5,912.0 1330.5,911.8 1332.5,911.9 1334.5,911.9 1336.5,911.6 1338.5,911.5 1340.5,911.3 1342.5,911.2 1344.4,911.1 1346.4,910.6 1348.4,910.1 1350.3,910.1 1352.3,909.9 1354.2,909.4 1356.2,908.8 1358.1,908.4 1360.0,908.0 1362.0,907.6 1363.9,907.1 1365.8,906.5 1367.8,906.0 1369.7,905.5 1371.6,905.0 1373.6,904.3 1375.5,903.6 1377.4,903.0 1379.4,902.4 1381.3,901.9 1383.2,901.4 1385.2,900.5 1387.1,899.7 1389.0,899.4 1391.0,899.3 1392.9,898.9 1394.9,898.4 1396.8,897.9 1398.8,897.4 1400.7,897.0 1402.7,896.7 1404.7,896.4 1406.6,896.3 1408.6,896.3 1410.6,895.9 1412.5,895.2 1414.5,894.7 1416.5,894.3 1418.5,893.8 1420.4,893.6 1422.4,893.6 1424.4,893.6 1426.4,893.3 1428.4,892.8 1430.4,892.5 1432.3,892.3 1434.3,892.1 1436.3,891.9 1438.3,891.7 1440.3,891.4 1442.3,891.1 1444.3,890.8 1446.2,890.5 1448.2,890.3 1450.2,890.0 1452.2,889.8 1454.2,889.6 1456.2,889.4 1458.2,889.0 1460.2,888.7 1462.2,888.6 1464.2,888.2 1466.1,887.9 1468.1,888.1 1470.1,887.9 1472.1,887.3 1474.1,887.1 1476.1,887.1 1478.1,886.8 1480.1,886.7 1482.1,886.5 1484.1,886.4 1486.0,886.2 1488.0,885.8 1490.0,885.5 1492.0,885.5 1494.0,885.5 1496.0,885.5 1498.0,885.5 1500.0,885.4 1502.0,885.1 1504.0,884.9 1506.0,884.7 1508.0,884.3 1510.0,884.1 1512.0,884.0 1514.0,883.9 1516.0,883.9 1518.0,883.6 1520.0,883.3 1522.0,883.4 1523.9,883.6 1525.9,883.5 1527.9,883.2 1529.9,882.9 1531.9,882.5 1533.9,882.3 1535.9,882.3 1537.9,882.0 1539.9,881.7 1541.9,881.7 1543.9,881.9 1545.9,881.7 1547.9,881.4 1549.9,881.2 1551.9,880.9 1553.9,880.7 1555.9,880.6 1557.9,880.5 1559.9,880.6 1562.0,880.4 1564.0,880.1 1566.0,879.9 1568.0,879.6 1570.0,879.5 1572.0,879.4 1574.0,879.2 1575.9,878.9 1577.9,878.3 1579.9,877.9 1581.8,877.7 1583.8,877.5 1585.7,877.3 1587.7,877.1 1589.6,876.6 1591.5,875.9 1593.3,875.3 1595.2,874.6 1597.0,873.7 1598.9,872.7 1600.7,871.7 1602.5,870.8 1604.4,869.8 1606.2,868.8 1608.0,868.0 1609.9,867.3 1611.8,866.9 1613.6,866.5 1615.6,866.1 1617.5,865.7 1619.4,865.6 1621.4,865.5 1623.3,865.5 1625.3,865.6 1627.2,865.6 1629.2,865.4 1631.2,864.9 1633.2,864.6 1635.2,864.6 1637.2,864.7 1639.2,864.6 1641.2,864.5 1643.2,864.6 1645.3,864.7 1647.3,864.6 1649.3,864.6 1651.3,864.7 1653.4,864.4 1655.4,864.2 1657.4,864.0 1659.4,863.9 1661.5,864.0 1663.5,864.1 1665.5,864.0 1667.5,863.8 1669.5,863.9 1671.5,864.0 1673.5,863.8 1675.5,863.5 1677.5,863.3 1679.5,863.3 1681.5,863.3 1683.5,863.2 1685.5,863.0 1687.5,863.0 1689.5,862.7 1691.5,862.4 1693.5,862.3 1695.5,862.3 1697.5,862.6 1699.5,862.6 1701.5,862.3 1703.5,861.8 1705.4,861.2 1707.4,861.1 1709.4,861.2 1711.4,860.7 1713.4,860.0 1715.3,859.7 1717.3,859.5 1719.3,859.3 1721.3,858.9 1723.3,858.6 1725.3,858.7 1727.3,858.9 1729.2,858.9 1731.2,858.7 1733.2,858.8 1735.2,859.1 1737.2,859.1 1739.2,858.9 1741.2,859.0 1743.2,859.3 1745.2,859.3 1747.2,859.3 1749.2,859.3 1751.2,859.2 1753.2,859.3 1755.2,859.4 1757.2,859.5 1759.2,859.5 1761.2,859.6 1763.2,859.6 1765.2,859.5 1767.2,859.7 1769.2,859.6 1771.3,859.6 1773.3,859.8 1775.3,859.8 1777.3,859.5 1779.3,859.3 1781.3,859.4 1783.3,859.7 1785.3,859.9 1787.3,859.9 1789.3,859.8 1791.3,859.7 1793.3,859.7 1795.3,859.6 1797.3,859.5 1799.3,859.7 1801.3,859.7 1803.3,859.8 1805.3,859.9 1807.3,859.6 1809.3,859.3 1811.3,859.4 1813.3,859.4 1815.3,859.6 1817.3,859.5 1819.3,859.3 1821.3,859.3 1823.3,859.3 1825.3,859.2 1827.3,859.1 1829.3,859.1 1831.3,859.2 1833.3,859.2 1835.3,859.1 1837.3,859.1 1839.3,859.1 1841.3,858.8 1843.3,858.8 1845.3,858.7 1847.3,858.6 1849.3,858.6 1851.3,858.5 1853.3,858.6 1855.3,858.6 1857.3,858.3 1859.3,858.1 1861.3,858.1 1863.2,858.1 1865.2,857.9 1867.2,857.6 1869.2,857.6 1871.2,857.5 1873.2,857.1 1875.1,856.7 1877.1,856.4 1879.1,856.3 1881.1,856.0 1883.0,855.9 1885.0,855.8 1887.0,855.0 1889.0,854.5 1890.9,854.3 1892.9,853.8 1894.9,853.5 1896.8,853.2 1898.8,852.9 1900.8,852.6 1902.8,852.2 1904.7,851.7 1906.7,851.2 1908.7,850.7 1910.6,850.6 1912.6,850.5 1914.6,850.0 1916.6,849.6 1918.5,849.2 1920.5,848.8 1922.5,848.5 1924.5,848.1 1926.5,847.5 1928.4,847.4 1930.4,847.6 1932.4,847.6 1934.4,847.3 1936.4,846.8 1938.4,846.1 1940.3,845.8 1942.3,846.1 1944.3,845.9 1946.3,845.3 1948.3,845.1 1950.3,845.0 1952.3,844.7 1954.2,844.4 1956.2,844.3 1958.2,844.1 1960.2,843.7 1962.2,843.5 1964.2,843.3 1966.2,843.2 1968.2,843.1 1970.2,843.0 1972.2,842.7 1974.1,842.2 1976.1,842.0 1978.1,842.1 1980.1,842.1 1982.1,841.9 1984.1,841.5 1986.1,841.5 1988.1,841.6 1990.1,841.2 1992.1,840.6 1994.1,840.4 1996.1,840.5 1998.1,840.5 2000.1,840.2 2002.1,840.2 2004.0,840.2 2006.0,840.1 2008.0,839.8 2010.0,839.4 2012.0,839.3 2014.0,839.2 2016.0,839.1 2018.0,839.2 2020.0,839.2 2022.0,838.8 2024.0,838.5 2026.0,838.5 2028.0,838.5 2030.0,838.7 2032.0,839.1 2034.0,839.2 2036.0,838.9 2038.0,839.0 2040.0,839.4 2042.1,839.4 2044.1,839.2 2046.1,839.3 2048.1,839.6 2050.1,839.7 2052.1,839.8 2054.1,840.0 2056.1,840.1 2058.1,840.0 2060.1,840.0 2062.1,840.2 2064.1,840.2 2066.1,840.1 2068.1,840.2 2070.1,840.4 2072.1,840.7 2074.1,840.9 2076.0,840.9 2078.0,841.1 2080.0,841.5 2081.9,841.8 2083.9,841.9 2085.9,841.9 2087.8,842.1 2089.8,842.6 2091.8,843.0 2093.8,843.4 2095.7,843.8 2097.7,844.3 2099.7,844.9 2101.6,845.5 2103.6,846.0 2105.5,846.5 2107.5,847.2 2109.4,848.0 2111.3,848.8 2113.2,849.4 2115.1,849.9 2117.0,850.4 2118.9,851.1 2120.7,851.9 2122.5,852.6 2124.4,853.2 2126.1,853.9 2127.9,854.8 2129.7,855.9 2131.5,856.8 2133.3,857.7 2135.0,858.8 2136.8,859.9 2138.5,861.1 2140.2,862.4 2141.8,863.4 2143.4,864.5 2145.0,865.7 2146.5,866.9 2148.0,868.3 2149.4,869.9 2150.7,871.5 2151.9,873.5 2153.2,875.7 2154.4,877.9 2155.6,879.9 2156.8,881.9 2158.0,883.7 2159.2,885.4 2160.6,886.2 2161.9,886.5 2163.4,887.2 2165.0,888.2 2166.6,888.6 2168.4,886.8 2170.3,886.1 2172.2,887.5 2174.2,886.5 2176.3,884.9 2178.3,885.2 2180.5,885.9 2182.6,887.7 2184.8,889.2 2186.9,888.5 2189.0,888.1 2191.1,887.8 2193.1,886.1 2195.1,886.3 2197.1,888.2 2199.0,887.8 2200.9,887.5 2202.8,888.6 2204.6,888.9 2206.5,890.2 2208.4,892.1 2210.2,892.7 2212.1,893.4 2214.0,895.0 2215.8,895.9 2217.7,893.9 2219.6,893.2 2221.5,895.6 2223.5,898.4 2225.4,899.9 2227.4,898.8 2229.3,897.7 2231.3,898.1 2233.3,898.0 2235.3,897.3 2237.3,896.1 2239.4,896.7 2241.4,897.3 2243.4,895.8 2245.4,895.6 2247.4,896.8 2249.4,897.0 2251.4,896.7 2253.4,896.8 2255.4,896.8 2257.4,895.5 2259.3,894.7 2261.3,894.7 2263.3,894.0 2265.3,894.0 2267.3,895.1 2269.2,894.1 2271.2,891.5 2273.2,890.2 2275.2,891.0 2277.1,892.3 2279.1,892.5 2281.1,892.8 2283.0,893.1 2285.0,891.2 2287.0,889.4 2288.9,890.0 2290.9,890.8 2292.9,890.5 2294.8,890.2 2296.8,890.6 2298.8,890.7 2300.7,889.8 2302.7,888.1 2304.7,887.5 2306.0,887.4" fill="none" stroke="#a52a2a" stroke-width="10.2" stroke-linecap="square" stroke-linejoin="round"/>
</g>
<rect x="235.0" y="65.0" width="2134.5" height="1479.0" fill="none" stroke="#303030" stroke-width="3.0" stroke-linejoin="miter"/>
<path d="M360.7,1544.0 v10.5 M611.7,1544.0 v10.5 M862.8,1544.0 v10.5 M1113.8,1544.0 v10.5 M1364.9,1544.0 v10.5 M1615.9,1544.0 v10.5 M1866.9,1544.0 v10.5 M2118.0,1544.0 v10.5 M2369.0,1544.0 v10.5 M235.0,1544.0 h-10.5 M235.0,1248.2 h-10.5 M235.0,952.4 h-10.5 M235.0,656.6 h-10.5 M235.0,360.8 h-10.5 M235.0,65.0 h-10.5" stroke="#303030" stroke-width="3.0" fill="none"/>
<g font-family="'DejaVu Sans', 'Liberation Sans', sans-serif" font-size="74.5" fill="#000" text-anchor="middle">
<text x="360.7" y="1620.6">400</text>
<text x="611.7" y="1620.6">500</text>
<text x="862.8" y="1620.6">600</text>
<text x="1113.8" y="1620.6">700</text>
<text x="1364.9" y="1620.6">800</text>
<text x="1615.9" y="1620.6">900</text>
<text x="1866.9" y="1620.6">1000</text>
<text x="2118.0" y="1620.6">1100</text>
<text x="2369.0" y="1620.6">1200</text>
</g>
<g font-family="'DejaVu Sans', 'Liberation Sans', sans-serif" font-size="74.5" fill="#000" text-anchor="end">
<text x="216.0" y="1573.0">0.0</text>
<text x="216.0" y="1277.2">0.2</text>
<text x="216.0" y="981.4">0.4</text>
<text x="216.0" y="685.6">0.6</text>
<text x="216.0" y="389.8">0.8</text>
<text x="216.0" y="94.0">1.0</text>
</g>
<text x="1301.5" y="1696.5" font-family="'DejaVu Sans', 'Liberation Sans', sans-serif" font-size="66.3" fill="#000" text-anchor="middle">Wavelength (nm)</text>
<text transform="translate(72.3,1050.8) rotate(-90)" font-family="'DejaVu Sans', 'Liberation Sans', sans-serif" font-size="67.4" fill="#000"><tspan x="0" y="0">Reflectance </tspan><tspan x="414.8" y="0">(</tspan><tspan x="434.6" y="3.4" font-size="74">–</tspan><tspan x="465.7" y="0">)</tspan></text>
<rect x="277.1" y="106.2" width="811.8" height="800.3" fill="#ffffff" fill-opacity="0.8" stroke="#d9d9d9" stroke-width="3"/>
<path d="M310.2,173.4 H475.0" stroke="#ff7f50" stroke-width="10.2" stroke-linecap="square"/>
<text font-family="'DejaVu Sans', 'Liberation Sans', sans-serif" fill="#000">
<tspan x="541.70" y="202.52" font-size="82.00" font-style="oblique">R</tspan>
<tspan x="598.68" y="215.98" font-size="57.40" font-style="oblique">v</tspan>
<tspan x="632.64" y="215.98" font-size="57.40" font-style="oblique">e</tspan>
<tspan x="667.96" y="215.98" font-size="57.40" font-style="oblique">g</tspan>
<tspan x="733.82" y="215.98" font-size="57.40" font-style="oblique">s</tspan>
<tspan x="763.73" y="215.98" font-size="57.40" font-style="oblique">h</tspan>
<tspan x="800.11" y="215.98" font-size="57.40" font-style="oblique">a</tspan>
<tspan x="835.28" y="215.98" font-size="57.40" font-style="oblique">d</tspan>
<tspan x="871.72" y="215.98" font-size="57.40" font-style="oblique">e</tspan>
<tspan x="907.03" y="215.98" font-size="57.40" font-style="oblique">d</tspan>
<tspan x="704.39" y="215.98" font-size="57.40">,</tspan>
</text>
<path d="M310.2,303.7 H475.0" stroke="#32cd32" stroke-width="10.2" stroke-linecap="square"/>
<text font-family="'DejaVu Sans', 'Liberation Sans', sans-serif" fill="#000">
<tspan x="541.70" y="332.82" font-size="82.00" font-style="oblique">R</tspan>
<tspan x="598.68" y="346.28" font-size="57.40" font-style="oblique">v</tspan>
<tspan x="632.64" y="346.28" font-size="57.40" font-style="oblique">e</tspan>
<tspan x="667.96" y="346.28" font-size="57.40" font-style="oblique">g</tspan>
<tspan x="733.82" y="346.28" font-size="57.40" font-style="oblique">t</tspan>
<tspan x="756.33" y="346.28" font-size="57.40" font-style="oblique">o</tspan>
<tspan x="791.45" y="346.28" font-size="57.40" font-style="oblique">t</tspan>
<tspan x="813.95" y="346.28" font-size="57.40" font-style="oblique">a</tspan>
<tspan x="849.13" y="346.28" font-size="57.40" font-style="oblique">l</tspan>
<tspan x="704.39" y="346.28" font-size="57.40">,</tspan>
</text>
<path d="M310.2,434.0 H475.0" stroke="#adff2f" stroke-width="10.2" stroke-linecap="square"/>
<text font-family="'DejaVu Sans', 'Liberation Sans', sans-serif" fill="#000">
<tspan x="541.70" y="463.12" font-size="82.00" font-style="oblique">R</tspan>
<tspan x="598.68" y="476.58" font-size="57.40" font-style="oblique">e</tspan>
<tspan x="633.99" y="476.58" font-size="57.40" font-style="oblique">f</tspan>
<tspan x="654.20" y="476.58" font-size="57.40" font-style="oblique">f</tspan>
<tspan x="703.83" y="476.58" font-size="57.40" font-style="oblique">v</tspan>
<tspan x="737.80" y="476.58" font-size="57.40" font-style="oblique">e</tspan>
<tspan x="773.12" y="476.58" font-size="57.40" font-style="oblique">g</tspan>
<tspan x="838.98" y="476.58" font-size="57.40" font-style="oblique">s</tspan>
<tspan x="868.89" y="476.58" font-size="57.40" font-style="oblique">u</tspan>
<tspan x="905.27" y="476.58" font-size="57.40" font-style="oblique">n</tspan>
<tspan x="941.65" y="476.58" font-size="57.40" font-style="oblique">l</tspan>
<tspan x="957.59" y="476.58" font-size="57.40" font-style="oblique">i</tspan>
<tspan x="973.54" y="476.58" font-size="57.40" font-style="oblique">t</tspan>
<tspan x="674.41" y="476.58" font-size="57.40">,</tspan>
<tspan x="809.55" y="476.58" font-size="57.40">,</tspan>
</text>
<path d="M310.2,564.3 H475.0" stroke="#006400" stroke-width="10.2" stroke-linecap="square"/>
<text font-family="'DejaVu Sans', 'Liberation Sans', sans-serif" fill="#000">
<tspan x="541.70" y="593.42" font-size="82.00" font-style="oblique">R</tspan>
<tspan x="598.68" y="606.88" font-size="57.40" font-style="oblique">e</tspan>
<tspan x="633.99" y="606.88" font-size="57.40" font-style="oblique">f</tspan>
<tspan x="654.20" y="606.88" font-size="57.40" font-style="oblique">f</tspan>
<tspan x="703.83" y="606.88" font-size="57.40" font-style="oblique">v</tspan>
<tspan x="737.80" y="606.88" font-size="57.40" font-style="oblique">e</tspan>
<tspan x="773.12" y="606.88" font-size="57.40" font-style="oblique">g</tspan>
<tspan x="838.98" y="606.88" font-size="57.40" font-style="oblique">s</tspan>
<tspan x="868.89" y="606.88" font-size="57.40" font-style="oblique">h</tspan>
<tspan x="905.27" y="606.88" font-size="57.40" font-style="oblique">a</tspan>
<tspan x="940.44" y="606.88" font-size="57.40" font-style="oblique">d</tspan>
<tspan x="976.88" y="606.88" font-size="57.40" font-style="oblique">e</tspan>
<tspan x="1012.19" y="606.88" font-size="57.40" font-style="oblique">d</tspan>
<tspan x="674.41" y="606.88" font-size="57.40">,</tspan>
<tspan x="809.55" y="606.88" font-size="57.40">,</tspan>
</text>
<path d="M310.2,694.6 H475.0" stroke="#ffd700" stroke-width="10.2" stroke-linecap="square"/>
<text font-family="'DejaVu Sans', 'Liberation Sans', sans-serif" fill="#000">
<tspan x="541.70" y="723.72" font-size="82.00" font-style="oblique">R</tspan>
<tspan x="598.68" y="737.18" font-size="57.40" font-style="oblique">v</tspan>
<tspan x="632.64" y="737.18" font-size="57.40" font-style="oblique">e</tspan>
<tspan x="667.96" y="737.18" font-size="57.40" font-style="oblique">g</tspan>
<tspan x="733.82" y="737.18" font-size="57.40" font-style="oblique">s</tspan>
<tspan x="763.73" y="737.18" font-size="57.40" font-style="oblique">u</tspan>
<tspan x="800.11" y="737.18" font-size="57.40" font-style="oblique">n</tspan>
<tspan x="836.49" y="737.18" font-size="57.40" font-style="oblique">l</tspan>
<tspan x="852.44" y="737.18" font-size="57.40" font-style="oblique">i</tspan>
<tspan x="868.38" y="737.18" font-size="57.40" font-style="oblique">t</tspan>
<tspan x="704.39" y="737.18" font-size="57.40">,</tspan>
</text>
<path d="M310.2,824.9 H475.0" stroke="#a52a2a" stroke-width="10.2" stroke-linecap="square"/>
<text font-family="'DejaVu Sans', 'Liberation Sans', sans-serif" fill="#000">
<tspan x="541.70" y="854.02" font-size="82.00" font-style="oblique">R</tspan>
<tspan x="598.68" y="867.48" font-size="57.40" font-style="oblique">S</tspan>
<tspan x="635.11" y="867.48" font-size="57.40" font-style="oblique">o</tspan>
<tspan x="670.23" y="867.48" font-size="57.40" font-style="oblique">i</tspan>
<tspan x="686.18" y="867.48" font-size="57.40" font-style="oblique">l</tspan>
<tspan x="731.55" y="867.48" font-size="57.40" font-style="oblique">s</tspan>
<tspan x="761.46" y="867.48" font-size="57.40" font-style="oblique">u</tspan>
<tspan x="797.84" y="867.48" font-size="57.40" font-style="oblique">n</tspan>
<tspan x="834.22" y="867.48" font-size="57.40" font-style="oblique">l</tspan>
<tspan x="850.16" y="867.48" font-size="57.40" font-style="oblique">i</tspan>
<tspan x="866.11" y="867.48" font-size="57.40" font-style="oblique">t</tspan>
<tspan x="702.12" y="867.48" font-size="57.40">,</tspan>
</text>
</svg>
</body></html>
